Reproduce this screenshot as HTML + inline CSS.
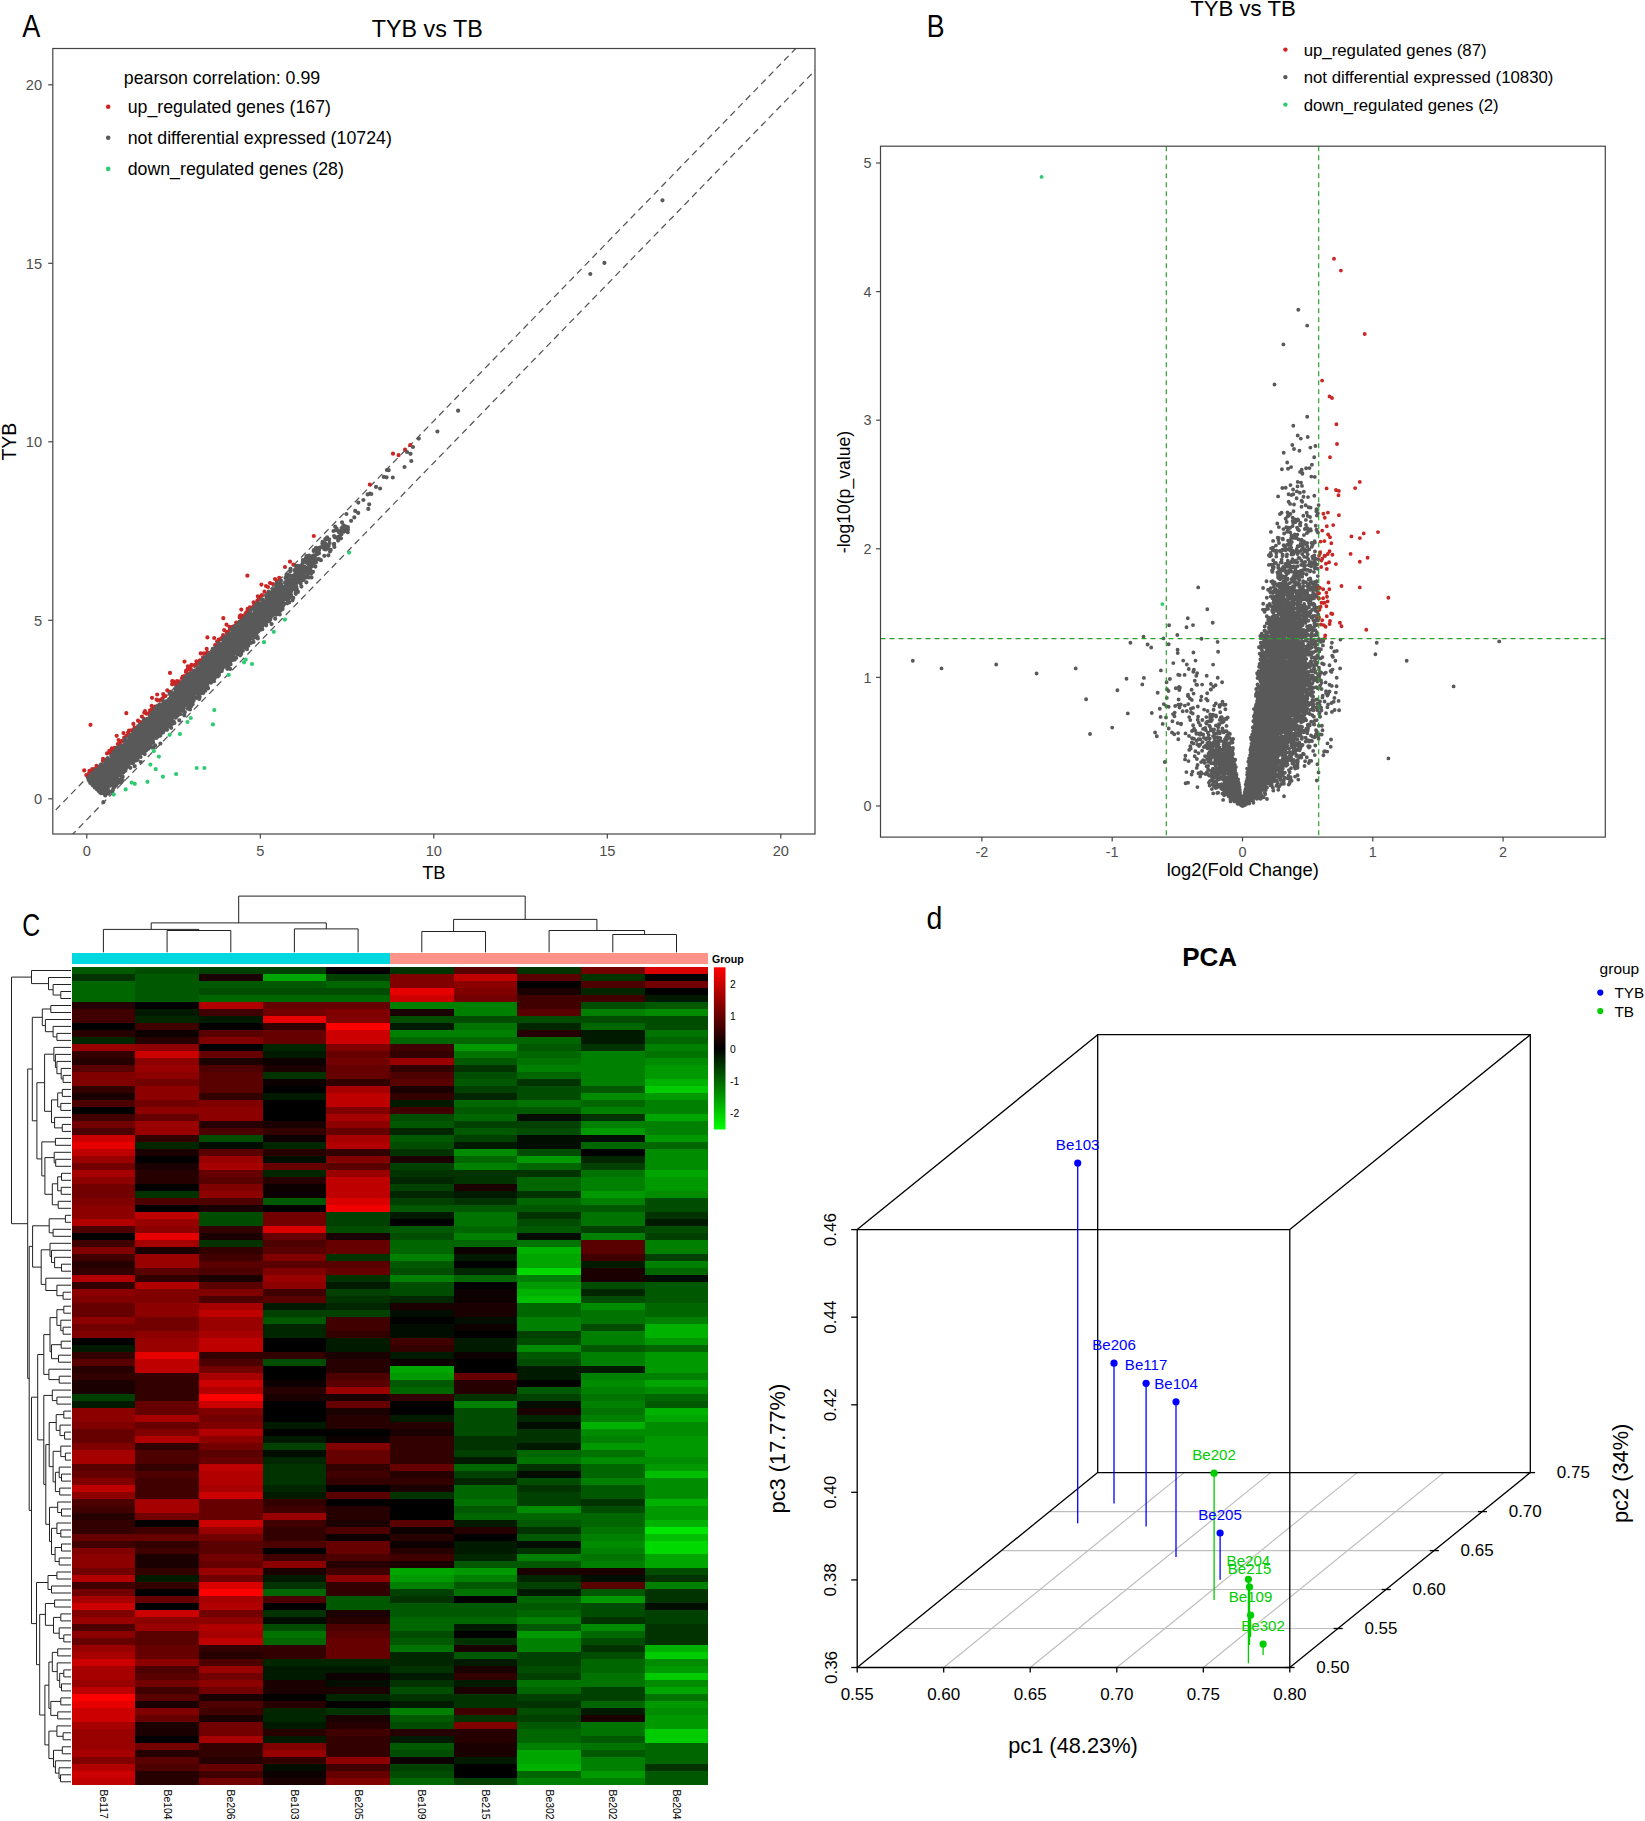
<!DOCTYPE html>
<html><head><meta charset="utf-8"><title>Figure</title><style>html,body{margin:0;padding:0;background:#fff}svg{display:block}svg text{font-family:"Liberation Sans",sans-serif}</style></head><body>
<svg width="1645" height="1821" viewBox="0 0 1645 1821" font-family="Liberation Sans, sans-serif">
<text transform="translate(22.3 36.8) scale(0.86 1)" font-size="31.5">A</text>
<text x="427.3" y="37" font-size="23.3" fill="#000" text-anchor="middle">TYB vs TB</text>
<clipPath id="ca"><rect x="52.8" y="48.5" width="762.2" height="785.5"/></clipPath>
<g clip-path="url(#ca)">
<line x1="17.4" y1="849.3" x2="884.9" y2="-43.2" stroke="#555" stroke-width="1.25" stroke-dasharray="6.5 4.5"/>
<line x1="17.4" y1="891.1" x2="884.9" y2="-1.4" stroke="#555" stroke-width="1.25" stroke-dasharray="6.5 4.5"/>
<path d="M196.9 663.1h0M241.3 609.6h0M223.1 635.1h0M123.5 733.1h0M138 720.7h0M240.1 617h0M86.3 775h0M231.5 627.2h0M227.6 631.9h0M169.4 691.9h0M140.4 722.2h0M133.4 723.9h0M131.2 730.3h0M165.3 696.1h0M174.6 684h0M184.2 676h0M261.9 595.1h0M224.2 630.1h0M196.7 663.9h0M260.8 596.3h0M124.9 738.1h0M114.7 747.8h0M194.5 665.2h0M94.3 769.1h0M93.2 771h0M177.6 683.3h0M167.3 690.4h0M247.6 608.9h0M197.6 662.2h0M177.6 683.6h0M172.1 684.3h0M129 730.7h0M84.2 770.4h0M120.4 741.9h0M206.7 648.8h0M122.3 740.9h0M152.2 710.1h0M87.5 776.8h0M233.7 626.3h0M113.7 748.8h0M134.2 728.7h0M240.8 615.3h0M177.1 684.6h0M236.2 622.6h0M199.8 660.7h0M217.1 641.4h0M103 760.8h0M182 678.3h0M173.2 681.4h0M239.7 617.4h0M150.4 711.2h0M190.8 666.6h0M96.5 765.8h0M155.3 706.7h0M141.9 716.5h0M113.4 750h0M229.4 626.8h0M151.6 705.9h0M258.9 598h0M190.9 669.6h0M191.5 664.8h0M199.6 661.2h0M206.1 653.7h0M111.9 748.3h0M163.6 696.1h0M128.3 732.8h0M152 697.8h0M103.1 758.9h0M257.9 601h0M124.2 737.5h0M204 653.3h0M139.9 722.6h0M239.7 616.4h0M200.7 653.4h0M109.2 752.5h0M236.3 623.5h0M253.8 605.1h0M246.3 612.3h0M186.8 672.8h0M112 750.3h0M118.6 740.1h0M249.9 607.3h0M184.3 676.6h0M118.8 744.6h0M243 616.2h0M200.1 660.3h0M185.9 671.9h0M153 708.5h0M156.6 699.6h0M128.1 732.7h0M92.2 769.1h0M240 615.9h0M169.6 692.3h0M182.7 676.6h0M143.7 718.6h0M218.8 639.5h0M89.4 770.9h0M152.1 709h0M91.9 771.5h0M107 753.4h0M257.4 600.7h0M203 657.4h0M162.1 698.9h0M178.8 681.4h0M241.2 618.4h0M146.7 713.7h0M187.9 666.4h0M207.3 652.4h0M149.7 712.7h0M177 681.2h0M222 637.9h0M247.7 611.8h0M113.5 749.8h0M252 607.5h0M87.2 775.9h0M219.2 639.4h0M230 629.6h0M109.4 750.8h0M160 700.2h0M230.7 628.6h0M88.5 774h0M196.4 661.3h0M226.8 632.7h0M176.9 683.3h0M215.1 645.1h0M126.6 735.8h0M116.7 735.8h0M150.1 710.3h0M117.8 744h0M145 711.2h0M254.5 604.7h0M186.1 670.7h0M144.3 712.7h0M134.6 727.7h0M253.6 602.4h0M163.2 694.1h0M257.8 596.3h0M176.8 682.3h0M179 682.5h0M245.4 614.1h0M214.2 638h0M187.6 669.7h0M157.2 694.5h0M241.2 616.5h0M157.8 700.5h0M250.1 609.4h0M264.5 591.7h0M276.8 581.1h0M279.2 577.8h0M293.4 564.7h0M261.4 584.6h0M266 586h0M270 583h0M273 584h0M275 579h0M268 587h0M285 567h0M90.5 724.8h0M126.3 713.2h0M247.4 575.7h0M223.3 618.2h0M226.5 624.7h0M207.4 637.4h0M184.5 661.6h0M170 672.9h0M172.2 681.2h0M313.8 536h0M290 561.7h0M369.8 484.5h0M393 453.7h0M398.6 455.2h0M405.1 449.7h0M410.2 445.1h0" stroke="#cb2626" stroke-width="4.2" stroke-linecap="round" fill="none"/>
<path d="M204.5 672.5h0M168.3 722.7h0M160.3 735.6h0M161.7 723.8h0M101.5 784.1h0M229.5 659.3h0M183.9 707.9h0M151.5 723.5h0M181.2 703.3h0M211.1 679.2h0M221 654.9h0M236.5 642.7h0M151 723h0M118 768h0M205 660.6h0M252.3 635.8h0M121.6 768.5h0M204 674.7h0M223.7 659.3h0M230.3 635.9h0M118.9 773.5h0M110.8 775.2h0M245 629.8h0M109.9 766.3h0M117.5 755.1h0M181.1 694.7h0M211.1 670.1h0M122.7 756.1h0M231.4 639.1h0M128.6 753.8h0M213.4 666.4h0M106.2 778.1h0M169.2 714.6h0M103.2 786.1h0M144.3 739.5h0M147.8 743.5h0M203.3 671.7h0M169.9 721.1h0M95.1 770.1h0M240.7 623.1h0M226.6 642.2h0M235.7 642.9h0M134.2 750.2h0M150.1 720h0M128.3 750.4h0M111.2 765.1h0M101.8 784.5h0M167.5 703.3h0M116 770.6h0M120.8 758.7h0M232.8 657.5h0M171 712.9h0M120.5 756.1h0M198.7 682.8h0M136.6 746.7h0M172.2 700.7h0M137.9 742.6h0M168.8 700.6h0M199.7 696.9h0M174.4 700.1h0M153 722.5h0M221.4 667.9h0M233.2 653.9h0M118.4 755.3h0M119 769.6h0M113.9 771.6h0M242.5 629.8h0M240.1 639.4h0M127.8 748.7h0M246.4 637h0M125 753h0M167.9 702.8h0M169.4 707.1h0M242.9 650.7h0M97.9 778.1h0M142.4 736.9h0M189.7 695.6h0M99.1 771.2h0M137 756.3h0M158.6 706.3h0M231.9 650.2h0M205.2 660.7h0M221.7 656.1h0M216 671.8h0M202.6 674.8h0M223.5 651.4h0M196.9 677.2h0M203.3 666.6h0M143.8 742.8h0M118.1 758.7h0M207.7 664.6h0M120.6 761.9h0M238.9 645.2h0M189.4 696.3h0M142 732.1h0M235.1 635.9h0M121 765.7h0M178.2 710.8h0M103.6 767.8h0M248.3 640.3h0M182 695.4h0M220.7 663h0M144 749.2h0M216.9 659.8h0M202.9 676.6h0M187.7 679.8h0M161.5 719.2h0M154.1 717.5h0M196.6 673.6h0M224.4 657h0M148.8 737.4h0M191.1 675h0M127.6 755.4h0M179 699.9h0M213.4 666.5h0M104.7 777.2h0M208.2 674.3h0M93.7 781.8h0M236.8 630.7h0M167.6 714.4h0M162.1 727.6h0M204.7 672.9h0M180.1 710h0M208.8 673.9h0M102.6 769h0M178.5 697.4h0M241.4 643.7h0M97.3 777.8h0M172.1 724h0M193.7 689.9h0M173.1 694.1h0M102.8 772.5h0M190.4 698.5h0M134.5 758.3h0M121 752.9h0M229.4 648.3h0M126.7 758h0M162.4 713.6h0M211.6 670.6h0M210 682.5h0M176.2 696.4h0M220.6 661.9h0M169.5 717.2h0M194.4 694h0M219.1 656.6h0M201.3 682.9h0M190.5 683.2h0M157.5 723.8h0M175.9 694.6h0M156.4 725.9h0M211 671.8h0M159.9 734.4h0M169.9 717.5h0M207.6 664.8h0M150.7 738.4h0M225.1 660.3h0M151.4 725.5h0M222.2 651.6h0M217.3 665.5h0M162.6 716h0M209.7 680.4h0M100.5 782.8h0M150.7 722h0M220.3 644.8h0M183.8 696h0M180.8 699.8h0M194.6 680.2h0M194.2 675.7h0M182 692.9h0M161.6 723.4h0M121 756.7h0M135.5 737.1h0M141.8 743.4h0M165.3 724h0M245.8 627.1h0M147 729.9h0M159.3 712.6h0M150.9 727.9h0M185.9 697.6h0M241.4 638.8h0M234.6 650.4h0M155.6 731h0M137.2 747h0M231.9 649h0M165.9 704.7h0M204 683.3h0M105.6 775.6h0M229.5 652.2h0M136.7 731.9h0M169.2 707.8h0M125.9 757.1h0M155.7 717.5h0M221.1 655.8h0M223.1 658h0M161.2 706.3h0M209.5 662.9h0M158.1 708h0M147.2 723.6h0M175.1 697.7h0M124.6 754.7h0M146.8 741.1h0M200.1 672.6h0M212.3 664.9h0M100.3 775.5h0M206.8 671.2h0M222.3 660.4h0M166.3 720.4h0M101.1 774.5h0M194.3 674.1h0M133 749.2h0M191.3 683.5h0M146.8 722.2h0M195.1 689.4h0M135 747.5h0M171.5 715.9h0M170.4 699.5h0M190.1 686.2h0M127 756.6h0M248.1 641.2h0M139.2 742h0M137.4 734.8h0M134.6 747.6h0M106 777.9h0M156.7 717.7h0M217.3 669.6h0M202.9 674.6h0M121.9 753.8h0M118 768.3h0M146.5 739.3h0M211.2 664.5h0M169.5 710.2h0M236.8 641.9h0M194.2 682.4h0M188.7 687.9h0M215.5 669.1h0M211.9 670.9h0M145.2 730.9h0M129.4 742.1h0M156.3 712.6h0M172.4 712.8h0M111.8 760.4h0M159.1 714.3h0M192.5 685.9h0M113.1 763.7h0M112.2 762h0M114.1 752.7h0M141.5 746.2h0M239.7 632.6h0M98.5 783.4h0M123.1 758.7h0M115.2 756.5h0M163.9 708.8h0M100.1 788.4h0M165.5 715.6h0M118.2 760.3h0M140.7 749.7h0M212.7 658.4h0M122.6 758.1h0M188.3 688.7h0M155.3 721.4h0M151.5 714h0M219.5 657.6h0M120.1 762.9h0M229.6 634.2h0M233.2 647.6h0M198.7 683.3h0M106.8 784.4h0M192 677.9h0M185.3 691h0M211 663h0M126.3 752.5h0M241.1 636.7h0M233.2 649.8h0M114.5 771.8h0M140.9 735.5h0M98.6 781.4h0M215.7 649.3h0M237.5 645.1h0M248 632.3h0M191.9 694.1h0M191.3 676.4h0M202.9 684.3h0M178.8 693.9h0M235.1 630.9h0M188 691.3h0M143 731.1h0M180.7 713.9h0M98.3 785.5h0M211.4 678.7h0M200.1 676.5h0M158.7 720.3h0M227.7 655.2h0M206.7 663.9h0M144.5 732.3h0M107.9 776.7h0M116.2 768h0M127.8 763.4h0M141.4 739.6h0M155 708.1h0M239.3 642.9h0M135.3 741.3h0M234.2 646.9h0M195.6 676.3h0M223.6 650.3h0M156.9 724h0M101.1 793.2h0M216.9 664.4h0M127.3 743.6h0M116.8 765.3h0M214.6 658.1h0M201.3 680.2h0M133.5 760.4h0M133.6 743h0M237.2 637.2h0M137.4 746.7h0M203.3 677.3h0M112.9 765.3h0M221.5 660.3h0M110.8 767h0M174.1 706.1h0M108.1 790.3h0M179.1 700.5h0M226.3 655.3h0M110.1 776.8h0M134.7 742h0M213.4 667.8h0M185.5 688.7h0M138.1 733.3h0M190.1 686.9h0M169.6 720.9h0M229.3 653.3h0M135.7 737.1h0M211.4 668.1h0M194.7 689.5h0M208.1 670.2h0M150.3 725.2h0M204.5 671.3h0M199 674h0M156.6 728.8h0M99.1 783.8h0M242.9 635.6h0M203.8 674.1h0M133.2 762.5h0M207.2 672.2h0M141.8 747.9h0M161 707.4h0M220.4 645h0M156.7 709.7h0M135.3 738.3h0M142.7 740.4h0M102.3 771.1h0M128.5 753h0M133.4 741.7h0M123.9 763h0M105.8 779.2h0M163.9 711.5h0M120.4 746.3h0M207.6 670.2h0M186.7 701.3h0M172 706.9h0M109 778.6h0M113.7 767.7h0M232 649h0M167.1 712.2h0M214.1 656h0M100.7 772.8h0M184.5 691.8h0M227 650h0M226.8 649.3h0M94.4 785.5h0M172.1 702.2h0M150.7 728.5h0M209 664.8h0M110.1 780.3h0M131.8 742h0M212.4 651.7h0M165.5 711.9h0M168.8 720.6h0M237.9 628.6h0M144.4 737.6h0M111.4 791.6h0M155.1 725.7h0M115.3 760.3h0M105.1 772.5h0M176.7 692.4h0M238.3 633.7h0M182.6 694.8h0M200.7 692.1h0M147.8 739.9h0M181.1 695.9h0M207.1 665.4h0M188.3 697.6h0M219.6 662.3h0M176.8 698h0M131.5 762.8h0M190.7 702.1h0M170.3 710.1h0M118.5 759.7h0M190.9 690.8h0M228 666.4h0M114.6 765.4h0M182.6 705.8h0M204.3 668.4h0M156.3 723.5h0M134.5 743.2h0M148.8 725.6h0M179.2 703.2h0M196.5 675.2h0M175.3 693.7h0M108.9 768.5h0M214.8 652.5h0M238.3 643.2h0M106.1 767.4h0M131.3 746.4h0M124.3 763.2h0M224.8 652.9h0M235.8 644.9h0M102.8 782h0M144.7 734h0M119.6 752.4h0M167.3 713.8h0M235.2 640.7h0M110.2 781.4h0M119.9 759.4h0M164.6 705.5h0M171.5 700.9h0M206.8 667.2h0M163.2 719.7h0M119.3 768.3h0M148.7 731.3h0M249.9 636.6h0M213.9 672.8h0M108.4 764.9h0M221.6 662.6h0M135.1 730.9h0M219.4 668.7h0M94.3 783.2h0M232.2 653.5h0M118.3 760.6h0M167.9 718.8h0M195.5 682.1h0M172.6 707.2h0M121 762.4h0M113.5 762.9h0M132.1 736.1h0M104.2 780.8h0M124 749.3h0M113.6 766h0M165.5 713.5h0M192.2 702.3h0M139.6 745.1h0M105.9 788.4h0M146 735.7h0M210.9 668.3h0M154.9 721.6h0M203.4 660.7h0M151.7 717.6h0M232 648.3h0M233.3 639.9h0M135.5 731.4h0M206.4 669.8h0M132.1 746.1h0M113.5 762.9h0M166.8 723.4h0M189.6 694.7h0M236.5 637.6h0M114.4 761.7h0M206.9 677.7h0M168.2 712.9h0M114.7 766.5h0M244 633.6h0M198.4 674.2h0M113.4 766.1h0M232.6 643h0M115 776h0M112.1 776.2h0M143.7 733.2h0M244 644.6h0M98 780.6h0M237.6 644.2h0M191 693.3h0M101.9 773.8h0M183.9 699.5h0M167.7 717.6h0M183.2 700.3h0M207.1 670.1h0M255.1 637.3h0M118.1 762.2h0M219.8 659.3h0M153.6 718.3h0M215.8 664.4h0M240.2 655.3h0M241.6 625h0M138.9 749h0M163.8 715.5h0M244 643h0M243.4 641.5h0M153.1 729.8h0M235.3 635h0M153.3 719.5h0M153.8 729.9h0M208.4 665.4h0M167.8 713.8h0M162.5 715.6h0M152.8 725.3h0M158.2 716.1h0M117.8 767.2h0M103.9 777.8h0M209.1 666.9h0M180.4 697.3h0M200.2 683.7h0M211 653.5h0M131.1 752.3h0M127.1 747.1h0M136 742.2h0M136.2 734.2h0M219 675h0M143.9 719.9h0M144.5 736.6h0M196.4 691h0M122.2 756.9h0M199.3 674.8h0M214.9 672h0M141.3 741.8h0M186.8 681.3h0M104.5 786.9h0M156.8 723.7h0M184 696.7h0M148.6 733h0M182.9 685.5h0M187.2 696.2h0M120.7 765.6h0M198.9 671.4h0M104 771.9h0M249.5 640.2h0M122.8 752.5h0M130.6 744.4h0M127.1 757.6h0M245.6 629.3h0M137.1 740.6h0M188.9 693.1h0M248.5 632.5h0M242.6 639.3h0M101.5 781.3h0M179.1 709.6h0M186.6 692h0M207.5 681.6h0M145.4 733.6h0M144.8 735.4h0M98.5 790.2h0M96.3 778.1h0M171.4 692.6h0M100.8 769.9h0M130.2 760.2h0M140.6 729.4h0M104.1 775h0M99 782.3h0M238.7 642.6h0M161 718.2h0M120.4 749.3h0M200.9 672.9h0M97 787.1h0M134.2 750.8h0M243.3 636.6h0M229.9 642.8h0M184.9 679.3h0M112.3 776.3h0M142.9 736.7h0M99.8 784h0M130.5 755.2h0M96.5 781.4h0M111.4 764.9h0M196.6 692.2h0M113.3 775h0M113.6 757.8h0M231.6 643h0M143.7 731.9h0M147.1 736.2h0M108.8 774.7h0M214.7 659.3h0M199.9 681.9h0M182.3 704.7h0M189 689.2h0M106.1 767.7h0M137.9 749.7h0M179.9 690.6h0M237.8 633.7h0M222.8 661h0M192.5 685.6h0M173.9 705.1h0M94 782.2h0M228.5 643.6h0M109.1 781.4h0M118.9 771.7h0M196.8 673.4h0M218.5 658.1h0M213.4 661h0M162.4 714.2h0M115.6 753.1h0M103.9 786h0M220.9 648.2h0M247.4 635.5h0M128.9 745.6h0M222.2 644.9h0M161 728.6h0M140.4 736.2h0M172.7 708.1h0M96.4 786.8h0M161.9 716.8h0M128.6 759.4h0M207.1 678h0M168.9 705h0M224.5 646.4h0M234 647.3h0M148.1 742.4h0M234.3 634.3h0M170.2 705.9h0M112.7 775.6h0M103.2 781.9h0M245.4 629.4h0M186.6 699h0M96.5 772.3h0M172.1 705.6h0M170.1 705.8h0M164.8 722h0M243.6 640h0M242.8 639.9h0M112.2 766.2h0M118.3 764h0M157.7 723.6h0M221.1 653.9h0M189.1 687.5h0M200.8 665.9h0M183.3 696.6h0M130.1 757.6h0M219.8 657.7h0M90.8 779.2h0M203.4 678.6h0M123.7 756.1h0M167.8 713.8h0M242.5 631.2h0M176 700.8h0M105.8 781h0M160.8 720h0M192.1 679h0M98.7 773.9h0M129.5 743.5h0M93.7 780.8h0M178.3 702.8h0M154 728h0M168.1 703.8h0M143.8 744.6h0M195.2 683.3h0M127.5 766.6h0M234.8 645h0M244.2 637.8h0M174.2 713.5h0M163.5 711.2h0M228.9 653.8h0M139.9 742.5h0M218.4 660.9h0M140.9 744.3h0M199.5 667.7h0M147.2 736h0M185.9 690.9h0M241.1 645.5h0M104.1 780.2h0M219.3 660.5h0M178.5 702.4h0M154.4 729.2h0M147.4 731h0M99 770.1h0M134.2 746.6h0M190.3 688.9h0M110.5 773h0M236 628.7h0M242.8 629.8h0M228.1 643.7h0M220.6 662.1h0M121.9 759.4h0M242.4 632.7h0M124.8 754.5h0M230.8 652.7h0M231.8 651.1h0M187.7 686.7h0M173 703.3h0M132.6 763.2h0M173.5 704.5h0M134.1 736.2h0M115.7 769.5h0M112.9 765.8h0M222.5 665.7h0M232.8 637.9h0M119.9 768.7h0M100.6 789.6h0M135.7 746.5h0M125.3 759.4h0M188.3 699.5h0M157.3 718.4h0M159.2 718.2h0M119.6 748.2h0M200.8 686.6h0M144.4 747.2h0M156.5 725h0M163.9 712.2h0M231.7 642.6h0M127.9 743.9h0M210 678.9h0M144.6 741.1h0M232 646h0M151.5 721.5h0M169.9 705.3h0M230.4 649.8h0M201.2 684.4h0M105.3 768.7h0M111.6 761.7h0M99.1 783h0M134.3 733.3h0M245.9 639.9h0M98.3 786.6h0M121.3 764h0M128.5 755h0M110.5 776.6h0M168.6 714.4h0M185.3 693.5h0M144.6 738.3h0M108.3 767.3h0M219 659h0M217.7 659.7h0M175 692.5h0M114 764h0M176.8 700.7h0M190.9 687.5h0M159.6 719h0M224.7 648.2h0M156.9 728.3h0M168.4 701.9h0M105.8 763h0M176.4 693.5h0M213.6 667.6h0M212.3 677.3h0M135.1 748h0M245.9 629.5h0M201.7 670h0M159.8 720.6h0M158.9 722.5h0M208.3 658h0M123.5 761.7h0M188.5 681.8h0M201.2 669.9h0M178.3 710.3h0M227.2 647.8h0M168.1 714.9h0M169 717h0M144.5 748.9h0M241.1 647.4h0M141.1 735.4h0M202.3 678.5h0M156 721.2h0M241.7 643h0M240.9 638.2h0M99.6 783.2h0M252.5 635.5h0M193.1 697.5h0M103.8 773.6h0M169.9 707.8h0M105 782.6h0M178.8 700.5h0M120.1 755.1h0M143.9 721.9h0M144.1 742.1h0M184.3 689.4h0M212.7 648.9h0M237.7 638.6h0M139.2 729.4h0M191 706.6h0M89.6 780.6h0M151.3 728.1h0M248.6 642.1h0M109.4 765.2h0M223.9 645.4h0M189.9 679.2h0M134.8 736h0M213.8 664h0M141.2 744h0M233.3 647.2h0M106.9 774h0M110.8 766.6h0M211.1 670.1h0M162.9 715.7h0M113.5 760.3h0M171.8 704.5h0M212.5 673.7h0M227.8 653.6h0M107.9 782.5h0M189.3 697.7h0M243.2 629.3h0M168.3 718h0M216.2 669.2h0M110 772.6h0M225.4 645.8h0M184.8 696.2h0M231.9 647.8h0M211.7 659h0M225.9 647.7h0M101.2 776.2h0M200.5 670.2h0M128 759.6h0M134.1 744.1h0M146.3 738h0M181.2 689.6h0M187.5 684.6h0M241 643.6h0M91.1 779.9h0M128 760.8h0M145.4 725.3h0M219 656.8h0M181.8 703.3h0M176.8 710.2h0M212 667.9h0M194.8 683.4h0M141.2 743.8h0M105.3 771.1h0M170.2 719.1h0M229.3 647.8h0M186 692.4h0M109.1 785.6h0M160.5 716.2h0M157.8 730.9h0M192.7 704.3h0M186.5 696.4h0M241.1 637.4h0M142.7 730.1h0M158.5 724.3h0M182.9 684.4h0M225 641.3h0M198.6 671.1h0M161.5 707.5h0M218 656.8h0M170.7 712.3h0M239.8 632.1h0M133.9 738.6h0M112.7 765.9h0M222.6 656.6h0M145.5 745.9h0M221.8 650.4h0M186.4 689.2h0M177 711.4h0M107 772.8h0M212.2 659.9h0M104.6 776.9h0M239.5 631.4h0M226.1 645.4h0M146 744.6h0M114.8 767.9h0M228.4 645.1h0M164.4 707.6h0M108 761.9h0M177.7 715.4h0M132.2 748.2h0M154.1 719.7h0M187.9 681.1h0M228.5 635.8h0M220.6 663.8h0M120.1 762.9h0M171.3 715.5h0M166.6 706.1h0M251 635.5h0M103 768.7h0M169.1 702.6h0M232.8 640.5h0M163.3 732.1h0M136.8 748.1h0M176.7 696.2h0M148.5 741.7h0M237.4 641.2h0M107.4 773.9h0M122.5 750.9h0M105.9 772.6h0M202.4 673.3h0M140.7 742.3h0M232.4 644.6h0M231.9 646.1h0M235.3 636.1h0M134.1 747.1h0M90.3 782.9h0M159.9 732.1h0M237.6 630.2h0M212.1 666.8h0M99 773.2h0M201.7 675.5h0M231.9 638.7h0M237.3 628.3h0M206.1 675.8h0M226.4 650.2h0M224 654.5h0M148.3 729.5h0M115.2 777.4h0M206.5 672.6h0M116 766.3h0M156 729.2h0M247.8 630.2h0M185.8 704.3h0M169.1 699.1h0M238.1 635.4h0M130.8 734.9h0M250.9 632.2h0M238.5 647.2h0M148.9 728.3h0M150.5 741.5h0M112.7 766.1h0M237.4 644.8h0M123.8 758.8h0M94.5 784.6h0M230.7 646h0M179.1 685.3h0M195 678.3h0M211.5 675.9h0M97 776.5h0M113.1 777.5h0M170.6 707.6h0M106.4 783.8h0M174.6 710.4h0M202.4 665.5h0M197.2 685.1h0M191.2 691.9h0M103.3 781.8h0M131.6 750.7h0M226.7 639.6h0M117.3 772h0M180.6 707.3h0M99.6 776.9h0M244.3 644.5h0M121.8 761.2h0M152.9 717.8h0M178.1 700.5h0M206.3 675.2h0M240.8 641.4h0M210.6 674h0M149.6 734.3h0M105.1 774.6h0M198.2 670.4h0M240 629.5h0M98.8 786.5h0M215.9 667.3h0M118.6 756.5h0M171.5 721.1h0M176 706h0M189.7 691.1h0M250.3 634.7h0M203.4 682.1h0M153.1 723.6h0M210.1 680.2h0M169.2 716.7h0M160 724.2h0M150 728.9h0M175 714.2h0M133.3 738.5h0M132.5 749.9h0M117.9 764.6h0M163.1 718.8h0M141.7 743.2h0M226.4 658.4h0M220.2 648.6h0M146.2 731.9h0M189.7 689.6h0M229.2 640.6h0M152 733h0M177.1 697h0M162.2 716.8h0M197.4 687.6h0M238.9 632.4h0M121 770.8h0M240.2 632h0M199.8 685.2h0M215 659.7h0M186.7 681.4h0M225.9 647.3h0M146.5 737.8h0M203.1 675.2h0M136.1 746.7h0M176.7 711.1h0M203 683.5h0M124.9 755.1h0M101.6 775.4h0M222.3 668.7h0M218.8 659.5h0M194.7 679.9h0M143.2 735.9h0M199.1 686.8h0M103.3 770h0M200.5 687h0M180.4 693.6h0M183.2 683.5h0M170.4 724.2h0M127.9 750.6h0M204.7 671.2h0M164.7 712.9h0M211.6 672.2h0M151.4 730.8h0M112.9 778.6h0M177.1 700.9h0M188 686.7h0M238.4 643.9h0M234.1 650.3h0M104.8 779.9h0M212.9 665.2h0M134.2 745.6h0M201.8 677.3h0M152.3 726.9h0M148.6 741.2h0M179.3 720.3h0M173.6 701h0M195.8 672h0M197.5 691.7h0M201 682.4h0M152.2 725.3h0M194.9 676.5h0M145 730.1h0M183 686.3h0M165.1 714.7h0M179.3 696.6h0M95.5 782.9h0M172.5 710h0M123.7 747.9h0M151.3 723.8h0M102 771.9h0M196.7 684.8h0M227.9 642h0M152.6 735.1h0M109 769.1h0M199.2 698.9h0M117.5 770.9h0M228.6 643.4h0M114.8 769.5h0M149.3 729.3h0M176.2 715.1h0M106.7 762.8h0M141.1 734.6h0M136.7 743.8h0M202.4 672.8h0M244.7 630h0M144.9 724.5h0M215.1 661.4h0M121.2 770.6h0M184.4 696.5h0M156.1 714h0M136.5 739.5h0M222.1 658.8h0M206.8 666.9h0M114.5 765.6h0M137 738.7h0M226.1 663.6h0M250.1 633.6h0M185.9 688h0M229.1 650.2h0M244.3 630.2h0M201 662.8h0M194.5 686.4h0M127.4 751.3h0M153.3 730.7h0M192.4 691h0M237 641h0M146 744.9h0M162.7 732.6h0M92.7 778.6h0M201.8 677.4h0M158.4 712.9h0M216.5 660.6h0M129.7 749.7h0M193.2 680.4h0M195.1 678.1h0M170 718.3h0M118.9 752.9h0M159.8 727.1h0M208.1 668.6h0M107.8 772.7h0M159.3 707.8h0M131.6 751.4h0M215.1 658.3h0M219.7 657.8h0M238.1 636.2h0M226.5 657.6h0M197.2 688.3h0M121.8 756.4h0M226.5 662.9h0M209.3 675.2h0M206.8 666.7h0M203.7 679.2h0M225.1 659.3h0M144.1 744.3h0M197.1 680.3h0M175.1 706.8h0M145.7 733.2h0M145.2 736.2h0M111.4 755.7h0M171.4 711.1h0M158.1 736.2h0M158.7 720.1h0M225.2 652.5h0M198.5 678.8h0M204.7 685.6h0M241.4 627.3h0M127.9 752.9h0M172.5 707.1h0M114.3 778.5h0M152.9 723.3h0M240.6 637.2h0M102.6 768.6h0M212.3 668.9h0M231.8 655h0M172 706.2h0M220.2 664.5h0M160.6 715.9h0M152.5 735.4h0M172.5 707.7h0M125 757.3h0M141.7 738.7h0M143.1 740.8h0M249.2 633.9h0M146 734.4h0M131.6 753.2h0M238.2 638h0M116.6 766.3h0M250.9 642.9h0M225.7 652.5h0M188.7 679.7h0M158.9 718.4h0M122.4 753.8h0M109 768.7h0M111.9 772.6h0M152.8 737h0M153.9 719.8h0M232.5 637.2h0M174.7 700.3h0M245 629h0M203.7 671.7h0M116.9 764.2h0M178.4 698.6h0M118.7 762h0M99.1 779.8h0M242.8 641.5h0M148.5 736.1h0M121.4 755.1h0M111.1 772.4h0M203.2 693.1h0M164.7 713.8h0M104.3 793.8h0M197.3 667h0M131.1 744h0M211.8 661.3h0M171.8 712.4h0M180.7 706.7h0M165.3 715.7h0M198.1 680.2h0M249.2 633.5h0M216.3 660.4h0M102.4 773.7h0M168.2 706.7h0M134 754h0M117.8 779h0M124.3 756.3h0M134.8 750.4h0M240.2 633.8h0M202.9 663.3h0M219.5 646.2h0M200.7 675.6h0M138.8 733.2h0M148.5 719.3h0M161.8 717.3h0M138.4 739.8h0M156 717.4h0M212.9 665.3h0M107.7 777h0M139.4 746.2h0M167.9 711.4h0M200.4 682.5h0M190.7 682.1h0M206.9 673.7h0M105.2 765.1h0M117.7 754.1h0M146.1 742.8h0M133.7 738.6h0M211.8 669.1h0M242 625h0M197.4 677.2h0M99.5 782.1h0M137.6 737.6h0M219.6 662.2h0M235.1 639.7h0M184.3 691.6h0M148.3 732.5h0M147.4 729.6h0M195.1 690.6h0M225.1 648.4h0M150.9 737.7h0M121.3 754.7h0M92.9 785h0M112.8 762.8h0M227 654.5h0M247.3 631.3h0M104.3 775.6h0M153.1 732h0M211.4 656h0M197.5 684.2h0M100.9 772.9h0M159.2 727h0M191.1 685.1h0M201.2 679.7h0M160.3 712.2h0M124.1 758.4h0M245.7 637.5h0M164.2 711.6h0M208.6 678h0M179.7 706h0M103.8 771.5h0M137.1 756.4h0M101.1 774.3h0M124.9 758.3h0M128.1 758.7h0M157 720.5h0M141.3 733.9h0M151.9 731.8h0M220.3 658.5h0M94.6 780.7h0M107.3 767.9h0M218.4 659.5h0M178.9 705.4h0M164.9 721h0M137.3 746.9h0M175 698.8h0M126.1 749.9h0M224.9 650.1h0M215.8 651.6h0M144.6 737.2h0M99.2 784.5h0M231.9 648h0M133.2 732.8h0M202.3 690.6h0M224.9 650.2h0M215.2 659.1h0M226.4 650.3h0M219.4 649.5h0M162.2 711.2h0M137.7 748.5h0M166.2 709.1h0M146.9 735.3h0M211.8 665.5h0M221.2 654.7h0M117.4 766.4h0M117.1 758.6h0M147.3 720.4h0M161.6 709.9h0M240.2 634.9h0M245.6 645h0M238.8 630.1h0M202.4 667.6h0M198.8 680.5h0M137.2 745.9h0M149 725.6h0M97.2 789.4h0M219.2 652.3h0M140.2 747.1h0M109.4 777.7h0M142.4 736.9h0M148.8 741h0M205.3 672.4h0M93 784.1h0M133.9 755.3h0M228.5 641.8h0M227.3 653.7h0M188.7 685.4h0M179.1 697.7h0M129.8 753.3h0M230.3 650.4h0M216.9 672.7h0M175.2 708.3h0M121.4 764.2h0M121.4 746.8h0M148.7 723.2h0M149.6 739.4h0M100.5 774.3h0M155.6 721.8h0M164.3 717.3h0M136.5 739.8h0M150.2 723.2h0M147 736.4h0M152.8 728.3h0M188.5 688.4h0M173.8 711.8h0M123.7 755h0M216.5 661.4h0M175.2 708.1h0M167.3 717.4h0M202.5 672.9h0M206.5 664.8h0M223.3 651.4h0M221.6 661.6h0M194.2 678.4h0M204.2 672.2h0M116 759.9h0M197.4 672.1h0M136.2 749.9h0M134 746.6h0M114.5 770h0M158 727.2h0M90 776.5h0M191.6 679.6h0M215.1 674.9h0M211.7 662.7h0M115.7 768.5h0M188.5 681.3h0M222.5 654h0M100.1 781.8h0M123.1 755.8h0M133.7 743.1h0M164.8 713.7h0M121.2 760.4h0M177.2 702.1h0M145 730.6h0M198.6 687.3h0M175.6 702.8h0M199.8 678.7h0M133.5 749.6h0M200 672.4h0M211.3 675.3h0M206.2 674h0M107.4 779.1h0M237.5 635.3h0M184.2 697.3h0M135.6 743.6h0M159.3 716.8h0M179 710.7h0M171.9 703.3h0M134.6 750.3h0M135.5 745.9h0M150.2 729.7h0M211.1 660.4h0M158.6 715h0M93.7 774.4h0M162.8 714.7h0M126.5 756.7h0M97.6 786.7h0M241.8 630h0M133.5 734.6h0M175.4 700.6h0M151 732.3h0M101.2 777.4h0M231.5 643.4h0M237.6 638.7h0M125.2 760h0M167 729.8h0M153.2 729.7h0M116 756.6h0M194.9 681.4h0M221.8 671.1h0M210.7 666.7h0M204.1 686.7h0M89.7 776.9h0M128.5 749.8h0M177.2 709.8h0M199.2 672.8h0M156 728.5h0M161 713.8h0M223.1 653.8h0M101.6 787.3h0M132.9 742h0M143.1 745.8h0M241.9 625h0M128.7 750.6h0M104.7 783.1h0M164.2 727.5h0M188.1 678.3h0M112.4 757.4h0M227.4 658.5h0M118.4 749.9h0M201.6 674.9h0M119.6 762h0M229.8 647.7h0M125.8 756h0M201.4 666h0M222.3 653.7h0M139.5 753.1h0M100.9 764.7h0M180.9 691h0M174.4 711.8h0M168.8 712.3h0M217.2 666.5h0M164.9 713.4h0M168.9 706.8h0M168 708.9h0M165.9 717.1h0M159.1 725.5h0M115.7 758.4h0M139.7 740.5h0M134.9 750.5h0M211.5 660.2h0M111.3 768.6h0M128.1 757.1h0M170.1 698.7h0M141.5 737h0M133.9 752.1h0M152.4 728.9h0M167.5 703.8h0M201.8 684.6h0M238.6 628.1h0M222.6 649.5h0M161 719.8h0M158.6 710.5h0M151.7 714.8h0M128.6 746.9h0M239.6 635.7h0M98 769.4h0M120.2 749.1h0M198.9 685.5h0M185.3 694.3h0M137.5 743.5h0M239.4 640.1h0M162.1 727.5h0M182.4 689.3h0M107.6 772.1h0M230.5 645.6h0M104.8 765.5h0M156.5 726.6h0M230.2 647h0M238.2 636.4h0M234.4 645.4h0M221.5 656.4h0M127.1 747.2h0M98.8 781.8h0M158.7 710.6h0M106.3 779.6h0M240.9 634.2h0M100.2 790.7h0M144.4 735.8h0M127.6 757.2h0M91.2 779.8h0M168 705.2h0M103.8 773h0M225.8 637.9h0M194.6 672.9h0M148.3 725.7h0M225.7 656.2h0M221.5 666h0M144.2 735.3h0M225.4 654.1h0M239.1 642.2h0M190.2 689.9h0M153.8 737.2h0M227.1 639h0M242.9 641.8h0M149.7 734.3h0M105.2 771.1h0M233 655.5h0M192.9 678.4h0M126.3 746.8h0M182.2 698.3h0M145.1 742h0M236.9 643.2h0M153 739.4h0M119.2 750.8h0M100.4 779.8h0M149.2 735.3h0M249.2 633.6h0M125.5 750.2h0M159 709h0M247.8 637.7h0M97 787.9h0M145.5 746.6h0M217.8 654.5h0M108.1 771.1h0M222.6 655.3h0M117.4 765.8h0M187.5 695.7h0M176.3 695.9h0M206.3 683h0M138.4 735.6h0M152.1 725.2h0M132.7 750.6h0M142 744h0M117.2 755.2h0M226.4 637h0M231.9 648.1h0M147.4 728h0M194.3 670.9h0M171.5 711.6h0M138 743.4h0M152 736h0M242.8 634.7h0M146.7 733.1h0M184.3 696.8h0M241.8 640.1h0M145.3 745.5h0M223 663.8h0M114.9 772.4h0M204.4 668.5h0M219.7 661.1h0M225.7 657.5h0M241.5 630.2h0M201.2 672.4h0M246.8 635h0M138.9 745.1h0M171.7 701.9h0M125.5 751.7h0M109.7 776.7h0M160.5 716.5h0M204.6 673.1h0M209.6 659.7h0M99.6 787.3h0M235.6 634.6h0M130.4 746.2h0M142.4 744.3h0M218.1 651.3h0M228.1 642.1h0M211.8 675.2h0M138 727h0M169.1 717.8h0M225.5 658.2h0M150 731.5h0M215 656.7h0M212.1 661h0M166.3 713.1h0M226.9 640h0M151.6 724.5h0M204.2 663.1h0M144.1 733.7h0M184.8 712.2h0M188.7 692.7h0M180.3 705.9h0M110.6 769h0M246 629.7h0M246.9 638.5h0M103.8 785.2h0M240 638.5h0M176.3 703.5h0M122.6 776.6h0M216.6 653.5h0M160.4 718.3h0M203.6 674.1h0M220 654.9h0M180.3 705.5h0M101.7 779.2h0M216.6 652.9h0M196.7 673.1h0M232.2 641.2h0M136.4 745.2h0M217.6 665.7h0M223.4 643.9h0M146.6 728.7h0M158.5 723.5h0M153.1 742.1h0M97.9 789.2h0M136.5 757.4h0M140.4 729.8h0M109.9 769h0M214.3 668.5h0M160.5 720.4h0M133.2 737.3h0M154.2 734.9h0M210.2 668.2h0M170.6 717.1h0M191.9 699h0M158.3 719.3h0M226.2 639.1h0M134.9 744.4h0M175.1 706.2h0M198.8 677.4h0M103.5 769.2h0M247.1 640.2h0M177.4 715h0M124.7 741h0M209.8 665.5h0M213.4 651.8h0M190 686.2h0M229.3 636.4h0M109.8 775.1h0M173.2 701.5h0M202.4 663.5h0M231.1 638h0M194.2 687.1h0M183.2 688.2h0M156 728h0M187 701.8h0M177.3 697.1h0M227.9 638.4h0M217.9 652.8h0M211.9 675h0M232.7 637.4h0M101.6 773.8h0M213.9 666.9h0M174.4 723h0M205.7 664.1h0M136.2 736.6h0M163.9 711h0M227.1 663h0M104.8 786.9h0M134.9 736.9h0M166 706.5h0M223 650.3h0M136.3 745.1h0M219 655.2h0M133.5 750.2h0M141.7 740.1h0M182.3 702.6h0M193.5 682.4h0M230.7 649.3h0M225.6 644.1h0M129.7 744.5h0M211.5 672h0M184.7 679.4h0M157.4 730.1h0M211.5 662.4h0M227.9 640.8h0M162.8 706.2h0M242.9 650.4h0M109.8 762.8h0M114.9 755.9h0M206 660.5h0M149.2 747h0M186.4 696.9h0M170.7 708.6h0M118 765.5h0M204.9 662.4h0M210.4 672.2h0M111.7 759.2h0M131.8 743.6h0M222.4 665.8h0M237.8 646.4h0M229.4 651h0M170.7 707.1h0M146.7 724.9h0M163 717.1h0M117.6 755.5h0M176 714.4h0M140.8 762h0M120.1 762.5h0M150.7 724.9h0M105.1 778.1h0M170 716.3h0M199.3 675.1h0M186.8 676.4h0M244.2 633h0M232.8 649.5h0M194.5 689.9h0M224.6 637.3h0M162.4 716.7h0M214.4 658.1h0M133.1 737.2h0M170.9 699.4h0M248 635.4h0M182.4 688.5h0M168.7 703.5h0M213.1 660.4h0M138.2 733.6h0M223.8 657.6h0M97 784.2h0M132.5 751.2h0M118.3 755.9h0M135.9 748.6h0M237.8 635.8h0M101.7 787.3h0M140.3 740.1h0M183.6 697.4h0M202.4 676.1h0M212.4 664h0M153.5 726.9h0M128.6 752.9h0M232.7 660h0M108.6 763.3h0M106.2 778.9h0M130.4 751.2h0M172.7 712.1h0M235 634h0M209.3 675h0M178.7 695.7h0M169.6 699.9h0M194.4 670.9h0M185.8 683.2h0M143.3 731.3h0M112.6 776.8h0M120 750.1h0M209.8 658.5h0M188.3 683.3h0M213.5 657.7h0M100.5 779.5h0M234.3 646.3h0M148.6 722.2h0M231.5 635.5h0M189.2 696.8h0M174.6 696.8h0M218.7 656.5h0M186.7 684.5h0M196.6 679.1h0M114 757.6h0M183 687.3h0M145.4 727h0M110.6 780.1h0M111.3 762.6h0M167.4 710.7h0M138.4 749.6h0M208.9 663.1h0M117.8 772.7h0M92.7 781.2h0M240.8 622.6h0M143.8 739.2h0M168.8 702.6h0M124.5 751.8h0M123.5 751.3h0M160.7 728.3h0M213 659.5h0M99.3 780.1h0M219.8 651.5h0M246 630.1h0M175.7 694.2h0M148.2 728.8h0M127.3 747.2h0M116.9 752.6h0M142.9 734.9h0M221.1 648.3h0M93.5 785.4h0M212.7 660.5h0M198.4 683.2h0M93.9 780.8h0M100 771.1h0M207.1 670.8h0M194.4 677.3h0M140.4 735.5h0M230.3 654.7h0M124.8 752.2h0M154.6 714.2h0M113.3 770.4h0M199.6 691.4h0M106.4 772.2h0M123.8 760.8h0M204.6 658.3h0M170.8 707.8h0M195.6 682.1h0M208.9 673h0M186.1 689.8h0M126.3 757.6h0M204.5 679.7h0M111.8 768.6h0M138.2 747.1h0M157.8 710.9h0M115.7 773h0M110.3 770.2h0M196.6 686.1h0M212.9 674.6h0M144.7 721.8h0M161.4 733h0M120.4 748.4h0M179.1 709.5h0M182.7 694.6h0M107.8 788.3h0M238.5 648.2h0M241.3 625.1h0M146.4 731.3h0M207.4 674h0M220.7 656.4h0M197.4 687.4h0M137.7 740.6h0M184.1 682.6h0M230 649.5h0M109.7 769.3h0M163.2 706.3h0M90 775.6h0M225.8 655.3h0M212.4 662.5h0M102.9 781.5h0M210.8 671.2h0M201.6 678.8h0M115.5 769.1h0M180.8 710.2h0M207 685.2h0M148 736.4h0M170.8 706.5h0M239.4 627.8h0M193.4 688.2h0M171.6 707.9h0M101.5 773.8h0M109.7 764.8h0M225 652.6h0M208.1 669.5h0M215.3 647.6h0M183.9 696.5h0M184.1 697.5h0M181.3 708.9h0M205.2 668.8h0M145.5 735.5h0M163.2 701h0M167.2 713.7h0M192.5 679h0M123.6 749h0M91.6 776.5h0M112.2 777.6h0M115.6 752.5h0M225.5 651.1h0M204.4 673.7h0M210.2 669.3h0M163.5 717.9h0M110.8 771.7h0M173.8 721.9h0M224.6 648.3h0M171.8 705.9h0M194.4 690.3h0M151.5 727.8h0M188.7 686.2h0M169.7 711.5h0M140.7 725.6h0M136.4 748.8h0M201.3 677.2h0M144.7 738.5h0M183.2 696.5h0M131 742.9h0M207.5 665.4h0M154.1 730.1h0M167.8 711.5h0M236.1 639.7h0M205.7 674.6h0M207.1 670.4h0M148.6 735.7h0M225.6 656.6h0M152.9 725.5h0M249.5 634.3h0M230 643.5h0M195.8 683.2h0M225 658.7h0M179.7 703h0M208.2 672.6h0M113.6 767.6h0M245.3 629.9h0M217.6 660.9h0M118.8 767.4h0M125.9 743h0M178.9 692.4h0M210.6 665.7h0M113.2 759.6h0M240.3 633.6h0M147.9 733h0M246.4 629h0M164.8 706.2h0M145.8 725.5h0M110.1 772.9h0M105.1 770.6h0M211.2 662.8h0M229.4 639.2h0M145.4 724.3h0M235.6 636h0M133.7 733.9h0M237.4 637.2h0M233.2 639.6h0M119.9 764.6h0M200.9 674.3h0M201.4 675.2h0M218 648.6h0M178.1 703.7h0M171.7 706.6h0M153.1 731.6h0M226.7 649.8h0M233.7 645.7h0M116.5 759.3h0M213 665.1h0M138.3 745.4h0M123.1 758.7h0M124.6 756h0M183.8 698h0M133.4 739h0M128.6 745.9h0M108.4 770.6h0M148 739.8h0M210.9 662.4h0M101.7 788.1h0M167.3 709.7h0M186.3 691.2h0M103.6 781.1h0M142 743.3h0M235.7 646h0M239.3 621.9h0M225.5 653.2h0M120.6 760.7h0M207.8 662.3h0M161.6 713.9h0M116.2 755.8h0M172.2 715.2h0M239.6 644.8h0M154.2 725h0M104.6 777.8h0M231.7 643.7h0M241.9 627.1h0M176.7 710.3h0M127.4 750.1h0M177.5 700.8h0M198.4 674.1h0M167.3 709.8h0M149.9 732.9h0M135 750.8h0M148.2 748.8h0M98 775.2h0M138.3 751.8h0M241.8 637.5h0M89.1 779.3h0M207.1 673.2h0M212.9 659.7h0M156.8 723.5h0M182.8 690h0M127.7 751.7h0M198.3 683h0M197.8 669.8h0M207.7 671.5h0M174.2 713.9h0M244.2 634.5h0M225.1 647.7h0M185.8 700.3h0M195.9 675.9h0M133.3 740.5h0M231.3 629.7h0M195.3 687.1h0M229 642.8h0M144.2 747.3h0M246.3 632.9h0M109.6 769.7h0M173.9 701.4h0M111 769.5h0M123.3 757.1h0M213.5 668.2h0M105.6 777.9h0M151.6 725.1h0M121.3 754.4h0M222.2 649.9h0M102.9 770h0M141.3 729.1h0M231.9 658h0M201.3 680h0M202.5 676.1h0M248.5 632.4h0M93.7 779.2h0M193.3 678.8h0M208.7 669.3h0M208.4 668h0M199.1 669.2h0M106.2 776.6h0M107.8 774.6h0M209.4 661.2h0M186.2 688.3h0M129.1 740h0M93.9 783.9h0M173.1 699.6h0M109.7 774.4h0M212.2 671.8h0M146.2 732.9h0M227.4 668.8h0M107 770.1h0M166.3 705h0M108.9 770.7h0M214.6 664.1h0M176 694.2h0M130 749.8h0M238.3 630.9h0M142.9 730.9h0M221.9 648h0M150.5 724.8h0M237.8 636.8h0M138.5 738.7h0M244.9 630.8h0M99.6 772.9h0M212.5 676.5h0M139.6 741.6h0M156.6 717.3h0M194.6 689.2h0M101.2 779.9h0M130.7 753.9h0M108.2 768.7h0M204.4 666.6h0M122.6 746.4h0M168.6 706.1h0M146.9 737.4h0M129.2 748.5h0M235.5 636.8h0M166.8 701.3h0M201.5 691.7h0M200.8 674h0M226.6 663.6h0M131.7 742.5h0M104.3 772.7h0M163.9 711h0M116.8 756.6h0M95.6 782.1h0M237.5 643.7h0M188.9 686.4h0M153.2 716.8h0M115.2 765.6h0M210.7 666.2h0M180.1 706.9h0M116.5 754.9h0M246.6 633.2h0M242.6 639.1h0M237.9 641.8h0M224 659.2h0M176.4 703.6h0M135.5 734.5h0M191.2 680.8h0M112 757.6h0M183.3 683.7h0M107.2 779.6h0M94.2 782.8h0M198.5 668.1h0M206 681.7h0M218.8 668.6h0M220.6 652.9h0M189.7 690.6h0M227.5 656.5h0M193.7 681.1h0M239.2 643h0M239.8 653.2h0M100.6 780h0M134.5 744h0M151.3 722.9h0M129.2 743.4h0M120.4 758.1h0M228.9 649.5h0M100 785.2h0M127.6 764h0M212.3 668.1h0M124.6 747.8h0M131.2 743.5h0M235.2 626.2h0M211.6 666.7h0M169.2 722.3h0M111.8 762.2h0M131.5 740.4h0M248.8 635.9h0M221.2 667.6h0M104 775.1h0M200 672.4h0M155.6 731.4h0M205.7 674.1h0M142 742.9h0M118.1 770.5h0M101.6 788.5h0M138.8 739.5h0M227.4 652.1h0M233.2 648.3h0M208.1 688.3h0M202.6 662.1h0M127.1 759.4h0M148.8 731.2h0M236.1 648.7h0M244.1 629.4h0M167.3 722.2h0M212.8 663.7h0M238 639.8h0M243.8 625.7h0M143.2 744h0M196.7 685.7h0M154.6 726h0M157.9 705.6h0M170.1 719.1h0M135.6 741.7h0M99.1 786.2h0M210.6 664.4h0M198.5 674.3h0M222.6 653.3h0M116.5 761.6h0M129.3 748.3h0M187.6 694.7h0M238.6 639.5h0M172.3 718.3h0M126 756.3h0M188 695.6h0M242 636.3h0M224.7 646.8h0M230.7 643.2h0M155.3 720.2h0M130.3 741.3h0M236.2 657.9h0M213.5 660.6h0M224.8 652.2h0M154.4 725.3h0M142.5 746.3h0M128.9 746.8h0M223.6 644.9h0M231.6 637.6h0M150.6 729.1h0M226 646.2h0M149.2 723.1h0M156.3 709.3h0M176.6 692.7h0M127.4 751.3h0M134.7 744.2h0M134.3 744h0M133.1 744.9h0M174.9 707.1h0M106.6 768.1h0M216.3 665.9h0M123.6 762.1h0M160.9 715.3h0M194.6 687.4h0M116 765.9h0M164.2 729.7h0M177.6 694.8h0M178.5 699.8h0M231.6 646.1h0M212.9 661h0M111.7 766.9h0M224.5 657.6h0M171.3 692.5h0M199.8 681.2h0M115 758h0M159.9 705.5h0M203.7 678.4h0M216.2 660.4h0M220.7 662.4h0M123.5 748.6h0M223.1 656.4h0M185.2 701h0M192 676.3h0M221.5 648.8h0M159.4 726h0M231.1 637.1h0M228.7 646.7h0M146.2 720.5h0M177.1 705.3h0M121.5 760.4h0M213.8 669.9h0M230.4 645.4h0M118.5 761.2h0M205.8 666.4h0M200.3 676.7h0M104.8 786.4h0M237.7 644.8h0M162.5 705.9h0M131.2 740h0M99.1 782.7h0M214.6 663.7h0M146.4 734h0M172.8 705.5h0M129.8 762.2h0M184 687.6h0M157.3 726.4h0M217.4 658.7h0M205.3 690.7h0M204 671.8h0M127.8 742.2h0M111.7 784.9h0M223.8 642.1h0M236.1 637.1h0M195.4 687.8h0M241.3 646.9h0M198.3 670.9h0M186.1 690.1h0M156.2 718.4h0M149.5 731.6h0M172 712.3h0M125 748.5h0M163.1 722.7h0M168.7 703.3h0M104.7 788h0M157.7 728h0M142.8 747.2h0M186.7 681.7h0M224.9 664.9h0M192.4 693.8h0M193.6 679.4h0M187.5 688.9h0M145.2 720.6h0M221.5 651.1h0M236.9 634.7h0M128.3 764.9h0M98.7 788.4h0M242.9 636h0M226.7 651.5h0M192.2 695.8h0M222.8 661.1h0M188.3 696h0M229.2 639.8h0M129.8 746.8h0M163.4 717.8h0M198 681.8h0M126 751.7h0M206.3 676.4h0M135.2 746.3h0M209.2 680.9h0M215.1 657.2h0M155.7 716.2h0M244.8 628.9h0M189.3 685.2h0M208.9 665.8h0M89.8 776.1h0M110.5 768.3h0M208 679.2h0M242.6 641.5h0M187.9 684.9h0M230.4 638.6h0M100.3 774.7h0M228 642.7h0M228.1 647.4h0M195.9 692.9h0M162.5 721.5h0M208.7 682h0M132.8 749.7h0M201.4 686.3h0M200.3 676.7h0M177.5 702.1h0M140.9 752.9h0M91.6 783.8h0M121.3 753.1h0M227.1 660.1h0M126 752.8h0M102.8 772.5h0M132.9 748.9h0M170.7 701.6h0M183.4 693.4h0M224.9 644.2h0M224.7 651h0M243.4 634.3h0M228 645.1h0M160.3 712.8h0M114.9 763.5h0M242.5 637.4h0M131.9 753.6h0M190.9 689.9h0M136.7 747.2h0M218.8 656.9h0M124.2 754.5h0M158.9 720.6h0M127.7 752.1h0M225.6 650.2h0M183.6 683.1h0M186.6 682.7h0M144.4 739.3h0M119.6 757.4h0M226.9 652.5h0M211.8 666.3h0M207.7 671.6h0M249.5 631.5h0M184.9 703.4h0M130.3 767.8h0M186.9 689.8h0M133.9 737.1h0M176.1 709.1h0M162.8 712.4h0M182 699.2h0M234.6 640.2h0M221.4 661.8h0M158.6 722.1h0M220 658.1h0M234.8 659.6h0M212.2 663.7h0M179.2 700.2h0M241.2 653.9h0M167.3 706.7h0M110.4 770.3h0M135.1 743.1h0M193.8 681.6h0M153.8 728.5h0M162.9 724h0M157.4 725h0M125.1 758.1h0M94.9 772.3h0M199.1 682.4h0M145.3 737.2h0M163.1 713.5h0M235.7 636.9h0M192.8 690.4h0M222.2 662.4h0M204.2 659.2h0M236.8 632.2h0M109.9 782.1h0M159.4 732.7h0M243 639.8h0M164.6 712.7h0M237.7 635h0M123.7 759h0M109.1 783.4h0M230.9 644.5h0M155.1 719.7h0M172.2 706.6h0M239.7 640.7h0M125.7 750.1h0M243.1 634h0M159 728.4h0M131.7 747.5h0M134.6 754.8h0M170.2 701.4h0M164.1 711.4h0M233.8 650.5h0M101.1 778.1h0M96.3 775.3h0M125.3 770.8h0M187.6 691.7h0M208.2 657.2h0M173.4 716.9h0M189 690.5h0M198 690.7h0M97.2 784.2h0M140.6 757h0M253.3 635.2h0M146.8 736.7h0M239 636.7h0M168.3 707.7h0M126.7 750.2h0M90.2 782.3h0M124.9 749.9h0M140.8 733.3h0M165.1 721.1h0M163.3 716.8h0M96.1 778.6h0M132.4 742h0M238.3 631.1h0M99.7 784.1h0M199.7 663.5h0M168.6 713h0M203 675.5h0M158.5 736.2h0M172.1 703.9h0M240.2 649.6h0M146.9 737.5h0M107.6 773.7h0M101.2 782.2h0M228.9 646.9h0M145.1 740.2h0M112.8 768.4h0M190.1 697.1h0M225.3 654.8h0M191.3 697.4h0M114.9 760.5h0M161.1 727.7h0M132.4 742.2h0M98.1 785.9h0M243.6 635.4h0M160.3 709.9h0M114.3 765.2h0M237 654.2h0M243.6 629.3h0M230.1 668.9h0M132 745.8h0M124.8 758.3h0M179.9 709.2h0M183.4 694.4h0M230.2 649.2h0M235.3 626.4h0M235.6 644.6h0M139.5 725.5h0M178.9 689.1h0M115.3 769.7h0M176.8 708h0M100 770.8h0M111.6 769.9h0M112.2 767.1h0M141.3 740.3h0M146.1 742.6h0M203.8 676.9h0M109.3 778.6h0M116.8 775.2h0M196 684.3h0M190.8 673.8h0M197.3 668.4h0M205 673.3h0M195.4 681.6h0M177.1 697.6h0M203 664.5h0M105.4 772.8h0M128.4 755.3h0M209.5 671.2h0M119.4 752.2h0M136.4 748.2h0M167.9 726.6h0M219.3 651.9h0M195.9 682.8h0M161.9 716h0M131.5 739h0M217.5 659.4h0M199.9 688.1h0M168.9 724.9h0M227.8 649.7h0M204.8 681.9h0M243.7 630.8h0M200.9 686.7h0M233.7 646h0M184.1 705.5h0M204.5 676.1h0M225.2 655.4h0M105.7 770.4h0M161.9 706.8h0M187.8 691.9h0M106.1 781.1h0M208.1 654.7h0M202.7 672.4h0M235.7 636.5h0M148.9 725.8h0M160.7 707.2h0M230.4 638.9h0M154.7 719.3h0M219.4 652.1h0M162 723.6h0M148.2 735.9h0M137 743.5h0M126.5 752.8h0M160.3 718.6h0M117.7 760.2h0M221.2 655.9h0M245.4 634.5h0M115 777.7h0M99.3 775.1h0M92.4 784.1h0M240.6 642.9h0M103.5 773.4h0M197.1 677.9h0M140.4 738.6h0M131.3 762.6h0M136.4 752.6h0M202.3 680.2h0M90.8 777.9h0M230.1 653.5h0M182.6 698.5h0M134.4 753.9h0M127.9 755.9h0M193.4 682.1h0M198.5 695.4h0M153.5 747.5h0M142.9 731.6h0M165.1 713.5h0M236.2 645.3h0M173.2 698.1h0M219.5 650.4h0M200.3 693.6h0M181 698.7h0M165.2 705.3h0M201.1 681.9h0M170.7 710.4h0M202.1 668.5h0M123 759.2h0M148 740.6h0M230.8 651.5h0M159.7 729.5h0M221.5 651.5h0M244.6 645.2h0M179.2 691.6h0M115.8 777.1h0M210.2 667.1h0M201.8 687.3h0M139.9 742.2h0M222.9 646.5h0M164 706.3h0M97.9 772.9h0M104.8 776.5h0M128.7 750.4h0M186.9 689.6h0M217 655.7h0M110.7 772.8h0M93.3 779.2h0M188.5 687.2h0M152.7 717.8h0M160.1 715.3h0M217.6 654.5h0M238 644.4h0M244.2 635.6h0M218.6 668.7h0M95.6 787.6h0M117.8 763.8h0M181.2 690.9h0M245.6 640.7h0M173.6 706h0M150.3 719.4h0M152.7 718.6h0M144.7 754.1h0M136.6 745.1h0M125.2 743.6h0M118.9 779.9h0M176.3 696.4h0M166 719.9h0M205.3 676h0M191.5 684.9h0M247.4 643.4h0M145.5 732.5h0M232.1 649.9h0M156 729h0M193 679.8h0M153.7 722.9h0M160.5 714.3h0M191.2 687.3h0M113.7 772.2h0M174.8 701.9h0M102.9 766.1h0M127.9 750.7h0M186.5 685h0M244.3 634.1h0M140.2 752.1h0M114.3 761.6h0M171.7 702.9h0M160.9 716.1h0M156.5 731.2h0M216.4 669.8h0M204 675.6h0M180 697.7h0M194.1 693.3h0M187.5 699h0M196 677.8h0M232.8 636.3h0M241.7 639.4h0M247.2 634.7h0M228.9 653.8h0M161.6 713.7h0M214.4 663.6h0M135.5 736.6h0M98.2 773.7h0M130.7 760.3h0M155.9 724h0M106.3 777.4h0M160.6 721.2h0M134 755.3h0M228 652.2h0M147.1 740.7h0M151.3 725.5h0M217.2 660h0M185.4 703.9h0M108.1 785.6h0M129.3 754.4h0M185.5 687.9h0M122.9 753.6h0M132.5 748h0M171.9 710.7h0M138.2 747.3h0M181.3 699.8h0M196 691.5h0M101.7 782.4h0M138.6 746.2h0M226.5 645.3h0M102.7 779.6h0M147.6 732.3h0M124.4 756.7h0M200.2 676.3h0M220.3 660.3h0M103 778h0M222.9 646.5h0M197.9 673.7h0M126.3 751.5h0M229.9 637h0M138.3 739.8h0M218.9 666.1h0M112.1 781.9h0M166.8 717.5h0M172 707.3h0M230.4 643.7h0M218.6 650.6h0M180.2 702.8h0M105 781.9h0M157.3 716h0M147.3 723.1h0M248.9 631.4h0M197.4 678h0M151.2 717.6h0M148.9 728.1h0M212.3 665.8h0M116.6 779.8h0M214.7 652.7h0M194.8 678.4h0M160.5 717.7h0M205 676.4h0M159.9 728.9h0M116.4 764.7h0M158.6 721.5h0M97.9 774.6h0M112 777.9h0M156.2 712h0M220.8 656.4h0M120.9 750.2h0M174.7 711.5h0M243.3 630.8h0M216.7 651.4h0M232.3 643.9h0M203.3 685.9h0M185.9 695.1h0M181.5 692.9h0M191.7 697.3h0M170.9 719h0M148.6 729.1h0M134.3 752.9h0M101.6 774h0M155.2 733.1h0M219.3 672.3h0M181.9 702.6h0M113.7 755.3h0M222.5 661.5h0M100.5 780.5h0M236.3 638.8h0M197.8 687.6h0M175.5 694.8h0M156.8 721.1h0M219.2 654.8h0M101.4 792.4h0M103 791.2h0M184.3 715.3h0M140.4 740.7h0M156.6 724.4h0M173.8 699.3h0M95.2 774.4h0M246.1 632.5h0M199.2 680.9h0M107.6 769.6h0M201.9 664.3h0M179 705.9h0M197.3 675.9h0M208.4 671.3h0M247.7 631.5h0M109.2 765.1h0M250.1 632.5h0M171.3 715.7h0M122.5 752.6h0M151.6 728h0M151 730.4h0M232.2 645.9h0M172.8 702.2h0M105.7 777.9h0M201.1 671h0M169 706.7h0M213.7 652.5h0M96.5 774.8h0M223.8 646.9h0M232.1 646.6h0M94.9 785.2h0M169.6 713.8h0M176.3 704.1h0M105.7 770.7h0M225.3 641.5h0M127.4 763.2h0M199.8 684.5h0M196 685.1h0M147.1 740.1h0M131.7 757.9h0M236.7 644.2h0M95.3 775.7h0M130.4 744h0M144.1 735.2h0M183.7 694.5h0M157 735h0M108.6 766.7h0M180.1 695.1h0M209.4 676.6h0M201.6 674.7h0M170 710.3h0M143.1 740.4h0M99.3 789.1h0M178.5 705.3h0M194.2 691.2h0M160.1 715.4h0M240.1 633.9h0M123.9 753.7h0M219.9 658.9h0M206 674.8h0M224.7 636.9h0M243.1 647.9h0M126 744.9h0M234.4 639.8h0M155.8 722.9h0M200.3 681.5h0M241.3 637.1h0M190 697.4h0M188.8 700.1h0M105.3 776.2h0M191.9 699h0M128 745.6h0M149.5 721.3h0M249.4 639h0M191.1 685h0M204.7 671.5h0M120.2 759.2h0M139.2 737.2h0M226.1 645.3h0M109.3 764.6h0M233.9 629.3h0M159.6 719.3h0M150.7 722h0M179.2 711.8h0M162.6 717.3h0M170.9 717.2h0M154 714.5h0M134.5 741.2h0M124.5 765.6h0M161.2 718.7h0M107.5 772.9h0M162 715.4h0M165.9 704.6h0M211 659.2h0M120.7 779.9h0M149.9 718.9h0M215.8 665.4h0M148.1 735.6h0M217.3 649.2h0M205.4 674.3h0M105.5 785.6h0M158.2 731.1h0M211.6 665.5h0M171.6 700.2h0M191.8 674.8h0M246.8 631h0M199.5 681.9h0M171.9 694.3h0M225.8 654.9h0M154.7 713.3h0M94.7 784.4h0M135 742.9h0M186.3 693.8h0M238.7 635.8h0M189.1 692.7h0M140.1 744.7h0M247.2 630.4h0M157.9 726.1h0M127.9 749.7h0M178.7 699.2h0M147.9 733.5h0M111.9 770.1h0M204.4 675.1h0M193.8 670.9h0M243.5 633.2h0M117.2 767.6h0M235.1 644.1h0M214.1 658.3h0M133.7 747.7h0M168.2 711.7h0M191.8 688.3h0M141.8 736.5h0M109.1 768.4h0M221 652.8h0M125.4 767.2h0M173.4 713.4h0M171.1 727.8h0M229.8 641h0M175.8 694.3h0M154.4 714.8h0M243.6 631.9h0M143.9 726.8h0M205.8 672.2h0M130.4 750.4h0M216.1 673.1h0M212.4 671.1h0M223.5 658.2h0M165.1 706.8h0M122 745.4h0M192.9 688.8h0M232.5 641.6h0M140.6 736.9h0M100 786.7h0M128.9 764.3h0M240.2 642.3h0M100.3 791.5h0M103.5 779.6h0M109.6 771.9h0M231.8 646.6h0M153.6 727h0M198.5 675.7h0M206 678.9h0M157.4 714.9h0M212.8 677.5h0M164.7 713.8h0M175.9 699.8h0M144.1 741.5h0M100.3 792.7h0M182.8 690.7h0M137.4 747.5h0M133.4 740.4h0M226.2 645h0M149.7 729.7h0M109.8 770.8h0M187.2 683.5h0M175.4 700.3h0M106.3 781.4h0M147 731.1h0M185.9 688.2h0M136.3 741.9h0M244.9 630.3h0M217.4 661.2h0M172 707.7h0M238.2 645.7h0M104.7 786.9h0M124.3 747.1h0M237 644.7h0M171.4 705.6h0M125.8 765.8h0M181.1 696.2h0M209.3 674.6h0M104.9 783.6h0M103.2 784.8h0M153.1 719h0M92.3 780h0M114.8 781.7h0M191.8 684.4h0M158.2 714.3h0M111.7 778.1h0M226.2 645.7h0M152.6 730.7h0M233.5 651.1h0M189 691.9h0M191.2 690.5h0M164.4 725.2h0M133.1 750.2h0M136.4 749.1h0M225.3 645.3h0M125.6 755h0M148.4 720.8h0M209.5 670.2h0M143.4 733.4h0M149.9 728.7h0M233.2 642.5h0M126.5 755.1h0M131.5 749.2h0M224.1 640.3h0M138.9 746h0M146.9 736.7h0M230.9 648.8h0M141.3 734h0M245.8 627.7h0M216.8 653.5h0M229.1 658.2h0M127.8 750.3h0M128 753.3h0M210.8 669h0M220.5 655.6h0M135.8 758.9h0M124.7 753.3h0M130.9 747.9h0M120.5 770.6h0M159.1 720.7h0M165.6 701.5h0M192 689.1h0M100.3 775.9h0M124.4 757.4h0M115 771.5h0M138.9 747.8h0M124 759.1h0M233.1 633.9h0M148.4 724.8h0M118 767.7h0M192.8 677.8h0M244 633.6h0M218.7 663.9h0M192.1 682.8h0M155.5 730.6h0M161.8 729.1h0M135.7 734.2h0M224.7 666.4h0M215.5 657.8h0M174.9 715.3h0M226.6 650.7h0M195 684.6h0M201 680.2h0M143.4 752.7h0M131.6 749.2h0M129.2 751.1h0M237.6 646h0M217.3 660.6h0M228.6 641h0M223.1 659.6h0M216.8 658.7h0M165.3 722.3h0M210.3 664.4h0M117.3 758.2h0M97.2 776.7h0M240.9 632.6h0M224 642.5h0M123 764.6h0M208.2 661.3h0M222.6 658.7h0M102.7 782.6h0M177 693.3h0M157.7 719.6h0M184.2 684.1h0M235.6 652.2h0M204.1 671.6h0M128.4 755.5h0M180.3 700.2h0M187.4 705.3h0M92.3 781.6h0M113.5 765.3h0M152.9 733.8h0M126.3 763.9h0M133.7 752.7h0M192.8 674.7h0M242.1 635.3h0M165.6 715.7h0M191.5 682.9h0M211 666.5h0M196.6 679.6h0M192.2 680.2h0M92.9 785.5h0M224.5 646h0M123.1 765.9h0M121.5 758.1h0M173.6 707.6h0M183.8 693.7h0M210.3 667.6h0M141.3 743h0M240.5 638.7h0M187.1 684h0M225.7 655.5h0M171.8 716.1h0M102.7 773.4h0M92.3 781.3h0M193.4 686.6h0M159 719h0M164.7 720.4h0M144.8 736.1h0M117.3 754.5h0M163.8 708.9h0M132.6 746h0M232.2 646.7h0M127.4 764.7h0M241.5 632.6h0M224.5 649.1h0M149 722.2h0M205.4 657h0M181.8 693.6h0M162.1 709.6h0M222.8 662.6h0M217.2 650.9h0M121.7 751.7h0M228.2 638.4h0M96.4 779.2h0M93.1 784.3h0M162.9 704.8h0M142.7 741.7h0M156.5 717.6h0M163.6 707h0M168.8 715.7h0M237.7 647.6h0M233.5 640h0M146.7 731.6h0M135.9 739.1h0M192.1 681h0M127.2 758.3h0M154.2 722.2h0M200.1 669h0M96.1 787.2h0M213.6 665.8h0M210.8 675h0M150.4 722.5h0M124.9 740.3h0M181.9 706.5h0M136.5 737.2h0M216.8 653.6h0M186.7 695.5h0M142.4 739.7h0M221.8 663h0M190.1 693.6h0M113.5 765.3h0M155.1 718.9h0M168.7 708.9h0M236 634.2h0M142.4 735.3h0M167.1 720.2h0M238.7 626.9h0M155.1 715h0M223.6 658.6h0M102.3 764.8h0M152.7 722.7h0M121.6 757.2h0M222.8 639.8h0M187.9 708.7h0M133.3 758.2h0M105.4 769.5h0M159.4 721.1h0M112.1 775.1h0M162.9 704.4h0M204.1 669.7h0M146.2 742.4h0M122 762.7h0M146.3 726.4h0M112.9 753.8h0M230.8 660.8h0M107.7 770.6h0M209.1 671h0M151.5 740.5h0M206.4 672.2h0M218.2 670.8h0M116.5 767.4h0M204.2 661h0M237.3 635.3h0M178.1 694.1h0M190.8 682.5h0M142.1 734.4h0M117.1 755.5h0M212.5 673.4h0M221.2 658.3h0M122.4 750.9h0M113.9 771.5h0M149.5 732.6h0M185.6 683.2h0M144.3 723.2h0M244.2 636.5h0M218.4 664.6h0M232.5 639.6h0M185 690.9h0M212.4 669.7h0M237.8 634.1h0M97.2 779h0M181.9 695.5h0M211.1 655.9h0M126.6 746.9h0M204 665.6h0M189.9 679.5h0M200.8 682h0M232.3 641.8h0M227.6 648.4h0M163.1 719.6h0M198.7 676.7h0M120.9 756.9h0M109 771.4h0M205.3 675.6h0M230.1 640.2h0M214.4 674.6h0M170.2 701.9h0M190.5 687.1h0M205 670.2h0M189.9 705.5h0M143.4 723h0M230.8 658.6h0M153.7 731.5h0M230.3 641.3h0M218.9 662.5h0M217.1 662.8h0M230.1 663.2h0M247 632.3h0M245.1 629.3h0M168.4 704.8h0M152.8 728.1h0M205.7 669.9h0M240.9 632h0M193.1 689.6h0M100.4 785.4h0M92.5 773.2h0M168.2 716.5h0M210.3 657.5h0M229.9 646h0M146 721.8h0M175.6 707.3h0M170.7 703.6h0M107.1 770.5h0M94.7 787.4h0M173.1 702.7h0M174.1 709.8h0M226.8 650.4h0M123.1 759.4h0M222 649h0M135.8 744.1h0M181.7 706.6h0M203.8 676.3h0M116.4 764.1h0M242.5 640.4h0M236.1 630.2h0M241.4 631.7h0M91 783.1h0M195.4 687.8h0M198.4 682h0M225.3 643.7h0M130 760.2h0M111.5 765.7h0M217.8 658.3h0M135.8 747.2h0M103.6 775.9h0M111.8 776.2h0M192.1 683.8h0M180.6 706.5h0M213.4 673.2h0M212.7 653.8h0M96.7 788.9h0M244.9 647.1h0M225.4 643.9h0M240 642h0M152.9 726.2h0M128.5 743.9h0M232.7 641h0M152 713.7h0M169.2 710h0M198.9 673.9h0M203.3 681.6h0M199.7 676.4h0M184 682.3h0M170.1 704.3h0M211.1 664.7h0M161.8 731.5h0M135.5 746.6h0M238.2 647.8h0M220.9 649.9h0M206.8 675.9h0M118.3 758.7h0M104.4 783.2h0M228.6 633.7h0M243 642h0M135.1 743.1h0M95.8 782.9h0M157.5 727.7h0M199.7 673h0M145.6 725.8h0M214.6 655.7h0M241.3 649.7h0M114 764.1h0M207.3 685.9h0M144.6 720h0M120.3 758.8h0M149.1 733.2h0M165.3 707.9h0M229.7 643.1h0M215.8 670.1h0M88.6 779.7h0M103.3 778.6h0M253 636.1h0M174.1 693.3h0M181.9 684.3h0M143.3 726.1h0M219.5 653.1h0M182.6 701.9h0M181.4 689.4h0M125.2 740.1h0M210.1 660.7h0M120.8 746.7h0M117.7 767.9h0M181.8 688.3h0M218.2 651.5h0M144.3 746h0M146.2 745h0M119.3 765.8h0M186.1 690.9h0M210.5 663h0M113.9 767.6h0M176.2 702.3h0M177.1 701.7h0M109.8 769.4h0M173.1 700.6h0M133.7 741.8h0M124.5 755.4h0M244.3 629.8h0M109.3 774.1h0M143.6 729.3h0M190.7 690.7h0M149.9 716.4h0M96.6 783.9h0M225.9 648.6h0M133.3 751.7h0M158.3 722.8h0M232.8 642.3h0M242.7 633.2h0M236.6 644.3h0M161.2 726.1h0M208 668.8h0M223.6 651.9h0M122 753.4h0M238.1 628.6h0M110.5 771.8h0M202.2 690.2h0M131 749.4h0M133.6 759.7h0M119.6 769.8h0M234.7 633.7h0M111.3 764.2h0M236.4 644.8h0M121.5 762.8h0M144.7 734.9h0M132.7 759.9h0M243.8 628.6h0M109.3 773.3h0M219.3 643.4h0M143.8 743.2h0M236.4 632.2h0M211.6 670.6h0M130.5 741h0M175.7 709.7h0M115.8 758.3h0M157.9 723.9h0M100.8 785.6h0M199 679.4h0M183.1 691h0M134 742.1h0M89.9 778.5h0M235 635h0M122.7 776.9h0M145.6 736.3h0M105 790.2h0M154 727.5h0M153.1 720.7h0M180.7 707.4h0M147.8 739.9h0M131.6 746.6h0M215.6 663.5h0M130.7 736.5h0M143.5 732.9h0M167.2 706.9h0M129.3 736.6h0M207.3 673.6h0M106.6 773.3h0M147.1 739.3h0M157.4 719.1h0M129.5 741.9h0M217.7 648.6h0M148.3 730.8h0M161 722.8h0M168.6 715.4h0M226.5 660.7h0M126.9 751.6h0M216 650.3h0M248.3 645.7h0M142.7 752.9h0M114.5 754.5h0M220.9 668h0M140.6 735.9h0M133.3 755.5h0M102.8 771.3h0M185.1 686.5h0M237.1 637.8h0M226.1 644.1h0M184 693.3h0M159 715.1h0M237 625.2h0M191.1 678h0M243.1 637.9h0M202.5 680.8h0M201.7 677.3h0M202.3 676.6h0M112.7 766.4h0M134.8 749h0M101.4 773.7h0M236.9 639h0M245.2 627.9h0M186.7 690.9h0M115.4 759.6h0M117.2 771.5h0M156.4 710h0M152.4 723.4h0M122.1 753.9h0M105.1 770.1h0M189.1 680h0M212.7 658.4h0M102.5 775.7h0M141.9 738.3h0M146 745.4h0M176.2 700h0M187.7 692.2h0M157.9 722.8h0M160.6 731.9h0M140.1 738.4h0M207 660.6h0M219.5 649.7h0M223.9 643h0M124.4 764.6h0M127.5 759.1h0M162.4 711h0M243.5 634.7h0M182.6 681.9h0M188.6 687.1h0M143.1 734.1h0M244.2 628.2h0M122.7 758.7h0M179.1 697.6h0M199.9 682.4h0M218.3 658.6h0M220.5 659.7h0M152.1 724.4h0M140.6 749.1h0M249.8 637.3h0M176.9 697.3h0M136.1 741h0M118.5 768.3h0M217.9 660.4h0M227.9 656.3h0M158.5 731.8h0M188.6 675.6h0M247.3 634.7h0M180.9 693.4h0M215.6 663h0M230.6 648.5h0M206.4 663.2h0M165.3 706.4h0M122.1 759.4h0M204.1 679.8h0M236.4 628.8h0M116.5 761.9h0M112.2 769.7h0M190.3 684.8h0M220.4 655.4h0M100.9 769.8h0M191.6 693.1h0M134.5 744.3h0M250.1 631.5h0M144.3 724.3h0M99.5 766.6h0M214.2 663.1h0M137.8 736.9h0M152.8 714.8h0M114.8 767h0M147.9 737.8h0M110.2 761.4h0M131.2 743.9h0M183.3 695.8h0M134.1 733.6h0M195.3 680h0M238.7 650.8h0M180.9 694h0M98.2 782.2h0M234.1 627.5h0M124 755.3h0M147.6 732.5h0M172.9 701.5h0M187.8 687.7h0M151.4 737.8h0M160.8 716.4h0M191.2 688.6h0M158.6 708.8h0M160.9 725.8h0M156.3 729.3h0M141.6 743.5h0M188.4 694h0M174.9 708.1h0M156.6 721.2h0M198.6 670.1h0M223.3 663h0M199 689.8h0M152.9 739.6h0M233.4 634.1h0M104.6 764.9h0M223.1 665h0M164.4 726.1h0M154.1 723.2h0M219.1 648.9h0M190.5 679h0M242.5 631.7h0M226 645h0M110.2 766.8h0M173 709h0M204.4 657.8h0M106.3 773.4h0M181.1 705h0M247.9 631.3h0M136.1 754.6h0M111.5 767.9h0M134 736.5h0M151.2 736.9h0M133.3 737h0M220.3 653.2h0M177.4 709.1h0M187.3 696.6h0M111.6 770.5h0M108.3 781.1h0M244.4 640.9h0M147.9 732.6h0M239.9 637.3h0M142.9 731.1h0M196.4 689.9h0M188.3 674.7h0M103.4 768.2h0M101.1 771.8h0M163.9 719.1h0M106.6 759.7h0M140.3 741h0M116.9 748.5h0M137.7 732.9h0M167 717.8h0M143.1 739h0M138.1 726.2h0M164.5 705.8h0M199.1 679.1h0M99.3 779h0M246.2 628h0M162.7 721.3h0M236.2 641.3h0M97.1 787.9h0M104 779h0M107.1 769h0M237.4 645.8h0M154.2 718.5h0M223.3 652.2h0M197.5 673.7h0M103.7 769.2h0M144.5 724.5h0M142.2 731.6h0M160.6 712.1h0M210.1 667.9h0M104.3 771.1h0M239.3 643.4h0M167.7 712h0M147 725.7h0M201 676.3h0M134.4 741h0M207 677.9h0M152.4 715.4h0M169.2 713.1h0M121.2 755h0M124.9 754.4h0M222.5 646.7h0M183.6 696.8h0M162.2 723.5h0M219.8 671.2h0M234.9 643.4h0M122.4 765.9h0M245 626.6h0M90.3 778.7h0M196.3 697.9h0M138.9 749.7h0M131.2 745.4h0M165 703.5h0M185.3 689.7h0M159.5 716.1h0M201.4 671.6h0M237.5 634h0M113.4 753.4h0M127.8 746.5h0M191.9 694.8h0M158.4 723.4h0M141.3 735.8h0M174.1 709.8h0M201.7 677.3h0M235.2 644.8h0M240.8 640.4h0M216.9 654.2h0M148.3 733.2h0M233.5 650.9h0M205.4 677h0M120.2 758.7h0M130.6 746.4h0M192.9 672.9h0M198.5 674.7h0M241.2 651.2h0M194.6 679.6h0M247.9 634.3h0M107.8 782.3h0M103.4 784.7h0M116.9 748.6h0M187.9 701.6h0M161.1 721.8h0M101.9 769h0M122.1 752h0M189 701.5h0M155.8 723.3h0M212.9 667.7h0M166.1 713.4h0M225.7 644.8h0M212.4 668.7h0M170.8 709.5h0M143.1 724.2h0M133.4 759.8h0M139.9 741.7h0M146.4 728.5h0M153.8 734.2h0M123.5 760.6h0M171.2 716.7h0M110.2 768.2h0M229.4 651.5h0M175.2 696.4h0M104.4 767.5h0M143.8 734.5h0M134.2 747.6h0M116.6 760.8h0M167.2 710.3h0M126.3 762.2h0M112.9 758.4h0M200.7 674.6h0M156.6 715.5h0M202 685.5h0M162.5 708.8h0M139 735h0M164.6 724.7h0M167.4 710.3h0M146.4 732.6h0M219.8 655h0M132.3 748.5h0M125.6 749.7h0M148.2 733.9h0M213.4 661.4h0M226.5 655.1h0M180.1 696.8h0M145.3 725.6h0M195.2 685.8h0M218.1 653.2h0M134.3 751.5h0M197.6 682.4h0M203.6 675.2h0M148.9 720h0M118.7 766.6h0M182.4 685.7h0M131.4 758.9h0M150.8 728.9h0M173.9 696.9h0M239 631.6h0M119.9 767.2h0M109.5 779.6h0M173.1 697.9h0M243.3 642.2h0M98.5 777h0M194.3 687h0M97.8 782.2h0M106.1 761.7h0M191.8 679h0M154.3 734.8h0M193 681.8h0M133.1 745.5h0M105.5 775.1h0M116.5 752.6h0M142.2 749.9h0M117.7 759.2h0M123.6 754.6h0M180.1 703.4h0M154.4 710.6h0M225.2 660.9h0M170 707.7h0M176.2 700.9h0M211 682.7h0M230.2 657.1h0M187.1 697.8h0M96.3 777.6h0M160.6 710.2h0M96.3 779.1h0M185.7 689.9h0M111.9 784.8h0M175.7 700.4h0M118.6 764.8h0M220.7 646.7h0M103 766.4h0M199.1 672.5h0M132.8 739.8h0M188.6 696.8h0M144 734h0M138.1 750.4h0M130.1 742h0M100.6 788.7h0M197.9 680.9h0M107.8 778.4h0M125.7 757.2h0M105.3 771h0M219.4 661.5h0M174.2 701.9h0M169.3 716.5h0M178 688.9h0M220.3 661.2h0M185.7 683.9h0M151 746.5h0M176.8 708.7h0M246.2 631.2h0M176.8 691.9h0M168.8 713h0M228.7 644.6h0M104.8 780.8h0M101.2 774.4h0M219.6 666.4h0M235.3 634.3h0M112.8 790.2h0M104.5 790.1h0M88.2 777.9h0M181.7 694.6h0M118.2 768.3h0M191.7 677.5h0M91.7 779.7h0M229 650.6h0M130.1 744.2h0M176.9 697h0M154.3 737.1h0M144.2 730h0M156.3 723.5h0M89.3 781h0M154.6 713.6h0M136.8 747.2h0M150.9 732.4h0M118 760.1h0M142.6 731h0M202.7 677.6h0M245.3 631.4h0M121.6 753h0M225.3 647.8h0M183.7 684.8h0M108.3 769.7h0M99.3 787.7h0M236.3 653.7h0M126.5 746.4h0M111.3 771.1h0M195.8 684.3h0M203.4 676h0M237.2 651.2h0M172.1 709h0M151.5 747.4h0M144.1 737.8h0M128.5 757.7h0M184.3 678.9h0M236.8 635.8h0M107.5 774h0M152.5 724.8h0M145 728.1h0M108.9 776.9h0M186 693.4h0M246.1 632.5h0M205.2 671.3h0M239.6 651.9h0M132.2 740.6h0M212.4 672h0M123.8 756.1h0M132.5 738.8h0M111.4 772.7h0M232.4 646h0M222.7 663.5h0M111 777.1h0M183.5 711.1h0M122 748.4h0M215.8 670h0M180.4 694.5h0M237.7 635.8h0M207.9 674.2h0M109 770.5h0M151.3 728h0M184.2 697.4h0M233.7 642.2h0M150.5 727.7h0M126.5 760.9h0M142.2 746.9h0M135.1 750.7h0M117 761.7h0M141.2 726.8h0M126.3 741.4h0M170.9 704.6h0M227.5 641.4h0M239.9 635.2h0M113.9 757h0M180.7 696h0M195.8 678.5h0M118.2 763.6h0M175.5 702.5h0M117.1 747.5h0M154.3 733.8h0M143.5 735.4h0M221.2 660.1h0M126 745.8h0M169.7 694h0M184.9 695.2h0M155.1 745.4h0M234.2 637.2h0M142.4 731.6h0M150.3 741.7h0M201.1 678h0M168.9 709.7h0M214 681.2h0M114.6 759.8h0M114.8 761.5h0M205.9 669.3h0M157.5 729.4h0M228.2 653.9h0M132 752.2h0M128.8 746.7h0M230.2 654h0M143.7 723.6h0M109.1 767.8h0M136 760.5h0M205.5 658.2h0M133.9 744h0M181.3 700.9h0M221.6 654.2h0M194.6 697.4h0M208.7 666.8h0M253.4 641.9h0M143.7 743.4h0M223.2 642.7h0M173.5 694.5h0M126 756.2h0M117.8 769.6h0M140.5 731.1h0M115.1 765.1h0M211.5 663.8h0M177 696h0M104.7 783.9h0M225.7 644.6h0M193.6 700.8h0M156.1 710.8h0M121.5 770.6h0M168.4 714.9h0M237.3 644.3h0M180.8 691.3h0M161.4 711.1h0M185.8 689.1h0M176.3 697.4h0M187.8 686.2h0M124.6 755.5h0M124 770.8h0M104.6 793.9h0M230.6 664.3h0M94.4 786.4h0M134 747.1h0M184.3 694.7h0M169.7 706.7h0M233.3 645.1h0M130.4 757h0M117.1 774.7h0M125.8 768.9h0M165.6 703.1h0M135 737h0M169 720.1h0M200.6 679h0M141.5 734.1h0M189.8 675.1h0M99.1 786h0M177.1 699.6h0M228.7 638.6h0M244.1 645.9h0M184.5 699.2h0M245.1 631.4h0M132.8 752.4h0M159.3 712.4h0M171.3 705.4h0M223.5 661h0M159.2 712.5h0M98.7 776.6h0M203.4 678.1h0M129.7 753.2h0M235.1 653h0M126.7 753.5h0M135.9 736.5h0M111 761h0M138 736.5h0M183 688.4h0M137.2 746.8h0M103.1 780.9h0M179.2 689.2h0M205 668.7h0M113.6 772.7h0M157.1 717.6h0M101.1 772.6h0M93.7 781.2h0M151 727.1h0M139.9 743.5h0M226.8 646.7h0M89.3 777.8h0M192.6 683.9h0M209.2 673.4h0M156.6 719.4h0M175.6 712.5h0M130.9 746.7h0M133.8 748h0M98.2 774.5h0M232.6 643.1h0M94.1 778h0M206 673.1h0M167.4 717.7h0M170.7 703.9h0M139.4 740.5h0M118 760.7h0M219 662.8h0M110.7 764.9h0M139 739.7h0M217.8 676.5h0M140.6 740.5h0M238.8 635h0M116.2 754.3h0M177.2 705.6h0M179.6 704.9h0M166.3 703h0M215.2 666.7h0M100.5 779h0M175.9 698.5h0M212.4 658.9h0M101.6 778.7h0M182.1 704.8h0M157.6 713h0M157.7 724.5h0M178.5 703.8h0M198.6 672h0M236 648.9h0M196.6 684.8h0M248.3 629.8h0M198.9 684.6h0M142.6 751.8h0M113.4 760.3h0M101.7 772.5h0M134.1 743.4h0M113.7 769.5h0M198.1 677.8h0M197.4 675.2h0M192 694.1h0M154 727.5h0M167.3 715.6h0M131 743h0M234 640.4h0M101.3 789.4h0M145.5 738.5h0M175.1 689.1h0M125.4 762.1h0M224.6 651.1h0M170.1 713.3h0M146 723.2h0M103.7 777.1h0M138.8 744h0M189 698.2h0M138 743.3h0M97.6 776.3h0M180.3 692.4h0M145.7 744h0M217.9 646.7h0M201.1 678.3h0M208.8 676.9h0M230.2 645.5h0M220.8 661.1h0M146.7 737h0M183.8 699.3h0M134 746.2h0M126.8 756.9h0M132.1 761h0M108.9 767.2h0M132.6 751.1h0M123.8 746.5h0M195.2 678.3h0M130.1 744.6h0M100.3 778.7h0M153.7 715h0M126 756.3h0M203.7 681.7h0M126.6 750.4h0M190 709.5h0M122.4 760.4h0M167.2 709.7h0M228.8 651.3h0M135.6 733.8h0M172.2 700.6h0M160.9 717h0M106.2 777.3h0M92.8 779.2h0M226 656.3h0M147.8 734.6h0M196.5 675.3h0M155 719.2h0M124.7 756.8h0M175.5 717.7h0M175.6 697.5h0M211 656.3h0M99 782.8h0M143.6 723.3h0M160.1 704.6h0M187 696.3h0M117.5 766.3h0M182.3 705.8h0M198.4 675h0M203.8 668h0M126 748.9h0M166.4 722h0M142.6 742.7h0M159 731.2h0M155.9 735.8h0M244.4 642.7h0M102 791h0M240.3 637.7h0M97.4 779.9h0M103.5 772h0M125.6 754.3h0M140.6 744.1h0M225.8 651.2h0M221 651.5h0M238.7 640.2h0M153.6 725h0M97.5 785.5h0M192.1 689.9h0M232 644.5h0M114.7 774.3h0M217.1 651.8h0M100.2 792.7h0M204.7 669.2h0M175 714.2h0M227.7 637.2h0M225.1 645h0M104.2 782.7h0M172.2 709.8h0M135.5 753h0M161.7 717.6h0M102.5 774.7h0M162 727.6h0M89.7 781.3h0M169.1 714.1h0M230.4 644.3h0M99.9 773.8h0M237.1 635.3h0M167.5 707.8h0M127 754.3h0M242.9 633.6h0M166.1 711.3h0M156.5 713h0M157.4 733.1h0M231.3 649.4h0M118.7 771.2h0M130 757.4h0M140.5 745.2h0M99.3 772.6h0M163.8 704.2h0M190.9 696.4h0M229.7 646.5h0M174.3 713.1h0M134.7 741.4h0M170.7 697.8h0M168.6 705.4h0M136.5 736.1h0M130.1 750.8h0M156.5 738h0M214.5 678.4h0M119.7 761.1h0M244.8 627h0M125.2 744.6h0M137.2 745.1h0M112.5 767.1h0M153.2 723.9h0M147 723.8h0M199 679.3h0M235.9 649.5h0M127.9 743.4h0M216.8 657.2h0M139.8 736.6h0M161.3 727.5h0M113.7 766.6h0M237.7 652.4h0M159 735.7h0M202.6 676.9h0M99.6 784.4h0M198.9 674.4h0M123.2 745.4h0M163.4 715.6h0M190.6 673.2h0M122.4 762.2h0M172 700.5h0M227.2 659.7h0M118.5 760.5h0M167 714.1h0M123 758.6h0M113.7 761.9h0M176.5 716.8h0M163.7 714.2h0M196 688.2h0M225.3 650.7h0M201 673.5h0M147 735.1h0M170.1 711.4h0M201.9 684.8h0M220.7 652h0M201.4 681.5h0M169.5 705.6h0M119.9 771.3h0M222.2 644.1h0M141.1 746.4h0M151.8 718.2h0M231.6 648.7h0M123.7 751.9h0M234.9 642.9h0M126.5 747.9h0M107.3 773h0M168 700.6h0M213.6 658.4h0M153.2 720.5h0M217.1 647h0M157.5 726.9h0M214.2 652.8h0M111 768.7h0M143.1 747.8h0M110.9 765.6h0M208.4 670.7h0M159.6 705.9h0M196.6 685.1h0M130.4 748.9h0M206 669.7h0M253.8 637.3h0M104.1 772.3h0M146.7 740.3h0M222.2 643.8h0M218.5 645.6h0M228 649h0M134.8 757.2h0M179.8 697.1h0M106.5 772.5h0M157.4 715.8h0M183.6 696.9h0M138.2 750.6h0M159.3 720.6h0M153.7 732.6h0M100.1 766.5h0M107.2 778.8h0M216.5 665.9h0M94.5 786.6h0M250.2 635.8h0M233.5 646.7h0M246.2 631.2h0M216.6 664.5h0M95.3 787.4h0M107 763.6h0M141.2 734.7h0M126.9 763.4h0M104.9 779h0M232 638.9h0M236.3 645.4h0M211.5 665.2h0M132.9 746.9h0M222.9 650h0M220.5 658h0M144.2 736.2h0M116.8 770h0M113.4 764h0M160.3 725.8h0M215.2 648.4h0M105.7 774.8h0M160.8 719.8h0M145.4 727.7h0M231.4 646h0M117.1 762.3h0M194.9 683.4h0M146.3 738.6h0M196.8 688.2h0M223 659.6h0M216.4 652h0M226.3 655.6h0M140.4 742.2h0M138 745h0M110.1 764.7h0M125.6 738.7h0M115.8 771.6h0M212.3 660.7h0M100.7 778.9h0M124.5 757.7h0M213.4 659.9h0M216.9 670.3h0M240.4 629.6h0M152 725.3h0M104.7 783.6h0M212.1 652.8h0M134.7 738.2h0M208.3 660h0M102.4 789.5h0M100.3 782.4h0M187.9 694.3h0M196.7 676.2h0M175.1 692.6h0M183 710.2h0M185.6 692.3h0M114.5 766.6h0M99.9 772.9h0M147.8 731.7h0M183 705.2h0M132.9 748.2h0M125.4 762.6h0M165.5 719.3h0M156.7 721.9h0M137.1 746.2h0M235.4 639.1h0M244.7 643.7h0M162.9 706h0M127.7 746.4h0M150.5 738.8h0M106.5 790.8h0M109.5 777.6h0M100 782.5h0M188.7 679h0M108 776.5h0M225.5 642h0M212.6 655.1h0M135.2 744.2h0M195.6 672.7h0M239 635h0M114.3 771h0M184.5 702.9h0M165.9 713.7h0M137.8 733.8h0M143.3 746.6h0M113.4 779.5h0M191.3 682.3h0M134.7 766.2h0M151.9 712.8h0M238.3 641.8h0M144.7 728.9h0M135.4 729.5h0M242.8 645.1h0M187.6 698.7h0M129.2 752.8h0M193 685.9h0M151.3 726h0M173.5 696.7h0M150 718.7h0M106 773.6h0M230.1 649.3h0M200.4 677.6h0M240.1 634.1h0M136 733.2h0M136.7 741.8h0M107.8 758.2h0M144.2 741.9h0M141.9 733.3h0M115.5 750.9h0M129.7 739.9h0M137.8 739h0M229.2 654.6h0M165.2 719.1h0M220.5 657.8h0M100.4 777.8h0M123.8 758h0M245.9 641.9h0M104.5 781.8h0M102.6 773.8h0M170.4 701.6h0M143.8 746.5h0M125.2 757.6h0M193.9 697.1h0M189.7 692.7h0M176.5 701.3h0M165.1 716.3h0M226.3 655.3h0M109 780.8h0M136.8 757.3h0M180.9 697.6h0M100.1 782.6h0M218.3 647.3h0M249 640.1h0M142.7 733.2h0M207.9 659h0M139.7 755.1h0M237.1 634.3h0M132.6 759.7h0M92.8 783.9h0M98.8 770.3h0M164.4 714.3h0M98.7 779.6h0M247.3 634.5h0M189.8 685.9h0M177 692.4h0M190.9 688.5h0M158.7 721.2h0M228.6 645.2h0M200.4 670.9h0M166.3 725.2h0M137.4 741.7h0M118.7 766.7h0M140.5 735h0M144.2 726.9h0M105.1 772.9h0M231.2 635.5h0M137.3 749.9h0M178.5 703h0M107.9 780.3h0M178.5 699.3h0M192.9 684.3h0M106.9 775h0M248.5 637.3h0M119.3 761.3h0M136 747h0M204.8 668h0M146.7 734.6h0M224.2 643.6h0M129.6 748.3h0M149.3 744.5h0M201 678h0M231.6 656.4h0M226.1 643.3h0M132.7 735.6h0M175.6 703h0M155.4 720.1h0M203.4 685.6h0M137.5 759.7h0M225 656.3h0M204.5 675h0M126.6 765.1h0M141.8 736.8h0M144.4 732.4h0M234.4 637.2h0M158.1 708.6h0M185.6 686.2h0M238.4 641.1h0M154.5 723.7h0M237.1 634.8h0M142.8 744.7h0M90.8 779.6h0M106.2 767.1h0M201.2 678.2h0M155 729h0M172.6 699.2h0M195.7 674.7h0M141.2 724h0M180.4 690.1h0M200.4 675.6h0M149.1 724.5h0M172.8 712.8h0M220.8 650.6h0M242.6 645.9h0M146.1 729.8h0M102.1 774h0M229.3 659.8h0M155.3 708.5h0M247.3 638h0M207.2 662.1h0M152.5 730.7h0M223.4 651.1h0M180.6 702.8h0M226 642.8h0M176.1 687.9h0M236.5 633.9h0M152.4 721.1h0M151.5 726.3h0M193.2 686.5h0M153.8 720.3h0M202 674.3h0M176.1 703.4h0M213.2 674.8h0M222 657.4h0M178.8 694.7h0M236.2 644h0M212.6 661.9h0M226.1 651.8h0M100.8 787.7h0M99.7 787.9h0M194.2 689.3h0M146.1 735.2h0M229 649.7h0M149.8 720.4h0M212.3 673.4h0M139.5 755.9h0M188 684.5h0M234 646.1h0M226.8 650.9h0M162.3 704.8h0M173.9 699.8h0M143.2 728.5h0M167.8 709.7h0M238.4 630.4h0M231.4 650h0M144.9 739.8h0M200.7 680.4h0M233.6 630.5h0M143.5 723.3h0M226.6 654.9h0M211.9 656.1h0M230.7 647.1h0M102.7 769.2h0M236.9 642h0M240.9 627.8h0M131.3 749h0M192.2 687.7h0M107.7 772.6h0M185.8 690.8h0M204.9 676.9h0M213.6 674.2h0M219 644.5h0M140.4 741.9h0M118.6 775.5h0M228.1 666.4h0M108.5 793.7h0M132 752.3h0M125 743.9h0M219.2 670.6h0M163 718.1h0M229.6 661.4h0M192.2 676.7h0M221.9 652h0M213.4 661.1h0M223.9 642.2h0M129.9 736.5h0M144.5 726.4h0M192.6 689.6h0M188.5 699.7h0M217.3 667.8h0M224.8 665.7h0M133.7 731.3h0M113.1 768.3h0M207.2 668.9h0M198.6 677.2h0M104.7 779.9h0M92.8 778.4h0M130.8 746.2h0M136.4 744h0M133 761.5h0M98 775.1h0M122.8 762.7h0M149.3 733.2h0M107.1 771.2h0M125.1 753.6h0M156.8 713h0M226.7 655.2h0M227.1 648.2h0M155 721.5h0M113 766.7h0M132.5 741.4h0M198.5 681h0M151.7 717.5h0M184.2 699.3h0M212.5 675.8h0M195.2 682.6h0M221.3 646.1h0M108.9 775.2h0M141.8 742.2h0M100.3 782.7h0M173.2 703.6h0M188.9 690.2h0M131.6 745.3h0M108.9 784.7h0M159.3 707.4h0M117.3 757.9h0M127 759.3h0M147.1 720.9h0M237.3 635.4h0M143.4 723.9h0M207.3 679.2h0M144.6 721.2h0M155.9 722.4h0M123.2 772.6h0M119.2 754.5h0M213.4 666h0M163.6 722.8h0M138.4 742.4h0M252.9 638.2h0M226.5 645.5h0M135.2 745.7h0M161.5 719.1h0M175.5 691.4h0M119.2 760.3h0M162 721.7h0M141.1 745.5h0M218.6 658.8h0M104.2 767.5h0M248.4 632.2h0M134 753.5h0M141.1 730.7h0M105.1 774.5h0M234.2 642.4h0M108.8 780.8h0M174.2 702.4h0M160.6 731.9h0M188.1 692h0M143.1 731.2h0M236.4 631h0M132.1 757.2h0M216.6 653.7h0M131.9 741.3h0M194.1 684.5h0M174.6 703.5h0M177.4 707.6h0M188.3 686h0M111.4 783.3h0M96.9 771.1h0M239.2 629.2h0M134.2 748.2h0M146.2 727.8h0M128.5 746.6h0M185.6 676.9h0M247.4 633.5h0M160.6 728.1h0M151 743.9h0M148.6 732.6h0M103.9 788.6h0M108.2 773.2h0M99.6 777.5h0M145.2 737.2h0M248.7 634.7h0M110.9 759.6h0M178.9 700.7h0M124.7 753h0M95.8 777.1h0M227.4 659.5h0M116.9 770.2h0M220 658.1h0M135.2 752.3h0M125.3 756.2h0M241 639.8h0M128.4 760.8h0M223.2 656.8h0M141 738.2h0M180.8 697.3h0M139.5 735.4h0M152.6 739.9h0M242.8 645.2h0M230.3 640h0M122.3 760.8h0M200.4 667.3h0M114 763.4h0M145.2 744.9h0M102.6 773.4h0M197.2 688.2h0M204.4 670.8h0M203.8 663.8h0M154.7 724.5h0M118.3 755.9h0M93.3 784.8h0M158.4 713.9h0M247 649.2h0M164.2 717.2h0M187.3 688.1h0M232.9 639.8h0M229.2 653.2h0M204.3 666.4h0M180.6 688.6h0M129.1 749.7h0M209.7 669.2h0M159.3 722h0M201.8 674.4h0M123.6 746.7h0M232.6 632h0M120.8 762.6h0M218.9 665.3h0M233.7 649h0M113.4 758.8h0M225.9 649h0M191.7 683.6h0M184.7 689.3h0M131.4 745h0M144.7 735.2h0M133.9 753.6h0M164 719.3h0M192.9 683.7h0M204.3 669.9h0M203.7 676.5h0M148.7 733.5h0M140.2 728.1h0M212.9 667.8h0M242.6 631.8h0M129 752.9h0M160.5 724.8h0M142 749h0M245.6 634.7h0M99.4 787.3h0M227.7 642.2h0M216.1 669.8h0M146.3 735.8h0M195.9 676.5h0M151 728.7h0M189.8 684h0M156 716.1h0M240.8 648.5h0M165.7 715.9h0M222.3 662h0M177.2 690.2h0M151.5 728.2h0M240.5 631.8h0M117.3 749.1h0M234.7 644.4h0M244.3 631.2h0M222.7 650.8h0M188.6 691.2h0M184.7 683.3h0M233.4 636.6h0M156.5 714.3h0M220.3 656.1h0M214.1 665.5h0M227.1 652.3h0M162.9 718.4h0M200.3 689.9h0M106.6 770.7h0M101.7 772.1h0M110.3 769.7h0M208.7 672.3h0M148.2 730.4h0M232.5 642.1h0M104.7 772.9h0M113.4 752.4h0M225.6 657.8h0M156.7 719.1h0M125 749.1h0M213.5 662.9h0M130.7 750.5h0M247.3 636.7h0M138.3 745.5h0M223.1 648.2h0M162 705.2h0M240 641.3h0M137.5 738h0M234 638.4h0M136.5 734.9h0M161.7 714.9h0M189.3 684.9h0M175.6 695.5h0M201.3 685.1h0M200.6 676.4h0M141.6 751.2h0M102.6 793h0M208.1 675.5h0M191.9 697.7h0M178.5 695.6h0M166.2 704.4h0M237.6 641.1h0M140 740.3h0M234.9 643.4h0M120.6 761.2h0M200 676.3h0M237.2 636.4h0M119.2 764.1h0M215.1 668h0M137.7 745.5h0M99.8 774.3h0M161.6 720.1h0M195.8 670.5h0M138.3 742.8h0M234.7 631.1h0M98.6 791h0M137.6 747h0M144.5 730.8h0M149 726.2h0M140.4 739.9h0M125.8 753.2h0M132.9 744.2h0M199.3 682.6h0M145.6 720.6h0M201.6 669.1h0M160.3 715.1h0M152.3 739.2h0M116.9 760.2h0M130.6 752.4h0M230.9 642.6h0M160.3 711.2h0M144.8 740h0M126.5 751.3h0M225.2 644.7h0M201.4 674.7h0M201.8 678.1h0M221.4 663.5h0M133.4 751.1h0M210.9 676h0M101.1 771.6h0M195.6 681.2h0M147.9 740.4h0M195.5 682.1h0M133.5 755.9h0M160.4 743.5h0M192.3 676.1h0M233.8 633.6h0M151.7 738.5h0M122.5 762.7h0M112.2 766.2h0M198.4 682h0M234.5 648.6h0M98.3 786h0M147.7 733.1h0M121.8 762.1h0M239.8 634.9h0M115 766.7h0M107.2 778.8h0M211.8 665.2h0M253.6 635.1h0M207.3 658.8h0M117.9 775.3h0M156.8 722.5h0M172.5 703.2h0M230.4 643h0M208.6 666.6h0M98.3 772.4h0M167.7 719.4h0M213.8 663.9h0M176.8 700.3h0M198.2 683.2h0M244.7 636h0M239.4 627h0M225.1 657.1h0M183.5 698.1h0M142.1 739.1h0M119.2 762.3h0M119 759.6h0M193 686.2h0M211.2 663.1h0M225.3 650.4h0M232.5 640.3h0M133 736h0M148.4 737.1h0M117.8 749.4h0M179.1 702.4h0M236.9 634.5h0M209.7 666.3h0M162.1 718.8h0M125.6 769.1h0M217.4 647.3h0M234.4 647.9h0M214.8 668.3h0M134.8 736.5h0M153.5 724.7h0M176.4 687.2h0M228.7 635.1h0M128.5 745.6h0M157.4 719.4h0M100.2 774.3h0M99.2 791.3h0M130.6 747.6h0M217.6 658.2h0M199.4 681.7h0M166.2 710.4h0M162.2 727.6h0M131.2 741.4h0M206.8 660.7h0M173.6 714.6h0M104.1 775.1h0M184.5 681.7h0M244.9 628.1h0M108.9 779.2h0M250.8 632.8h0M106 767.8h0M134.3 731.1h0M248 636.5h0M243.1 632.9h0M125.1 760.5h0M205.6 673.9h0M186.9 688.7h0M155.2 724h0M216.8 665.4h0M129 751.8h0M169.9 709.9h0M198.8 670.3h0M189.3 688.4h0M178.1 701.7h0M203.7 666.5h0M118.4 769.4h0M97.7 777.1h0M95.1 777.6h0M186.8 686.1h0M161.3 718.7h0M222.4 654.6h0M249.5 639.7h0M111.5 769.5h0M151 725.7h0M155.1 717.1h0M177.3 699.8h0M235.1 644.4h0M189.2 695.1h0M140.9 738.7h0M195.3 681.4h0M140 730.1h0M179.2 698.9h0M110.9 773.1h0M180.9 698h0M169.2 712.9h0M193.9 685.6h0M189.1 705.5h0M187.8 702.2h0M211.6 674.7h0M112.6 763.9h0M209.7 668.2h0M189.2 687.6h0M195.4 673.5h0M159.1 727.5h0M102.7 769h0M234.2 639.5h0M223.6 658.7h0M238.4 626.7h0M169.9 719.4h0M234 651.1h0M228.6 649.7h0M176.9 698.3h0M233 645.1h0M227 666h0M110.7 771.7h0M114.7 765.9h0M170.7 697.3h0M193.7 683.1h0M184.6 701.7h0M227.3 646.9h0M221.2 664.6h0M108.9 769.8h0M144.6 731.7h0M231.8 647.9h0M209 666.4h0M97.5 785.5h0M192.3 689.8h0M107.6 761h0M169.1 705h0M247.8 630.7h0M108.2 777.8h0M219.8 655.9h0M166.1 708.1h0M241.2 628.8h0M220.6 645.3h0M102.1 774.8h0M196.9 689.3h0M218.6 643h0M132.5 738.2h0M199.1 672.2h0M128 741.5h0M130.9 760h0M146.3 735.7h0M140.8 742.4h0M237.4 630.1h0M134.3 754.1h0M160.3 720.9h0M163 704.2h0M197.7 675h0M244.4 634.8h0M181.3 682.6h0M231 655.7h0M112.4 764.3h0M196.4 683h0M118.5 757.6h0M228.8 650h0M188.5 695.8h0M114 764.4h0M229.4 657.3h0M172.6 701.8h0M169.7 711.2h0M102.9 770.5h0M234.9 645.1h0M175.3 708.1h0M225.3 648.5h0M100.9 770.2h0M206 687.1h0M151.1 727h0M174.1 699.6h0M195.1 693.4h0M224 659.5h0M233.4 638.3h0M122.5 763.6h0M228.4 653.3h0M105.5 761.8h0M99 788.7h0M143.4 742.4h0M146.1 750.5h0M216.4 669h0M184.5 702.8h0M147.2 718.9h0M210.9 657.2h0M242.4 643.6h0M185.2 677.9h0M191.4 680.6h0M227 651.2h0M135.9 737.4h0M245.6 627.9h0M253.8 627.4h0M255 634.3h0M267.7 614.1h0M251.3 624.9h0M255.7 622.7h0M260.7 620.1h0M246.3 622.6h0M259.9 623.1h0M252.1 618.1h0M251.2 628.6h0M259.8 615.4h0M260.6 622.7h0M251 625.3h0M266.6 614.4h0M261.8 625.7h0M248.2 628.2h0M266.1 610h0M253.4 617.1h0M248.5 625.6h0M256.9 625.9h0M254.9 625.3h0M257.7 637.1h0M258.1 625.3h0M246.9 620.7h0M247.1 619h0M259.2 611.7h0M249.8 624.1h0M245.9 626h0M249.7 623.2h0M259.4 628.1h0M254.3 628.4h0M256.2 611.9h0M262.1 605.9h0M264.1 610.1h0M258.4 619.6h0M265.2 613.1h0M265.8 613.6h0M263.8 618.2h0M270.6 617.9h0M255 620.1h0M264.7 614.2h0M259.2 618.2h0M257.4 607.1h0M261.1 610.9h0M251.6 629.9h0M263.1 608.9h0M253.9 633.6h0M253.1 616h0M259.1 615.1h0M265.4 611.7h0M246.7 625.3h0M256.9 609.4h0M256.3 622.8h0M252.1 631.5h0M247.6 614.5h0M260.9 614.9h0M243.8 621.2h0M267.5 612.8h0M247.1 626.3h0M254.7 625.7h0M252.4 619.5h0M250 628.3h0M269.1 611.1h0M262.7 602.8h0M265.4 608.2h0M258.4 631.2h0M265.7 611.6h0M257.6 624.5h0M257.6 626.6h0M263.9 615.9h0M251.2 628.7h0M247.6 628.4h0M269.6 611.4h0M261.1 627.4h0M265.9 613.4h0M253.6 616.6h0M254.6 631.9h0M255.5 616.4h0M249.7 623.5h0M251 628.7h0M246.9 627.1h0M258.4 622.6h0M254.3 624.5h0M258 624.9h0M266.1 606.5h0M260.4 606.3h0M264.5 615.8h0M248.8 619.4h0M270.2 619.8h0M265.1 616.7h0M261.9 620.8h0M247 617.8h0M253.9 626.2h0M253.8 617.1h0M260.1 629.7h0M265.7 609.3h0M255.5 616.8h0M261.9 614.3h0M275.2 618.7h0M260 614.8h0M248 622.1h0M249.9 617.4h0M265.5 607.6h0M254.9 634.1h0M252.9 624.6h0M257.5 612.4h0M268.1 613.2h0M262.9 609.2h0M264.4 614.6h0M261.9 613.3h0M252.9 618.1h0M251.5 630.1h0M248.6 626.6h0M263.1 610.4h0M253.1 628.7h0M247.9 627.9h0M269.3 608.2h0M255.9 630h0M264.8 621.4h0M247.8 626.3h0M268.3 608h0M257.8 638.4h0M269 621.2h0M266.2 611.7h0M254 622.6h0M245.5 626.2h0M253 632.6h0M246.7 625.1h0M264.4 613.6h0M260.3 619.1h0M266.8 610h0M257.6 611.8h0M258.2 614.1h0M248.9 621.4h0M254.6 626.2h0M268.9 608.7h0M271.3 612.2h0M258.6 621.2h0M265.5 613h0M264.2 614.8h0M251.1 620.3h0M250.4 623h0M260.7 610.1h0M267.3 607.6h0M264.6 604h0M254.7 620.7h0M245.4 623.6h0M252.6 620.1h0M246.3 624.4h0M268.4 607.8h0M258.1 626.3h0M270 615.4h0M246.3 616.8h0M266.3 606.8h0M256.4 616.7h0M265.5 611.4h0M261.6 617.4h0M253.3 631.4h0M249.7 627.1h0M255.2 621.2h0M269.6 613.7h0M270.8 613.5h0M264.7 615.9h0M261.2 617h0M250.5 629.5h0M264.3 606.1h0M265.3 618.6h0M259.1 614.1h0M260.3 605.7h0M249.6 620.6h0M264.3 619.3h0M271.6 624.1h0M260.6 609.6h0M247.8 624.8h0M264.7 615.1h0M262.2 605h0M262.1 616.6h0M250.8 624.7h0M270.2 612.5h0M248.6 625.3h0M253.8 625.2h0M267.1 612.1h0M256.3 612.4h0M253.9 620.8h0M269.3 616.6h0M258.8 612.5h0M247 622.9h0M255.2 626.5h0M265.8 612.7h0M264.3 611.1h0M250.1 628.1h0M258.1 617.1h0M260.3 611.2h0M256 623.4h0M258.7 622.2h0M268.9 610.5h0M256.3 606.4h0M265.1 610.5h0M262.2 615h0M257.2 626.1h0M249.5 619.1h0M250.7 624.3h0M258.9 622.9h0M253.8 619.6h0M249.1 617.9h0M263.6 607.6h0M256.2 604.9h0M254.1 614.2h0M266.2 606.6h0M261.8 614.4h0M265.6 606.4h0M260.8 606.9h0M258 612.2h0M258.6 610.3h0M263 611.3h0M260.9 609.9h0M261.8 605.9h0M255.3 622h0M259.5 625.3h0M247.1 617.5h0M264.9 607h0M267.9 610.8h0M256.1 618.4h0M256.8 620.9h0M256.8 632.4h0M268.5 608.4h0M266.3 619.1h0M267 607.4h0M261.2 615.5h0M254.6 613.8h0M263.6 613.1h0M264.9 608.4h0M266.2 611.6h0M256.1 622.6h0M262.8 622.6h0M264 605.1h0M257.6 617.3h0M266.3 613.5h0M257.9 616.7h0M266.3 612.3h0M251.8 630h0M246.7 627.7h0M245 622.1h0M257.6 620.3h0M260 625.7h0M269.6 610.2h0M262.5 601.2h0M253.5 628.9h0M261.1 606.8h0M259 618.6h0M262.7 608.2h0M255.7 621.1h0M268.9 617.5h0M249.3 630.2h0M250.4 611.5h0M255 622h0M251 621.4h0M255 623.4h0M256.8 620.2h0M256.9 617h0M257 615.8h0M255.6 605.4h0M264.9 611h0M268.2 608.7h0M263.7 616.6h0M257.3 627.6h0M265 621.7h0M254.6 617h0M258.7 630h0M249.9 616.8h0M249.6 620.9h0M259.8 618.1h0M253.3 631.7h0M258.8 617h0M256.1 619.8h0M243.6 624.2h0M255.8 625.3h0M269.1 609.2h0M259.9 616.4h0M250 628.4h0M261.7 618.4h0M267.9 619.4h0M256.5 632.1h0M258.2 622.3h0M252.8 624.9h0M255.6 613.7h0M257.1 603.2h0M247 617.7h0M249.1 624.2h0M243.5 618.5h0M260.8 615.9h0M251 629.2h0M251 609.6h0M268 614.9h0M264.9 613.7h0M262.4 615.2h0M242.4 622.8h0M258.6 621.4h0M250.1 620.8h0M259.7 619h0M255.3 630.1h0M249.6 624.9h0M266.9 607.7h0M269.8 613.7h0M252.9 629.9h0M267.5 613.6h0M245.4 623.6h0M253.2 619.8h0M267.5 606.6h0M265.6 606.9h0M258.9 620.3h0M260.7 612h0M257.6 622.5h0M269.7 615h0M256.5 624.3h0M251.2 623.5h0M250.3 625.2h0M257.3 611.6h0M264.8 622.4h0M267.1 610.1h0M249.2 624h0M267.5 614.7h0M266.4 607.6h0M264.5 614.1h0M254.2 630.5h0M246.6 621.1h0M254.6 632.1h0M251.3 618.1h0M264.8 613.8h0M254.1 629.2h0M259.9 622h0M251.3 630.5h0M264.5 617h0M248.7 625.5h0M270.3 618h0M256.3 611.3h0M248.8 621.8h0M257.6 609h0M258.1 624.5h0M266.2 625.3h0M261.3 618.9h0M253.8 623.4h0M255.3 618.7h0M265.7 613.6h0M265.9 610.4h0M264.8 610h0M264.5 621.7h0M259.8 603.9h0M254.7 630h0M267.2 606.7h0M244.5 623.6h0M268.9 612.1h0M264.1 611.7h0M250.3 614.8h0M265 612.7h0M264.1 604.6h0M249.9 624h0M260.4 614h0M245 625.8h0M262.2 615.2h0M249.7 628.1h0M258.3 611.1h0M247.2 627.1h0M254.4 618.3h0M269.6 614.1h0M253.9 622h0M263.8 603.8h0M254.4 615.5h0M250.2 623.6h0M268.8 610.3h0M253.1 627.7h0M258.5 614.4h0M262.5 603.6h0M267 608.3h0M254.9 612.3h0M253 625.1h0M254.1 613.8h0M257 625.8h0M253.5 621.3h0M257.7 625.5h0M249.6 622.1h0M246.2 625.6h0M266.3 615.8h0M250.6 631.2h0M261 617.9h0M260.1 625.8h0M264.2 617.9h0M262.5 619.1h0M255 615.7h0M259.2 607.3h0M261 617.9h0M267.2 610.4h0M259.1 615.4h0M267.5 611.6h0M266.5 611.1h0M259.5 610.7h0M253.7 620.8h0M258 618.5h0M251.4 629.1h0M257.8 608.1h0M263.1 616.9h0M264.2 610.7h0M253.2 630.8h0M252.5 628.2h0M260.7 614.5h0M264.1 614.3h0M247.1 625h0M248 627.7h0M258.9 626.4h0M262.3 629.2h0M245 623.7h0M251.8 628.8h0M247 619.3h0M247.8 628.3h0M253.5 628.4h0M246 625.9h0M256.2 621.6h0M263.1 612.6h0M264.4 617.6h0M258.1 613.5h0M253.7 614.9h0M253.2 626.4h0M241.9 620.8h0M253.3 626.6h0M266.5 607.5h0M269.9 616.7h0M265.8 622.9h0M253.4 608.4h0M258.4 607.9h0M260.9 607.1h0M258.2 629.2h0M263.5 610.7h0M259.7 613.3h0M253.1 622.4h0M252.6 621.5h0M254.2 628.1h0M259.5 617.5h0M271.5 611.8h0M265.2 612.9h0M249.7 623.6h0M253 629.1h0M254.4 623.6h0M252.6 626.8h0M250.5 625.5h0M259.8 609.9h0M253.4 621.1h0M258.1 615.2h0M258.9 626.8h0M269.3 608.8h0M257.2 613.2h0M253.7 629h0M265.2 613.5h0M256.8 625.7h0M252.7 614.4h0M255.1 624h0M260.2 620.6h0M252 620h0M250.7 618.1h0M249 623.4h0M264.4 604.8h0M251.2 623.5h0M253.9 623h0M257.6 621.4h0M251.9 628.1h0M254.3 625.8h0M254.9 618.7h0M260.1 616.5h0M258.5 616.9h0M253.3 618.7h0M261.9 614.4h0M267.6 617.3h0M255.7 625.7h0M256.3 627.3h0M266.9 621.7h0M255.8 619.5h0M268.8 614.9h0M252.6 633.4h0M262.4 620.7h0M252 618.2h0M253.1 625.2h0M262.4 606.7h0M252.4 624.3h0M265.5 613.3h0M263.5 608.5h0M265.8 605.9h0M249.6 625.7h0M254.7 629.3h0M251.1 628.6h0M258.2 625.8h0M267.3 610.1h0M260.7 614.6h0M245.3 619.7h0M244.5 621h0M261 610.3h0M257.5 612.1h0M246.8 627.7h0M246.5 619.4h0M248.3 625.1h0M266.9 606h0M253.7 615.3h0M259.8 614.8h0M250.9 623.3h0M258.7 624h0M258 611.6h0M262.7 612.2h0M263.8 606.5h0M253.5 624.1h0M258.5 629.6h0M254.4 618.3h0M250.2 618.1h0M268.9 615.5h0M258.6 624h0M256.4 621.7h0M258.9 618.8h0M265 622.4h0M249.2 615.2h0M244 624.6h0M265 615h0M256.8 633.2h0M264.2 609.2h0M246.2 616.7h0M250.2 620.4h0M255 613.3h0M269.6 612.4h0M254.8 619.7h0M262.6 623.5h0M249.7 613.1h0M247.8 624.1h0M260.6 629.7h0M272.8 615.3h0M265.6 606.9h0M252.5 622.8h0M267.8 610h0M245.7 626h0M256 606.5h0M246.8 626.7h0M262.5 625.7h0M256.8 620.4h0M261 623.8h0M269.9 611.3h0M253.9 620h0M248.7 629h0M253.9 630.4h0M263.3 612.7h0M253.4 629.1h0M246.9 625.4h0M252.5 625.3h0M266.7 606.4h0M257.8 620.1h0M248 622.7h0M261.8 615.1h0M255.6 620.7h0M261 618.8h0M267.9 606.9h0M268.1 619.8h0M270.7 609.6h0M257.9 617.6h0M258.7 620.6h0M267 612.2h0M266.3 606.8h0M264.3 615h0M256.7 622.4h0M260.6 624.8h0M251.3 632.1h0M256.5 627.6h0M257.9 606h0M262.3 622.8h0M269 614h0M261 613.7h0M254.8 611.8h0M270 617.2h0M263.1 623.3h0M261.2 614h0M256.8 617.1h0M259.7 626h0M269.5 618.5h0M252.8 630.9h0M265.6 605.3h0M267.8 608.3h0M262.5 608.4h0M257.8 619.1h0M257.2 619.2h0M254 618h0M257.6 619.3h0M251.5 623.2h0M267.3 614.7h0M268 611.9h0M256.6 616.4h0M266.2 611.3h0M256.2 625h0M263.4 608.1h0M266.2 606.1h0M261.7 614.4h0M287.7 592.7h0M278.2 591.3h0M279.4 601.7h0M274.6 611.5h0M273.3 607.7h0M286 595.7h0M275.8 608.4h0M284.3 599.1h0M268.5 601.6h0M278.8 590.9h0M280.2 585.3h0M276.8 593.8h0M270.8 608.3h0M277.7 590.5h0M278.8 600.9h0M284.7 593.1h0M275 608.7h0M269.4 598.2h0M281.2 587.5h0M284.6 594h0M285.3 592.2h0M277.5 597.9h0M279.6 594.6h0M281.9 587.8h0M279.8 595.4h0M268.7 604.4h0M276.2 609.7h0M269.6 608.3h0M276.4 611.5h0M263.1 600.8h0M270.6 595.8h0M276.9 593.9h0M279.8 588.2h0M269 593.3h0M268.2 601.3h0M289.6 596.5h0M285.1 591.7h0M293.3 597.9h0M271.6 609.7h0M282.9 601h0M279.5 596.1h0M276.5 596.5h0M274.9 607.2h0M285.5 591.9h0M276.9 596.8h0M269.7 607.2h0M275.2 601.8h0M289.1 602.5h0M273.5 605.3h0M279.4 590.8h0M271.4 602.8h0M281 604.7h0M274.5 603.1h0M269.9 604.2h0M287.1 594.9h0M272.3 599h0M284.2 596.7h0M285.1 592.6h0M273.8 602.7h0M261.3 599.7h0M278.7 599.1h0M274.5 605.1h0M281.4 589.4h0M273 606h0M280.5 593.9h0M276.4 614.6h0M272.3 601.5h0M272.1 603.9h0M287.6 596.6h0M274.5 592.1h0M280.8 596.4h0M270.6 606.6h0M278.3 606.3h0M289.4 597h0M281.1 598.4h0M286.7 599h0M275.7 596.8h0M269.3 600.8h0M286.5 593.2h0M278.5 608.1h0M272.8 605.7h0M283.3 599.4h0M269.5 605.3h0M281.3 593.1h0M282.3 596.1h0M275 600.3h0M274.1 594.7h0M271.4 592.9h0M271.6 607.8h0M267.6 603.5h0M275.5 601.9h0M272.2 610.9h0M267.6 599.7h0M273.6 599.5h0M279 595.7h0M276.4 597h0M272.1 604.9h0M285.2 597.4h0M276.5 587.2h0M277.1 592.5h0M279.7 594.2h0M269.8 599.6h0M278.9 588.1h0M279.4 597.6h0M269.7 602.3h0M281.5 596.3h0M277.4 594h0M279.3 598.1h0M283.1 594.9h0M279.6 592.6h0M277.3 595.3h0M270.9 607.3h0M269.5 600.1h0M285.9 590.2h0M276.9 601.6h0M279.6 596.1h0M273.3 607.6h0M274.6 593.2h0M277.1 594.4h0M278.6 590.5h0M289.9 594.7h0M275.6 598.4h0M276.6 604.4h0M271.1 604.3h0M270.2 597.1h0M275.4 598.6h0M285.9 590.8h0M273.8 594.5h0M277 591.9h0M275.2 588h0M275 613.5h0M271.6 602.1h0M279.3 599.2h0M272.5 609.4h0M270.8 604.3h0M285.5 597.9h0M287.6 603h0M274 608h0M271.5 606.2h0M277.1 586h0M279.2 601.4h0M277.9 605.7h0M287.6 601.3h0M281.4 596.7h0M286.6 590.5h0M269.9 605.1h0M286.7 598.6h0M279.1 601.8h0M280.4 610.7h0M276.7 597.9h0M274.1 612.4h0M279.8 614.5h0M266.7 601.5h0M278.9 593.3h0M279.7 593.6h0M271.7 601.9h0M277.3 605.4h0M278.5 590h0M278.8 604h0M268.3 594.7h0M284.3 589.8h0M284.1 603.9h0M275.1 594.9h0M272.7 589.8h0M270.1 607.5h0M272 596.7h0M283 594h0M282 597.9h0M292.5 600.3h0M269.9 597.7h0M278.3 600.4h0M271.4 601.9h0M275.5 607.9h0M273.2 608.9h0M268.4 600.1h0M272.7 605.8h0M277.5 600.9h0M279.9 604.3h0M281.1 593.1h0M279.5 590.9h0M279.5 599.3h0M280.6 596.3h0M280.7 603.2h0M269.3 597.1h0M279.4 600.5h0M280 596.7h0M279.6 584.6h0M283.5 593.6h0M274.9 611.5h0M282.7 599.1h0M271.3 607h0M273.5 590.2h0M282.6 591.5h0M281.4 595.7h0M267.9 602.4h0M271.6 595.4h0M274.5 606.5h0M275.3 590.7h0M278.1 591.8h0M279.9 592.7h0M282.6 609.1h0M278.3 596h0M267.6 598.9h0M285.6 591.7h0M277.2 582.8h0M268.8 606.6h0M281.7 600.8h0M279 592.5h0M271.6 602.2h0M266.4 603.9h0M269.3 608.1h0M276.5 590.3h0M270.6 609h0M274.8 600h0M286.5 597.4h0M272.1 609.2h0M280.1 594.1h0M278.2 601.9h0M276.8 601.9h0M277.6 599.4h0M273.8 600.2h0M280.9 589.4h0M277.6 592.8h0M271.9 596.9h0M269.9 604.5h0M279.1 600.2h0M291.1 594.9h0M285.2 592.6h0M272.4 608.9h0M280.8 607.2h0M271.2 593.3h0M281.7 606.4h0M269.3 604.1h0M269.9 602.1h0M278.6 598.6h0M280.9 594.5h0M282.7 598h0M274.4 589.3h0M271.3 609.9h0M277.1 608.4h0M277.7 604.8h0M275.1 605h0M275.1 600.3h0M274.3 599.1h0M279.5 606.5h0M267.5 606h0M276.1 584.2h0M287.5 592.7h0M279.7 596.8h0M270.9 600.1h0M272.3 595.2h0M286.6 593.4h0M282.1 599.9h0M284 598.4h0M277 591.1h0M282.5 586.7h0M287.1 603.1h0M277.6 612.8h0M281.4 602.6h0M289.5 596h0M269.4 603.6h0M268.7 605.7h0M262.9 599.7h0M267.1 603.4h0M271 604h0M278 589.5h0M281.9 599.7h0M285.9 599.1h0M278.1 597.3h0M271.5 597.8h0M287.6 598.9h0M268.5 601.2h0M271.9 598h0M277.4 601.7h0M279.8 594.6h0M282.6 594.7h0M278.1 596.9h0M276.4 593.7h0M276.1 605.1h0M275.3 593.2h0M280.2 589.3h0M273.1 596.4h0M288.2 600.7h0M283.6 604.7h0M275.1 595.8h0M281 598.5h0M273.3 607.2h0M274.8 606.1h0M276.1 608.8h0M278.8 598.8h0M282.6 597.9h0M283 597h0M270.5 602h0M278.3 605.5h0M267.3 600.9h0M287.3 603.3h0M277.8 607.2h0M270.5 601.3h0M281.9 587.3h0M276.9 598.8h0M283.2 587.1h0M274.5 602h0M278.2 609.6h0M279.8 593.4h0M280.5 587.1h0M273.2 606.3h0M289.2 597.8h0M280.7 598.9h0M283.1 590.1h0M283.9 589.4h0M272.2 595.9h0M283 588.6h0M270 602.4h0M282.9 606.3h0M268.7 591.7h0M272.6 602.8h0M274 595.7h0M282.8 595.1h0M270.9 605.9h0M276.7 598.6h0M272.4 592.5h0M266.8 598.6h0M277.6 593.7h0M266.2 596h0M279.8 598.5h0M276.7 595.3h0M302.8 574.9h0M301.4 565.4h0M305 569.5h0M293.4 575.7h0M285.5 577.9h0M297.9 591.5h0M295.7 565.9h0M300.7 572.2h0M303.3 573.4h0M309 577.5h0M298.5 578.3h0M311.5 577.4h0M299.3 575.1h0M299.5 576.5h0M297.8 565.9h0M300.4 576.5h0M298.6 569.7h0M301.7 565.9h0M287.9 574.6h0M302.2 574.1h0M289.5 580.4h0M300.6 583.8h0M307.4 574.2h0M306.9 569.4h0M305.6 569.2h0M305.3 577h0M304.7 572.6h0M302.1 568.3h0M299.9 577.8h0M291.4 584.8h0M289.2 592.2h0M297.5 568.9h0M296.3 567.6h0M300.4 573.2h0M298.3 577.4h0M294.5 570.2h0M299.3 572.6h0M298.9 580.1h0M303.6 579.5h0M292.5 586.7h0M290.3 571.2h0M300.7 577.8h0M291.2 583.9h0M289.2 587.5h0M295.4 571.3h0M289 587.9h0M301.2 571.2h0M293.1 589.2h0M305.7 576.8h0M295.5 584.1h0M303.9 569.4h0M292.8 586.9h0M295.7 592.9h0M298.4 573.5h0M302.4 573.4h0M293.9 582.8h0M297.5 581.2h0M306.4 582.3h0M286.6 577.6h0M295.4 582.6h0M296 575.7h0M287.4 578.1h0M285 582.4h0M304.1 569.3h0M288.3 586.8h0M305.4 567.3h0M300.6 568.5h0M293.4 578.1h0M305.1 572.4h0M285.6 586.5h0M296.4 576.2h0M291.1 579.7h0M291.4 582.3h0M300.3 566h0M285.9 587.9h0M301.1 568.2h0M287.3 587.6h0M301.7 576.7h0M295 586.6h0M297.3 578.6h0M303.5 567.9h0M298.6 568.4h0M288.2 587.6h0M293.9 584.7h0M297.5 580.6h0M296.8 570.1h0M285.6 588.9h0M305.3 572.5h0M301.1 569.1h0M309.7 573.1h0M289.6 584.7h0M290.4 585h0M303.6 572h0M300 582h0M287.6 580.8h0M280.5 583.2h0M294.8 589.4h0M299.5 574.6h0M299.1 571.7h0M286.4 574.8h0M306.2 571.1h0M299.3 581.5h0M296.6 578.3h0M287.9 574.7h0M294 580.6h0M292.5 580.9h0M297.6 566.2h0M301.4 586.6h0M297.9 592h0M292.1 577.3h0M302.7 567.2h0M303.3 580h0M286.2 585.4h0M294.4 580.3h0M294.9 578.7h0M288.8 591.9h0M307.2 570.2h0M307.5 572.5h0M287.7 587.1h0M298 578.3h0M286.6 576.9h0M288.1 582.7h0M296.8 589h0M285.5 586.8h0M295.8 570.2h0M292.6 580.7h0M297.1 571.1h0M302.9 572.1h0M295.6 575h0M295.8 585h0M286.1 583.7h0M303.5 579.8h0M295.9 570.9h0M306.6 577.4h0M295.8 593.8h0M285 586.6h0M304.6 571.1h0M298.1 576.1h0M286.3 585.9h0M300.6 574.3h0M290 591.3h0M298.3 575.2h0M296.3 576.5h0M299.2 572.6h0M281 580.5h0M306.9 572.2h0M305.2 569.1h0M304.6 566.6h0M303.1 574.4h0M296.3 586.9h0M307.9 570.2h0M295.4 573h0M301.6 574.9h0M297.7 573.3h0M292.6 587.5h0M302.2 569.8h0M301.3 577.7h0M293.3 587.6h0M293.3 581h0M288.6 586.2h0M290.4 575.6h0M311.3 573.3h0M292.3 579.6h0M289.2 575.9h0M298.4 568h0M288.8 589h0M290.6 589.2h0M302.8 575h0M287.5 585.6h0M298 575.7h0M301.8 570.8h0M295.7 575.5h0M291.1 591.4h0M293.9 588.9h0M300.8 581.7h0M309.7 573.2h0M299.7 575.7h0M299.4 573.5h0M290.5 568.8h0M290.8 580.6h0M298.4 576.3h0M281.2 584.3h0M296.6 582.8h0M301.7 571h0M286.8 581.7h0M296.9 573.1h0M299.6 572.7h0M290.2 587.3h0M307.4 574.9h0M309.2 560.3h0M327.5 548.2h0M310.9 557.7h0M315.4 550.8h0M325.1 546.4h0M328.4 555.3h0M318.2 559.1h0M305.7 558.7h0M317.5 552.9h0M313.8 550.2h0M313 571.8h0M313.7 558.9h0M325.1 547.6h0M320.9 560.2h0M311 564.8h0M316.2 550.2h0M313.4 555.5h0M326 548.8h0M314.8 555.4h0M302.7 562.8h0M311.8 566.4h0M308.3 562.2h0M322.4 543.4h0M314.9 561.1h0M309.1 555.6h0M326 546.2h0M306.7 559.2h0M315.8 550.8h0M324.5 545.7h0M325.2 548.1h0M310.6 565.2h0M314.8 556.2h0M310.1 560.8h0M316.1 547.8h0M310.8 561.8h0M308.2 562h0M306.4 556.2h0M307.3 563.1h0M319.1 550.1h0M306.8 556.2h0M313.5 558h0M310.1 559.8h0M311.3 556.5h0M312.1 560.6h0M315.9 562.4h0M324.3 555.8h0M309.6 563.6h0M316.6 548.9h0M309.9 556.5h0M302.9 560.1h0M305.4 561.6h0M326 549.4h0M310.4 570h0M312.6 562.3h0M324.2 549.1h0M309.2 567.2h0M307.3 559.6h0M313.2 563.3h0M321.2 547.2h0M305.7 562.1h0M330 551.5h0M309.1 565.4h0M313.7 551.1h0M319.2 547.8h0M316.7 554.5h0M319.1 559.1h0M316.5 559.4h0M310.5 561.1h0M322.6 541.9h0M312.5 556.7h0M319 553.3h0M316.9 553.7h0M323.3 544h0M315.4 566.6h0M311.4 566.3h0M344.9 526h0M333.5 531h0M336.6 528.6h0M341.5 534.2h0M342.5 528.6h0M345.8 529.5h0M342 531.5h0M326 544.9h0M344.7 528.5h0M328.7 546.1h0M347.4 530.3h0M330.7 549.9h0M342.9 529.3h0M339 531.2h0M325.1 543.1h0M344.2 531.6h0M340.4 535h0M325.3 539.2h0M343.4 525.4h0M336.1 530.2h0M337.5 537.1h0M347.9 527.2h0M333.7 544.3h0M327.2 538.8h0M348 529.5h0M334.4 546.9h0M345.4 530h0M327.1 537.3h0M343.2 527.9h0M334.1 536h0M338.8 531.8h0M339.1 532.5h0M335 537.4h0M341 538.3h0M335.2 526.7h0M329.5 542.9h0M342 522.3h0M347.8 532.2h0M329.1 539.4h0M334.2 543.9h0M338.1 540.6h0M341.6 528.1h0M368.3 508.9h0M358.2 512.9h0M371.3 494h0M354.3 517.4h0M367.6 494.4h0M370 493.7h0M351.1 520.8h0M363.4 500h0M369.2 504.3h0M380.1 488.5h0M355.2 510.9h0M358.3 502.6h0M376 486.9h0M346.4 514h0M411.3 461h0M386.9 470h0M392.8 477.5h0M410.5 453.8h0M388.7 470.2h0M386.6 477.3h0M383.8 476.9h0M404.5 467h0M102.7 791.4h0M105.2 795.5h0M113.3 782.6h0M118.3 782.2h0M121.1 781.3h0M121.5 781.9h0M108.3 787h0M119.8 774.1h0M114.3 782.3h0M116 785.4h0M116.3 778.1h0M106.9 793.1h0M121.9 777.6h0M109.4 785.9h0M103.4 802.2h0M112 784.8h0M113.7 786.8h0M113.7 782.5h0M114.3 787.1h0M122.7 780.5h0M113.2 785.3h0M118.1 780.1h0M117.4 783.4h0M113.5 787.9h0M114.2 780.2h0M121 782.4h0M106.7 791h0M118.2 782.7h0M109.8 784.1h0M115.9 778.1h0M418.8 438.6h0M437.4 431.5h0M458.1 410.7h0M590.3 274h0M604.4 262.9h0M662.5 200.3h0M413 447h0M407 452h0" stroke="#595959" stroke-width="4.2" stroke-linecap="round" fill="none"/>
<path d="M113.8 794.6h0M125.7 789.4h0M131.7 782.6h0M134.8 783.8h0M147.5 781.8h0M162.9 776.7h0M176.1 774.1h0M196.7 768h0M204.4 768h0M150.4 764.6h0M155.7 769.2h0M158.9 756.6h0M153.8 751.1h0M169.7 734.8h0M179.9 734.1h0M187.5 722h0M190.8 718h0M212.9 724.4h0M214.3 710.1h0M228.7 674.9h0M244 662.3h0M245.7 659.6h0M252 664h0M264 642.2h0M273.8 631.8h0M284.9 619.6h0M349.1 552.6h0" stroke="#2ecc71" stroke-width="4.2" stroke-linecap="round" fill="none"/>
</g>
<rect x="52.8" y="48.5" width="762.2" height="785.5" fill="none" stroke="#444" stroke-width="1.2"/>
<line x1="86.8" y1="834.0" x2="86.8" y2="838.6" stroke="#444" stroke-width="1.2"/>
<text x="86.8" y="856" font-size="14.6" fill="#4d4d4d" text-anchor="middle">0</text>
<line x1="48.199999999999996" y1="798.8" x2="52.8" y2="798.8" stroke="#444" stroke-width="1.2"/>
<text x="42" y="804" font-size="14.6" fill="#4d4d4d" text-anchor="end">0</text>
<line x1="260.3" y1="834.0" x2="260.3" y2="838.6" stroke="#444" stroke-width="1.2"/>
<text x="260.3" y="856" font-size="14.6" fill="#4d4d4d" text-anchor="middle">5</text>
<line x1="48.199999999999996" y1="620.3" x2="52.8" y2="620.3" stroke="#444" stroke-width="1.2"/>
<text x="42" y="625.5" font-size="14.6" fill="#4d4d4d" text-anchor="end">5</text>
<line x1="433.8" y1="834.0" x2="433.8" y2="838.6" stroke="#444" stroke-width="1.2"/>
<text x="433.8" y="856" font-size="14.6" fill="#4d4d4d" text-anchor="middle">10</text>
<line x1="48.199999999999996" y1="441.8" x2="52.8" y2="441.8" stroke="#444" stroke-width="1.2"/>
<text x="42" y="447" font-size="14.6" fill="#4d4d4d" text-anchor="end">10</text>
<line x1="607.3" y1="834.0" x2="607.3" y2="838.6" stroke="#444" stroke-width="1.2"/>
<text x="607.3" y="856" font-size="14.6" fill="#4d4d4d" text-anchor="middle">15</text>
<line x1="48.199999999999996" y1="263.3" x2="52.8" y2="263.3" stroke="#444" stroke-width="1.2"/>
<text x="42" y="268.5" font-size="14.6" fill="#4d4d4d" text-anchor="end">15</text>
<line x1="780.8" y1="834.0" x2="780.8" y2="838.6" stroke="#444" stroke-width="1.2"/>
<text x="780.8" y="856" font-size="14.6" fill="#4d4d4d" text-anchor="middle">20</text>
<line x1="48.199999999999996" y1="84.8" x2="52.8" y2="84.8" stroke="#444" stroke-width="1.2"/>
<text x="42" y="90" font-size="14.6" fill="#4d4d4d" text-anchor="end">20</text>
<text x="433.9" y="879.2" font-size="18.3" fill="#000" text-anchor="middle">TB</text>
<text x="15.8" y="441.7" font-size="19.4" fill="#000" text-anchor="middle" transform="rotate(-90 15.8 441.7)">TYB</text>
<text x="123.8" y="83.5" font-size="17.76" fill="#000">pearson correlation: 0.99</text>
<circle cx="108.2" cy="106.7" r="2.3" fill="#cb2626"/>
<text x="127.7" y="113.1" font-size="17.76" fill="#000">up_regulated genes (167)</text>
<circle cx="108.2" cy="137.8" r="2.3" fill="#595959"/>
<text x="127.7" y="144.2" font-size="17.76" fill="#000">not differential expressed (10724)</text>
<circle cx="108.2" cy="168.9" r="2.3" fill="#2ecc71"/>
<text x="127.7" y="175.3" font-size="17.76" fill="#000">down_regulated genes (28)</text>
<text transform="translate(926.7 36.8) scale(0.85 1)" font-size="31.4">B</text>
<text x="1243" y="16.4" font-size="22.2" fill="#000" text-anchor="middle">TYB vs TB</text>
<clipPath id="cb"><rect x="880.5" y="146.2" width="724.8" height="690.9000000000001"/></clipPath>
<g clip-path="url(#cb)">
<path d="M1236.7 799h0M1219.2 773.5h0M1219.8 778.9h0M1179.3 690.1h0M1217.8 737.4h0M1241.3 803.6h0M1234 786.7h0M1235.2 787.5h0M1205.4 729.8h0M1232 773.4h0M1223 771.9h0M1200.2 739.3h0M1239.1 796.9h0M1178.4 704.6h0M1211.8 754.8h0M1191.6 774.5h0M1228.9 788.1h0M1174.7 712.6h0M1162.7 723.9h0M1192 731h0M1210.6 756.7h0M1296.2 761.3h0M1217.5 754.1h0M1233.8 795.7h0M1207.1 759h0M1292.1 679.3h0M1305.3 631.3h0M1216.9 733.5h0M1256.4 763.8h0M1232 777.9h0M1248 786.9h0M1265.3 709.5h0M1245.4 800.3h0M1296.7 633.2h0M1242.1 805.2h0M1263.5 718.5h0M1250.4 772.4h0M1242.4 806h0M1235.9 795.3h0M1261.2 779.9h0M1316.2 585h0M1231.2 789.7h0M1312.5 687.4h0M1163.8 704.1h0M1285.3 665.7h0M1248.7 796.4h0M1268.4 767.2h0M1261.4 691.6h0M1267 739.6h0M1288.7 692.1h0M1257.1 745.1h0M1266.1 712.9h0M1219.4 778.6h0M1260.7 771.6h0M1258.7 764.5h0M1231.2 770h0M1282.1 698h0M1238 797.3h0M1256.8 744.3h0M1260.4 695.1h0M1264.6 778.9h0M1295.7 683.5h0M1270 670.4h0M1228.9 793.7h0M1286.6 588.7h0M1245.9 795.6h0M1297.5 669.6h0M1218 738.2h0M1191.6 689.8h0M1290.2 738.2h0M1239.4 797.3h0M1299.4 650.2h0M1282.7 554.7h0M1267.1 763.5h0M1257.1 789.1h0M1257.9 674.7h0M1267.2 669.5h0M1292.9 676.7h0M1242.8 804.8h0M1283 683.4h0M1284.2 720.7h0M1227.4 771.9h0M1258.4 781.7h0M1290.5 642.6h0M1261.8 782.9h0M1223.7 747.5h0M1274.8 677.1h0M1272.5 654.2h0M1247.5 781.2h0M1261.5 752.7h0M1275 712.4h0M1240.5 801.4h0M1261.1 719.8h0M1291.6 599h0M1322.1 663.5h0M1272.4 730.7h0M1269 775.5h0M1223.5 741.5h0M1327.2 751.6h0M1245.3 796.7h0M1242.3 805.1h0M1255.7 759.8h0M1260.8 766.2h0M1286.1 612.2h0M1258.3 775.7h0M1254.9 780.4h0M1296.2 571.5h0M1185.5 733.4h0M1249.8 780.5h0M1212.2 771.1h0M1275.5 726.9h0M1288.4 635.7h0M1258.9 746.8h0M1269.8 736.1h0M1283.8 757.2h0M1220.6 756.7h0M1247.9 783.4h0M1257.3 753.2h0M1280.2 711.5h0M1269.6 689.5h0M1263.9 751.8h0M1300.4 690.9h0M1228 757.1h0M1258.5 726.4h0M1270.5 745.4h0M1249.9 788.9h0M1272.5 749.9h0M1278.8 722.8h0M1261.6 707.8h0M1307.6 649.9h0M1218.5 763.7h0M1222.1 722.6h0M1274.8 656.2h0M1278.1 611.7h0M1253.3 765.9h0M1194.1 728.8h0M1282.9 615.8h0M1293.8 722.4h0M1273.6 688.9h0M1247.3 780.3h0M1239.1 801.9h0M1288.2 691h0M1240.1 796.7h0M1258.6 756.4h0M1275.4 739.7h0M1300.6 571h0M1260 704.2h0M1218.8 737.6h0M1276.2 651.6h0M1271.2 694h0M1272.4 677.7h0M1252.9 751h0M1254.9 750.7h0M1292.4 665.1h0M1273.6 756.9h0M1245.5 795.1h0M1278.2 725.9h0M1263.6 734.5h0M1278.9 786.6h0M1219.5 767.2h0M1214 744h0M1267 730.2h0M1259.4 738.7h0M1293.8 759.9h0M1281 766.7h0M1246 802.4h0M1253.1 762.8h0M1248.8 792.6h0M1219.5 749.4h0M1244.7 796.1h0M1249.5 790.8h0M1281.6 559.6h0M1266.3 682.1h0M1288.9 707.3h0M1263.2 603.7h0M1259.3 787.4h0M1241.8 803.7h0M1278.2 660.8h0M1258.9 760.5h0M1284.9 636h0M1318.6 505.1h0M1265.5 706.8h0M1300.7 628.7h0M1256.6 742.1h0M1262.7 750.5h0M1276.7 705.7h0M1303.9 565.9h0M1312.8 705.8h0M1303.2 581.2h0M1260.1 743.3h0M1281.1 783.9h0M1273.3 776.2h0M1293.1 698.5h0M1260.2 753.3h0M1261 790.5h0M1283 708.7h0M1262.5 749.9h0M1297.1 612.5h0M1256.5 788.5h0M1283.2 625.9h0M1267.6 606.5h0M1297.8 707.9h0M1257.1 776.2h0M1211.3 763.2h0M1315.3 630.3h0M1297.6 623.3h0M1279.3 683.2h0M1254.3 733.6h0M1265.5 662.3h0M1243.5 802.8h0M1288.6 587.5h0M1269.7 744.2h0M1259.5 687.8h0M1271.1 548.4h0M1248.9 773.9h0M1261.9 740.7h0M1269.1 765.5h0M1246.4 799.8h0M1226.7 751.5h0M1318.2 657.7h0M1248.2 780.8h0M1275.3 683.7h0M1263.2 722.8h0M1247.9 786h0M1277.8 715.5h0M1237.5 797h0M1219.3 770.2h0M1248.8 796.6h0M1321.9 725.7h0M1297.5 766h0M1275 749.4h0M1247 790.4h0M1245.3 799.5h0M1291.2 670.3h0M1289.4 637.3h0M1272.7 737h0M1283.2 746.3h0M1279 635.6h0M1233.9 769.9h0M1223.9 744.6h0M1261.3 719h0M1251.3 779.8h0M1246.4 783.5h0M1294.4 632.5h0M1265 715.4h0M1266.8 768.1h0M1258 787.2h0M1254.9 786.7h0M1267.1 646.8h0M1272.9 731.5h0M1302.4 664.6h0M1260.4 732h0M1256.1 731.9h0M1303.2 656.1h0M1241.4 803.2h0M1324.1 751.6h0M1270.6 739.2h0M1276.4 667.9h0M1274.1 724.8h0M1270 731.3h0M1225.1 758.7h0M1255.1 755.8h0M1258.5 743.1h0M1228.5 752.3h0M1278.8 631.4h0M1313.3 671.2h0M1278.7 699.5h0M1263.4 756.7h0M1225.1 764.7h0M1251.9 777.7h0M1278.2 718h0M1255.3 786.3h0M1283 667.4h0M1226.8 767.3h0M1281.9 675.7h0M1274.5 550.8h0M1247.5 797h0M1265.9 679.3h0M1296.8 633.8h0M1238.6 795.1h0M1270.2 700.1h0M1292.1 640.8h0M1249.2 778.1h0M1283.2 683h0M1258.4 795.4h0M1331.4 671.9h0M1192.5 771.6h0M1288.3 662.8h0M1306.2 667.2h0M1296.5 655.9h0M1272.9 663.5h0M1251.9 789.2h0M1200.2 776.6h0M1246 800.3h0M1265.9 731.9h0M1287.7 688.4h0M1252.9 777.5h0M1296.1 630h0M1282.2 614.2h0M1265.8 771.1h0M1261.2 748.8h0M1266.3 741.7h0M1258.1 716.3h0M1279.2 777.8h0M1290 588.3h0M1289.6 669.5h0M1284.3 641h0M1309.5 625.9h0M1284.1 715.9h0M1286.2 620.6h0M1208.7 735.1h0M1260.9 710.4h0M1298.5 703.1h0M1295.8 560.7h0M1267 656.6h0M1263.9 750h0M1250.7 771h0M1261.8 781.2h0M1249.7 777.3h0M1265.1 724.5h0M1245.5 795.1h0M1248.7 784.7h0M1312.4 556.8h0M1258.6 717.6h0M1257.4 785.2h0M1302.4 473.8h0M1267.8 739.1h0M1286.2 615.9h0M1244.5 794.7h0M1251.3 754.6h0M1280.3 777.4h0M1255.5 774.4h0M1258.4 769.7h0M1322.4 657.1h0M1249.3 799h0M1253.3 773h0M1293.3 751h0M1267 728.6h0M1238.1 797.5h0M1248.2 783.9h0M1244.6 799.4h0M1294.4 648.8h0M1238.5 795.1h0M1235.9 788.2h0M1307.3 698.5h0M1310.9 581h0M1265.4 780.2h0M1270.8 659.5h0M1223.7 732.4h0M1245.7 784.4h0M1334.3 651.5h0M1262.4 696.3h0M1261.6 720.1h0M1280.7 685.4h0M1263 708.3h0M1208.2 769.4h0M1278.7 718.2h0M1267.7 752h0M1251.6 783.2h0M1245.5 794.5h0M1258.1 717.5h0M1269.7 687.5h0M1239.4 799.3h0M1299.5 730.1h0M1240.6 800.7h0M1289.7 772.3h0M1303.2 712.6h0M1311.3 690.6h0M1242.4 805.7h0M1295.5 582h0M1292.8 674.8h0M1241.2 803.6h0M1268.3 767h0M1289 739.2h0M1254 788h0M1242.8 805h0M1245.9 797h0M1235.5 780.8h0M1283.1 713.8h0M1195.4 751.2h0M1248.3 795.1h0M1259.6 727.3h0M1278 693.2h0M1277.6 620.8h0M1261.1 699.9h0M1274.7 583.8h0M1275.7 688.2h0M1255.3 750.1h0M1308 497.1h0M1286.4 666.6h0M1269.6 722h0M1272.9 700h0M1274.2 674.4h0M1270.7 704.3h0M1185 759.4h0M1269.5 677h0M1239.8 790h0M1273.2 654.7h0M1289.9 684.5h0M1291.6 709.8h0M1265 772.1h0M1258 795.3h0M1230.4 767.4h0M1303.8 629.9h0M1255.7 771h0M1257.8 719.2h0M1215.1 769.3h0M1315.3 672.5h0M1258.4 727.4h0M1298.9 530.3h0M1277.3 689.2h0M1256.5 769h0M1306.2 720.2h0M1253 757.2h0M1249.3 759.3h0M1261.6 725.7h0M1291.5 688.3h0M1264.3 761.8h0M1299.3 742.7h0M1255.8 793.6h0M1253.7 794.8h0M1261.1 717.9h0M1284.4 762.9h0M1266.5 696.2h0M1300.7 755.6h0M1241 804.5h0M1264.9 768.5h0M1296 710.9h0M1272 718.1h0M1242.1 804.5h0M1297.6 717.3h0M1214.2 756.8h0M1305.6 674.8h0M1274.2 676.9h0M1267.3 666.2h0M1330.6 670.9h0M1253.9 776.4h0M1272.9 680.8h0M1291.4 607.5h0M1258.3 777h0M1292.9 599.7h0M1276.2 631.3h0M1257.3 747.9h0M1271.8 621.1h0M1272.3 703.4h0M1235.8 789.2h0M1275.4 616.5h0M1241.6 803.7h0M1265.7 700h0M1230.2 779.6h0M1226.7 793.5h0M1285.4 664h0M1276.6 682.3h0M1252.9 754.1h0M1244.3 801h0M1248.5 785h0M1274.9 626.3h0M1279.9 707.2h0M1265.6 742.7h0M1285.6 584.5h0M1260.8 752.7h0M1229.7 796.9h0M1285.9 639.2h0M1237.3 796.5h0M1269.2 712h0M1263.3 742.9h0M1276.9 622.4h0M1281.7 562.5h0M1291.1 538.2h0M1287.1 722.6h0M1249.2 797.4h0M1205.9 747h0M1290.1 503.9h0M1270.7 747.6h0M1279.8 606.3h0M1250.9 784h0M1286.5 656.3h0M1254.6 781.2h0M1241.4 800.8h0M1254.1 744.6h0M1283.3 725.1h0M1256.5 746.6h0M1318 532.6h0M1293.7 719.8h0M1272.5 722.4h0M1238.3 795.5h0M1256.6 720.6h0M1273.4 633.5h0M1256.7 780.5h0M1264.6 748.4h0M1266.6 756.3h0M1273.6 634.8h0M1271.1 555.3h0M1253.2 769.7h0M1272.4 689.9h0M1271.7 703.3h0M1213.7 776.7h0M1267 752.6h0M1279.5 698.3h0M1245.3 801.3h0M1286.1 650.7h0M1217.3 774.5h0M1268.9 628h0M1276.1 727.8h0M1240.3 800.8h0M1275 583.7h0M1265.5 755.8h0M1250.1 775.1h0M1293.3 494.3h0M1246.5 796.9h0M1255.8 769.1h0M1267.6 734.5h0M1263.3 717.8h0M1240.6 802.1h0M1228.3 770.9h0M1249.4 780.7h0M1265.2 703h0M1268.5 696.9h0M1260.1 790h0M1244 803.8h0M1296.4 745.4h0M1247.5 797.6h0M1331.9 711.9h0M1240.9 798.7h0M1250.5 765.4h0M1290.7 695.5h0M1276 610.5h0M1290.8 605h0M1281.5 641.4h0M1283.7 724.9h0M1261.3 723.8h0M1244.5 799.2h0M1305.6 505.2h0M1291.2 547.6h0M1216.4 737.6h0M1306.5 574.5h0M1253.9 790.3h0M1241.7 803.9h0M1257.5 758h0M1249.3 781.6h0M1283.8 780.2h0M1239.2 795.6h0M1285.4 563.9h0M1293.9 708.6h0M1265.3 760.1h0M1264.7 710h0M1231.9 774.4h0M1228.7 759.8h0M1250.6 773.8h0M1295.1 519.4h0M1291.8 687.6h0M1275.9 643.2h0M1276.1 616h0M1275.4 715.3h0M1284.2 757.7h0M1226.5 731.3h0M1249.3 778.1h0M1265.5 782.1h0M1250.8 755.5h0M1281.3 656.9h0M1257.8 790.3h0M1285.8 654.7h0M1271.8 679.6h0M1290.9 648.5h0M1258.9 779.4h0M1303.5 496.8h0M1273 713.5h0M1256.1 760.4h0M1316.1 588.4h0M1273.1 668.3h0M1271.1 717.2h0M1268.6 741.1h0M1310.4 709.9h0M1294 630.9h0M1254.8 758.7h0M1307.3 595.1h0M1297.5 767.7h0M1255.9 737h0M1301.1 666.7h0M1254.2 783.6h0M1252.5 784.2h0M1285.5 714h0M1272.6 571.1h0M1245.9 792.3h0M1316.8 593.9h0M1267 704.5h0M1282.5 585.3h0M1260.2 753h0M1270.5 780.7h0M1262.3 754.1h0M1266.2 746.5h0M1263.9 712.2h0M1241.5 803.7h0M1260.9 734.9h0M1264 761.3h0M1296.8 548.9h0M1268.7 720.4h0M1250.8 762.7h0M1263.3 671.9h0M1232.5 769.3h0M1271.4 748.6h0M1267.9 754h0M1282.4 730.5h0M1313.2 692.1h0M1285.2 656.6h0M1285.8 634.2h0M1271.8 767.2h0M1239.6 795.4h0M1256.6 746.3h0M1256.6 735.6h0M1253.3 765.9h0M1277.3 764.3h0M1293.4 745.6h0M1269.1 705.8h0M1263 683h0M1281.3 615.1h0M1281.7 699.1h0M1299.3 748h0M1263.9 740.1h0M1292.7 723.4h0M1288 723.9h0M1261.9 692.4h0M1269.5 776.9h0M1232.1 780.9h0M1247.8 795.8h0M1263 710.4h0M1272.1 709.4h0M1276.9 667.6h0M1242.1 805.3h0M1277.8 711.9h0M1239.9 799.5h0M1257.5 775.3h0M1282.1 674.4h0M1210.9 770.9h0M1285.5 668.3h0M1248.5 793.8h0M1251.9 780.4h0M1250.5 777.6h0M1275.3 736.1h0M1278.9 527.1h0M1254.8 754.5h0M1262.6 782h0M1270.3 778.5h0M1261.7 720h0M1258.1 732.2h0M1265.7 665.8h0M1242.2 805.5h0M1273.4 709h0M1222.3 718.6h0M1263.2 773.5h0M1252.8 774.9h0M1221.1 785h0M1287.3 643.2h0M1253.9 790.7h0M1281.4 724.1h0M1273 726h0M1276.3 683.6h0M1273.6 781.4h0M1204 761h0M1282.7 587.1h0M1315.9 734.4h0M1250.4 771.3h0M1215.8 761.2h0M1278.5 698.9h0M1229.8 752.5h0M1267.6 685.7h0M1310 683.3h0M1242.6 805.7h0M1243.8 803.4h0M1273.3 729.8h0M1266.3 709.6h0M1264.1 698.4h0M1255.4 743.7h0M1262.2 740.1h0M1303.4 709.5h0M1286.8 655.4h0M1316.5 509.3h0M1275.6 754.2h0M1264.6 762.8h0M1284.6 743.7h0M1314.4 595.1h0M1242.4 805.9h0M1237.7 786.1h0M1290.3 532.4h0M1294 752.3h0M1280.9 762.7h0M1260.3 731.7h0M1260.5 720.7h0M1214.7 770h0M1302.8 573.8h0M1269.8 734.4h0M1287.9 671.6h0M1251.6 797.5h0M1265.5 654.1h0M1257.2 754h0M1294.5 708h0M1242.9 804.8h0M1266.7 669.4h0M1254.4 787.2h0M1292.8 677.8h0M1250.4 777.1h0M1269.5 756.9h0M1263 609.6h0M1223.7 778.6h0M1256.8 771.2h0M1267.7 702h0M1260.7 701.3h0M1248.2 781.9h0M1255.4 747.2h0M1233.7 770.5h0M1314.3 555.4h0M1244.9 796.2h0M1272.1 671.8h0M1240.5 797h0M1288.5 775.6h0M1253.3 787.6h0M1244.3 795.7h0M1247.9 798.3h0M1261.8 764.5h0M1229.5 783.4h0M1287.2 690.1h0M1256.9 708.9h0M1245.1 800.3h0M1266.4 644.3h0M1261.5 695.8h0M1298 718.1h0M1280.6 673.1h0M1269 711.3h0M1250.9 792.4h0M1246.5 792.9h0M1216.3 782.3h0M1279 620.5h0M1255.8 785.9h0M1266.1 729.2h0M1298.6 601.3h0M1267.5 721.4h0M1249.6 797.1h0M1244.3 802.4h0M1235.7 799.2h0M1262.3 694.3h0M1262.1 768.8h0M1248.3 781h0M1256 694.2h0M1239.4 792.3h0M1307.9 681.9h0M1293.5 625.7h0M1296 642.4h0M1283.5 591.5h0M1261.6 728.2h0M1246.2 792.1h0M1268 728.9h0M1257.6 773.1h0M1236.4 792.7h0M1289.5 648.1h0M1260.2 754.5h0M1289.6 663.8h0M1213.1 664.6h0M1241 803.8h0M1262.2 782.7h0M1259.7 712.1h0M1245.4 797.2h0M1273.5 691.7h0M1261.2 716h0M1255.6 763.8h0M1263.5 724.2h0M1216.9 784.8h0M1240.1 801.9h0M1236.6 792.1h0M1274 714.6h0M1275.5 699.4h0M1245.2 799.8h0M1185.6 783.3h0M1309.6 600h0M1277.3 523.5h0M1274.5 681.7h0M1236.6 795.7h0M1251.8 781.3h0M1308.5 681.2h0M1252.5 787.1h0M1264.2 714.5h0M1313.2 593h0M1271.1 759.2h0M1278 745.6h0M1259.1 760.2h0M1271.9 685.3h0M1285.8 664.3h0M1296.6 690.4h0M1248.1 796.2h0M1242.8 805.7h0M1288.5 623.8h0M1293.8 619.2h0M1249.4 779.2h0M1329.5 684.7h0M1224.9 753.6h0M1246 791.8h0M1241.4 804.2h0M1257.3 781.9h0M1279.5 692.6h0M1270.3 755.2h0M1254 762.3h0M1251.2 795.9h0M1280.4 711.6h0M1268.6 723.5h0M1252 739.1h0M1223.5 778.6h0M1273.7 607.3h0M1235.2 799.9h0M1300.3 718.6h0M1260.7 707.9h0M1252.9 753.6h0M1263.3 765.9h0M1238.7 799.2h0M1312 610h0M1223.7 763.3h0M1265.3 788.6h0M1293.5 693.8h0M1280.8 575.5h0M1246.3 798.2h0M1280.6 678.4h0M1290.8 708.7h0M1315.7 525.7h0M1251.3 782.2h0M1234.3 786h0M1245.8 790.6h0M1277.6 675.3h0M1217.6 641.9h0M1255.9 739.1h0M1290.3 733.5h0M1254.5 762.2h0M1286.2 738.4h0M1185.4 755.8h0M1274.4 691.8h0M1219.8 719.9h0M1251.8 796h0M1250.2 800h0M1239 798.2h0M1294.4 687.1h0M1273.2 676h0M1294 504.5h0M1248.4 784.2h0M1267.8 682.1h0M1218.2 786.5h0M1312.4 683.2h0M1282.7 693.6h0M1255 774.7h0M1300.2 598h0M1294.2 638.5h0M1258.1 710.9h0M1273.8 707.9h0M1254.3 734.7h0M1272 691.3h0M1280 619.1h0M1241.7 802.7h0M1258 709.6h0M1275.5 708.4h0M1249.7 794.6h0M1256 782.4h0M1302 485.9h0M1261.4 720.4h0M1265.2 750.8h0M1302.1 706.8h0M1239.1 794.6h0M1274.2 749.2h0M1299.6 652.5h0M1268.5 703.3h0M1254.6 753.5h0M1251.1 779.7h0M1257.7 789.5h0M1234 782.8h0M1209.3 721.1h0M1221.3 788.6h0M1257.9 723.4h0M1292.1 587.8h0M1245.4 799.2h0M1263.8 762h0M1239.5 792.4h0M1279.8 722.8h0M1253.9 746.3h0M1247.1 795.9h0M1250.2 783.3h0M1250.8 787.9h0M1247.5 788.3h0M1255.9 767.5h0M1303.3 636.9h0M1224.8 788.3h0M1262 691.8h0M1311.1 661.1h0M1230.8 790.8h0M1231.7 741.2h0M1323.4 755.2h0M1250.7 791.7h0M1244.6 801.9h0M1299.3 572h0M1260 694.7h0M1263.3 691.6h0M1253.7 738.4h0M1299.9 696.4h0M1284.8 744.6h0M1302.6 696.9h0M1214.9 763.7h0M1260.8 722.3h0M1283.1 672.6h0M1259.7 751.3h0M1266.4 694h0M1290.3 685.6h0M1241.2 801.7h0M1257.2 765.5h0M1281.9 669.5h0M1262.4 698h0M1312.5 643.2h0M1282.6 607.6h0M1285.6 732.9h0M1226.5 753.4h0M1280.9 739.8h0M1277.2 616.8h0M1248.4 783h0M1244.3 804.6h0M1242.3 805.6h0M1307.7 554.3h0M1251.7 763.5h0M1245.3 798.4h0M1268.4 781.5h0M1289 700.2h0M1259.4 762.2h0M1261.1 675.7h0M1271.1 760.3h0M1269.6 748.9h0M1311.2 702.7h0M1297.4 566.2h0M1251.1 792.2h0M1231.7 769.6h0M1278.2 565.5h0M1270.7 588.3h0M1270.8 757.3h0M1281.7 650.5h0M1272.1 713h0M1264.8 657.2h0M1213.5 781.9h0M1267.3 704.1h0M1277.7 537.6h0M1252.1 759.7h0M1244.9 798.9h0M1303.9 698.6h0M1250.9 791.4h0M1241.5 803.1h0M1188.3 704.1h0M1290.2 642.8h0M1318.9 673.9h0M1283.3 594.9h0M1248.1 788.2h0M1249.5 780.5h0M1255.9 756.7h0M1286.3 571.1h0M1255.5 783.1h0M1265.5 720.1h0M1262.7 676.4h0M1255.9 761.7h0M1276.5 643.9h0M1268.6 619.8h0M1218.4 744.4h0M1271.3 718.2h0M1274.7 582.4h0M1274.2 744.7h0M1309.3 604.2h0M1279.7 596.7h0M1272.9 770.9h0M1277.7 590.6h0M1269.8 753.5h0M1279.2 660.6h0M1273.4 662.8h0M1199.8 734h0M1250.2 797.7h0M1264.6 720.7h0M1258.5 789.5h0M1300 645.3h0M1242.4 805.5h0M1279.2 741.3h0M1248.7 791.3h0M1279 654.6h0M1300 653.7h0M1272.5 737.3h0M1269 683.1h0M1289.8 588h0M1279.9 732.5h0M1319.2 640.6h0M1247 796.2h0M1242.2 805.5h0M1236.1 784h0M1275.2 724h0M1285.3 755h0M1315.7 651.1h0M1263.8 714.7h0M1245.4 799h0M1285.2 749.3h0M1224.7 743.9h0M1298.4 590.9h0M1281.9 751.3h0M1258.8 724.4h0M1255 773.2h0M1260.4 721h0M1262.7 749h0M1279.2 712.9h0M1267.8 724h0M1273.5 675.8h0M1294.4 603.3h0M1272.6 727.6h0M1287 666.2h0M1306.9 634.1h0M1277 679.8h0M1260.1 781.4h0M1297.7 551.3h0M1246.8 794.1h0M1250.8 795.3h0M1236 788.1h0M1255.1 752h0M1276.7 768.9h0M1275.7 666.7h0M1265.5 635.2h0M1262.8 719.5h0M1303.4 659.3h0M1279.5 686.1h0M1257 722.1h0M1277.2 659.4h0M1247.5 791.9h0M1268 608.9h0M1277 666.7h0M1299.1 595h0M1232 773.5h0M1269.4 701.7h0M1289.1 748.8h0M1256.6 729.8h0M1234.8 782.2h0M1263.6 780.7h0M1268.1 740.8h0M1265.3 669.2h0M1262.3 766.8h0M1240.6 795.8h0M1261.5 737.3h0M1263.4 767.6h0M1252.4 758.4h0M1290.6 708.4h0M1289.6 658.2h0M1249.3 790.6h0M1270.2 733.5h0M1265.8 647.2h0M1250.2 767.7h0M1255.4 765.5h0M1268.4 735.4h0M1243.4 804.8h0M1251 772.6h0M1246 796.5h0M1272 745.6h0M1257.8 718h0M1294.7 619.9h0M1280.7 746.7h0M1259.1 752.1h0M1300.6 631.3h0M1294.5 644.1h0M1257.2 779.1h0M1253.6 786.2h0M1257.5 764.7h0M1269.8 705.4h0M1272.6 697.7h0M1217.7 760h0M1260.9 724.5h0M1285.6 755.7h0M1262.3 635.3h0M1263.1 769h0M1218.2 786.8h0M1293.6 649.9h0M1298.8 712.2h0M1299.8 745.1h0M1239.8 798.7h0M1298 631.9h0M1286.2 634.9h0M1249.6 783.6h0M1294.1 651.5h0M1263.9 708h0M1253.8 781.8h0M1244.8 802.9h0M1246.7 793.5h0M1295.9 676.1h0M1195.3 730.8h0M1262.9 772.1h0M1301 704.4h0M1287.2 757.5h0M1246.9 793.8h0M1283.2 647.7h0M1277 725.2h0M1207.5 774h0M1294.2 722.8h0M1248.3 790.5h0M1234.7 794.6h0M1285.7 717.9h0M1283.9 645.4h0M1230.2 765.4h0M1251.5 756.1h0M1261 700.7h0M1287.8 560.8h0M1251.5 799.7h0M1282.5 700.1h0M1282.5 751.2h0M1295.1 618.6h0M1257.6 767.1h0M1285.3 698.7h0M1246.5 794.3h0M1232.3 775.4h0M1289.1 712.5h0M1255.3 768.4h0M1282.4 655.1h0M1318.9 638.9h0M1318.2 559.2h0M1252.1 783.4h0M1264 766.1h0M1236.9 792.1h0M1243.9 802.1h0M1250.7 780.4h0M1229.1 778.7h0M1251.2 797.3h0M1290.7 686.3h0M1270 765.1h0M1245.7 802.3h0M1298.8 605.1h0M1284.2 749.6h0M1270.9 694h0M1262.9 666.8h0M1249.1 758.5h0M1291.4 630.4h0M1261.8 783.6h0M1274 686.5h0M1247.1 768.6h0M1282 763.1h0M1265.5 705.3h0M1272.6 742.1h0M1248.6 786.9h0M1272.6 673.4h0M1255.5 780.8h0M1278.5 747.7h0M1270.6 724.8h0M1250.6 792.4h0M1297.2 665.4h0M1224 771.6h0M1301.5 659.1h0M1272.3 659.4h0M1287.2 462.5h0M1254.4 768.9h0M1247.8 788.6h0M1259.3 686.2h0M1313.9 716.7h0M1266.3 705.4h0M1263.2 777.8h0M1274.3 655.8h0M1310.5 612.4h0M1300.2 650.2h0M1279.9 716.8h0M1269.4 721.3h0M1296.7 595.9h0M1317.4 710.2h0M1277.6 639.7h0M1265.4 737.6h0M1282.2 568.8h0M1259.3 793.3h0M1231.6 791.5h0M1311.5 542.9h0M1258.4 730.4h0M1292.6 526.1h0M1269.7 706.7h0M1238.1 794.2h0M1279 668.5h0M1267.4 727.8h0M1270.1 650.3h0M1265.3 752.9h0M1270.6 723.3h0M1278.1 739h0M1242.9 804.5h0M1307.5 702.4h0M1259.7 734.6h0M1278.6 626.3h0M1295.8 618.1h0M1259.3 772h0M1275 738.7h0M1310.1 582.7h0M1232.9 754.2h0M1274.6 691.2h0M1258.8 764.2h0M1253.8 769.6h0M1310.3 625.8h0M1271.5 641.1h0M1314.3 626.6h0M1238 791h0M1267.3 686h0M1240 800.1h0M1310.2 648.2h0M1276.4 689.2h0M1218.5 744.1h0M1278.3 606.8h0M1261.7 691.2h0M1267.4 653.6h0M1274.5 772.8h0M1248.8 777.9h0M1279.8 689.2h0M1265.2 752.4h0M1230.2 749.1h0M1253.8 733.4h0M1277.1 657.7h0M1311.2 721.7h0M1261 704.1h0M1252 784.6h0M1282.2 660.9h0M1271.8 740h0M1271.2 663.4h0M1246.4 801h0M1277 635.7h0M1246.7 800.8h0M1317.3 699.5h0M1246.6 790.6h0M1287.8 677.8h0M1263.6 720.7h0M1220.7 740.9h0M1267 728.7h0M1246.2 792.9h0M1287.6 739.2h0M1249.6 785.9h0M1222.9 767.6h0M1243.9 803.1h0M1283.8 701.4h0M1320.8 641.9h0M1241.2 802.8h0M1302.3 699.4h0M1265.2 725.5h0M1239 800.3h0M1246.1 798h0M1238.2 793h0M1263.4 638.9h0M1255.7 758.6h0M1255.8 762.8h0M1249.3 799.5h0M1251.8 769.1h0M1269.5 756.6h0M1271.3 662.1h0M1271.2 745.8h0M1235.3 790.5h0M1314.8 581.9h0M1301.7 682.8h0M1278.3 789.7h0M1230.7 764.1h0M1305.9 654.9h0M1259.7 768.1h0M1222.4 793.6h0M1280.7 729.7h0M1257.3 778.7h0M1285.4 677.5h0M1259.9 751.4h0M1257.4 748.6h0M1281.9 713.5h0M1281.4 712.2h0M1274.6 590.3h0M1268 758.5h0M1253.9 778.6h0M1258.5 732.7h0M1276.9 768.2h0M1262.2 714.1h0M1221.2 755.5h0M1281 711.4h0M1285.7 618.9h0M1242.2 804.9h0M1267.5 750.8h0M1266.4 679.4h0M1277.4 727.8h0M1304.8 656.7h0M1264.1 695.9h0M1275.9 748.8h0M1264.8 683h0M1267.2 700.4h0M1270.5 647.7h0M1273.6 682.6h0M1271.6 732.6h0M1273.7 752.8h0M1203 728.9h0M1284 592.7h0M1258.2 765h0M1259.1 666.7h0M1243 805.3h0M1258.3 767.1h0M1275.6 698.6h0M1273.9 696.8h0M1269.4 605.3h0M1232.5 787.5h0M1250.5 789.8h0M1289.8 646.8h0M1209.6 761.1h0M1292.3 629.7h0M1274.7 674.8h0M1272.1 769.6h0M1250.7 785.1h0M1262.9 716.5h0M1246.2 785.9h0M1275.6 675.9h0M1247.3 793.1h0M1258.6 730.4h0M1293.5 685.1h0M1258.2 711.9h0M1288.7 648.7h0M1269.2 733.9h0M1249.8 790h0M1284.2 650.4h0M1288.7 736.7h0M1241.7 803.6h0M1286.5 708.4h0M1250.6 772.5h0M1274.6 770.2h0M1248.3 795.3h0M1274.3 645.9h0M1243.4 802.4h0M1284.6 745.7h0M1256.9 762.8h0M1250.9 764.5h0M1252.5 746.7h0M1276.3 721.1h0M1233.8 772.5h0M1305 706.8h0M1237.9 796.1h0M1276.1 728.2h0M1229.9 734h0M1239.8 800.9h0M1243.2 804.3h0M1293.1 623.1h0M1243.1 804.4h0M1263.5 715.3h0M1251.6 782.7h0M1237.3 783h0M1253.3 721.1h0M1233 790.5h0M1263.5 767h0M1284.2 681.8h0M1238.4 795.8h0M1276.7 747.2h0M1296.6 576h0M1237.2 797.4h0M1287.2 654.2h0M1268.6 706.1h0M1241.3 804.7h0M1272.1 624.5h0M1240.3 800.8h0M1259.4 717.3h0M1252.1 750.4h0M1280.9 734.1h0M1278.5 717.4h0M1263.1 698.1h0M1243.2 804.7h0M1265 769.5h0M1261.7 668.8h0M1294.3 676.7h0M1244.3 800.1h0M1291 768.2h0M1265.2 748.5h0M1288.2 693.5h0M1309.7 680h0M1305.5 703h0M1243.2 804.6h0M1285.7 725.1h0M1242.3 805.7h0M1243 804.3h0M1257.2 775.6h0M1284.3 694.5h0M1242.7 805.8h0M1243.8 804.3h0M1272.4 725.4h0M1270.2 638.6h0M1290.4 631h0M1272.7 658.6h0M1249.5 775.1h0M1319.8 674.6h0M1256.1 750.2h0M1251.1 772h0M1272.5 598.2h0M1285.2 749.9h0M1297.2 744.3h0M1261.3 769.3h0M1281.2 661.4h0M1265.4 763.6h0M1276.2 738h0M1273 724.1h0M1277.9 718.8h0M1256.6 723.3h0M1277.6 711.6h0M1265.4 725.3h0M1241.5 803.8h0M1292.4 633.2h0M1251.4 764.1h0M1268 747.4h0M1242.9 805.5h0M1248.1 773.7h0M1248.6 777.9h0M1307.8 730.3h0M1246.5 788.5h0M1279.2 740.4h0M1294.9 598.8h0M1244.5 800h0M1238 792h0M1280.3 624.8h0M1253.1 747.9h0M1287.6 606.3h0M1233.7 779.9h0M1277 705.8h0M1250.8 760.5h0M1252.4 790.3h0M1232 776.9h0M1256.7 714.6h0M1253.7 769.5h0M1241 801.3h0M1281.6 683.6h0M1273 735.7h0M1269.2 783.2h0M1271.7 676.6h0M1227 770.9h0M1260.2 721.5h0M1248.8 787.1h0M1251.1 766.3h0M1250.4 787.5h0M1307.1 650.7h0M1292.4 604h0M1229 793.3h0M1282.9 673.2h0M1303.8 692h0M1264.1 735.6h0M1297.2 618.7h0M1230.2 755.8h0M1285.8 720.8h0M1262.4 678.2h0M1261.3 748.8h0M1231.5 791.8h0M1324.8 751.3h0M1222.4 776.7h0M1272.5 730.6h0M1281.9 660.4h0M1301.1 564.9h0M1254.3 779.4h0M1280.5 695.7h0M1309.8 714h0M1257.7 744h0M1279.9 612.7h0M1260.1 785h0M1297.9 689h0M1293.6 589.5h0M1280.3 674.4h0M1227.3 780.1h0M1260.7 750.7h0M1274.2 662.6h0M1271.5 730.6h0M1261.6 776.1h0M1251.5 771.5h0M1247.4 792.7h0M1314.2 635.5h0M1248.3 776.9h0M1280.2 667.7h0M1312.7 675.8h0M1280.3 611.5h0M1236.7 797.8h0M1260 728.3h0M1310.3 671.4h0M1286.1 742.8h0M1264.4 712.5h0M1268.3 729.4h0M1317.9 513.2h0M1271.6 784.5h0M1296.1 735.9h0M1290.2 622.1h0M1271.7 736.9h0M1283.1 723.6h0M1313.5 710.2h0M1266.8 771.6h0M1250.8 771.9h0M1262.1 705.4h0M1227.6 757.6h0M1259.1 710.9h0M1246.2 796.7h0M1252.3 792.2h0M1314.8 565.7h0M1309.6 694.4h0M1267.8 726.6h0M1240.5 800.6h0M1284.6 757.1h0M1302.5 683.3h0M1321.1 672.5h0M1193.4 743.5h0M1254.9 771.2h0M1254 766h0M1287.7 682h0M1245.3 798.6h0M1259.8 741.1h0M1230.5 758.8h0M1240.3 801.3h0M1268.4 718.4h0M1288.8 697.4h0M1285.1 718.9h0M1285.3 753.5h0M1229.1 780h0M1254.4 782.1h0M1269 754h0M1262.4 760.1h0M1260.6 770.5h0M1276.1 665.2h0M1256.2 775.9h0M1254.8 747h0M1294.3 658.6h0M1312.5 631.1h0M1238.1 787.9h0M1276.3 629.6h0M1269.3 696.2h0M1260.6 676.9h0M1252.5 790.7h0M1270.6 727.9h0M1281.6 512.7h0M1250.9 785.9h0M1264.1 763.6h0M1291.4 659.4h0M1274.6 680h0M1240.4 800.3h0M1270.3 665h0M1277.4 698.2h0M1220.4 738.1h0M1259.5 782.5h0M1262.2 681.6h0M1293.4 633.6h0M1247.9 791.1h0M1267.2 699h0M1263.9 735.5h0M1237.6 802h0M1251.2 751.9h0M1288.4 734.3h0M1237.6 783.3h0M1263.9 704.3h0M1251.4 764.9h0M1262.7 669.3h0M1286.8 713h0M1292.3 681.1h0M1262 736.9h0M1269.2 707.4h0M1302.2 570.5h0M1307 533h0M1289.5 541.8h0M1252.6 779.6h0M1241.9 804.8h0M1265.5 748.1h0M1270.9 647.7h0M1298.4 688.8h0M1261.4 699.4h0M1290.9 566.7h0M1244.2 800h0M1264.8 643.5h0M1268.8 737.2h0M1255.5 754.1h0M1247.6 792.9h0M1292.8 714.7h0M1247 790.6h0M1243.2 804.1h0M1256.5 758.9h0M1285.4 571.2h0M1245.7 799.4h0M1275.1 763.3h0M1265.8 756.8h0M1293 686.8h0M1164.8 762h0M1262.6 774.1h0M1231 768.8h0M1236.8 794.8h0M1258.9 723.2h0M1266.7 722.8h0M1263.7 693.7h0M1260.3 734.7h0M1273.3 602.6h0M1282.2 639.9h0M1251.8 764.7h0M1280.9 692.6h0M1243.7 802.2h0M1266.4 691h0M1263.5 696h0M1279.1 676.4h0M1275.1 695.1h0M1291.4 683.8h0M1254.5 757.6h0M1282.2 628.5h0M1280.9 714.4h0M1240.7 804.3h0M1265.4 678h0M1283.4 644.8h0M1301.6 677.5h0M1248.9 782.8h0M1288.1 514h0M1264.7 660.1h0M1314.9 542.4h0M1236.4 786.1h0M1231.7 773.4h0M1254.2 749.9h0M1286.2 580.3h0M1272.8 624.9h0M1273.5 628.6h0M1262.6 692.3h0M1262.8 767.7h0M1300.2 686.2h0M1261.6 727h0M1272.8 660.1h0M1261.3 777.6h0M1277.6 769.2h0M1242.1 805.2h0M1284.5 690.9h0M1253.4 797.1h0M1298.4 661.7h0M1247.6 796h0M1304.4 701.9h0M1299.8 694.6h0M1246.9 796.2h0M1296.8 550.5h0M1262.4 727.2h0M1235.2 785.9h0M1233.1 780.5h0M1257.5 760.5h0M1273 629.5h0M1293.4 690.3h0M1277.9 697.7h0M1252.5 788.9h0M1308 728.6h0M1284.4 658.9h0M1299.5 629.9h0M1260.4 737.2h0M1271.5 763.7h0M1283.2 714.8h0M1260.2 712.1h0M1250.4 799.9h0M1260.6 711.8h0M1255 752.7h0M1248.7 772.1h0M1297.5 562.1h0M1243 805.3h0M1265.2 715.3h0M1314.1 737.1h0M1262.4 700.2h0M1239.4 799.7h0M1250.8 771.9h0M1249.7 787.7h0M1251.8 788.6h0M1231 784.2h0M1230.2 788.7h0M1280.4 646.9h0M1265.3 679.7h0M1246.8 794.3h0M1287.3 748h0M1238.5 797.7h0M1273.5 683.4h0M1279 701.9h0M1293.7 553.2h0M1256.5 787.2h0M1305.5 682.7h0M1262 703.4h0M1304.1 556.7h0M1285.3 733.1h0M1271.5 738.4h0M1252.7 756h0M1269.7 631.6h0M1286.5 667.7h0M1300 649h0M1268 707.5h0M1274.6 746.1h0M1291.2 736.1h0M1258.2 708.3h0M1220.8 761.4h0M1258.1 767h0M1241.7 804.4h0M1261.9 644.2h0M1299.6 667.2h0M1247.1 794.2h0M1240.1 802.7h0M1281.4 633.1h0M1298.4 610.8h0M1265.1 758.4h0M1291.2 633.1h0M1286.5 699.5h0M1249.2 780.9h0M1261 756.7h0M1244 803.5h0M1224.8 731.3h0M1282.7 693.6h0M1278.5 656.4h0M1262.1 772.4h0M1259.9 734.3h0M1264.8 694.6h0M1315.3 568.1h0M1243.4 804h0M1300.8 624.9h0M1233 788h0M1298.7 661.6h0M1250.3 797.4h0M1300.1 622h0M1243.6 803h0M1248.8 778.4h0M1285.2 624.3h0M1254.3 757.7h0M1281.5 747h0M1277.6 606.9h0M1281.4 645.2h0M1264.8 756.7h0M1268.4 638.6h0M1268.5 728.6h0M1319 669.8h0M1263.5 673.5h0M1304.7 680.3h0M1264.9 630.4h0M1310.5 562.1h0M1261.5 720.1h0M1304 541.4h0M1303.3 645.3h0M1291 757.5h0M1261.5 726h0M1285.7 518.7h0M1269.7 733.7h0M1274.3 746.2h0M1234.1 799.2h0M1247.8 799h0M1251.7 779.9h0M1280.4 652.4h0M1262.2 775.9h0M1275.5 652.8h0M1260.8 767.7h0M1262.8 755.7h0M1285.6 589.4h0M1269.9 738.5h0M1250.1 797.8h0M1311.7 695.9h0M1241.8 804.2h0M1285.9 617.4h0M1291.1 659.8h0M1263.8 745.9h0M1254.7 750.1h0M1257.4 782.1h0M1231.5 783.6h0M1299.3 586.9h0M1285.9 563.9h0M1292 644.3h0M1292.8 699.8h0M1288.2 735.7h0M1278 785.9h0M1290.7 649.4h0M1274.6 727.3h0M1283.9 656.4h0M1281.9 711.8h0M1263.3 707.2h0M1290.9 700.2h0M1299.4 450.8h0M1310.2 579.2h0M1292.6 740.4h0M1293.7 703.3h0M1291.8 580.3h0M1236.4 795.5h0M1264.3 722.3h0M1225.6 772.9h0M1265.9 682.7h0M1263.8 734.8h0M1263.5 693h0M1242.9 805.5h0M1254.9 768h0M1284.7 690.6h0M1286.3 761.3h0M1251.5 761h0M1239.6 800h0M1215.2 754.8h0M1282.1 726.6h0M1301.4 550h0M1275.9 545.6h0M1311.9 464.8h0M1261.8 733.5h0M1230.2 780.7h0M1279.7 679.4h0M1269.8 766.5h0M1256.9 754.1h0M1237.5 797.4h0M1242.4 805.9h0M1274.3 634.3h0M1262.3 764.9h0M1287.5 736.8h0M1295.4 672.6h0M1286.9 594.9h0M1243.7 802.7h0M1286.3 527.3h0M1259.6 723h0M1251.5 750.5h0M1292.7 676.5h0M1226.1 765.6h0M1260 760.5h0M1263.4 753h0M1261 778.2h0M1266 671.5h0M1269.3 711.3h0M1255 762.3h0M1258.7 769.5h0M1257.7 735.7h0M1251.6 775.3h0M1286.4 594.7h0M1296.7 653h0M1243.7 801.6h0M1263.9 755.1h0M1242.2 805.6h0M1289.5 665.1h0M1270.3 731.4h0M1277.8 713.3h0M1289.9 675.2h0M1301.3 702.2h0M1272.6 721.9h0M1297 527.6h0M1240.7 803.8h0M1248 784.4h0M1232.3 796.4h0M1254.9 764.1h0M1268 724.2h0M1278.2 680.2h0M1224.9 774.6h0M1255.6 723.3h0M1259.4 749.6h0M1247.2 798h0M1265.1 685.6h0M1268.8 681.5h0M1240.7 801.5h0M1244.9 797.1h0M1232.9 774.3h0M1305 565.8h0M1265.1 676.6h0M1313 558.9h0M1261.1 745.6h0M1276.9 666.2h0M1249 796.3h0M1298.1 574.4h0M1261 751.5h0M1240.9 802.5h0M1259.4 764.6h0M1209.9 726.4h0M1244.8 800.4h0M1259 739.4h0M1267.2 762.8h0M1271 731.9h0M1262.7 754.4h0M1244.2 797.8h0M1295.3 622.8h0M1237.8 790.8h0M1246.6 791.1h0M1252.2 776.3h0M1270 668.6h0M1257.3 706.6h0M1250.1 773.5h0M1269.1 766.4h0M1293.4 614.2h0M1285.7 578.7h0M1269.4 727.1h0M1246.4 786h0M1255.8 770.9h0M1289.9 682.9h0M1244.6 800h0M1264 727.5h0M1285.8 640.7h0M1271.3 688.7h0M1253.1 788.1h0M1254.7 750.2h0M1268.6 755.1h0M1269.5 668.5h0M1242.9 805.2h0M1296.8 733.3h0M1273.9 600.6h0M1298 685.6h0M1285.5 670.7h0M1294.8 534.5h0M1251.3 786.1h0M1215.3 760.9h0M1261 781.2h0M1271.1 715.1h0M1271.1 712.7h0M1278.9 701.5h0M1250.6 778.1h0M1262.5 716.8h0M1263 766.1h0M1228.9 733.1h0M1269.6 756.7h0M1321.1 707.8h0M1284.9 772.8h0M1248.7 780.7h0M1252.2 778.4h0M1249.6 796.8h0M1255.3 766.3h0M1229.3 782.6h0M1259.1 705.3h0M1257.6 750.8h0M1294.1 684.1h0M1263.7 753.3h0M1234.4 784.4h0M1256.3 747.9h0M1234.2 785.3h0M1288.8 688.6h0M1305.2 562h0M1297.1 692.4h0M1245.8 800.9h0M1267.9 669.1h0M1306.7 594.4h0M1245.1 803.2h0M1311.9 647.2h0M1258.2 759.3h0M1264 684.4h0M1292.6 656.3h0M1247.8 796.2h0M1230.2 792.6h0M1315.6 558.6h0M1336.7 677.8h0M1308.4 693.2h0M1259.3 749h0M1294.4 727h0M1292 670.6h0M1262.1 738.3h0M1270.2 760.6h0M1257.2 746.5h0M1253.5 781h0M1272 710.3h0M1256.1 762.8h0M1230.8 765.2h0M1240 796.2h0M1226.1 767.6h0M1304.9 615.3h0M1263.2 748h0M1249.7 783.4h0M1282.4 596.4h0M1227.8 778.6h0M1239.5 801.4h0M1259.9 772.8h0M1251.6 767h0M1270.1 655.1h0M1248 788.8h0M1301.3 757.5h0M1245.6 801.6h0M1272.9 640.4h0M1300.4 711.4h0M1228.3 785.2h0M1245.2 799.1h0M1264 770.9h0M1263.4 757.5h0M1264.1 749.7h0M1282.7 704.9h0M1293.9 736.4h0M1244.4 797.9h0M1268.9 699.7h0M1269.6 663.4h0M1284.3 750.9h0M1242.9 804.7h0M1208.2 765.9h0M1250.7 785.3h0M1256.6 790.6h0M1241.1 801.9h0M1268.4 679.6h0M1261.1 710.3h0M1278.8 538h0M1243.1 802.2h0M1281.6 588.4h0M1233.3 786.6h0M1279.7 665.5h0M1253 774.5h0M1296.4 694h0M1248.3 790.3h0M1243.2 803.5h0M1237.4 780h0M1282.4 730.4h0M1243.2 804.5h0M1276.4 553.3h0M1261.9 725.3h0M1290.4 613.2h0M1300.3 589.4h0M1275 748.2h0M1257.8 720.9h0M1272.2 696.2h0M1243.5 802.2h0M1283.2 646.8h0M1259.3 789.1h0M1269.5 627.4h0M1238.7 801.6h0M1250.1 796.1h0M1228.7 745.6h0M1255.9 780.2h0M1253.1 785.6h0M1305.9 671.8h0M1283.5 641.9h0M1255.2 755.8h0M1276.5 624.2h0M1260.5 760.2h0M1251.1 748.7h0M1307.2 550.7h0M1265 652.6h0M1282 697.5h0M1268 779.6h0M1292.7 677.1h0M1296.9 594.1h0M1285.3 737.3h0M1242.9 804.1h0M1284.1 627.6h0M1218.9 776.2h0M1257.8 755.2h0M1266.7 632.2h0M1244.8 798.3h0M1274.1 742h0M1232.6 790.2h0M1289.8 731.1h0M1289 671.3h0M1257.9 774.2h0M1273 583.7h0M1296 674.3h0M1282.6 700.3h0M1264.1 768.3h0M1270.1 751h0M1262.8 758.6h0M1280.3 680.4h0M1251.7 762.5h0M1255.1 730.1h0M1266.4 762.6h0M1278.3 776.6h0M1262.3 708.5h0M1240 797.8h0M1237 787.6h0M1264.2 745.1h0M1260.4 759.5h0M1268.2 750.2h0M1254 744.6h0M1256.1 720.6h0M1262.4 764.9h0M1268.7 696.5h0M1277.5 719.9h0M1284.8 689.4h0M1313.3 652.3h0M1287.1 609.6h0M1268.1 737.4h0M1267 696.8h0M1253.5 774.2h0M1252 776.8h0M1281.9 738.5h0M1267.9 686.8h0M1257.4 730.2h0M1241.1 800.6h0M1280.6 712h0M1297.5 763.9h0M1283.8 727.7h0M1263.6 769.1h0M1276.5 683.1h0M1266.9 650.6h0M1240.7 799.9h0M1248.2 781.1h0M1253 761.2h0M1262.3 740.1h0M1229.3 753.8h0M1262.3 703.7h0M1246.2 796.1h0M1252.6 780.2h0M1285.9 646h0M1257.4 773.2h0M1232.4 796.5h0M1218.9 724.2h0M1249.9 779.6h0M1269.4 692.4h0M1246.6 801.9h0M1314.4 586.6h0M1290.2 613.6h0M1309 607.3h0M1243 804.1h0M1248.9 788.7h0M1242.3 805.4h0M1254.4 756.1h0M1271.9 751.9h0M1269.2 682.2h0M1276.2 658.3h0M1267.9 670.7h0M1302 643.9h0M1274.9 628.4h0M1255.3 751.7h0M1259.8 782.4h0M1285.4 736.3h0M1249.1 793.3h0M1246.9 790.5h0M1274.9 725.6h0M1258 735.3h0M1250.3 780.9h0M1289 714.7h0M1310.9 587.5h0M1233.5 792.7h0M1244.2 802.7h0M1242.7 805.7h0M1276.3 682.2h0M1248.2 794.3h0M1250.4 780.7h0M1247.1 797.2h0M1284.9 719.9h0M1244.1 803.7h0M1240.6 798.8h0M1247 789.5h0M1261.6 748.5h0M1300.2 642.2h0M1277.9 748.4h0M1242.1 805.2h0M1286.9 654.6h0M1246.5 793.2h0M1254.9 752.2h0M1258.8 784.4h0M1262.9 676.1h0M1282.2 670.4h0M1253.8 766.6h0M1284.2 690.5h0M1234 788.9h0M1285.6 678.6h0M1236.6 782h0M1255.9 695.9h0M1311.4 688.3h0M1301.7 615.3h0M1306.9 676.1h0M1244.1 797.9h0M1260.5 748.9h0M1274.7 640.9h0M1297.9 640.1h0M1269.5 769.7h0M1267 675.9h0M1256.9 781.7h0M1261.1 671.2h0M1283.7 671.5h0M1269.3 732.4h0M1275.6 689.9h0M1297 701.2h0M1298.2 730.1h0M1278.1 751.8h0M1240.9 802.6h0M1244.2 801.3h0M1237.2 785.1h0M1252.9 744.7h0M1245.6 797.3h0M1225.6 772h0M1297.7 608.9h0M1265.5 742.3h0M1304.4 568.9h0M1269.2 727h0M1225.4 709.2h0M1268.1 727.7h0M1238.6 782.6h0M1294.8 613.9h0M1306.9 590.6h0M1289.3 598.7h0M1314.3 669.3h0M1266.3 682.4h0M1295.2 618.4h0M1292.5 665.8h0M1271.6 704.9h0M1264.1 762.7h0M1253.2 785.3h0M1249 783h0M1263 752.2h0M1292.3 617.6h0M1279.8 667.9h0M1270.8 730.9h0M1260.8 709.5h0M1270.2 715.3h0M1299.4 714.9h0M1262.9 772.3h0M1268.2 619.9h0M1232.4 773.8h0M1282.3 712.2h0M1270 644.1h0M1242.7 805.7h0M1276.3 634h0M1305.5 637.8h0M1258.4 707h0M1257.6 766.7h0M1241.8 802.6h0M1259.3 747.4h0M1259 696.1h0M1315.4 446h0M1278.5 664.4h0M1306.7 700.6h0M1225.1 772.2h0M1240.7 804.9h0M1274.7 769.8h0M1270.8 730.3h0M1282.6 729.4h0M1279.5 609.2h0M1314.8 561.8h0M1292.8 588.7h0M1250.8 774.5h0M1276.6 757.3h0M1248.9 786.2h0M1232.2 787.3h0M1239.1 797.7h0M1313.9 677.8h0M1254.3 785.5h0M1266.4 654.4h0M1270.9 743.2h0M1291.4 712.6h0M1307.1 708.6h0M1275.8 776.3h0M1272.1 687.3h0M1238.5 794.3h0M1258.9 753.2h0M1279.9 569.4h0M1271.7 657.9h0M1232.3 771.9h0M1248.1 788.6h0M1317.3 703.8h0M1246.1 800.7h0M1252.4 776.2h0M1238.5 794.3h0M1286.4 649.5h0M1263.6 754.3h0M1295.8 726.5h0M1237.6 797.9h0M1255.3 755.6h0M1311.8 546.8h0M1269.8 643.6h0M1265.9 717.7h0M1263.7 789.3h0M1255.1 744.7h0M1267.9 711.9h0M1283.3 698.8h0M1263.7 740.3h0M1260.3 735.8h0M1243.8 802.3h0M1298.1 695.8h0M1245.2 800.2h0M1255.6 781.1h0M1270.3 757.8h0M1288.6 501.8h0M1279 543h0M1274.4 738.1h0M1278.3 699.9h0M1317.9 654.9h0M1257.2 724.5h0M1285.8 640.8h0M1301.2 544.2h0M1265.3 721.7h0M1254.3 715.5h0M1284.4 628.7h0M1247.7 800.2h0M1281.8 655.3h0M1248.1 784.7h0M1256.7 778.2h0M1261 706h0M1270.5 681.1h0M1299.5 654.8h0M1256.1 741.6h0M1241.9 804.8h0M1246.8 796.4h0M1219.6 764.8h0M1264.9 674.6h0M1291 722h0M1264.3 703.3h0M1262.7 667.7h0M1316.9 515.6h0M1257.7 746.5h0M1282.3 687.1h0M1290 639.2h0M1312.4 736.6h0M1295.2 768.6h0M1279.7 709.7h0M1206.7 766.5h0M1300.6 731.3h0M1263.7 750.6h0M1269.3 777.7h0M1323.8 664.3h0M1304.9 634.1h0M1265.2 767.5h0M1304.6 652.7h0M1267.7 655.4h0M1282.1 577h0M1278.7 762.6h0M1255.5 770.7h0M1292.5 715.5h0M1255.9 767.5h0M1260.5 711.1h0M1251.4 776.8h0M1256.2 706.4h0M1260.3 706.5h0M1277.6 634.8h0M1301.4 632h0M1267.9 677h0M1236.8 780.5h0M1243.7 803.5h0M1291.3 568.1h0M1290 781.3h0M1266.1 730.6h0M1265.9 609.4h0M1250 789.7h0M1226.7 739.7h0M1248.3 789.7h0M1277.7 635.4h0M1278 618.2h0M1265.3 654.9h0M1223.2 753.8h0M1227.3 759.6h0M1311 735.4h0M1229.3 758h0M1285.1 623.8h0M1278.8 718.2h0M1244.2 801.5h0M1272.7 662.4h0M1307.7 515.9h0M1269.6 713.8h0M1207.2 693.2h0M1269.9 780.5h0M1246.7 788.7h0M1275.2 717.9h0M1268.6 762h0M1251.7 782.2h0M1236.4 786.3h0M1225.6 773.1h0M1234.4 794.3h0M1265.6 739.3h0M1279.5 661.9h0M1319.7 705h0M1255.2 771.3h0M1279 688.8h0M1266.5 782.3h0M1299.6 618.4h0M1236.8 794h0M1229.1 769.1h0M1254.2 778.1h0M1263.2 775.4h0M1282.6 689h0M1311.5 689.4h0M1289.2 596.7h0M1238.6 794h0M1213.5 742.4h0M1258.2 786.1h0M1297.7 661.6h0M1275.3 774.3h0M1290.1 527.7h0M1265.2 732.4h0M1273.6 727.5h0M1235.8 789.7h0M1263.1 766.6h0M1279 628.6h0M1287.2 610.9h0M1313 705h0M1263.1 647.1h0M1270.1 655.9h0M1256.1 739.6h0M1243.9 803.6h0M1258.1 722.3h0M1262.4 750.9h0M1257.6 737.4h0M1275.2 618.6h0M1256.1 752h0M1276.3 556.6h0M1286.1 711.2h0M1238.9 789.5h0M1242 805h0M1264.3 749.7h0M1278.4 648.5h0M1256.7 760.4h0M1294.2 589.6h0M1248.8 785.3h0M1267.3 692.1h0M1248.8 780.7h0M1211.3 773.5h0M1318.7 618.4h0M1253.9 744.8h0M1280.2 694.3h0M1297 679.9h0M1272.7 763h0M1253.1 781h0M1297.5 520h0M1287 667h0M1292.5 553.8h0M1262.1 768.3h0M1266.7 723.6h0M1230.1 785.5h0M1259.4 770h0M1276.3 691.9h0M1251 783.2h0M1251.3 789.8h0M1260.8 638.2h0M1277 694.9h0M1253.8 753.7h0M1237.2 785.9h0M1302.3 647.5h0M1294.6 591.9h0M1273.6 696h0M1290 643.3h0M1255.3 724.4h0M1274 586.8h0M1267.8 676.9h0M1290.2 607h0M1284.4 714.3h0M1305.1 551.6h0M1301.5 592.2h0M1255.8 719h0M1280.2 579.3h0M1289 677h0M1274.3 722.7h0M1273.2 751.4h0M1280.7 645h0M1275.6 713.7h0M1267.9 698.9h0M1221.3 717.2h0M1272.6 742.9h0M1272.4 775.1h0M1242.4 805.5h0M1310.5 570.6h0M1284.1 533.5h0M1283.7 742.8h0M1278.8 678.8h0M1259.5 741.8h0M1248.2 784.4h0M1275.5 648.2h0M1285.5 639.3h0M1271.7 702.2h0M1256.4 793.2h0M1275.5 690.4h0M1260.4 760.4h0M1250.7 757.9h0M1270.9 686.4h0M1232.9 799.1h0M1264.4 630.7h0M1300.1 748.9h0M1263.8 740.5h0M1244.1 800.2h0M1260.8 774.8h0M1231.9 791.2h0M1286 725h0M1256.5 780.8h0M1295 752.7h0M1301.5 596.4h0M1260.8 774.9h0M1252 786.1h0M1258 717.9h0M1212.9 777.9h0M1279.2 706h0M1269.7 656.7h0M1256 790.9h0M1280.8 679.7h0M1283.9 700.1h0M1248.8 773.5h0M1269.8 737.1h0M1261 664.7h0M1264.3 687.1h0M1209.1 775.6h0M1298 645.6h0M1247.2 782.5h0M1266 708.6h0M1296.3 706.2h0M1261.9 746.9h0M1306.8 597.1h0M1285.4 650.4h0M1266.3 673.5h0M1251.4 757.3h0M1265.4 729h0M1271.4 623.5h0M1267.7 723.9h0M1249.2 790.9h0M1280.7 669.3h0M1295.1 650.8h0M1237.2 798.6h0M1262.8 656.9h0M1256.8 771.4h0M1305 718.5h0M1263.1 687.4h0M1283.4 606.3h0M1282.1 739.8h0M1320.1 685.6h0M1254.4 769.2h0M1297.8 582.9h0M1290.4 712.7h0M1273.3 765.4h0M1287.4 613.5h0M1273.8 636.1h0M1263.3 667.4h0M1270.6 680.6h0M1262 682.6h0M1269.1 683.1h0M1302.2 716.3h0M1269.3 748.4h0M1273.7 677.4h0M1279.6 750.6h0M1278.2 567.8h0M1285 708.9h0M1264.5 719.9h0M1224.5 770.8h0M1285 749h0M1258.7 726.2h0M1221.1 768.5h0M1255.6 771.3h0M1251.7 781h0M1255.9 727.2h0M1290 638.3h0M1228.3 767.9h0M1285.2 673.5h0M1294.2 607.9h0M1276.3 610.5h0M1309.7 725.5h0M1233.9 783.5h0M1332.9 656.9h0M1270.5 705.7h0M1273.4 652.9h0M1292.7 733.7h0M1238 793.7h0M1255.3 777.6h0M1232.9 789.2h0M1262.9 686.1h0M1257.8 752.6h0M1232.5 742.6h0M1202.6 742.1h0M1261.1 673h0M1235.6 788.6h0M1233.5 763.7h0M1293.7 620.6h0M1261.7 745.6h0M1249.8 783.6h0M1277.9 727.3h0M1294.9 585.7h0M1284.4 732.2h0M1313.1 592.9h0M1268.8 660.2h0M1263.9 733h0M1292.1 642.3h0M1243.6 804.6h0M1230.5 793h0M1252.2 779.8h0M1307.6 615.9h0M1252.2 782.6h0M1266.1 751.8h0M1245.5 795.6h0M1263.6 720.2h0M1263.4 773.1h0M1251.6 788h0M1265.6 728.9h0M1307.1 639.1h0M1245.5 797h0M1240.5 804.6h0M1242.8 804.8h0M1222 759h0M1267.1 718.1h0M1274.4 639.9h0M1254.4 766.6h0M1275.2 720.2h0M1278.5 692.3h0M1278.8 740h0M1215.1 742h0M1237.5 798.5h0M1246.8 799.3h0M1275.5 744h0M1246.6 792.9h0M1241.3 802.7h0M1251.8 774.1h0M1212.4 784.6h0M1267.7 726.5h0M1262.3 737.9h0M1325.8 672.6h0M1262.3 740.2h0M1251.8 770.9h0M1250.2 775h0M1251.9 771.3h0M1250 799h0M1300.8 607.1h0M1194 738.7h0M1264.5 691.7h0M1259.9 692.1h0M1280 709.4h0M1263.4 737.9h0M1262.5 664.3h0M1311 598.4h0M1278.4 712.7h0M1273.4 612.3h0M1225.5 739.7h0M1277.4 636.2h0M1244.8 794.8h0M1253.8 758.7h0M1274 629.2h0M1278.5 657.5h0M1265.3 719.9h0M1261.6 759.8h0M1257.7 778.1h0M1280.4 717.8h0M1288.7 655.7h0M1278.1 621.1h0M1279.9 698.4h0M1278.8 708.9h0M1256.5 763.4h0M1273.5 732.5h0M1293.4 702.1h0M1275.6 748.1h0M1264.1 644.7h0M1262.5 745.1h0M1253.3 750.4h0M1247.4 783.9h0M1264.8 642.8h0M1265.6 694.2h0M1270.5 785.3h0M1240.1 803.3h0M1241.5 803.2h0M1286.6 693.1h0M1224 750.7h0M1261 783.7h0M1260.4 784h0M1273.9 705.6h0M1227.9 745.5h0M1270.5 695.3h0M1248.4 777.3h0M1253.4 744.5h0M1242 804.7h0M1243.8 804h0M1338.6 700.9h0M1265.8 738.8h0M1269.5 604h0M1311.9 653.8h0M1267.4 783.4h0M1264.6 772.9h0M1317.1 662.4h0M1277.3 761.7h0M1253.5 757.4h0M1239.6 798.5h0M1289.6 753.1h0M1255.8 758.2h0M1302.1 726.9h0M1278.1 638.7h0M1258.1 760.3h0M1219.6 706.8h0M1226.6 785.8h0M1299.8 653.1h0M1244.8 794.2h0M1251.8 765.8h0M1271.2 647.2h0M1215.2 746h0M1272.6 581.1h0M1293.3 690.5h0M1290.5 740.8h0M1220.1 750.9h0M1232.4 790.2h0M1218.2 738.1h0M1310 517h0M1291.2 696.8h0M1265.6 740.1h0M1264.7 732.7h0M1273.2 631.4h0M1264.9 686.1h0M1270.5 684.9h0M1269.2 641.3h0M1310.5 529.1h0M1263.1 789.5h0M1267.1 745h0M1265.3 772.5h0M1220.7 759.9h0M1264.4 719.4h0M1259.7 782h0M1305.8 609.3h0M1291.4 590h0M1298.5 608.8h0M1314.3 604.4h0M1292.7 742.7h0M1237.6 803.7h0M1306.8 667.7h0M1307.8 673.4h0M1292.5 632h0M1272.2 680.7h0M1240.2 800.1h0M1263.4 710.6h0M1256.4 736.7h0M1267.9 731.5h0M1243.6 802.6h0M1236.5 786.1h0M1255.5 786.7h0M1231.9 784.5h0M1286.6 574.2h0M1235.6 785.7h0M1293.9 651.5h0M1297.7 694.1h0M1262.1 771.8h0M1284 549.9h0M1264.8 739.8h0M1273.4 671.1h0M1278.4 776.2h0M1255.2 737.7h0M1220.6 704.9h0M1286.8 741.3h0M1269.2 675.2h0M1294.3 748.3h0M1275.6 664.8h0M1254.8 754.9h0M1276.2 690.8h0M1229 754.5h0M1265 713.6h0M1292 711.8h0M1238 791.5h0M1287.2 639.5h0M1292.5 559.3h0M1270.5 759.9h0M1248.6 791.5h0M1321 680.5h0M1289 515.2h0M1256.4 756.2h0M1242.5 806h0M1270.7 730.1h0M1242.1 805h0M1331 739.5h0M1238.2 793.7h0M1239 797.2h0M1282.3 549.8h0M1273.9 685.6h0M1283.6 782.2h0M1257 776.4h0M1287.1 566.7h0M1267.1 772.6h0M1285.8 634.5h0M1295.7 686h0M1272.9 630.6h0M1273.1 675.3h0M1256.3 793.8h0M1242.8 805.4h0M1274.3 725.1h0M1268.9 751.9h0M1254.7 764.2h0M1233.2 767.7h0M1260.7 754.3h0M1232.7 777.8h0M1284.3 746h0M1266.2 648.3h0M1292.6 562h0M1263.8 700.1h0M1272.8 567.4h0M1309.6 761h0M1277.8 691.6h0M1314.8 755.1h0M1219.6 762.8h0M1263.1 702.2h0M1177.7 723.1h0M1247.4 794.3h0M1268.4 754.5h0M1278.7 679.5h0M1278 606.3h0M1259.3 752.2h0M1273.5 764.6h0M1263.5 704.4h0M1275.9 768.2h0M1317.6 568.7h0M1268.7 713.5h0M1264.8 772.3h0M1259.9 744.5h0M1261.7 777.8h0M1292.1 701h0M1261.8 753.2h0M1247.2 792.8h0M1264.5 701.6h0M1253.1 779.2h0M1257.6 734.2h0M1292.2 629.2h0M1300.1 634.3h0M1266.8 722.4h0M1282.6 717.1h0M1291.1 730.3h0M1212.7 622.8h0M1255.9 772.7h0M1255 756.1h0M1276.9 647h0M1295.6 599h0M1272.9 764.9h0M1254.5 793.2h0M1237.2 789.8h0M1280.3 684.9h0M1281.2 666.6h0M1252.5 779.3h0M1253.3 741.5h0M1266.3 756.9h0M1267.1 764.2h0M1260.1 717.1h0M1211.6 757.7h0M1261.8 699.6h0M1289.1 622.5h0M1219.5 705.3h0M1287.6 584.2h0M1227.4 748.8h0M1263.7 683.8h0M1276.8 707.2h0M1238.2 786.5h0M1305.8 700.1h0M1274.4 750.1h0M1251.2 748.4h0M1263.7 711.6h0M1236.2 794.3h0M1230.6 801.4h0M1226.8 756.5h0M1243.7 803.7h0M1241.5 802.4h0M1257.7 729.5h0M1244.1 799h0M1282.8 694.2h0M1292.2 661.3h0M1238.6 794h0M1316.7 720.1h0M1252 774.9h0M1296.1 643.6h0M1203.8 747.1h0M1272.8 748.4h0M1283.3 721.2h0M1258.9 772.9h0M1305 706.4h0M1276.5 628.7h0M1308.3 644.5h0M1268.6 735.3h0M1235.7 788.5h0M1212 776.9h0M1295.2 650.7h0M1271.9 739.2h0M1311.4 704.3h0M1252.4 767h0M1247.7 791h0M1275.6 688.2h0M1238.6 792.1h0M1302 637.6h0M1265.5 695.9h0M1298 654.1h0M1286 673.7h0M1305.8 598.4h0M1276.4 736.5h0M1282 656.5h0M1304.5 680.3h0M1275.1 686.1h0M1270.9 726.8h0M1236 791.4h0M1267.8 687.4h0M1285.2 753.7h0M1233 786.2h0M1261.7 723.6h0M1249.4 797.3h0M1273.5 678.6h0M1247.9 798.7h0M1296.2 645h0M1271.1 654.4h0M1272.6 743.9h0M1284.3 672.4h0M1237.9 793.5h0M1290.3 643.9h0M1286.9 732h0M1248.6 794.7h0M1269.8 704.3h0M1260.2 747.1h0M1274.7 701.5h0M1267.6 643h0M1269.2 685.2h0M1262.9 734.4h0M1253.4 739.1h0M1293 630.6h0M1214 777.5h0M1281.5 667.8h0M1279.3 694.3h0M1224.1 756.9h0M1249.4 771.2h0M1259.4 724.6h0M1270.4 704.6h0M1258.3 774.6h0M1286.8 688.6h0M1265.1 675.8h0M1265.8 682.1h0M1302.4 473.3h0M1259.5 697.3h0M1299.6 612h0M1255.8 790.6h0M1305.7 664.4h0M1260.6 737.3h0M1261.1 719.8h0M1276 642.6h0M1263.5 702.6h0M1253 800.8h0M1293 703.5h0M1301.4 638h0M1279.9 702.7h0M1262.7 745.5h0M1242.7 805.8h0M1257.2 715.5h0M1287.8 718.8h0M1262.6 761.4h0M1261.5 779.8h0M1244.3 797.3h0M1260 761.5h0M1224.9 790.7h0M1276.7 746.5h0M1267.2 688.3h0M1251.3 757.1h0M1300.7 624.4h0M1261.6 770.7h0M1245.9 795h0M1260.3 753.7h0M1264.9 737.4h0M1278.4 591.9h0M1303.4 616.9h0M1279.5 717.6h0M1265.2 696.4h0M1266.2 715h0M1284.5 712.2h0M1252.2 762.1h0M1307.9 628.8h0M1301.6 702h0M1281.3 686.7h0M1254.4 746.1h0M1244.6 801.5h0M1281 691.2h0M1249.9 773.3h0M1296.5 706h0M1222.1 764.4h0M1306.3 728.8h0M1305.5 678.4h0M1260.9 750.8h0M1253.6 735.1h0M1251.3 753.1h0M1264.5 740.5h0M1261 734.6h0M1235.3 789.9h0M1245.7 795h0M1260.6 721.9h0M1298.8 715.4h0M1300.1 642h0M1282.8 684.4h0M1241.1 802h0M1304 649.7h0M1235.2 778.8h0M1254.8 767.5h0M1276.5 709.7h0M1248.5 791.1h0M1281.2 618.7h0M1291.8 607.7h0M1246.3 801.5h0M1244.5 799.7h0M1262.4 695.8h0M1314.3 724.6h0M1287.5 512.5h0M1283.3 647.7h0M1291.4 495.1h0M1238.6 792.5h0M1242.5 806h0M1252.9 790.7h0M1238.8 796.6h0M1236.5 801h0M1299 551.7h0M1317.5 681.6h0M1309 626.4h0M1271.9 720.1h0M1259.7 772.4h0M1293.4 627h0M1270.6 552.9h0M1186.4 772.1h0M1288.7 662.3h0M1250.3 787.4h0M1240.9 801.6h0M1263.8 721.5h0M1263.8 749.7h0M1316.5 664.9h0M1273.3 731.3h0M1239.7 800.8h0M1292.1 712.5h0M1254 764.7h0M1289.3 610.1h0M1298.3 681.6h0M1283.8 615.5h0M1293.2 720.6h0M1257.2 736.2h0M1229.8 765.6h0M1286.3 620.9h0M1298.3 520.1h0M1281.1 586.8h0M1253.4 775.6h0M1272.2 611h0M1301.1 707.1h0M1282.7 667.4h0M1250 761.3h0M1263.4 750.7h0M1254.7 780.2h0M1242.9 805h0M1247.5 794h0M1240.9 797.3h0M1265.5 670h0M1271.3 564.6h0M1282.8 538.6h0M1210.4 745.2h0M1267.1 776.7h0M1273.9 665.4h0M1276.5 726.9h0M1292.2 600h0M1307.1 626.4h0M1266.6 745.5h0M1230.7 759.3h0M1289.1 738h0M1279.9 646.3h0M1275 661h0M1287.3 629.8h0M1274 663.1h0M1231.3 741h0M1241.3 803.4h0M1290.7 610.4h0M1261 734.7h0M1284.7 613.7h0M1246.8 780.7h0M1300.6 718.1h0M1232.8 796.7h0M1234.5 765.9h0M1242.2 805.6h0M1263.3 670.6h0M1266.3 733.3h0M1264.4 728.5h0M1275.2 710.6h0M1307.3 546.6h0M1296.5 750.2h0M1251.7 796h0M1255.4 736.7h0M1251 795h0M1262.5 637.9h0M1270.6 693.2h0M1288.1 628.6h0M1241.6 804.2h0M1279.5 786.1h0M1275 747.7h0M1244.1 802.6h0M1287.3 709.8h0M1242.8 805.2h0M1243.1 805.3h0M1244.9 799.1h0M1288.6 613.6h0M1289.7 616.7h0M1291.1 662.2h0M1279.5 671.8h0M1253.7 746.8h0M1283.3 741h0M1268.5 711.3h0M1306 621.1h0M1224.7 750.9h0M1309.3 614h0M1305.2 618.6h0M1256.9 719.7h0M1278.4 539.7h0M1284.8 646.6h0M1259.8 695.3h0M1292.8 700.6h0M1294.3 635.1h0M1256.8 789.3h0M1213.9 752.4h0M1251.4 776h0M1278.4 714.5h0M1263.8 775.2h0M1306.8 615.6h0M1278.4 635.8h0M1263.2 736.6h0M1271.4 690.2h0M1232.3 795h0M1253.2 777.7h0M1203.2 734.5h0M1316.1 699.6h0M1263.2 693.2h0M1248.8 775.5h0M1288.7 604.9h0M1289.1 642.6h0M1278.1 700.2h0M1235.2 778.3h0M1271.4 761.4h0M1256.2 755.8h0M1253.1 759.7h0M1324.4 673.7h0M1277.2 705.4h0M1268 775.5h0M1300.7 642.7h0M1299.9 705.5h0M1273.7 779h0M1288.7 681.4h0M1279.9 752.9h0M1276.4 659.4h0M1238.6 783.2h0M1274.9 700.9h0M1257.6 743.9h0M1261.7 680.2h0M1281.5 716.8h0M1248.5 779.3h0M1299.7 681h0M1276.5 596.7h0M1248.5 797.4h0M1299.5 632h0M1274.2 663.6h0M1265.6 700.9h0M1247.2 796.9h0M1261.2 665.4h0M1231.3 789.4h0M1304.3 678.1h0M1253.5 750.4h0M1290.6 700.4h0M1269.3 760.1h0M1256.7 761h0M1298.9 606.5h0M1219.5 765.1h0M1228.6 796.2h0M1250.4 763.6h0M1206.2 698.9h0M1250.7 784.6h0M1256.1 778.5h0M1294.6 640.2h0M1287.8 592.1h0M1271.2 736.7h0M1273.1 620.8h0M1217.7 677.7h0M1251 772.1h0M1254.4 781.2h0M1308.1 671.9h0M1295.7 732.9h0M1278.5 578.1h0M1260.9 749.3h0M1294.9 729.5h0M1234 786.9h0M1236.6 801h0M1300.6 543.8h0M1268.2 709.3h0M1281 621.5h0M1237 794h0M1261.5 746.9h0M1279.1 777.5h0M1252.4 783.4h0M1266.2 711.2h0M1276.8 703.2h0M1258.1 772.6h0M1247 781.5h0M1271.3 646.9h0M1256 735h0M1263 743.9h0M1264.9 701.8h0M1252.1 755.1h0M1301.8 678.6h0M1283.6 632.4h0M1292.3 632.6h0M1287.4 704.6h0M1235.6 797.5h0M1269.6 698.5h0M1292.7 521.2h0M1260 716.3h0M1262 715.6h0M1244.2 802.7h0M1318.5 772.5h0M1271.5 745h0M1245.7 796.9h0M1283.6 659.9h0M1254.8 768.7h0M1239.7 794.6h0M1240.5 801.7h0M1272.3 737.5h0M1197.1 673.1h0M1291.8 552.7h0M1294.8 628.1h0M1267.2 700.1h0M1247 794.3h0M1244.8 795.4h0M1267.9 763.2h0M1304.6 550.8h0M1258.6 671.1h0M1289.5 627.3h0M1253.4 802.8h0M1233 769.9h0M1300.7 744.7h0M1240.1 798h0M1314.4 680.1h0M1283.7 728.7h0M1271.6 709.9h0M1254 755.3h0M1245 797.4h0M1256.6 793.7h0M1273.5 698.9h0M1234.3 785h0M1245.7 796.5h0M1256.3 774.3h0M1286.9 613.6h0M1302.1 697.1h0M1317.4 612h0M1265.1 696.4h0M1280.9 551.8h0M1235 783.5h0M1299.3 735.7h0M1309.9 667h0M1299.6 596.5h0M1267.5 769.9h0M1250.5 793.6h0M1259.7 731.7h0M1264.5 786.1h0M1233.8 796.4h0M1237.3 785.9h0M1251.9 780.1h0M1320.9 649.2h0M1322.7 695.8h0M1268.7 676.1h0M1254.8 766.3h0M1241.8 803.9h0M1256.4 778.1h0M1266.5 725.2h0M1211.9 747.6h0M1259.1 717.1h0M1283.3 549.6h0M1261.1 720.4h0M1280.5 780.1h0M1321.7 734.6h0M1246.7 794h0M1250.5 776.3h0M1206.1 723h0M1292.9 605.7h0M1277.2 606.5h0M1292.2 694.1h0M1266.2 686.1h0M1293.2 666h0M1286.3 632.2h0M1276.1 596.1h0M1265.5 741.8h0M1270.3 726.7h0M1281 694.6h0M1291.7 641.7h0M1265.1 675.7h0M1279.2 642.5h0M1258.6 766.5h0M1272.2 742.9h0M1262.7 742.6h0M1256.6 729.3h0M1278.3 600.3h0M1267.6 710.6h0M1308.2 651.5h0M1280 663.8h0M1273.6 631.9h0M1268.3 724.8h0M1258.1 791h0M1252.6 782.1h0M1263.4 726.4h0M1297.7 614.8h0M1259.4 774.8h0M1259 694.8h0M1261.9 739.9h0M1240.8 800h0M1237.1 789.5h0M1240.9 801.9h0M1288.5 752.4h0M1304.5 676.1h0M1262.6 761.9h0M1286.8 549.3h0M1268.8 744.8h0M1268.8 755.1h0M1243.2 803h0M1257.1 716.7h0M1277.3 704.5h0M1297.1 717.8h0M1290.2 726.3h0M1244.4 794.9h0M1238.2 798.5h0M1239.7 803.2h0M1257.9 775h0M1284.9 603.3h0M1264.6 678.2h0M1254.4 730.4h0M1283 570.2h0M1246.5 800.2h0M1290.9 719.1h0M1258.5 748.6h0M1245.8 792.2h0M1280.4 753.5h0M1326 691.1h0M1262 669h0M1307.4 585.9h0M1243.4 804.6h0M1259 761.9h0M1277 721.7h0M1311.1 636.6h0M1265.4 667.2h0M1265.5 715.7h0M1291.4 644.6h0M1291.6 745.4h0M1232.8 791.8h0M1257 766.1h0M1242.5 805.9h0M1205 756.1h0M1279.2 680.6h0M1239.9 795.1h0M1332.5 669.6h0M1281.5 784h0M1218 773.4h0M1272.2 767.5h0M1266.1 643.6h0M1295.5 562.3h0M1273.1 540.9h0M1291.6 699.5h0M1259.6 663.9h0M1297.3 689.9h0M1298.1 719.1h0M1251.1 775.1h0M1264 738.4h0M1328 704.4h0M1244.4 798.5h0M1259.3 774.5h0M1253.4 793.1h0M1285.9 691.8h0M1267.9 717h0M1285.1 690h0M1290.3 696.6h0M1317.3 655.6h0M1231.2 797.4h0M1251.5 761.9h0M1272 718.4h0M1213.6 781.2h0M1258 730.5h0M1196.7 767.9h0M1283.4 597.9h0M1255.1 757.9h0M1259.2 715h0M1273.2 705.5h0M1267.7 712.1h0M1293.8 649.4h0M1293.4 619.7h0M1234.7 792.8h0M1241.1 798.6h0M1306.6 712.9h0M1276.1 706.9h0M1287.9 655.8h0M1244.7 800.1h0M1286.3 734.8h0M1254.3 771.3h0M1252.4 763h0M1255.1 746.2h0M1298.7 699.6h0M1292.3 581.5h0M1252.6 760.6h0M1242.1 805.1h0M1284.4 684.8h0M1268.9 693.4h0M1270.6 749.9h0M1271.4 622h0M1257.1 707.3h0M1262.6 759.4h0M1267.6 740.1h0M1226.1 781.2h0M1266.8 623.2h0M1293.4 635.2h0M1247 790.7h0M1317.3 514.6h0M1290.5 485.1h0M1280.8 722.2h0M1227.4 764.8h0M1273.2 670.9h0M1244.3 798.8h0M1302.6 745h0M1270.3 754h0M1276.6 645.1h0M1269.3 672.1h0M1280.1 645.9h0M1294.1 712.1h0M1255.4 730.8h0M1234.3 768.5h0M1309.2 630h0M1247.5 782.3h0M1255.2 768.2h0M1238.1 793.6h0M1284.2 737.2h0M1246.1 791.2h0M1286.2 681.2h0M1258.5 779.8h0M1267.5 671.4h0M1257.3 739.5h0M1305.9 697.9h0M1238.3 800.6h0M1259.2 706h0M1239.2 792.1h0M1223.4 761.3h0M1263.2 725.3h0M1272.5 723.8h0M1288.2 648.7h0M1285 709.7h0M1247.3 791.1h0M1255.9 761.8h0M1211 689.6h0M1239.5 791.4h0M1263.4 733.8h0M1264.1 727.3h0M1255.1 792.4h0M1265 781h0M1283.9 628.3h0M1253.7 759.9h0M1283.6 690.6h0M1258.4 778.2h0M1252.7 786h0M1278.1 599.2h0M1243.4 804.1h0M1283.8 720.2h0M1287 695.7h0M1280.4 729.8h0M1306.1 468.2h0M1250.2 784.3h0M1277.6 708.1h0M1242.7 804.7h0M1270.7 709.9h0M1243.8 803.9h0M1239.3 797.6h0M1282.6 666.9h0M1264.3 770.9h0M1297.4 609.1h0M1218.1 651.7h0M1281.3 719.8h0M1243.4 802h0M1255.3 755.8h0M1283 705.1h0M1305.3 688.8h0M1252.6 790.2h0M1261.3 778.4h0M1284 687h0M1247.4 799.7h0M1268.2 740.1h0M1268.7 682.8h0M1287.7 694.9h0M1250.2 790.4h0M1289 730.8h0M1272.1 770.6h0M1261.8 788.3h0M1271.2 666.8h0M1277.7 722.7h0M1301.6 539.7h0M1263.2 723.5h0M1295.8 576.5h0M1266.8 710.9h0M1256.1 753.9h0M1266.1 717.8h0M1263.9 754.3h0M1274.7 633.9h0M1311.2 760.9h0M1263.7 703.9h0M1269.5 647.2h0M1262.2 780.2h0M1260.1 740.1h0M1260.2 765.2h0M1213.4 781.4h0M1254.6 749.8h0M1234.7 800.5h0M1231 769.6h0M1252.8 727.5h0M1257 773.8h0M1262.5 734.6h0M1255.7 738.3h0M1292.3 593.3h0M1264.1 653.6h0M1275 707.1h0M1218.2 770.3h0M1279.9 672.8h0M1273.6 687.7h0M1272.6 701.4h0M1249.8 775.3h0M1298.3 668.1h0M1314.7 605.9h0M1234.8 799.2h0M1263.8 703.7h0M1243.6 805.3h0M1285.7 737.6h0M1273.1 705.1h0M1289.5 715.9h0M1263.7 738h0M1311.7 691.7h0M1289.7 653.3h0M1241.2 802.1h0M1235.8 789.7h0M1259.9 729.1h0M1294.9 608.4h0M1248.6 785.4h0M1298.3 779.6h0M1267.9 704.5h0M1276.7 734.4h0M1266.2 716.3h0M1256.7 784.6h0M1317.4 764.2h0M1244.2 797.2h0M1268.8 737.6h0M1252.9 745.1h0M1219 772.9h0M1297.9 632h0M1270.9 746.5h0M1280.6 637.1h0M1251.9 778.3h0M1259.2 696.2h0M1292.9 588.3h0M1283.3 655.3h0M1283 607.2h0M1305.6 741.6h0M1288.1 672.7h0M1312.8 707.4h0M1259.7 772.7h0M1277.3 615.5h0M1276.7 693.7h0M1234.5 786.6h0M1241 802.3h0M1299.5 688.2h0M1253.9 774h0M1307.7 648.3h0M1254.4 760.3h0M1260.1 746.6h0M1281.5 692.1h0M1254.2 774.6h0M1291.6 678.6h0M1304.3 709.4h0M1298.2 628.7h0M1257.3 770h0M1254.5 793.6h0M1265.5 711.3h0M1242.3 805.6h0M1262.5 759.8h0M1278.1 717.6h0M1256.1 774.8h0M1233.3 796h0M1241.6 804.5h0M1294.7 614.7h0M1238.7 796.8h0M1297 669.5h0M1237.8 799.1h0M1216.7 759.9h0M1242.3 805.8h0M1277.5 664.6h0M1248.6 782.9h0M1232.1 740.7h0M1315.9 651.1h0M1287 588.7h0M1240.1 799.7h0M1246.4 801.6h0M1291 587.7h0M1258 750.4h0M1256.4 783.2h0M1242.7 805.9h0M1248.7 793.8h0M1244.2 803.3h0M1256.5 750.8h0M1262.1 749h0M1244.4 795.6h0M1273.8 567.2h0M1225.8 742.6h0M1208.4 761.9h0M1231.1 777h0M1262.4 734.9h0M1261 729.7h0M1294 619.5h0M1306.6 740.2h0M1310.6 507.6h0M1265.6 779.6h0M1237.7 796.2h0M1261.4 706.1h0M1316.6 680h0M1262.2 710.3h0M1275 705h0M1256.5 751.4h0M1285.3 602h0M1266.9 764h0M1259.9 733h0M1251.3 739.5h0M1235.2 772.7h0M1299.1 717.9h0M1250 793.4h0M1256.3 749.7h0M1259.1 752.9h0M1272.7 698.1h0M1273.5 627.4h0M1265.5 696.3h0M1303.3 599.3h0M1234 791.4h0M1282.2 640h0M1245.4 800.3h0M1278.3 648.7h0M1246.7 793.6h0M1259.7 757.7h0M1272.2 715.8h0M1281.1 717.4h0M1294.8 739h0M1233.9 784.2h0M1267.4 767.9h0M1264.3 725.6h0M1257.8 696.4h0M1219.3 747.4h0M1253 786h0M1272 570.5h0M1284.7 722.7h0M1236.2 791h0M1272 742.7h0M1278.6 722.8h0M1314.9 643.3h0M1235.2 793.1h0M1264.3 693.7h0M1295.2 667.2h0M1255.4 767.8h0M1256.6 779.7h0M1272.3 591.9h0M1280.9 738.6h0M1268.1 747.7h0M1261.8 752.2h0M1267.6 719.9h0M1236 798.7h0M1264 762.4h0M1269.6 752.6h0M1284.6 631.8h0M1288.3 691.9h0M1289.4 727.4h0M1281.7 648.2h0M1309.7 643.3h0M1297.7 644.2h0M1277.7 767.1h0M1273.7 718h0M1290.3 646h0M1255 761.8h0M1306.7 512.8h0M1226.9 777.6h0M1247.2 801.4h0M1243.5 802.1h0M1276.1 671.4h0M1263.8 761.4h0M1256.6 753.2h0M1251.4 772.8h0M1255.1 772.8h0M1290.7 702.7h0M1259.7 749.1h0M1290.8 691h0M1253.6 775.3h0M1260.3 752.2h0M1292.8 645.4h0M1255 787.6h0M1260.7 774.4h0M1297.8 577.3h0M1237.6 792h0M1290.2 675.3h0M1250.5 788.2h0M1254.2 781.3h0M1269.1 670.2h0M1243.6 803.5h0M1265.1 676.1h0M1260.4 712.7h0M1309.8 653.1h0M1289.9 699h0M1274.3 678.6h0M1270.8 725.6h0M1210.9 683.9h0M1234.4 787.3h0M1308.6 679h0M1272.1 744.8h0M1257 768h0M1276.9 760h0M1302.2 648.7h0M1298.8 631.3h0M1294.8 572.9h0M1258.6 779.8h0M1299.6 584.3h0M1258.5 749.8h0M1299.2 688.3h0M1264.5 706.3h0M1263.8 692.5h0M1283.9 736.4h0M1251.4 783.6h0M1280.2 716.4h0M1310 589.7h0M1280.4 638.4h0M1251.3 777.8h0M1287.2 544.7h0M1278.1 732.9h0M1217.1 780h0M1248 801.6h0M1215.6 743.5h0M1279.5 713.2h0M1282.7 755.4h0M1333.7 701.8h0M1269.9 712.8h0M1250.7 787.2h0M1266.2 717.9h0M1272 736.7h0M1250.7 799.4h0M1272.4 696.6h0M1291.4 661.2h0M1284.8 777.8h0M1265.3 726.6h0M1258.7 766.8h0M1254.3 777.6h0M1266.3 744.7h0M1240.6 798.7h0M1293.3 707.4h0M1242.9 804.5h0M1244.1 800h0M1317 658.1h0M1296.4 725.4h0M1295.5 742.9h0M1259 777.5h0M1275.8 618.1h0M1252.5 767.5h0M1296.1 733.3h0M1278.5 702.4h0M1202.7 760.7h0M1259.5 736.7h0M1295.6 703.4h0M1263.1 672.4h0M1256.6 785.9h0M1296.4 679.2h0M1166.8 697.9h0M1250.9 760.2h0M1263.9 695.2h0M1281.4 633.4h0M1300.7 730.1h0M1269.2 652.4h0M1302.2 554h0M1276.6 604.2h0M1244.3 803.7h0M1273.1 753.4h0M1298.4 713.3h0M1243.5 804.2h0M1273.6 743.5h0M1288.8 699h0M1298.3 729h0M1279.2 751.9h0M1308.5 680.7h0M1267.1 728.8h0M1247.9 799.2h0M1319.4 679.7h0M1237.5 792.6h0M1246.3 794.3h0M1289.1 722h0M1276.8 655.2h0M1276.5 736h0M1218.1 792.7h0M1256.3 720.1h0M1221 766.7h0M1233.5 788.3h0M1287 670.7h0M1276.2 739.2h0M1239.4 799.7h0M1286.1 634.3h0M1281.3 743.9h0M1261.4 795h0M1278.3 749.4h0M1284.2 581.6h0M1234.3 785h0M1286.5 601.9h0M1276.4 698.8h0M1286.8 606.1h0M1237.6 801.8h0M1290.6 777.8h0M1298.3 539.3h0M1266.8 753h0M1279.4 747.7h0M1239.7 796.6h0M1255 729.4h0M1297.9 638.5h0M1295.2 538h0M1296.8 643.6h0M1263.7 721h0M1261.4 743.3h0M1284.1 626.5h0M1275.3 722h0M1283.3 745.4h0M1219.9 754h0M1256.2 783.1h0M1257.4 738.1h0M1310.6 740.7h0M1298.9 729.4h0M1214.1 729.4h0M1271.6 682.7h0M1280.6 730.4h0M1232.9 767.6h0M1281.6 689h0M1269 725.7h0M1259 713.2h0M1311.7 678.9h0M1254.6 748h0M1291.5 663.4h0M1254.5 775.6h0M1257.7 708.1h0M1288.2 720.4h0M1288.2 665.8h0M1245.5 804.1h0M1237.1 788.5h0M1272.4 571.9h0M1277.1 705.1h0M1298.7 711.7h0M1297.8 606.2h0M1276.6 780.5h0M1235.9 793.1h0M1284.9 606.6h0M1336.8 650.9h0M1215.8 703.4h0M1289.7 664.2h0M1277.8 678.8h0M1297.5 640.6h0M1310.2 646h0M1286.8 728.4h0M1239.6 798.3h0M1250.3 770.4h0M1275.1 646.4h0M1295.1 590.1h0M1278.8 666h0M1247 792h0M1281.5 651h0M1246.6 799.1h0M1281.5 651.2h0M1254.1 793.3h0M1316.8 635.1h0M1303 643.7h0M1255 763.9h0M1301.9 655.2h0M1284.6 743.3h0M1293.8 694.8h0M1268.2 716.5h0M1232.2 777h0M1259.7 753.6h0M1235.2 770.3h0M1303.7 671.1h0M1266.6 652.7h0M1271.3 689.5h0M1305.8 599.2h0M1268.9 564.9h0M1299.5 688.6h0M1231.7 776.8h0M1231.1 778.2h0M1271.4 633.6h0M1267.8 681.1h0M1273.1 713.5h0M1273.4 568.2h0M1246.5 800.6h0M1243.6 804.5h0M1250 776.6h0M1265.9 694.9h0M1246.6 797.9h0M1275.4 708.5h0M1258.1 741.9h0M1268.7 727.1h0M1257.8 735.6h0M1238.4 787.3h0M1318.3 648.6h0M1313.4 620.4h0M1234.4 769.4h0M1259.9 762.4h0M1288.9 670.7h0M1221.6 784.3h0M1319.2 714.1h0M1252.5 777.9h0M1278 642.2h0M1285.9 565h0M1289.7 778.2h0M1273.1 651.2h0M1272.7 773.9h0M1280.3 647.1h0M1263 726.4h0M1257.9 796h0M1248.5 773.4h0M1269.8 731.8h0M1311.5 633.8h0M1239.5 796.7h0M1300.1 471.9h0M1268.8 673.9h0M1260.7 681.7h0M1254.8 749.5h0M1266.7 721h0M1278 577.3h0M1234.2 794.6h0M1268.3 678.1h0M1286.5 615.2h0M1303.2 582.8h0M1235.8 782.2h0M1291.5 677.7h0M1234.8 769h0M1258.6 760.9h0M1297.1 702h0M1300.7 708.2h0M1255.4 740.4h0M1266 652.5h0M1304.8 691.5h0M1247.5 779.3h0M1279.7 747.9h0M1290.5 676h0M1306.3 646.7h0M1241.6 804h0M1268.4 759.2h0M1271.3 693.1h0M1231.6 797.1h0M1277.1 739.7h0M1284.1 755.9h0M1311.6 628.7h0M1274.7 605.2h0M1247.6 794.8h0M1307.9 569.9h0M1254.9 756.7h0M1262 731.4h0M1254.2 765.7h0M1249.2 777.7h0M1233.7 788.8h0M1215.6 685.3h0M1320 701.5h0M1296.8 551.2h0M1242.6 805.7h0M1290.7 656.8h0M1269.7 772.7h0M1310.9 702.8h0M1259.3 736.4h0M1276.7 667.8h0M1279 663.5h0M1302 653.7h0M1281.7 634h0M1266.5 581.3h0M1248.8 798.7h0M1264.8 764.5h0M1276.7 601.3h0M1248.9 790h0M1285.9 611.9h0M1263.6 700.4h0M1308.8 595.5h0M1263.7 690.5h0M1268.6 721.2h0M1289.4 706.9h0M1224.6 779.5h0M1278.3 702.9h0M1303.6 661.1h0M1247.3 791.4h0M1256.5 712.1h0M1269.4 663h0M1257.6 706.7h0M1300 616h0M1295.7 695.1h0M1217.3 793h0M1303.9 636.3h0M1294.6 765.6h0M1253.7 789.8h0M1318.6 738.7h0M1306 524.9h0M1288.2 527.7h0M1290.5 696.1h0M1260.3 791.3h0M1264.1 771.2h0M1242.6 805.9h0M1250.5 789h0M1277.1 657.9h0M1300.5 685.3h0M1273.8 754.1h0M1276.5 671.2h0M1247.9 776.5h0M1276.7 591.6h0M1255.2 767.2h0M1294.1 648h0M1274.2 751.2h0M1310.9 664.8h0M1268.7 746.4h0M1287.1 588.2h0M1293.2 679.4h0M1252.4 778.3h0M1288.9 712h0M1300.5 601.8h0M1285.6 680.2h0M1252 754.8h0M1277.2 724.7h0M1283.1 633.1h0M1259.1 753.3h0M1297.6 554h0M1252.7 789.4h0M1274 705.6h0M1271.4 677.8h0M1284.2 605.2h0M1254.3 776.4h0M1248.9 797.2h0M1270.2 705.7h0M1287.4 649.7h0M1238.8 796.6h0M1301.9 737.1h0M1290 699.7h0M1287.4 608.6h0M1250.4 789.7h0M1304 673.8h0M1261.3 725.4h0M1237.5 781.6h0M1289.5 593h0M1236.3 788.3h0M1281.9 662.1h0M1242.7 805.1h0M1255.3 779.4h0M1272.2 689.6h0M1276.1 621.7h0M1271.8 678.7h0M1242.7 805.2h0M1266.3 753.8h0M1257.7 731.5h0M1215.6 741.5h0M1253.3 780.3h0M1240.6 795.4h0M1240.1 800.5h0M1284.9 599.1h0M1252.2 766.8h0M1251.9 764.2h0M1256.5 705.2h0M1255.3 747.5h0M1249.1 765.3h0M1227.1 780.3h0M1248.5 783.1h0M1311.6 663.3h0M1277.2 669.7h0M1260.5 764.4h0M1241.7 803.9h0M1247.9 790.9h0M1286.2 672.5h0M1256.4 762h0M1277.5 731.3h0M1272 630.1h0M1240.5 799.7h0M1246.6 788.3h0M1264.7 786h0M1262.9 752h0M1268.7 748.1h0M1234.5 782.9h0M1285.9 641.7h0M1282.1 706.9h0M1267.4 735.3h0M1229 763.8h0M1292.8 680.6h0M1256.4 758.1h0M1271.1 710.8h0M1311.6 654.3h0M1255 778.3h0M1268.1 708.2h0M1240.8 802.7h0M1286.3 617.1h0M1232.9 788.7h0M1239.1 796.6h0M1267 673h0M1266 699.5h0M1253.4 778.4h0M1287.3 579.4h0M1274.8 610.7h0M1236.2 776.6h0M1256.6 749.4h0M1237.6 790.6h0M1272.5 688.2h0M1265.6 659.7h0M1293.1 634.6h0M1251.5 754.1h0M1223.7 777h0M1256.8 757.4h0M1282.7 629.9h0M1252.1 760.2h0M1273.9 658.1h0M1255.8 777.4h0M1252.4 779.9h0M1298.1 728.1h0M1259.7 696.4h0M1307.2 528h0M1312.9 676.4h0M1258.6 734.8h0M1256.3 763h0M1254.8 794.4h0M1285.7 714.6h0M1245.1 801.3h0M1216.1 716.5h0M1271.3 682.7h0M1243.9 800.6h0M1246 793.7h0M1257 706.4h0M1297.4 593.7h0M1281.6 708.5h0M1234.5 791.6h0M1287.3 761.6h0M1261.5 713.6h0M1282 619.6h0M1311.3 617.5h0M1279.6 628.3h0M1278.3 746.6h0M1255.3 788.7h0M1247.8 793.6h0M1273.3 683.8h0M1240.8 801.9h0M1258.4 739.8h0M1282.2 683.8h0M1244 801h0M1275.2 677h0M1287.2 651.4h0M1275.5 742.5h0M1281.6 752.6h0M1243.9 804.9h0M1235.7 792.2h0M1263.1 707.3h0M1264.6 740.7h0M1247 788.7h0M1280.5 569.5h0M1239.2 797.5h0M1260.8 664.1h0M1258.7 757.1h0M1267.3 709.5h0M1319.6 713h0M1259.1 781.7h0M1288.6 638.5h0M1255.3 712.7h0M1261.7 707.5h0M1265.6 720.4h0M1255.2 785.9h0M1288 468.8h0M1259.3 752.5h0M1250.8 765.5h0M1244.1 801.7h0M1271.7 651.3h0M1270.3 677h0M1273.8 676.8h0M1283 681.2h0M1235.3 783.3h0M1279.5 636.7h0M1275.6 707.9h0M1248.5 787.1h0M1250.4 780.7h0M1276.7 692h0M1256.5 781h0M1222.6 773.6h0M1279.4 660.4h0M1277.4 782.7h0M1233.2 767h0M1296.2 686.8h0M1267.7 724.3h0M1272.2 704.4h0M1289.3 641.1h0M1268.2 696.5h0M1261.7 673.9h0M1340.4 639.6h0M1251.2 789.9h0M1256.8 779.8h0M1268.1 692.3h0M1272.9 696.6h0M1220.4 771.8h0M1297.2 591.6h0M1285.4 689h0M1249.8 774.8h0M1276.8 659h0M1271.4 759.3h0M1250.9 737.5h0M1280.9 715.4h0M1260.4 659.4h0M1265.5 786.6h0M1251.3 773.3h0M1246.8 797.3h0M1244.5 799.7h0M1264.2 766.4h0M1219.9 733.3h0M1286.1 709h0M1251.4 778.9h0M1302.9 619.4h0M1240.2 798.8h0M1259.1 747.3h0M1240.4 799.6h0M1264.9 734.6h0M1267 757.2h0M1266.3 694.9h0M1306.1 681.8h0M1248.5 785.3h0M1301.8 738.9h0M1250.7 787.4h0M1249 783.5h0M1246.5 796.9h0M1265 771.7h0M1265.1 746h0M1222.6 769.2h0M1277.4 698.9h0M1288.6 737.3h0M1256.9 778.6h0M1266.6 750.4h0M1245.1 797.4h0M1307.5 696.8h0M1262 733.1h0M1275.3 698.4h0M1274.7 648.5h0M1270.1 701.7h0M1251.3 762.9h0M1269 693.5h0M1279.8 638.6h0M1263.3 746h0M1268.1 716.1h0M1269.3 706h0M1274.5 696.3h0M1289 720.7h0M1265.7 702.8h0M1234.2 787.9h0M1265.6 722.2h0M1308.5 705.2h0M1234.2 765.8h0M1300.1 688.4h0M1292.8 598.8h0M1260.4 744.1h0M1284.1 703h0M1245.1 795.2h0M1257.9 746.9h0M1255.5 737.5h0M1298.3 667.1h0M1284.4 569.7h0M1229.6 767.4h0M1252.4 742.8h0M1286.2 604.1h0M1285.4 741.3h0M1236 794.9h0M1268.9 555.2h0M1261.7 633.8h0M1282.5 713.1h0M1254.6 745.2h0M1322.9 645.4h0M1315.3 620.9h0M1241 803.6h0M1276.4 753h0M1296.5 691.4h0M1274 730.8h0M1296.3 682h0M1282 705.8h0M1317 564.6h0M1261 760.1h0M1277.6 680.2h0M1306.3 615.6h0M1231.7 779.2h0M1259.3 768h0M1230 760.7h0M1262.6 683.1h0M1206.7 772.8h0M1293.5 742.6h0M1260.6 743.5h0M1268.6 727.2h0M1281.2 590h0M1225.6 768.6h0M1256.2 743.9h0M1248.4 780.2h0M1297.8 642.9h0M1292.9 567.3h0M1263.2 739.6h0M1303.8 491.8h0M1284.6 689.7h0M1301 482.6h0M1242.9 805.4h0M1246.7 794h0M1295.5 733.3h0M1256.7 759.1h0M1210.7 747.2h0M1296 710.8h0M1216 725.4h0M1248.7 780.1h0M1300.5 687h0M1239.9 795.9h0M1276.2 728.6h0M1251.3 762h0M1253.1 773.8h0M1284.5 658.5h0M1244.1 801.6h0M1304.3 618.7h0M1233 790.5h0M1286.1 675.6h0M1261.7 761.3h0M1246.3 800.9h0M1263.6 761.6h0M1257.3 754.2h0M1258.1 729.7h0M1260.7 735.9h0M1277.4 706.2h0M1235.2 795.4h0M1272.9 612.3h0M1265.3 640.1h0M1228.6 774.1h0M1270 556.3h0M1267.1 720.1h0M1259.7 698h0M1262.2 755.5h0M1269.9 746.2h0M1257.8 725.3h0M1313.5 687.8h0M1286.6 642.7h0M1268.3 670.7h0M1259.8 726.7h0M1244.9 800h0M1266 770.3h0M1291.2 628.8h0M1261.6 679.8h0M1248 778.1h0M1274.3 723.1h0M1301.5 560.7h0M1315.6 657.1h0M1296.4 674.6h0M1239.8 802.6h0M1273.2 732.8h0M1252.3 745.9h0M1311.9 652.2h0M1281.9 740.1h0M1273.4 743.4h0M1258.7 723.5h0M1257.9 777.6h0M1252.4 794.5h0M1230 783.5h0M1279.1 664.1h0M1255.9 715h0M1258 741.4h0M1282.9 684.8h0M1261.2 751.1h0M1229.8 747.5h0M1243.5 804.5h0M1253.9 780.7h0M1251.9 765.3h0M1250 799.7h0M1225 751.9h0M1225.9 772.5h0M1273.6 758.3h0M1262.7 768.2h0M1304.4 731.1h0M1299.3 601.7h0M1209.2 761.4h0M1252.6 778.8h0M1263.4 700.5h0M1265.7 739.1h0M1264.4 782.9h0M1316.7 595.1h0M1301.3 711.6h0M1264.6 747.1h0M1254.2 734.4h0M1254.5 758.4h0M1264.5 675.6h0M1257.3 708.6h0M1260 752.7h0M1269.3 771.9h0M1244.8 802.2h0M1285.6 709.8h0M1269.8 709.8h0M1269.8 782.9h0M1247.4 778.5h0M1239 802.5h0M1281.1 681.8h0M1254.8 734.8h0M1213.1 763.3h0M1290.1 602.9h0M1227.7 761.9h0M1273.8 689.7h0M1264.5 736.2h0M1275.4 624.8h0M1307.2 630.7h0M1242.3 805.3h0M1285.4 650.2h0M1247.1 794.8h0M1313.4 603.8h0M1301.7 589.1h0M1268.4 732.2h0M1284.5 675h0M1272.4 630.6h0M1258.1 785.7h0M1286.2 692.4h0M1233.3 786.8h0M1266.6 754.9h0M1277.4 637.7h0M1278.3 623.8h0M1283.4 529.1h0M1265 691.4h0M1233.4 770.3h0M1234.3 786.6h0M1313.4 588.7h0M1268.4 714h0M1241 803h0M1258.4 744h0M1252.4 767.1h0M1279.8 595.8h0M1283.5 635.8h0M1245.3 803.4h0M1257.8 685.2h0M1265 768h0M1262.9 734.4h0M1244.8 802.6h0M1235.6 782.9h0M1265.7 752.9h0M1263.3 729.5h0M1259.6 753.5h0M1283.1 672.6h0M1273.2 711.8h0M1275.1 659.3h0M1286.6 611.3h0M1261.5 766.9h0M1250.8 783.2h0M1252.8 774.5h0M1256.2 777h0M1329.5 665.3h0M1257.7 773.8h0M1251.9 762.2h0M1282.9 742.8h0M1256.5 723.4h0M1265.6 752.3h0M1250 786.8h0M1250.9 791.4h0M1269.4 715.2h0M1300.3 663.5h0M1250 760.7h0M1252.6 769.6h0M1286.7 627.1h0M1224.1 772h0M1237.6 796.4h0M1261.7 722.4h0M1310.9 521.4h0M1253.1 758h0M1287.4 565.1h0M1261.9 734h0M1210.8 730.4h0M1285.2 639.1h0M1252.2 775.3h0M1260 763h0M1268.1 589.8h0M1287.2 717.4h0M1274.5 640.7h0M1259.1 746.5h0M1308.2 746.2h0M1295.5 635.6h0M1308.6 507.2h0M1267.5 699h0M1225.1 792.3h0M1277 693.8h0M1239.4 796.2h0M1278.4 721.6h0M1253.6 759.3h0M1249.2 770.3h0M1281.7 769.7h0M1283.7 679h0M1287.6 728h0M1253.5 754.6h0M1235.9 774.2h0M1189 735.9h0M1258.2 749.6h0M1302.2 646.9h0M1296.3 703.9h0M1266.2 699.8h0M1272.4 646.3h0M1286.9 719.6h0M1308.3 559.3h0M1307.6 703.6h0M1239.8 795.6h0M1283.5 746.3h0M1272 704.6h0M1265.6 698h0M1241.4 803.9h0M1254.6 752.3h0M1290.2 670.6h0M1227.9 762.6h0M1285.3 653.4h0M1294.3 661.7h0M1251.6 770.7h0M1284 676.6h0M1296.8 637.2h0M1267.5 642.3h0M1252.1 780.7h0M1258.8 760.1h0M1246.6 801.3h0M1210.8 752.7h0M1263.4 653.6h0M1226 792.9h0M1278.8 655.3h0M1299.8 674.2h0M1268.5 756.3h0M1268.8 742.1h0M1263.9 760.2h0M1253.4 732.6h0M1252.6 777.2h0M1270.7 656.9h0M1281.2 593.6h0M1274.3 634.5h0M1236 783.2h0M1267 743.8h0M1291.5 672.9h0M1230 782.9h0M1247.2 793.8h0M1245.6 799.2h0M1269 681.9h0M1242.6 805.6h0M1283.3 613.2h0M1267.9 669.5h0M1269.6 729h0M1288.7 657.8h0M1244 802.4h0M1251.7 781.3h0M1279.6 653.3h0M1282.4 673.3h0M1255 787.6h0M1282.9 620.7h0M1246.9 800.9h0M1268.7 642h0M1287.5 760.9h0M1252.9 760.4h0M1237.7 798.6h0M1286.1 765.7h0M1261.7 739.9h0M1251.9 785.4h0M1241 802.9h0M1226.5 719h0M1256.6 771h0M1308.6 565.1h0M1249.9 799.2h0M1239.5 787.1h0M1266.3 733.7h0M1253.1 731.1h0M1281 576.8h0M1305.5 622.7h0M1271.6 694.4h0M1313.8 724.4h0M1285.3 663h0M1296.5 597.1h0M1222.1 682.3h0M1253.1 757.3h0M1277.7 639.7h0M1241 802.7h0M1200.9 772.2h0M1241.5 805h0M1254.3 779.8h0M1289.8 696.6h0M1240.3 797.3h0M1288.6 644.5h0M1286.8 728.9h0M1246.7 790.8h0M1263 767.5h0M1269.7 746.5h0M1273.5 686.8h0M1289.5 696.6h0M1289.3 611.5h0M1226.6 750.5h0M1306.6 574.1h0M1262 711.6h0M1254.7 789h0M1257.7 764.7h0M1249.7 785.8h0M1228.1 781.6h0M1286.5 601.1h0M1246.9 785.6h0M1280.5 767.3h0M1262.9 686.8h0M1274.3 668h0M1290 567.6h0M1255.1 772.4h0M1237.5 799.8h0M1256.7 759.1h0M1247.4 793.4h0M1252 787.9h0M1243.8 802.3h0M1292.8 688.8h0M1299.3 668.5h0M1211.3 748.7h0M1239 784.5h0M1280.8 638.2h0M1249.5 797.8h0M1253.2 756.7h0M1313.9 665.7h0M1276.8 761.2h0M1259.7 762.2h0M1256.4 780.1h0M1260.4 675.8h0M1315.8 582.5h0M1272.6 657.3h0M1275.3 591.9h0M1270.3 592.2h0M1274.3 695.4h0M1269.1 751.5h0M1255.5 781.5h0M1256.2 732.4h0M1251.2 774.5h0M1255.7 747.2h0M1222.8 765.6h0M1208.5 753.6h0M1292.9 628.3h0M1288 646.3h0M1289.7 730.4h0M1241.4 801.8h0M1275.4 609.2h0M1286 671.5h0M1241.5 805.4h0M1271.7 657.3h0M1267 741.8h0M1301.5 506.8h0M1193.1 707.9h0M1294.6 676.1h0M1247.2 796.4h0M1263.7 723h0M1227.3 758.2h0M1258.7 703.8h0M1256.7 740.4h0M1223.5 771.4h0M1256.8 688.7h0M1242.9 804.8h0M1315 616h0M1301.2 744.6h0M1253.3 721.1h0M1272.2 610h0M1238 790.7h0M1273.2 715.6h0M1216.1 787.9h0M1299.6 558.2h0M1247.9 793h0M1298.6 573.7h0M1279.1 751.2h0M1251 774.5h0M1244 800.3h0M1272 736.9h0M1278.2 700.7h0M1284.1 696h0M1252 747.3h0M1282 726.2h0M1315.3 745.5h0M1286.5 665.9h0M1296.7 688.9h0M1245.9 799.9h0M1274.1 769.6h0M1245.3 802.1h0M1256 710.1h0M1293.2 727.6h0M1273.2 566.9h0M1230.3 772.9h0M1299.4 709.1h0M1244.2 801.4h0M1276.4 737.3h0M1266 748.5h0M1259.2 776.7h0M1223 779.5h0M1265.3 697h0M1252.9 790.8h0M1288.2 707h0M1289.8 698.8h0M1259.7 758.6h0M1264.8 719.1h0M1263.3 759.8h0M1267.8 727.3h0M1253.1 754.7h0M1258.3 727.3h0M1298.6 593.2h0M1286.3 633.5h0M1174.3 734.2h0M1276.4 757.7h0M1229.4 777h0M1257.2 764.4h0M1292.7 517.7h0M1255.2 732.1h0M1248.4 794.2h0M1317 624.8h0M1264.6 611.8h0M1277.2 630.3h0M1269.3 732.3h0M1233.9 784.2h0M1241 798.6h0M1265.5 741.8h0M1287.5 735.2h0M1269 662.5h0M1230.6 796.7h0M1240.6 799.4h0M1266.2 741.1h0M1272.9 762.2h0M1273.2 700.5h0M1235.2 775.8h0M1301.6 731.7h0M1274.1 688.3h0M1270.1 672.8h0M1233.7 773.1h0M1294.9 621.3h0M1253.1 796.1h0M1260.6 743.7h0M1294.4 645.4h0M1272.6 780.6h0M1236.5 779.3h0M1291.7 616.3h0M1297.7 716.7h0M1322.4 697.6h0M1277.9 676.3h0M1290.7 544.4h0M1279.1 720.3h0M1254.3 785h0M1259.1 746.1h0M1288.6 736.1h0M1267 663.6h0M1260.9 725.4h0M1252 796h0M1262.9 748.3h0M1285.9 566.4h0M1277.8 690.6h0M1281.5 635.3h0M1213.2 793.4h0M1260.8 730.4h0M1278 730.1h0M1270.9 750.2h0M1211 749.3h0M1290.2 694.8h0M1272.7 763.6h0M1248 774.9h0M1281.4 648.8h0M1281.4 636.5h0M1247.4 793.5h0M1246.3 791.5h0M1276.3 669.8h0M1279.8 662h0M1302.2 669h0M1274.3 735.7h0M1287 554.4h0M1260.6 714.8h0M1250.9 763.4h0M1243.1 804.3h0M1279.3 647.5h0M1255.8 762.3h0M1306.3 680.8h0M1300.8 636.3h0M1275.4 756h0M1306.9 630.9h0M1294.4 726.6h0M1245.6 802.8h0M1188 782.7h0M1243.4 804.3h0M1244.1 802h0M1250.3 765.4h0M1262.6 757.4h0M1289.4 627.7h0M1258.8 737.5h0M1251.2 746.7h0M1307.5 681.1h0M1244.7 799.3h0M1303.4 665.7h0M1261.6 683h0M1279.1 668.7h0M1286 572.4h0M1282.5 588.8h0M1280.1 750.7h0M1249.8 797.4h0M1271.4 753.7h0M1274.1 743.5h0M1293 602.2h0M1245.2 801.4h0M1250.5 795.9h0M1253.1 776.3h0M1272 747.4h0M1250.4 781.6h0M1278.5 572.6h0M1250.8 788.8h0M1289.3 660.1h0M1272.2 675.2h0M1303.7 620.5h0M1261.7 739.4h0M1295.3 707.2h0M1253.9 796.6h0M1276 672h0M1239.9 798.2h0M1277.9 699.6h0M1308.4 607.4h0M1286.7 630.1h0M1236.4 779.5h0M1281.7 713.5h0M1277.6 712h0M1271.9 721h0M1276 664.5h0M1283.3 665.1h0M1285.8 586.1h0M1243.5 804.2h0M1297.7 603.5h0M1246 798.1h0M1262.1 770h0M1234.2 765.7h0M1269.5 731.4h0M1260.3 698.5h0M1254.1 778.5h0M1263.1 768.9h0M1262.2 745.9h0M1309.6 615.5h0M1273 732.7h0M1267.7 722.8h0M1244.1 799.6h0M1272 666.9h0M1265.9 755h0M1258.2 781.5h0M1261.7 742.8h0M1257.9 747.7h0M1273.1 713.8h0M1280.4 637.9h0M1282.3 488h0M1262.8 698.8h0M1313.6 587.4h0M1291.6 780.8h0M1263.3 705.7h0M1249.3 800.8h0M1223.7 721.6h0M1268 698.6h0M1238.1 794.1h0M1263.6 797.2h0M1238.3 800.2h0M1256.1 743.9h0M1248.4 777h0M1272.7 737.6h0M1282.9 644.5h0M1217.8 752.2h0M1271.4 606.2h0M1244.7 802.1h0M1277.8 727.8h0M1273.1 741.8h0M1282.1 627.7h0M1264.8 755.7h0M1281.9 652.3h0M1252.9 735.6h0M1257.2 694.8h0M1288.6 545.1h0M1259.6 780.3h0M1263.8 712.5h0M1298.3 679.8h0M1290.1 754.6h0M1257.9 763.3h0M1318 736.5h0M1294.3 685.9h0M1260.3 636h0M1245.4 789.6h0M1237.8 799.3h0M1316.3 707.4h0M1291.6 624.2h0M1244 802.9h0M1257.7 749.5h0M1247.3 790.8h0M1249.3 799.3h0M1266.3 733.8h0M1241.7 803.9h0M1285.4 719.5h0M1280.7 635.7h0M1278.6 720.9h0M1283.7 639.7h0M1301.4 655.3h0M1259.6 757.2h0M1248.4 776.8h0M1303.1 710.3h0M1278 749.1h0M1257.8 770.7h0M1237 790.8h0M1275.3 641h0M1287.7 710.4h0M1308.4 663.9h0M1284.4 660.1h0M1214.3 705.6h0M1306.8 757.3h0M1287.4 578.5h0M1259.6 695.1h0M1270.1 628h0M1280.1 694.8h0M1270.6 675.8h0M1274.3 753.9h0M1277.1 761.3h0M1236.5 774.8h0M1234.8 764.7h0M1294 604h0M1254 782.3h0M1249.6 775.3h0M1274.3 676.4h0M1265.6 638.4h0M1294.4 697.8h0M1288.4 679.3h0M1251.2 791h0M1250.2 797.7h0M1263.8 772.5h0M1235.8 798h0M1263.8 688.3h0M1266.1 763.7h0M1221.3 721.5h0M1292.8 657.3h0M1274.4 722.8h0M1274.6 731.3h0M1287 644.6h0M1284.3 778.3h0M1305.3 622.8h0M1236.9 797.8h0M1273.6 684.2h0M1277.9 645.8h0M1300.9 633h0M1273.6 722.9h0M1286.8 724.3h0M1255.9 766.8h0M1297.5 739.5h0M1306.7 703.6h0M1259.2 678h0M1251.7 762.3h0M1252 778.8h0M1300.8 631h0M1223.4 772.6h0M1256.2 767.4h0M1273.4 623.1h0M1314.3 495.7h0M1251.4 776.8h0M1230.7 781.1h0M1263.8 762.9h0M1221.8 753.6h0M1235.8 795.2h0M1218.5 741.6h0M1261.4 738.1h0M1262.6 734.7h0M1306.1 658.9h0M1292.6 680.5h0M1232.1 788.1h0M1289.6 658.2h0M1249.5 775.5h0M1235.5 793.6h0M1254.7 762.1h0M1234.3 794.7h0M1250.1 792.7h0M1248.7 789.1h0M1281.9 747.3h0M1256.5 771.7h0M1269 643h0M1272.2 765.2h0M1294.6 766.9h0M1299.4 659.2h0M1265.9 705.2h0M1264.2 737.5h0M1254.1 789.9h0M1224.7 781.7h0M1281.8 697.9h0M1288 720.1h0M1291.6 702.5h0M1292.8 708.3h0M1238.8 795.7h0M1247.8 787.1h0M1267.2 718.9h0M1253.2 772.3h0M1279.6 641.3h0M1235.3 796.5h0M1237.1 787.7h0M1253.1 736.8h0M1277.1 697.9h0M1284.6 665.9h0M1261.7 710.8h0M1244.1 802.9h0M1262.9 753.6h0M1241.2 804.1h0M1258.8 693.7h0M1300.3 670.4h0M1284.5 619.6h0M1270.2 733.8h0M1247.3 784.2h0M1256.5 753.2h0M1242.3 805.3h0M1266.9 683h0M1257.9 771.2h0M1261 750.9h0M1271.6 716.3h0M1294.4 675.1h0M1239.4 801.6h0M1310.6 600.7h0M1285.9 712.4h0M1262.7 740.3h0M1239.1 798h0M1271.2 755.3h0M1241.3 802.5h0M1302 610.8h0M1224 758.9h0M1253.2 778h0M1283 671.9h0M1239.3 800.9h0M1253.5 793.3h0M1207.9 732.8h0M1259.4 780.1h0M1268.3 640.5h0M1234.6 772.7h0M1253.4 790.9h0M1224.2 771.2h0M1276.1 672.9h0M1256.7 785.3h0M1252.2 773.8h0M1239.3 794.6h0M1305.8 638.8h0M1215.2 759.9h0M1260.2 743.8h0M1290.9 641.6h0M1270.8 727.1h0M1326 713.3h0M1262.5 747.3h0M1260.9 692.1h0M1214.1 775.2h0M1291.8 661.4h0M1268.3 720.4h0M1241.7 803.2h0M1253.5 765.9h0M1270 679.5h0M1238.3 799.8h0M1234 761.3h0M1262.3 787.4h0M1283.6 701.3h0M1285.9 740.3h0M1255.6 766.6h0M1270.9 765.4h0M1268.1 746h0M1297.4 682h0M1278.8 660.2h0M1229.1 760.2h0M1262.7 757h0M1271.7 709.8h0M1270.9 748.2h0M1255.3 730.8h0M1235.3 794.7h0M1288.9 739.4h0M1311.1 566.4h0M1294 711.8h0M1275 645.3h0M1270.2 698.9h0M1260.3 739.8h0M1228.4 743.5h0M1300.8 652.1h0M1242.2 805.5h0M1302.2 656.1h0M1315.1 670.9h0M1268.1 716.5h0M1314.7 568.3h0M1261.8 708.8h0M1282.2 593.9h0M1247.4 785.5h0M1286.5 737.9h0M1273.8 642h0M1236.1 788.5h0M1271.6 649.5h0M1252.5 745.9h0M1331.9 642.8h0M1235.3 793.5h0M1278.6 691.8h0M1272.3 715.6h0M1243.7 802.8h0M1260.4 736.6h0M1294.9 578.4h0M1286.9 584.5h0M1250.6 784.1h0M1273.4 731.4h0M1293.6 578h0M1253.5 775.4h0M1318.4 734.5h0M1264.3 730.2h0M1258.8 789.5h0M1305.3 662.3h0M1267.9 679.8h0M1286.8 633.3h0M1257.5 678.1h0M1259.8 740h0M1248.8 795h0M1248.8 786.5h0M1282.4 679.2h0M1256.4 765.7h0M1274.1 687.9h0M1230.6 776.1h0M1264.7 729.8h0M1265.5 729.7h0M1265.7 766.2h0M1308.8 763.1h0M1248.1 789.3h0M1307.1 542.9h0M1258.6 750.5h0M1298.6 662.7h0M1294 746.7h0M1305.9 519.9h0M1270.3 631.7h0M1267.1 752.2h0M1252.7 792.9h0M1273.7 749.7h0M1306 608.9h0M1250.8 787.4h0M1267 729.3h0M1313.1 590.7h0M1263.9 766.8h0M1297.9 584.6h0M1279.2 583.8h0M1266.1 756.7h0M1271.3 683.4h0M1302.1 634.6h0M1237.6 793.1h0M1252.5 752h0M1251.8 782.3h0M1245.2 800.5h0M1269.4 756h0M1273.9 733.8h0M1297 661.5h0M1260.1 728.5h0M1270.2 741.5h0M1274.7 662.3h0M1282 664.6h0M1283.3 700.3h0M1304.2 604.6h0M1282.5 707.5h0M1269 714.8h0M1232.3 789.7h0M1223.7 766.2h0M1222.4 770.3h0M1304.7 549.5h0M1238.9 797.5h0M1294.5 703h0M1274.4 608.8h0M1264.2 689h0M1264.9 729.8h0M1291.2 755.6h0M1249.6 796.4h0M1247.2 790.5h0M1235.1 788.2h0M1278.4 675.6h0M1264.1 723.7h0M1244.3 801.1h0M1216 715.5h0M1259.2 771.5h0M1213 714.8h0M1265.5 674.6h0M1273.6 676.4h0M1245.3 798.3h0M1309.1 614.7h0M1297.7 760h0M1281.5 657.6h0M1282.6 766.7h0M1263.8 759.8h0M1268.5 752.1h0M1283.6 681.6h0M1250.7 752.1h0M1291 571.5h0M1275.8 695.3h0M1264.9 766.2h0M1244.2 800.9h0M1229.1 767.1h0M1282.2 583.2h0M1309.2 549.4h0M1272.2 675.5h0M1298.8 701.3h0M1244.6 799.6h0M1271.7 661.8h0M1260.8 757.5h0M1255.9 775.1h0M1299.7 686.3h0M1264 752.6h0M1323.3 641h0M1268.2 766.1h0M1245.9 799.3h0M1256.5 726.8h0M1264.7 759.7h0M1289.8 583h0M1273 663.1h0M1299.8 635.3h0M1291.8 591.3h0M1289.5 654.4h0M1304.7 594.1h0M1240.5 795.8h0M1270.9 769.1h0M1254.1 740.1h0M1249.2 773.4h0M1265.7 741.3h0M1256.6 725h0M1281.3 653.9h0M1266.4 682.8h0M1237.1 791.6h0M1285.7 620.2h0M1276.9 595.2h0M1271.9 706.1h0M1257.3 738.9h0M1285 715.3h0M1241.7 805.4h0M1258.3 768.9h0M1252.5 751.6h0M1276.3 693.1h0M1296.3 720.8h0M1282.8 646.8h0M1247.2 795.6h0M1252.5 764.6h0M1234.1 761.8h0M1286.9 620.6h0M1278.9 630.4h0M1273.7 740.7h0M1247.4 797h0M1256.3 761.4h0M1277.1 645.5h0M1265.6 653.8h0M1292.8 604.5h0M1267.2 757h0M1315.6 647.3h0M1218.2 743.2h0M1252.4 754.9h0M1258.8 722h0M1276.4 652.6h0M1254.3 769.5h0M1272.3 617h0M1236.2 785.9h0M1277.3 678.3h0M1276 713h0M1244.1 802.8h0M1262.1 697h0M1281.4 601h0M1276.5 753.6h0M1244.6 799h0M1281.3 703.3h0M1277.3 769.5h0M1286.9 759.9h0M1278.2 575.4h0M1284.7 665.3h0M1286.2 619.7h0M1222.7 722.1h0M1243 805.4h0M1247.2 796.8h0M1273.3 770.3h0M1246.6 789.6h0M1254.5 719.7h0M1289.9 629.4h0M1306 582.3h0M1293.6 739.5h0M1265.9 723.8h0M1228.9 791.3h0M1261.1 648.2h0M1280.3 675.4h0M1278.5 649.5h0M1266.4 678.8h0M1265.2 716.5h0M1293.9 608.1h0M1265.8 690.1h0M1229.1 763.6h0M1232.4 757.8h0M1251.7 774.6h0M1298.5 692.7h0M1272.8 736.3h0M1242.6 805.8h0M1276 701.5h0M1265.1 661.6h0M1281.9 679.7h0M1227.9 788.4h0M1252.1 734.7h0M1255.5 727.1h0M1279.9 732.4h0M1274.6 743.8h0M1269.1 732.8h0M1269.6 756.2h0M1239.5 799.1h0M1264.3 783.3h0M1258.2 731.9h0M1279.2 771.2h0M1277.7 690.5h0M1282 610.2h0M1282 732h0M1247.8 791.6h0M1224.9 793.3h0M1294.7 582.4h0M1253.2 756.7h0M1242.8 804.7h0M1268 744.4h0M1300 694h0M1256.1 704.6h0M1257.1 728.9h0M1265.5 760h0M1268.3 704.4h0M1258.4 765.5h0M1310.5 647.1h0M1279.2 640.5h0M1278.1 737.5h0M1271.2 715.8h0M1235.9 795.9h0M1235.8 789.5h0M1257.1 755.8h0M1273.3 728.2h0M1268.2 718.7h0M1274.6 653.6h0M1267.2 728.9h0M1261.5 747.4h0M1303 698h0M1233.9 797.4h0M1262.8 672.9h0M1258.5 699.9h0M1264.6 709.6h0M1284.1 589.9h0M1245.3 799.3h0M1288.7 732.9h0M1221 749.8h0M1238.3 799.2h0M1277.3 736h0M1286.5 678.1h0M1317.8 607.6h0M1242.8 804.9h0M1301.9 671.3h0M1236.9 798.6h0M1253 750.3h0M1252.6 765.3h0M1259.4 769.8h0M1300.4 675.9h0M1207 772.1h0M1303 682.4h0M1254.1 771.9h0M1255.9 750.4h0M1271.6 623.5h0M1257.5 784.3h0M1246.7 792.6h0M1264.6 747h0M1249.3 776.3h0M1276.2 719.9h0M1226.5 785.6h0M1260.9 725h0M1278.3 716.3h0M1270.7 773.7h0M1248.4 795.3h0M1259.4 705.3h0M1262.6 719.6h0M1227.8 762.1h0M1297.2 683.1h0M1297.3 716.7h0M1277.4 694.9h0M1236.1 779.2h0M1288.3 697h0M1258.7 709.9h0M1256.7 769.2h0M1271.9 636.4h0M1285.6 650.4h0M1248.7 793.1h0M1267.9 660.3h0M1241.6 804.1h0M1280.6 721.5h0M1255.3 739.4h0M1303 663.2h0M1264.2 674h0M1260.4 763.6h0M1277.6 727.9h0M1215.7 756.7h0M1256.3 726.2h0M1309 747.6h0M1263.6 744.7h0M1266.5 746.7h0M1310.8 694.5h0M1297.8 761.8h0M1258.5 742.5h0M1233.5 786.3h0M1286.3 688.1h0M1276.4 731h0M1283.9 783.8h0M1288.3 725.3h0M1289.6 596.2h0M1256.6 757.6h0M1256.7 769.1h0M1273.1 718.9h0M1281.5 630.2h0M1291.4 677.2h0M1289.9 732.3h0M1245.1 799.8h0M1304.2 682.6h0M1216.7 754h0M1271.5 647.1h0M1298.3 656.6h0M1260.3 776.6h0M1276.4 619h0M1272.4 610.8h0M1255.5 753h0M1256.6 768.1h0M1290.4 513.9h0M1295.4 702.5h0M1232.8 765.1h0M1247.1 786.5h0M1272.1 704.5h0M1301.5 620.7h0M1242.4 805.6h0M1270.8 745.4h0M1248.8 780.9h0M1248.9 795.4h0M1310.9 639.3h0M1251.1 788.3h0M1267.6 743h0M1264.1 672.1h0M1262.8 764.3h0M1290.2 714.2h0M1254.9 758h0M1248.2 784.3h0M1308.5 689.3h0M1262.2 758h0M1287.2 765h0M1230.8 791h0M1265.5 721.5h0M1268.6 746.1h0M1248.4 789.6h0M1251.4 771.9h0M1235.8 785.8h0M1269.7 678.8h0M1282 643.1h0M1260.2 774.2h0M1255.6 751.1h0M1257.6 786.7h0M1253.3 745.6h0M1244.1 801.6h0M1256.1 728.7h0M1252.1 760.3h0M1264.2 710.3h0M1300.1 695.1h0M1246.2 801.8h0M1304.8 529h0M1248.3 784.7h0M1297.7 624.2h0M1281.5 667.6h0M1288.9 770.1h0M1254 775.7h0M1253.1 756.8h0M1166.6 682.2h0M1281.4 643.2h0M1277.4 572.5h0M1295.6 522h0M1251.1 779.3h0M1286.6 718.7h0M1308.6 713.2h0M1262.5 659h0M1268.1 752.4h0M1198.5 739.2h0M1315 551.4h0M1238.3 792.4h0M1215.9 753.3h0M1262.8 684h0M1235.7 800.2h0M1269.6 705.2h0M1262.9 687.6h0M1255.1 782.1h0M1241.3 804.8h0M1288.6 711.7h0M1248.6 781.5h0M1290.8 694.8h0M1299.2 620.8h0M1283.7 668.6h0M1209.7 738.7h0M1253 783h0M1290.2 676.3h0M1253.7 782h0M1262.9 752.5h0M1264.1 700.2h0M1252.8 747.9h0M1259.7 736.3h0M1238.2 794.8h0M1280.8 691.3h0M1207.3 743.1h0M1298.4 673.7h0M1242.9 805.4h0M1245.3 798.8h0M1276.9 672.5h0M1270.2 721.8h0M1264.3 697.2h0M1258.4 755.2h0M1254 757.1h0M1251.3 776.7h0M1240.4 796.8h0M1249.6 773.6h0M1191.8 742.4h0M1266.6 654.3h0M1280.5 716.8h0M1293.6 724.9h0M1219.3 724.7h0M1298.8 646.6h0M1297.1 604.5h0M1241.2 803.8h0M1235.2 792.8h0M1252.8 781.7h0M1264 725.3h0M1241 801.7h0M1263.2 702.4h0M1259 764.7h0M1273.4 690.8h0M1193.6 693.6h0M1230.8 793.9h0M1267.6 697.6h0M1231.2 783.3h0M1259.3 732.5h0M1278.8 623.2h0M1290.9 675h0M1239.6 799.8h0M1302 678.3h0M1268 617.6h0M1268.8 773.8h0M1228.3 790.2h0M1276.8 609.9h0M1279.1 636.9h0M1313.2 750.9h0M1262 777.1h0M1290.5 632.4h0M1273.7 693.6h0M1297.4 626.7h0M1286 727.7h0M1243.6 803.4h0M1267.8 755.9h0M1281.2 635.2h0M1255.1 724h0M1257.3 772.6h0M1254.3 767.5h0M1298.8 652.1h0M1300.1 686.5h0M1251.3 766.7h0M1208.1 748h0M1262 677.8h0M1190.3 720.1h0M1272.5 769.8h0M1268.6 678.1h0M1249.4 779.2h0M1250.1 792.1h0M1268.2 747h0M1290.7 684.1h0M1264 694.8h0M1286.8 670.5h0M1242 805.6h0M1266.2 690.6h0M1307.5 634.1h0M1312.2 628.2h0M1275.8 684.6h0M1246.4 781.7h0M1260.9 673h0M1266.2 655.6h0M1285.6 588.8h0M1221.9 778.3h0M1245.8 789.2h0M1264.3 680h0M1278.3 636.2h0M1248.1 786.3h0M1226.7 767.3h0M1304.6 569.3h0M1249 792.8h0M1301 609.2h0M1296.4 756h0M1243.5 802.8h0M1272.5 732.4h0M1297.8 605.9h0M1230.2 788.1h0M1256.2 689h0M1241.5 803.1h0M1232.9 788.8h0M1239.7 800h0M1285.5 752h0M1239.5 792.6h0M1239.8 801.8h0M1242.1 805h0M1268.4 674.3h0M1248.1 788.3h0M1272.5 721.2h0M1273.5 649.1h0M1282.2 712h0M1260.5 743.2h0M1263.1 770h0M1240.4 799.4h0M1289.7 665.1h0M1260.5 729.7h0M1199 746h0M1251.4 785.2h0M1284 693.4h0M1280.1 624.7h0M1225.8 759h0M1256.5 760.4h0M1267.8 762.8h0M1261.2 754.2h0M1234.7 789.2h0M1273.8 766.8h0M1263.8 772.6h0M1278.1 496.4h0M1280.7 611.8h0M1291 598.5h0M1294.7 551.7h0M1279.9 697.8h0M1270.9 645.1h0M1244.3 802.4h0M1264.3 727.7h0M1266.1 633.7h0M1275.8 673.1h0M1254.2 769.9h0M1217.2 725.7h0M1237 785.7h0M1281 725.6h0M1251.6 771.4h0M1276.3 710.5h0M1249.7 794.1h0M1270.3 664.3h0M1302 596.6h0M1282.2 606.6h0M1277.7 776.1h0M1247 800.6h0M1246.9 797.8h0M1258.5 695.8h0M1220.5 770.1h0M1283.2 566.9h0M1279.4 761.7h0M1285.4 676.8h0M1291.8 542h0M1286.4 696.2h0M1257.1 673.3h0M1297.4 534.6h0M1277.4 743.5h0M1210.7 689.5h0M1340.1 668.4h0M1262.9 756.5h0M1231.4 787.9h0M1263.2 768.2h0M1253.4 788h0M1331.8 685.9h0M1281.1 665h0M1244.6 799.3h0M1244.5 798.1h0M1306.9 608.5h0M1242.9 804.4h0M1273.4 638.8h0M1268 747.8h0M1245.4 799h0M1276.7 692.4h0M1309.7 746.5h0M1186.8 664.5h0M1264.6 724.1h0M1234.8 789.1h0M1243.5 802.7h0M1321.4 710.4h0M1252 789.8h0M1290.1 668h0M1280.8 715h0M1266.3 752.2h0M1247.9 791.9h0M1253.2 741.7h0M1272.1 690.1h0M1270.7 755.2h0M1275.7 720.5h0M1283.5 663.4h0M1282.6 632.9h0M1278.2 674.3h0M1252.3 761.1h0M1267.2 723.4h0M1309.6 597.8h0M1251.2 791.4h0M1271.1 663.5h0M1264.3 696.7h0M1260.6 736.3h0M1279.7 693.1h0M1266.6 767.3h0M1239.2 796.4h0M1299.4 546.1h0M1283.1 596.6h0M1272.7 732h0M1261.4 785.8h0M1302.4 662.6h0M1269.3 719h0M1255.2 764.9h0M1268.4 746.9h0M1276.6 692.9h0M1300.3 658.2h0M1304.6 691.5h0M1260.8 736.9h0M1237.7 799h0M1256.8 773.8h0M1265.9 662.3h0M1286.6 733.5h0M1264.4 745.5h0M1255.6 759.9h0M1287 717.1h0M1244.1 804.3h0M1253.2 762.3h0M1234 784.9h0M1283.6 545.3h0M1275.4 688.5h0M1256.5 776.7h0M1277.3 713.6h0M1291.2 645.8h0M1241.9 805h0M1291.4 676.8h0M1302.5 606h0M1269.3 698.8h0M1234.5 777.6h0M1237.5 794.5h0M1272.2 681.9h0M1244.2 798h0M1239.2 801.4h0M1226.9 761h0M1264.1 772.1h0M1253.6 784.2h0M1246.6 791h0M1286.7 556.4h0M1303.9 535.1h0M1250.3 758h0M1234.2 781.1h0M1275.7 680.7h0M1278 584.5h0M1240 801.2h0M1269.5 762.8h0M1285.8 623.9h0M1272.3 740.8h0M1242.5 805.9h0M1270.8 693.4h0M1242.1 805.5h0M1221.2 766.3h0M1224.6 749.6h0M1302.2 689.2h0M1248.6 787.1h0M1248 786.9h0M1296.4 735.8h0M1309.6 562.4h0M1250.9 767.1h0M1310 571.4h0M1238.4 797.9h0M1277.2 630.2h0M1270.1 727.7h0M1258.4 705.2h0M1309 654.7h0M1282.9 539.4h0M1306 611.7h0M1262.6 768.9h0M1251 781.3h0M1237.7 796.7h0M1252 776.9h0M1244.8 799.5h0M1245.1 802.6h0M1302.6 694.5h0M1256.9 692.5h0M1313.5 670.6h0M1285.2 661h0M1261.3 711.5h0M1272 666h0M1238.1 781.9h0M1282.6 722h0M1263.6 745.7h0M1302.6 625.3h0M1261.8 726h0M1242.2 805h0M1271.8 759.5h0M1288.4 655.2h0M1286.9 654.9h0M1311.6 657.6h0M1251.6 789.5h0M1237.7 795.7h0M1263.3 741.3h0M1213.9 751.3h0M1294.7 613.3h0M1285.1 695.9h0M1273 749.2h0M1245.2 798.6h0M1212.8 772.7h0M1273.9 669.2h0M1250.7 795.9h0M1245.4 793.1h0M1259.6 697h0M1293.6 749h0M1257.4 717h0M1240.6 801.1h0M1274.4 563.6h0M1219.4 754.8h0M1270.9 654.7h0M1261.7 764.4h0M1291.6 671.8h0M1211.9 789.1h0M1283.9 751.6h0M1248.8 793.1h0M1285.8 657.8h0M1285.4 742.6h0M1306.9 598.7h0M1277.5 675.2h0M1241.2 801.7h0M1262.2 707.9h0M1245.9 796.1h0M1266.2 684.1h0M1258.8 724.8h0M1297.9 604.6h0M1256.1 745.5h0M1239.8 801h0M1260.3 764.8h0M1251.7 788.5h0M1225.7 718.7h0M1250 795.4h0M1278 600h0M1234.6 782.4h0M1292.1 680.7h0M1249.3 782.6h0M1282.8 712h0M1265.1 754.4h0M1211.6 771.6h0M1241.2 800h0M1262.7 783.7h0M1292.1 536.7h0M1290.1 563h0M1238 781.9h0M1298.6 719.3h0M1231.2 779.2h0M1251.7 759.4h0M1267.3 691.9h0M1220.7 757.5h0M1246 794h0M1242.2 805.4h0M1268.9 734.5h0M1287.2 600.1h0M1254 738.9h0M1255.2 777.3h0M1255.1 735.9h0M1301.6 680.7h0M1264.9 787.5h0M1271.9 657.2h0M1250.2 794.5h0M1267.9 709.3h0M1244.6 800.7h0M1306.6 617.2h0M1295.2 636.2h0M1275.3 713.4h0M1233.3 768.4h0M1240.9 800.1h0M1274.7 693.8h0M1231.2 784.2h0M1246 803.4h0M1266.3 767.8h0M1292.1 597.2h0M1291.6 631h0M1262.3 707.7h0M1255.4 758.4h0M1264 735.4h0M1290.2 695.1h0M1291.3 682.3h0M1262.6 662.8h0M1302.7 623.3h0M1279.9 754.7h0M1259.7 776.7h0M1255 777.4h0M1263.1 739h0M1236.1 789.7h0M1249.6 779.4h0M1282 680.8h0M1275.9 767.1h0M1241.7 804.4h0M1229.5 795.2h0M1246 797.5h0M1245.7 797.6h0M1282.4 577.7h0M1304.5 543.8h0M1253.3 754.1h0M1245.8 799.2h0M1249.3 781.6h0M1238.9 795h0M1263.9 717.2h0M1248.8 787.1h0M1251.9 796.9h0M1283.1 754.9h0M1259.5 734h0M1277 721.2h0M1255.7 770.1h0M1274.6 724h0M1279.8 719.6h0M1269.1 717h0M1295.5 582.3h0M1257.1 752.7h0M1283.2 637.4h0M1271.1 619.2h0M1284.9 592.3h0M1263.8 767.6h0M1259.6 729.1h0M1289.6 566.9h0M1295 676.8h0M1242 804.5h0M1281.3 704.1h0M1283.5 641.1h0M1260.5 711.1h0M1307.3 733.3h0M1258.9 745.8h0M1242.9 805.3h0M1266.6 683.7h0M1248.9 779.6h0M1248.6 782.5h0M1247.4 778.7h0M1258.1 749.4h0M1266.8 706.4h0M1280.7 666h0M1294.6 713.7h0M1290.9 706h0M1254.1 729.7h0M1223.2 771.1h0M1264.5 661.3h0M1295.2 666h0M1275.5 755.6h0M1279.4 643.7h0M1274.1 684.4h0M1232.2 785.2h0M1255.8 759.2h0M1282.5 656.8h0M1257.7 751.8h0M1298.1 658.2h0M1260.3 746.6h0M1272.5 736.4h0M1248.8 780.9h0M1267.8 632.6h0M1241 799.4h0M1242.4 805.7h0M1294.6 688.9h0M1276.2 646.4h0M1282.4 643.7h0M1273.2 560.2h0M1265.4 730.8h0M1258.7 721h0M1269.3 630.5h0M1300.8 642.2h0M1260.9 754h0M1303.7 672.9h0M1297.6 775.3h0M1262.8 733.6h0M1243.5 804.7h0M1279.8 721.5h0M1306.6 728.5h0M1288.1 692.8h0M1282.6 648h0M1260.5 780.4h0M1251.5 761.3h0M1257.8 771.1h0M1247.2 798.1h0M1253.8 768.1h0M1258.7 761.4h0M1246.4 797.8h0M1239.9 795.9h0M1241.9 804.8h0M1241.9 804.6h0M1246.5 795.4h0M1234.6 791.2h0M1244.8 804.5h0M1302.9 547.2h0M1239.1 801.5h0M1294.2 661.8h0M1279.3 743.5h0M1283 722.6h0M1270.1 704.4h0M1219 775.4h0M1288.6 691.5h0M1283.1 665.7h0M1231.1 770.2h0M1288.5 691.8h0M1266.7 671h0M1274.1 683.5h0M1241.3 801.4h0M1292.7 753.9h0M1305.4 649.8h0M1240.1 798.1h0M1278.4 691h0M1188.5 761.1h0M1314.9 660.7h0M1305.1 761.2h0M1301.2 722.3h0M1277.2 730.7h0M1248.8 790.1h0M1249.1 792.6h0M1272.5 770.7h0M1277.7 729.5h0M1260 766.1h0M1264.6 770.7h0M1252.6 800.3h0M1269.7 759.6h0M1272.1 621.9h0M1314.1 582.8h0M1216.5 776.7h0M1240.7 800.3h0M1282.7 636.4h0M1271 660.9h0M1274.4 778.2h0M1299.1 653.8h0M1295.1 714.5h0M1225.2 784.2h0M1284 673h0M1259.6 696.6h0M1260.6 690.5h0M1226.2 772.9h0M1316.7 632.1h0M1271.7 714.7h0M1285.4 693.7h0M1289.2 689.3h0M1257.1 781.1h0M1241.4 801.6h0M1262.1 685.7h0M1252.8 795.2h0M1265.8 681.8h0M1273.9 732.8h0M1291.9 682.8h0M1273.8 631.7h0M1251 788.8h0M1246.1 798.6h0M1277 699.3h0M1265.2 765.6h0M1263.1 728.6h0M1237.9 798.4h0M1275.5 770.8h0M1258.8 757.4h0M1267.6 760.8h0M1254.8 786.6h0M1231.3 773h0M1241.7 802.2h0M1245.3 795.1h0M1296.1 680.6h0M1303.7 586.1h0M1274.4 720.5h0M1254.6 788.3h0M1284.6 636.2h0M1316 730.3h0M1259.4 768.3h0M1276.8 740.3h0M1260.5 758.9h0M1269 681.7h0M1292.7 745.7h0M1276 761.3h0M1262.7 723.9h0M1268.7 701.3h0M1265.6 692.8h0M1235.9 796.4h0M1266.5 742.8h0M1275.3 712.4h0M1242.1 805.4h0M1285.6 721.1h0M1316.6 648.9h0M1276.6 651.9h0M1277 715.6h0M1273.4 629h0M1258 774.9h0M1261.1 713.4h0M1315.3 562.6h0M1273.7 735.6h0M1296.6 635.7h0M1278.6 706.9h0M1251 774.7h0M1270.6 773.7h0M1254.7 754.4h0M1232.6 749.7h0M1258.4 756.7h0M1246.3 794.1h0M1268.4 756h0M1258.2 759h0M1266 688.9h0M1258.2 734.1h0M1255.1 749.3h0M1257.9 716.7h0M1277.3 698.5h0M1279.4 773.7h0M1251.8 771.2h0M1259.7 733.2h0M1274 696.9h0M1276.9 686.9h0M1228.8 771.6h0M1265 782.9h0M1258.9 762.3h0M1228.4 771.7h0M1268.6 733.3h0M1271.8 644.5h0M1244.6 798.9h0M1247.1 780.2h0M1282.2 621.1h0M1251.9 772.8h0M1260.8 756.2h0M1296.8 720.7h0M1252.9 739.1h0M1305.4 678.4h0M1237.9 796.1h0M1290.2 661.5h0M1334.6 710h0M1298.2 669.7h0M1251.7 772.5h0M1286.1 614.5h0M1274.9 752.4h0M1271.2 766.8h0M1272.5 728.6h0M1303.7 732.3h0M1287.5 764.4h0M1256.2 721.3h0M1251.2 783.4h0M1249.6 785.7h0M1197.4 787.1h0M1281.2 615.5h0M1266.3 705.1h0M1234.5 795.4h0M1248.4 785.5h0M1225 752.2h0M1259.3 787.4h0M1267.2 728.9h0M1238.2 797.1h0M1269.8 777.4h0M1291.7 605.6h0M1260.7 779.3h0M1265.3 721.6h0M1247.7 800.4h0M1269.9 762.9h0M1261.7 705.1h0M1279.4 663.4h0M1236.9 790.9h0M1320.7 658.4h0M1290 628.6h0M1248.5 772.1h0M1286.1 667.7h0M1250.7 790.4h0M1267.5 668.8h0M1318.2 708h0M1294 737.9h0M1269.8 641.2h0M1297.7 637.3h0M1255.7 706.8h0M1258.6 739.1h0M1271 638.8h0M1267.5 730.1h0M1284.6 625h0M1291.6 589.9h0M1281.5 722.8h0M1228.5 759.7h0M1270 724h0M1284.8 662.5h0M1266 728.5h0M1284.1 746.4h0M1261.7 766.8h0M1251.3 769.2h0M1274.7 707.1h0M1273.1 705h0M1305.3 633.8h0M1313.9 598.4h0M1273.3 705.8h0M1252.5 782.5h0M1301.5 500.6h0M1292.3 622.8h0M1235.9 785.4h0M1229.7 776.1h0M1261.5 704.1h0M1213.9 786.1h0M1289.3 689.6h0M1279.8 651.5h0M1286.5 711.8h0M1261.7 745.4h0M1241 804.4h0M1223.1 760.5h0M1312.7 563.5h0M1264.8 639.9h0M1229.5 757h0M1284.7 698.1h0M1253.2 758.7h0M1283.5 662.1h0M1313 676.5h0M1239.9 799.2h0M1247.4 772.1h0M1309.3 584h0M1267.6 761.4h0M1269.7 625.9h0M1264.1 745.6h0M1308 740.1h0M1292.2 639.6h0M1241.3 804h0M1228.7 745.2h0M1300.5 691.8h0M1238.9 799.7h0M1257.2 752.2h0M1287.1 620.3h0M1301.6 673.3h0M1279.5 695.7h0M1248.9 790.7h0M1271.7 785.3h0M1251.2 772.1h0M1258.6 782.8h0M1234.9 790.7h0M1252.5 771h0M1254.5 757.3h0M1245.9 802.4h0M1278 702.3h0M1270 757.7h0M1271.9 757.8h0M1178.3 739.2h0M1246.6 802.5h0M1284.5 634.9h0M1253.2 777.7h0M1233 748h0M1235.1 790.2h0M1316.1 596.2h0M1266.3 651.8h0M1268 736.3h0M1291 653h0M1251.9 783.7h0M1287.3 678.2h0M1262.2 705.2h0M1254.4 778.4h0M1287.7 778.2h0M1272.8 713.8h0M1289.4 626.6h0M1335.9 692.6h0M1233.6 764.5h0M1208.9 782.6h0M1239.6 801.7h0M1288.4 721.8h0M1230 757.1h0M1241.5 803.6h0M1271 760.3h0M1259.3 760.5h0M1252.2 755.3h0M1254.1 786h0M1281.3 575.8h0M1253 788.6h0M1286.6 662.2h0M1239.7 794.4h0M1305.5 690.4h0M1321.5 682.9h0M1210.3 718h0M1276.4 651.3h0M1260.5 679.8h0M1252.1 783.2h0M1270.8 647.1h0M1280.4 644.5h0M1248.2 772.1h0M1261.4 673.1h0M1273.3 716.9h0M1291.5 671.7h0M1198.5 753.1h0M1262.6 706.4h0M1235.4 797h0M1238.7 796.9h0M1270.8 596.4h0M1277.1 735.4h0M1256.2 751.8h0M1251.2 771.1h0M1275.9 700.2h0M1252.5 776.9h0M1247.7 791.8h0M1273.7 712.3h0M1258.4 780h0M1243.7 802.5h0M1235.5 784.7h0M1240.7 802.5h0M1275.1 729.4h0M1281.8 764.9h0M1242.8 804.7h0M1287.4 742.7h0M1229.7 781.7h0M1259.3 786.1h0M1249.5 780h0M1280.3 702.5h0M1262.1 784.9h0M1316.8 590.5h0M1260 728.9h0M1251.6 784.1h0M1255.8 717.1h0M1251 782.2h0M1265.6 673.7h0M1250.3 784.8h0M1266.3 725.1h0M1300.7 657.6h0M1267.9 753.5h0M1254.9 781.4h0M1291.1 760.5h0M1284.1 656.2h0M1282.3 638h0M1264.6 700.2h0M1297.7 634.1h0M1243.3 805h0M1218.2 727.2h0M1243 805.5h0M1252 781.4h0M1263 776.7h0M1258.4 727.3h0M1268.4 760.6h0M1276.3 550.7h0M1249.8 787.7h0M1280.3 599.7h0M1253.6 782h0M1305.9 640.5h0M1278.8 703.8h0M1311.8 654h0M1275.3 726.9h0M1227.8 782.4h0M1246.7 795.9h0M1286.1 723.9h0M1269.8 649.9h0M1265.5 768.9h0M1256.9 754.5h0M1282.9 656.8h0M1248.5 794.8h0M1280.1 713.1h0M1294.5 727.6h0M1280.2 654.9h0M1221.2 760.7h0M1253.6 757.5h0M1278.5 573.9h0M1197.5 765h0M1262.1 750.2h0M1273.5 753.2h0M1250.3 789.6h0M1246.9 787.6h0M1248.5 798.8h0M1294.8 716.6h0M1253.3 778.4h0M1229.6 778.1h0M1280 635.8h0M1282.2 649.7h0M1245.4 797.3h0M1241.2 802.1h0M1294.3 574.4h0M1290.1 666.5h0M1259.4 737.3h0M1276.5 658.4h0M1292.7 550.8h0M1269.2 639.5h0M1281.3 613.5h0M1287 644.7h0M1274.4 734.7h0M1260.1 784.3h0M1252.1 778.1h0M1273.7 697.1h0M1253.4 779.4h0M1257.6 732.8h0M1282 723.9h0M1276.7 703.8h0M1282.6 661.8h0M1283.6 585.2h0M1263.3 702.4h0M1255.5 768.5h0M1268.9 762.7h0M1257.5 714.5h0M1293.2 651.5h0M1256.2 771.6h0M1285.5 690.1h0M1280.1 611.8h0M1242.8 805.5h0M1243.8 802h0M1255.5 721.9h0M1270.4 662.1h0M1232.5 788.6h0M1308.3 683.9h0M1301.4 679.5h0M1292.2 669.6h0M1305.8 569.7h0M1237.2 788.5h0M1244.7 801.5h0M1279.2 671.2h0M1249.6 762.7h0M1319.2 676.6h0M1279.7 649.7h0M1233.5 762.1h0M1213.1 784.5h0M1253.9 768.8h0M1276.2 632.7h0M1277.2 758.4h0M1276.2 676.3h0M1254.8 792.4h0M1240.3 796.5h0M1257 736.6h0M1261.8 701.3h0M1226.8 790.3h0M1296.6 698.9h0M1290.7 700.9h0M1267.9 656.1h0M1231.4 784.7h0M1263.1 588h0M1250 789.8h0M1250.8 786.4h0M1272.4 767.9h0M1302.7 660.5h0M1255.5 748.4h0M1263.8 745.5h0M1266.2 674.6h0M1260.5 745h0M1252.2 772.2h0M1316.8 780.5h0M1256.3 752.8h0M1267.3 707.5h0M1304.2 604h0M1276.1 617.8h0M1265.1 699.7h0M1258.3 754.2h0M1156.8 736.2h0M1252.5 741.8h0M1263.2 679h0M1261.3 660.9h0M1235.3 779.2h0M1251.4 785.5h0M1246.3 791.5h0M1262 765.6h0M1296.3 646.9h0M1304.4 668.1h0M1295.1 603.3h0M1234 784.2h0M1233.4 774.8h0M1298.2 726.2h0M1253.1 783h0M1296.3 725.1h0M1260.9 723.6h0M1293.5 644.4h0M1296.2 615.9h0M1250.9 770.5h0M1271.3 689.2h0M1262.1 673h0M1283.7 581.4h0M1227.9 771.1h0M1262.4 687.5h0M1273 752h0M1227.9 789.7h0M1261.6 773.3h0M1294.6 719.3h0M1258.2 771h0M1262.3 717.4h0M1285.3 690.9h0M1278 676.5h0M1286.7 522h0M1255.5 769.5h0M1276 625.9h0M1294.3 586.5h0M1281.1 667.3h0M1265.1 708.7h0M1292.2 747.2h0M1249.1 783.3h0M1261.3 778.2h0M1288.4 663.4h0M1254.3 766.2h0M1250.5 795h0M1250.2 789.3h0M1246.3 797.3h0M1248.3 761.8h0M1304.3 550h0M1292 610.6h0M1229.6 790h0M1265.2 746.9h0M1317.4 531.7h0M1287.1 746.6h0M1258.8 788.9h0M1268.3 617.5h0M1237.2 785.4h0M1289.2 641.6h0M1246 794.2h0M1240.2 799.2h0M1256.1 739.8h0M1268.4 712.1h0M1284.1 765.4h0M1243.9 800.9h0M1295 728.9h0M1273.9 754.6h0M1267.9 769.3h0M1296.9 702.9h0M1262.7 705.5h0M1244.9 796.1h0M1298.7 676.7h0M1276.1 711.3h0M1275.7 694.2h0M1274.8 637.4h0M1271.3 581.6h0M1287.2 691.8h0M1262.8 746.9h0M1246.7 800.7h0M1314.4 668.6h0M1308.4 620.8h0M1261.3 710.7h0M1244.8 801.8h0M1290.6 705.3h0M1235.8 788.7h0M1250.9 786.5h0M1197.3 744.6h0M1255.7 748.7h0M1239.9 799.4h0M1271.1 674.3h0M1246.4 791.7h0M1254.8 785.2h0M1265.9 711.4h0M1274.7 703.3h0M1249.6 777.8h0M1260.3 762.9h0M1256.9 769.9h0M1266.7 703.9h0M1280.4 762.6h0M1245.1 800.2h0M1268.6 664.7h0M1258.6 779.8h0M1238.5 788.5h0M1291.4 621.1h0M1211.1 775.8h0M1266.8 743.1h0M1245.4 793.5h0M1283.8 609.4h0M1268.6 746.7h0M1273.4 677.7h0M1237.1 792.7h0M1293.8 689.1h0M1291.1 467.1h0M1294.1 572.1h0M1278 597.5h0M1275.6 745.1h0M1282.4 665.9h0M1264.5 693.3h0M1256.5 757.1h0M1264.1 722.7h0M1273.6 732.3h0M1296.6 498.3h0M1250 774.4h0M1254.4 739.7h0M1265.7 769.6h0M1251.8 768.1h0M1275.8 743.7h0M1238.2 794.2h0M1259.2 744.6h0M1267.2 679h0M1254.3 780.1h0M1253.2 785.2h0M1252.9 784.3h0M1298.6 579.1h0M1303.4 563h0M1236.9 790.6h0M1260.8 642.7h0M1234.6 781.5h0M1256.2 759.1h0M1257.1 774.5h0M1257.8 754.5h0M1229 765.6h0M1300.9 540.4h0M1269.5 668.4h0M1255.9 724.1h0M1259.3 739.5h0M1258.1 767.3h0M1316.2 687.2h0M1282.8 764.9h0M1307.5 600.4h0M1290.4 592.1h0M1265.1 744.4h0M1265 692h0M1263.5 727h0M1297.8 529.2h0M1275.2 666.4h0M1311.7 675.4h0M1285.5 640.6h0M1233.2 787.6h0M1267 740.9h0M1276 674.4h0M1276.7 765.5h0M1274.2 684.2h0M1269.7 668.1h0M1227.3 794.5h0M1257.7 753.4h0M1278 666.3h0M1264.2 734.4h0M1252 759.5h0M1270.6 644.3h0M1272.1 721.7h0M1286.1 731h0M1273.6 662.4h0M1272.7 711.6h0M1268.1 767h0M1243.5 803.9h0M1279.5 633.2h0M1251.5 786.5h0M1291.8 625.7h0M1248.9 788.3h0M1305.9 674h0M1255.2 723.2h0M1253.1 797.4h0M1223.3 761.9h0M1267.4 667.3h0M1258.3 776.3h0M1290.4 654.7h0M1264.4 741.1h0M1300.3 674.3h0M1246 803.1h0M1300.8 662.4h0M1291.3 651.4h0M1250 780.7h0M1306.4 639.5h0M1236.9 798.1h0M1296.4 647.3h0M1262.2 661.5h0M1293.9 590.9h0M1250.9 779.3h0M1314 571.9h0M1231.4 776.2h0M1295.2 619.2h0M1288.8 633.7h0M1298.7 696.5h0M1290.3 550.6h0M1294.1 655h0M1227.2 744.2h0M1306 630.6h0M1282.9 694.1h0M1295.8 712.4h0M1266.5 762.1h0M1262.5 692.4h0M1251.9 785.1h0M1270.3 683h0M1262.6 742.6h0M1270.8 764.3h0M1261.8 751.3h0M1286.5 679.3h0M1272.9 721.7h0M1236.3 785.4h0M1270.1 734h0M1250.9 774.9h0M1283.5 667.3h0M1255.8 748.6h0M1256.9 785.4h0M1260.3 760.5h0M1247.4 791.3h0M1285.5 577.5h0M1261.5 685.1h0M1279.3 691.9h0M1261.1 703.7h0M1255.3 733h0M1265.8 753.5h0M1265.1 772.1h0M1278.3 723.3h0M1253.9 773.8h0M1273 674.5h0M1327.4 707.3h0M1245.8 801.4h0M1278.6 693.1h0M1235.8 792.7h0M1243.4 803.6h0M1251.7 773.1h0M1275.9 562.9h0M1238 784.4h0M1201.5 638.8h0M1266.9 701.6h0M1258.2 752.5h0M1293.6 697.6h0M1309.8 725.2h0M1251.1 786.4h0M1255.1 754.8h0M1255 764.7h0M1251.6 782.3h0M1246 801.1h0M1280.4 738.8h0M1282.5 556h0M1265.8 756.3h0M1312 741h0M1264 763.6h0M1255.8 768.1h0M1258.6 774.2h0M1298.5 715h0M1276.6 725.7h0M1286.7 742.3h0M1231.7 750.1h0M1272.3 735.3h0M1281.5 716.6h0M1290.5 650.8h0M1279.6 685.9h0M1188.8 669h0M1248.3 782.7h0M1264.1 726h0M1251.9 781.5h0M1289.3 653.1h0M1238.7 794.5h0M1303.9 696.5h0M1271.3 731.1h0M1223 769.5h0M1289.5 672.6h0M1278.3 763.2h0M1226.6 763.4h0M1248.8 783.1h0M1271 745.8h0M1277.5 734.7h0M1297.9 685.5h0M1238.9 798.3h0M1278.5 651.5h0M1251.3 777.6h0M1265.8 767.7h0M1258.2 748.3h0M1272.5 770.3h0M1239.4 796.1h0M1284.7 692.4h0M1282.5 698.4h0M1276.8 670.6h0M1253.3 744.9h0M1254.8 782.1h0M1289.1 683.9h0M1277.5 702.4h0M1259.9 747.7h0M1276.1 605.2h0M1280.6 634.7h0M1237 778.6h0M1258.6 757.3h0M1243.2 804.5h0M1289.2 758h0M1264.8 721.3h0M1300.3 525.4h0M1234.5 778.7h0M1236.6 794.3h0M1240.5 799.7h0M1233.1 762.2h0M1216.2 781.6h0M1260.3 788.4h0M1246.3 794.9h0M1282.8 742.3h0M1246.8 781.9h0M1226 771.1h0M1240.8 803.9h0M1246.6 798.7h0M1240.3 800.6h0M1246.4 784.3h0M1317.8 688.2h0M1276.4 717.1h0M1300.8 621.1h0M1298 690.8h0M1264.5 770.5h0M1280.5 573.1h0M1251.3 788.4h0M1246 795.8h0M1278.2 681.7h0M1287.6 746.3h0M1255.3 775.3h0M1264.5 723.8h0M1235.2 791.6h0M1288.8 649.7h0M1261.9 759.6h0M1271.7 762.3h0M1285.2 678.4h0M1227.5 760.4h0M1283.6 665.1h0M1262.7 712.8h0M1336.6 686.2h0M1252.1 752.3h0M1275.2 706.1h0M1262.8 681.9h0M1255.9 767h0M1231.1 798.3h0M1270.3 748.6h0M1264.2 706.8h0M1290.7 752.4h0M1226.2 737.1h0M1238.5 795.3h0M1283.2 598h0M1247.2 798.4h0M1274.5 647.6h0M1291.1 662.8h0M1275.4 775.5h0M1228.5 787.3h0M1289.3 596.7h0M1277.2 736.9h0M1281.7 603.2h0M1278.2 748.3h0M1241.8 803.6h0M1279.9 741.3h0M1298.3 719.5h0M1258.1 728.7h0M1328.2 694.1h0M1278.3 774.1h0M1256.2 794.3h0M1244.8 803.1h0M1263.3 730.4h0M1290.8 672.4h0M1250.3 790.4h0M1241.8 803.9h0M1255.2 788h0M1247.7 796.8h0M1257.1 748.8h0M1264.4 788.7h0M1267.3 758.6h0M1307.2 546.1h0M1256.4 763.9h0M1239.2 798.4h0M1240.4 801.1h0M1285.7 487.8h0M1299.9 604.3h0M1272.1 693.1h0M1271 768.9h0M1246.1 803.1h0M1272.7 770.7h0M1287.6 516.4h0M1252.3 789.5h0M1247.6 802.1h0M1258.4 764.8h0M1266.8 739.1h0M1270 734.4h0M1253.1 757.5h0M1249.4 788.9h0M1259.1 764.1h0M1297.5 651.8h0M1227.1 772.5h0M1303 572.9h0M1308.1 689.3h0M1212.9 780.8h0M1261.4 734.9h0M1254.2 791.7h0M1246.2 798.5h0M1267.7 644.5h0M1237.7 786.4h0M1254.8 756.3h0M1245.8 802h0M1244.2 802.6h0M1252.9 778.3h0M1270.4 750.5h0M1237.2 799.7h0M1269.2 681.2h0M1249.7 786h0M1309 603.2h0M1279.4 684.5h0M1237.1 783.8h0M1266.8 726.9h0M1258.3 757.6h0M1227.2 782.4h0M1273.7 719.2h0M1244.1 799.6h0M1247.1 784h0M1325.6 682.4h0M1229.4 744.1h0M1266.7 664.6h0M1242.4 805.7h0M1292 595.5h0M1261.4 770.3h0M1235 790.4h0M1314.8 476.9h0M1220.8 717.4h0M1282.7 668.6h0M1213.4 686.8h0M1284.1 693.1h0M1252.1 769.2h0M1266.1 728.3h0M1271.6 740.6h0M1251.8 772.5h0M1238.2 794.7h0M1288.9 709h0M1284.3 662h0M1257.9 762.3h0M1302.3 589h0M1250.9 789.3h0M1261.3 648.2h0M1237.8 795.3h0M1247.8 782.9h0M1273.4 771.2h0M1281.5 661.7h0M1274 724h0M1238.7 798.1h0M1263.7 692.5h0M1264.4 761.6h0M1276.7 738.3h0M1257 741.9h0M1294.3 653.3h0M1293.7 698.3h0M1300.6 671.8h0M1244 803.1h0M1273 719h0M1244 800h0M1225.5 704.6h0M1266.3 744.6h0M1253.4 776.2h0M1241 798.8h0M1249.1 773.7h0M1275.2 652.1h0M1264.7 626.4h0M1269.6 665.5h0M1293.1 586.3h0M1236.3 775.8h0M1275.3 703.2h0M1241.2 803.2h0M1264.5 733.3h0M1303.2 563.3h0M1262.4 654.2h0M1281.2 670.4h0M1268.4 687.4h0M1248.7 789.5h0M1262.4 765.5h0M1240.5 795.4h0M1268.6 727.9h0M1278.7 704.1h0M1243.1 804h0M1262.6 658.3h0M1256.9 790.5h0M1256.8 722.9h0M1248.2 787.4h0M1274.2 647.8h0M1298.2 577.2h0M1261.5 704h0M1280.3 727.2h0M1244.3 802.6h0M1245.5 802.3h0M1233.8 785.1h0M1297 749.4h0M1288.1 540.8h0M1274.4 748.8h0M1225.2 777.1h0M1276.4 698.2h0M1277.7 725.3h0M1289.4 619.8h0M1265.6 669.2h0M1228 764.8h0M1297 707.6h0M1255.6 712.8h0M1255.6 795.5h0M1275 597h0M1286 720.5h0M1250.4 772.6h0M1276.7 741.5h0M1274.4 654.2h0M1286 675.7h0M1272.4 722h0M1296.4 670.7h0M1244.7 801.3h0M1262.9 739.5h0M1275.3 767.4h0M1255.7 764.9h0M1308.1 650.9h0M1261.8 724.6h0M1224.6 747.6h0M1298.6 628.6h0M1274.4 714.6h0M1254.4 775.3h0M1253.1 773.7h0M1283.6 697.5h0M1241.6 802.6h0M1271.3 670.9h0M1254.8 774.9h0M1254.2 781.4h0M1248.2 798.3h0M1250.1 783.7h0M1262.5 710.9h0M1299.9 651.4h0M1253.3 768.1h0M1247.3 788.9h0M1274.2 664.3h0M1283.5 637.9h0M1257.6 772.7h0M1283.7 452.7h0M1247.6 801.5h0M1198.5 773.2h0M1297.8 606.6h0M1241.9 804.8h0M1259.2 771.4h0M1296.4 572.6h0M1254 760.9h0M1279.1 730.9h0M1304.6 611h0M1265.5 715.8h0M1289.3 615.3h0M1252.2 747h0M1294.9 680.3h0M1281.9 469.2h0M1298.9 732.1h0M1287.2 600.1h0M1257.3 769.1h0M1249.9 789.8h0M1263.3 739.2h0M1272.4 620.4h0M1293.7 663.8h0M1255.1 756.9h0M1308.6 666.9h0M1282 727.5h0M1291.5 535.5h0M1289.7 653.1h0M1259.7 700.3h0M1253.6 721.5h0M1272 759.6h0M1273.4 714.9h0M1293 671.9h0M1298.6 661.6h0M1237.8 798.9h0M1271 650.6h0M1229.1 781.7h0M1266.8 616.2h0M1267.9 748.2h0M1304.5 766h0M1264.8 792.7h0M1320.1 716.8h0M1286.3 601.6h0M1260.2 777.1h0M1285.4 581.5h0M1297.6 602h0M1248.3 788.5h0M1294.6 674.4h0M1274.3 763.7h0M1237.8 785.8h0M1273.8 698.4h0M1214.2 738.1h0M1277.6 719h0M1241.6 803.4h0M1229.8 774.6h0M1255.8 758.2h0M1261.8 779.8h0M1318.3 598h0M1266.5 702.8h0M1265.2 754.9h0M1302.5 721.3h0M1310.3 611.4h0M1266.9 727h0M1273 593h0M1260.1 750.3h0M1260.4 768.3h0M1268.7 646.8h0M1304.8 660.9h0M1276.8 727.5h0M1330.7 746.7h0M1313.6 701.2h0M1244.2 799.1h0M1259.2 747.8h0M1245.7 798.6h0M1269.7 691h0M1244 802h0M1234.8 770.9h0M1255.4 766.2h0M1245.2 797.6h0M1253.6 775.7h0M1236.9 790.2h0M1270.1 731.5h0M1279.6 678h0M1257 731.5h0M1240.7 802.1h0M1282.6 680.1h0M1277.2 705.9h0M1281.9 719.7h0M1245.4 800.2h0M1242.7 805.4h0M1270.2 711.7h0M1269.6 671.4h0M1288.1 549.4h0M1274.7 677.4h0M1258.7 730.3h0M1250.8 789.5h0M1273 748.3h0M1285.3 657.2h0M1256.4 758.9h0M1264.4 752.8h0M1262.2 735.5h0M1275.9 603.9h0M1232.7 764.8h0M1310.9 530.6h0M1273.1 750.1h0M1264.5 690.7h0M1276.5 766.9h0M1291 673h0M1244.6 804.6h0M1305 609.7h0M1301.5 665.1h0M1268.2 767.6h0M1263.4 734.4h0M1245.4 795.4h0M1267.6 722.4h0M1254.9 738.6h0M1251.1 767.5h0M1247.9 793.9h0M1276.7 728.8h0M1276.3 753.6h0M1303.7 730.9h0M1250 781.7h0M1278.7 572.6h0M1280.5 766.5h0M1309.4 595.8h0M1276.3 713h0M1269 641.5h0M1227.2 735.3h0M1229.8 760.3h0M1278.3 763h0M1248.8 782.8h0M1270.6 640.3h0M1243.7 801.3h0M1282.6 656.7h0M1280 633.5h0M1252.1 772.4h0M1271.9 749h0M1279.9 740.7h0M1258.5 726.4h0M1315.4 664h0M1271.2 773.8h0M1270.9 718.5h0M1271.5 696.2h0M1271.6 721.7h0M1228.6 778.9h0M1241.1 801.7h0M1247.4 784.5h0M1261.8 762.5h0M1297.8 655.5h0M1247 797h0M1293.1 489.5h0M1241.1 799.9h0M1266.1 723.7h0M1277.1 727.3h0M1240.6 803.8h0M1283.3 631.4h0M1261.7 692.2h0M1250.9 771h0M1257.2 755.5h0M1239 801.1h0M1268.5 622.8h0M1265.2 716.3h0M1248.3 787.1h0M1291.2 638.7h0M1224 747.4h0M1266.9 684.9h0M1300.3 726.4h0M1310.1 683h0M1315.3 625.5h0M1256 782.5h0M1299.7 631.9h0M1250.8 763.3h0M1259.2 769.2h0M1296.2 681.7h0M1254.2 768.8h0M1288.8 662.6h0M1270.6 653.8h0M1252.4 794.8h0M1266.1 699.2h0M1308 635.1h0M1276.1 620.1h0M1287.2 531.7h0M1238.8 795.3h0M1263.7 732.7h0M1270.1 708.7h0M1236.6 795.4h0M1282.8 768.4h0M1239.5 798.7h0M1262.1 762.7h0M1301 571.4h0M1244.3 802.8h0M1234.7 779h0M1252.8 773.9h0M1259.8 766.2h0M1310.4 447.6h0M1308.6 675.3h0M1257.3 765.3h0M1270.3 731.7h0M1241.5 804.3h0M1268.9 726.8h0M1235 793.7h0M1238.4 794.3h0M1249.8 785.5h0M1242 805.4h0M1301.8 699.6h0M1213.8 732.2h0M1281.1 622.9h0M1226.5 725.9h0M1237.5 800.9h0M1283.8 715.7h0M1276.6 660.1h0M1269.8 725.9h0M1242.6 805.6h0M1273.4 675.1h0M1253.5 791.1h0M1289.8 752.7h0M1271.5 782.2h0M1270.1 706.2h0M1304.2 667.8h0M1245 803.2h0M1293.1 605.6h0M1299.4 616.4h0M1240.3 797.1h0M1269.3 774.7h0M1279.6 622.9h0M1262.6 773.2h0M1268 751.9h0M1290.3 632.7h0M1253.3 790.7h0M1293.5 537.9h0M1210.2 714.4h0M1288.9 687.1h0M1267 693.7h0M1253.9 785.9h0M1223 784.8h0M1303 731.5h0M1285.4 655h0M1244.8 791.9h0M1307.9 685.2h0M1306 690.2h0M1261.7 757.9h0M1254 782.9h0M1294.2 586.4h0M1245.4 797.4h0M1260 789.6h0M1270.9 741h0M1262.3 718.9h0M1275.6 589.2h0M1269.4 763.2h0M1322.4 639.5h0M1274.8 773h0M1247.3 793h0M1288 610.4h0M1238.2 803.5h0M1284.9 600.8h0M1248.8 789.7h0M1251.9 782.3h0M1244.8 803.1h0M1247.4 791.5h0M1284.8 744.6h0M1307.6 704.5h0M1239.5 796.9h0M1279.1 642.3h0M1211.9 779.4h0M1286.5 671.2h0M1249.7 784.4h0M1252.2 781.6h0M1237.8 790.1h0M1267.6 703.1h0M1290.2 732.6h0M1209.7 757.2h0M1253.5 781.2h0M1272.9 787.7h0M1294.8 567.2h0M1279.3 601h0M1267.3 758.3h0M1266.3 709h0M1233.4 768.8h0M1272.8 659.6h0M1224.1 795.2h0M1300.1 635.3h0M1266 745.9h0M1212.3 745.1h0M1286 736.8h0M1297.6 644.9h0M1254 772.4h0M1294.3 719.4h0M1276.7 681.1h0M1254.6 765.3h0M1252.4 773.6h0M1231.9 773.3h0M1277.5 694.9h0M1274.4 715.7h0M1277.5 673.6h0M1268.3 738.3h0M1236.3 790.4h0M1215.1 737.8h0M1276.1 768.3h0M1256.3 766.1h0M1263.8 675.8h0M1295.7 724h0M1283 723.4h0M1258.2 692h0M1267.6 682.7h0M1287.4 703.5h0M1281.8 680.8h0M1266 735.1h0M1262.7 711.7h0M1279.4 661.5h0M1257.4 748.8h0M1251.8 775.9h0M1285.2 661.8h0M1290.1 589.3h0M1312.7 544.5h0M1301.7 721.8h0M1285.5 550.3h0M1261.1 739.6h0M1262.8 731.4h0M1283.6 657.8h0M1277.9 733.8h0M1256.4 795.9h0M1285.3 761.2h0M1265.2 667.7h0M1277.1 656.1h0M1249.2 803.5h0M1265.7 755.7h0M1273.9 738.3h0M1275 709h0M1282.9 656.4h0M1222.3 789.3h0M1284.5 698.1h0M1289 612.5h0M1311.9 603.9h0M1268.3 763.4h0M1255 784.7h0M1310.2 578.4h0M1261 761.5h0M1260.6 726h0M1254.8 781.8h0M1251.1 767.7h0M1262.7 760.6h0M1227.8 754.6h0M1309.1 747.4h0M1249.3 789.9h0M1256.5 767.9h0M1286.5 745.3h0M1257.4 749.3h0M1309 741.6h0M1274 701.3h0M1311.3 678.3h0M1289 651h0M1273.3 597h0M1256.6 753.5h0M1235.1 799.2h0M1302.8 607.6h0M1243.9 802.8h0M1257.4 793.6h0M1305 680.5h0M1248 799.5h0M1262.1 771.8h0M1269.9 660.2h0M1279.1 703.8h0M1275.7 599.4h0M1238.4 794h0M1271.2 647.5h0M1231.9 763.7h0M1266.4 777.8h0M1253.5 743.5h0M1275.2 728.9h0M1290 700.1h0M1262.7 754.3h0M1277.8 694.6h0M1268.5 698.3h0M1305.4 659.2h0M1259.4 755.6h0M1272.7 708.5h0M1265.3 654.2h0M1242.6 805.9h0M1235.9 792.8h0M1241.8 802.3h0M1318.1 674.2h0M1279.4 666.9h0M1244.8 800.5h0M1273.9 747h0M1274.8 756.1h0M1255.5 743.1h0M1326 693.1h0M1272.4 680.7h0M1269.4 728.4h0M1280.5 585.5h0M1255 782h0M1280.2 637.5h0M1281.7 720.7h0M1259.9 675h0M1258.2 710.5h0M1224.2 704.9h0M1249.6 787.7h0M1241 799.8h0M1303.4 646h0M1284.2 645h0M1270.9 531.9h0M1284.5 732.3h0M1270.5 700.1h0M1289.6 614.5h0M1279.4 708.4h0M1277.1 750h0M1255.8 768.4h0M1238.1 779.5h0M1249.7 769.3h0M1290.1 677.7h0M1267.8 665.2h0M1302.4 544.9h0M1226.5 758h0M1251.6 789.9h0M1272.6 675h0M1300 586.5h0M1204.7 762.9h0M1274.5 776.7h0M1258.9 790.5h0M1267 635.3h0M1258.5 743h0M1266.3 755.8h0M1313.1 644.2h0M1302.4 721.4h0M1241.2 804.3h0M1297 744.1h0M1234 768.3h0M1253.7 760.5h0M1301.7 684.2h0M1249.9 769.9h0M1244.8 794.7h0M1264.3 775.7h0M1284.4 724.8h0M1264.2 775.3h0M1278.5 728h0M1266.8 696.9h0M1249.8 797.1h0M1299.1 571.6h0M1279.1 746.5h0M1230.4 743h0M1264.5 746.3h0M1233.2 780.2h0M1274 734.8h0M1282.8 691.3h0M1227.9 778h0M1250.1 779h0M1266.7 753.9h0M1245.3 796.4h0M1260.2 719.2h0M1284.8 680.8h0M1292.8 671.2h0M1277.8 632.7h0M1259.5 726.9h0M1250.8 771.5h0M1251.5 778.4h0M1248.6 787h0M1297 755.2h0M1275.2 607h0M1253.1 777.9h0M1260.9 765.9h0M1251.9 784.7h0M1289.8 755.9h0M1244.4 804.2h0M1218.7 779.4h0M1240.4 800.6h0M1222.4 728.4h0M1272 736.6h0M1263.9 728.1h0M1298 643.6h0M1305 634.9h0M1299.8 628h0M1274.2 706.3h0M1240.4 796.5h0M1290.5 626.5h0M1224.4 758.1h0M1261.2 673.1h0M1252.5 790.7h0M1228.7 770.3h0M1298.6 689.5h0M1270.4 743.2h0M1242 805h0M1259.3 693.6h0M1251.4 781h0M1263.5 689.9h0M1240.8 800.8h0M1270.5 690h0M1274.2 676.6h0M1239 800.4h0M1231.2 781.3h0M1267.1 678h0M1248 789.6h0M1257.4 778.5h0M1238.6 803.3h0M1259.3 741.7h0M1257.5 749.3h0M1247.4 791h0M1277.8 688.1h0M1303.4 674.9h0M1257.8 747.5h0M1272.3 683.2h0M1237.1 790.5h0M1331.5 703h0M1273.2 715.5h0M1250.9 796.9h0M1279.9 687.3h0M1259.8 770.6h0M1291.5 620.9h0M1276.4 683.6h0M1268.4 651.1h0M1269.3 683.6h0M1231.1 768h0M1261.6 775.5h0M1261.1 742.9h0M1249.9 777.9h0M1257.9 775.8h0M1311.3 476.6h0M1249.1 787.9h0M1275.4 634.6h0M1290.2 719.2h0M1263 734.9h0M1259.8 723h0M1240 799.1h0M1253.9 709.1h0M1256.8 782.4h0M1261.7 669.6h0M1316.8 731.8h0M1247.5 793.4h0M1264.7 727.7h0M1282.8 758.3h0M1271 696.9h0M1256.1 738.9h0M1288.2 588.5h0M1248.5 794.8h0M1293.4 623.8h0M1258.7 759.7h0M1246.2 798.6h0M1290.4 688.9h0M1264.2 764.1h0M1241.3 802h0M1251.8 778.1h0M1298.1 675.3h0M1248 792.6h0M1257.1 727.1h0M1261.9 746.6h0M1282.2 651.3h0M1339.1 710.2h0M1248.5 783.2h0M1259.1 744.8h0M1265.8 790.1h0M1297.8 591.1h0M1268.3 705.2h0M1262.9 777.1h0M1244.8 799.5h0M1261.5 755.4h0M1274.2 693.3h0M1299.5 684.3h0M1266.3 727h0M1253.8 757.6h0M1293.9 587h0M1270.9 681.3h0M1243.4 804.8h0M1288 654.8h0M1242.4 805.6h0M1320.1 734.5h0M1253 775.1h0M1286.1 732.8h0M1262.8 755.5h0M1280.4 724h0M1243.8 802h0M1300.1 698.5h0M1244.1 800.5h0M1303.7 719.5h0M1303.3 515.8h0M1240.9 802.5h0M1247.6 798.8h0M1241.3 803.2h0M1263.2 737.2h0M1259.8 753.5h0M1286 693.7h0M1224.3 786.2h0M1257.5 738.5h0M1244 797.5h0M1240.1 800.6h0M1282.9 634.8h0M1256.3 777.6h0M1239.8 798.9h0M1276.4 688.1h0M1277.1 692.9h0M1288.2 564.2h0M1297.7 481.9h0M1297.5 486.4h0M1272.7 610.5h0M1293.9 621.8h0M1245.1 798.5h0M1217.4 752.7h0M1245.1 796.9h0M1241.2 803.4h0M1280.4 662.8h0M1259.6 747.4h0M1250.5 780.4h0M1272.2 648.6h0M1276.3 616.2h0M1303.2 686h0M1245.8 795.9h0M1247.3 786.7h0M1287.1 587.4h0M1248.9 776h0M1300.4 576.4h0M1263.5 704.2h0M1297.5 613.1h0M1288.9 685.4h0M1260.9 696.1h0M1263.6 739.8h0M1272.7 617h0M1289.5 691.4h0M1281.3 696.8h0M1225.6 757.7h0M1251.1 747.2h0M1257.8 745.4h0M1260.5 761.9h0M1242.1 804.9h0M1271.6 750.1h0M1280.9 720.7h0M1232.1 781.6h0M1228.5 784.3h0M1268.1 706h0M1278.3 661.5h0M1295.7 691.6h0M1268.4 661.2h0M1252.8 748.2h0M1311.3 645.3h0M1314 680.6h0M1220.6 766.9h0M1290.5 656.3h0M1240.4 796.4h0M1266.8 710.5h0M1257 703.3h0M1247.4 793.5h0M1261.5 761.3h0M1292.4 763.6h0M1275.6 717.5h0M1294.8 743.6h0M1264.8 771.1h0M1260.4 741.1h0M1274 668.7h0M1258.6 706.2h0M1249.8 786.7h0M1287.7 630.2h0M1256.9 747.1h0M1237.6 795.1h0M1272 677.3h0M1257.8 719.2h0M1280.9 628.7h0M1264.7 729.1h0M1304.3 636.5h0M1249.6 763.7h0M1271.5 684.5h0M1242 805.3h0M1257.9 719.1h0M1260.6 698.6h0M1264.5 610.2h0M1262 731.5h0M1255.6 731.1h0M1261.4 728.8h0M1287.5 684.8h0M1313.1 705.5h0M1236 773.4h0M1257.7 743.9h0M1276 635.8h0M1265.4 723.1h0M1275.3 626h0M1242.2 804.5h0M1268.2 745h0M1265.7 667.1h0M1254.9 755.7h0M1274.7 745.3h0M1251.6 785.5h0M1283 708.2h0M1265.2 701h0M1271 638.1h0M1249.8 783.8h0M1274.5 630.3h0M1230.2 788.9h0M1265.1 761.2h0M1292.9 632.3h0M1216.3 743.3h0M1232.9 777h0M1262.1 743.4h0M1265.9 652h0M1294.9 654.5h0M1259.2 786.1h0M1256.3 748.3h0M1267.7 728.6h0M1289.7 650.9h0M1271.1 705.5h0M1270 760.4h0M1251.9 788h0M1283.1 680.6h0M1269.3 710.8h0M1247.3 787.3h0M1292 698.9h0M1259.8 753.6h0M1293.1 554.3h0M1245 799.8h0M1282.6 773.4h0M1262.1 724.3h0M1233.8 794.8h0M1243.5 802.5h0M1238.8 792.8h0M1263.3 788h0M1253.1 759.1h0M1239 788.8h0M1246.9 795.3h0M1306 607h0M1254 766.2h0M1297.7 684.8h0M1278.3 714.3h0M1301.8 572h0M1290.7 614.3h0M1257.4 710h0M1286.1 697.5h0M1291.2 715.2h0M1226.7 771.6h0M1249.4 774.4h0M1235.7 783.2h0M1287.3 717.5h0M1290.9 667.5h0M1244.9 800h0M1267.3 633h0M1239.9 795h0M1286.5 691.2h0M1280.7 733.7h0M1265.4 736.2h0M1302.7 641.5h0M1304.1 621.6h0M1258.1 782.7h0M1260 729.8h0M1260.5 724.3h0M1271.2 666.2h0M1226.4 766.5h0M1235.6 791.6h0M1288.6 494.2h0M1293.1 648.6h0M1283.2 716.6h0M1261.1 728.4h0M1274.3 727h0M1243.4 803h0M1264.6 752.8h0M1257.5 733h0M1257.8 770.5h0M1248.6 777.6h0M1248.9 774.2h0M1291.7 641h0M1241.9 804.3h0M1272.6 761.8h0M1257.1 701.3h0M1262.8 773.4h0M1294.7 666.5h0M1210.1 717h0M1283.7 719.3h0M1236.6 793.4h0M1254.4 783.1h0M1239.4 796.2h0M1242.3 805.4h0M1178.1 733.1h0M1295 689.7h0M1289.1 587.6h0M1235 784.3h0M1252.8 785.9h0M1256.3 743.5h0M1304.6 672.9h0M1246.7 798.5h0M1291 659.2h0M1315.5 610.7h0M1261.8 739.4h0M1289.2 675.2h0M1257.7 747.3h0M1285.5 611.5h0M1293.9 762.2h0M1265 717.9h0M1272.4 726.1h0M1256 748.2h0M1263.9 681.5h0M1297.7 721.1h0M1262.5 703.7h0M1261.1 663.5h0M1242.7 805.4h0M1256.9 798.8h0M1278.9 729.1h0M1289.3 660.1h0M1247.2 794.2h0M1287.1 666.5h0M1258.2 763.3h0M1282.8 746.9h0M1293.1 669h0M1301.3 722.3h0M1256.8 762.9h0M1279.1 710.3h0M1249.9 785.1h0M1286.6 590.4h0M1258.4 776.5h0M1291.6 720.6h0M1269 694.8h0M1233.5 776.4h0M1298.2 631.1h0M1264 772.9h0M1270.5 723.1h0M1293.5 511.3h0M1241.5 803.5h0M1242.2 804.7h0M1260.6 738h0M1257.3 745.8h0M1244.4 800.7h0M1260.8 721.7h0M1249.2 773.5h0M1302.7 607.8h0M1314.3 607.4h0M1288.4 741.8h0M1259.1 758.6h0M1312.1 617.9h0M1242.9 805.1h0M1293.1 649.5h0M1265.1 782h0M1272.6 662.4h0M1258.9 756.4h0M1263.4 696.9h0M1281.3 686h0M1254.7 768.3h0M1266.2 712.1h0M1266.4 769.2h0M1277.1 667.9h0M1278.1 718.5h0M1296.8 491.4h0M1251.3 763h0M1327.5 743.4h0M1228.7 784.2h0M1234.8 793.1h0M1253.6 761.9h0M1294.6 680.7h0M1224.4 761.7h0M1243.6 803.9h0M1280.5 737.3h0M1276.4 642.3h0M1242.6 805.8h0M1261.1 710.3h0M1287.7 602.3h0M1262.6 715.4h0M1273 745.5h0M1213.7 769.6h0M1264.2 756h0M1285.6 651.8h0M1299.1 632.8h0M1284.8 706.9h0M1271.4 694.8h0M1252.1 775.5h0M1250.5 773.3h0M1297.2 665.8h0M1313.9 668.5h0M1305.6 737.7h0M1263.2 669.7h0M1306.3 658.9h0M1294.9 701.9h0M1275.2 687.3h0M1255 728.1h0M1287.3 720.9h0M1261.9 680.7h0M1226.2 784.9h0M1256.1 742.9h0M1275 702.2h0M1261.8 685h0M1289.8 658h0M1279.4 768h0M1302.4 631.3h0M1295.7 627.8h0M1269.6 720.1h0M1245.5 796.8h0M1277.1 753h0M1254.2 742.1h0M1278.9 613.8h0M1261.1 753.1h0M1264.3 672.8h0M1247.7 780.4h0M1302.2 576.7h0M1249.8 768.2h0M1299.6 750.2h0M1290.4 730.8h0M1284.5 588h0M1198.7 722.6h0M1296.3 694.6h0M1223.7 766.3h0M1244.9 799h0M1233.1 738.9h0M1313.3 640.3h0M1290.6 634.3h0M1297.7 435.5h0M1253.1 762.4h0M1256.3 734.5h0M1292 637h0M1230.2 786.1h0M1271.2 719.3h0M1224.2 790.4h0M1312.4 700h0M1245.8 796.6h0M1214.8 740.9h0M1258.1 791.8h0M1277.5 646.8h0M1238.6 801.5h0M1322.5 730.3h0M1267.9 770.7h0M1242.9 805h0M1302 610.7h0M1243 804.6h0M1280.8 761h0M1300 649.5h0M1265.9 747.4h0M1219.3 784.6h0M1252.8 770.8h0M1277.9 727.4h0M1287.2 746.5h0M1263.9 661h0M1295 691.2h0M1289.6 725.3h0M1265.4 670.5h0M1243.5 805.2h0M1263.1 766.8h0M1224.4 746h0M1245 801.2h0M1252.8 777h0M1215.6 765.4h0M1307.7 724.9h0M1298.5 557.9h0M1266.5 721h0M1294.4 645.5h0M1248.7 793.5h0M1276 665.9h0M1288.7 759.6h0M1260.1 680.1h0M1257.2 781.2h0M1284.2 619.9h0M1258.6 756.9h0M1259.4 781.6h0M1316.5 618.5h0M1266.4 692.6h0M1306.8 640.8h0M1254.3 793.4h0M1297.4 682.8h0M1264.3 740.4h0M1283.5 738.8h0M1319.3 651.6h0M1311.2 564.7h0M1312.1 604.6h0M1275.5 679.7h0M1232.2 754.1h0M1267.7 702.2h0M1240 804.3h0M1312.4 715.2h0M1293.9 695.3h0M1282.1 723.8h0M1267.3 783h0M1252.2 782.8h0M1289.9 671.8h0M1311.2 670.7h0M1284 629h0M1284.7 715.3h0M1294.2 689.8h0M1306.6 639.5h0M1291.3 689h0M1297.3 677.6h0M1261.6 766.7h0M1210.8 728.6h0M1268.3 744.8h0M1286.7 656.6h0M1245.6 801h0M1253 776.6h0M1309.4 587.5h0M1290.1 644.3h0M1293.7 676h0M1271 736.2h0M1253.8 765.4h0M1234 768.3h0M1257.3 766.9h0M1291.4 645h0M1247.3 800.2h0M1296.8 675.9h0M1250.7 765h0M1295.7 675.9h0M1233.2 793.9h0M1262.1 764.3h0M1249.2 773h0M1279.9 741.8h0M1251.1 769.4h0M1260.7 776.6h0M1256.5 724.1h0M1291.5 659.3h0M1268.4 732.7h0M1271.4 724h0M1288.6 598.1h0M1168.7 644.3h0M1251.5 757.1h0M1252.5 791h0M1267.5 745.9h0M1329.5 691.5h0M1220.8 768.1h0M1235.1 787.8h0M1296.5 706.3h0M1255.5 760.5h0M1309.2 654.3h0M1218.5 758.4h0M1236.9 792.6h0M1249.6 786.5h0M1290.3 693.1h0M1285.5 609.3h0M1252.8 782.5h0M1272.6 674.4h0M1251.9 781.7h0M1244.2 800.8h0M1240.1 799.2h0M1295 662.6h0M1274.7 651.4h0M1240.6 799.4h0M1276.9 749.9h0M1246.5 797.1h0M1300.6 572.6h0M1249.8 798h0M1261 667.7h0M1286.7 744.1h0M1304.8 597.5h0M1266.7 666.9h0M1269.4 646.3h0M1267.3 704.6h0M1249.9 770.4h0M1281.3 680.1h0M1281.4 703h0M1266.5 713.4h0M1223.4 746.5h0M1305.9 665.5h0M1289.6 548.7h0M1268.9 679.8h0M1250.5 782.4h0M1243.2 804.1h0M1262.6 785.2h0M1280.6 687.8h0M1230.5 797.7h0M1293.9 678h0M1262.3 754.9h0M1243 805.4h0M1266.6 718.7h0M1249.4 776.8h0M1257.6 736.5h0M1253.2 773.2h0M1246.3 803h0M1279.7 722.4h0M1265.5 730.9h0M1256.8 747h0M1277.4 662.1h0M1271.4 706.9h0M1241.9 804.6h0M1261.3 760.8h0M1308.4 531.1h0M1295.1 625h0M1247.7 795h0M1293.4 566.4h0M1264.3 721.4h0M1250.3 794.2h0M1253.7 777.2h0M1271.4 727.4h0M1272.1 691.4h0M1261.5 686.6h0M1295.5 582.5h0M1261 646.3h0M1237.3 795.8h0M1331.3 647.5h0M1263.5 686.3h0M1260.7 724.5h0M1252.1 787.1h0M1300 596.9h0M1272.2 713.4h0M1258.5 702.7h0M1251.5 787.2h0M1282 659h0M1255 777.6h0M1238.9 800.7h0M1275.4 749.2h0M1295 638.1h0M1252.5 763.8h0M1272.2 744.1h0M1303.3 613.4h0M1332.2 655.6h0M1279.7 587.2h0M1260.7 760.5h0M1289.3 591.9h0M1246.6 798h0M1254 777.4h0M1222.5 766.2h0M1256.3 752.2h0M1258.4 795.2h0M1274.2 606.8h0M1227.8 772.1h0M1243.3 803.9h0M1210.5 760.4h0M1270.9 650.5h0M1249.8 793.2h0M1251.7 765.3h0M1286.4 588.2h0M1281.1 638.3h0M1289.6 684h0M1297.7 679.8h0M1257.2 712.2h0M1277.8 585.7h0M1265.7 707.8h0M1255.3 779h0M1302.3 658.9h0M1257 767.7h0M1270.7 733h0M1270.7 711.5h0M1264.5 720.2h0M1231.9 776.4h0M1237.2 789.2h0M1275.7 617.4h0M1232.2 783.8h0M1264.7 686.1h0M1253.2 771.6h0M1294.3 628.7h0M1257.7 737.6h0M1261.7 753.1h0M1267.8 749.9h0M1266.8 667.9h0M1267.3 641.5h0M1223.5 776.8h0M1263.3 762.4h0M1244.8 803h0M1245.4 798.3h0M1277.7 665.4h0M1303.8 754.3h0M1305 710.3h0M1319 667.6h0M1314.2 457.3h0M1272.2 732.3h0M1255.3 717.9h0M1264.2 639.8h0M1270.5 748.9h0M1287.1 624.2h0M1293 728.7h0M1273.6 749.7h0M1241.8 804.7h0M1295.7 654.8h0M1272.7 739.8h0M1237.5 797h0M1264.4 774h0M1295.4 537.5h0M1247.5 801.9h0M1263.1 701.5h0M1276.9 638.1h0M1260 771.7h0M1253.2 795h0M1268 662.5h0M1254.8 765.6h0M1294.2 667.5h0M1279 674.4h0M1249.4 787.1h0M1267 720.3h0M1258.6 735.9h0M1300.8 747.1h0M1296.6 645.1h0M1226.8 738.7h0M1284 796.2h0M1259.9 753h0M1327.4 695.6h0M1287.2 617.3h0M1212.3 747.6h0M1306.5 710.2h0M1293.3 578.9h0M1275.7 705.1h0M1258.1 763.9h0M1259.2 794.4h0M1255.5 772.6h0M1262.5 724.3h0M1256.2 726.5h0M1244.9 793.1h0M1252.5 753.3h0M1277.1 609.4h0M1255.5 765.2h0M1245.1 798.4h0M1248.7 782h0M1291.4 554.6h0M1246.4 795.9h0M1284.8 729.2h0M1302.8 622.3h0M1257.3 725.5h0M1265.1 730.1h0M1218.1 772.2h0M1273.9 615h0M1272.5 746.9h0M1243.5 805h0M1288.5 640.6h0M1266.1 775.5h0M1234.7 777.3h0M1313.9 700.4h0M1241.8 805.1h0M1269.3 636.7h0M1274.5 671.6h0M1262.3 746.9h0M1284.8 705.1h0M1239.6 800.6h0M1265.1 760.1h0M1222.4 769.2h0M1278.6 607.9h0M1242.4 805.7h0M1250.5 792.3h0M1238.6 792h0M1265 724.9h0M1303.7 589.9h0M1271.3 735.4h0M1334.4 697.9h0M1248.7 784.5h0M1301.1 755.9h0M1260.8 747.7h0M1265.1 761.2h0M1263.4 733.2h0M1259.8 699.5h0M1302.1 599.3h0M1289.6 783.3h0M1252.3 776.3h0M1258.1 769.9h0M1273.6 684.2h0M1261.8 733h0M1238.7 792.2h0M1276 671h0M1258 760.1h0M1269.1 684.4h0M1290.8 730.6h0M1263.7 753.7h0M1278.5 670.4h0M1308.5 615.3h0M1263.5 765.2h0M1278.7 682.8h0M1299.7 603.2h0M1264 769.5h0M1316.5 644.6h0M1276.5 656.3h0M1235 795.3h0M1242.1 804.4h0M1255.5 771.8h0M1270.7 771.2h0M1243.1 805.2h0M1260.4 798.8h0M1218.7 786.5h0M1260.1 769.8h0M1246.3 798.1h0M1252.3 745.6h0M1301.4 703.5h0M1239.9 798.5h0M1265.5 760.1h0M1273.1 623.2h0M1249.6 782.9h0M1280 739.4h0M1267 799h0M1249.3 801.9h0M1307.5 652.8h0M1300 611h0M1300 596.4h0M1268.2 742.5h0M1275.1 723.6h0M1236.4 784.5h0M1282.6 698h0M1244.9 795.7h0M1291.5 697.2h0M1251.5 743.6h0M1263.8 641.5h0M1294.2 688.8h0M1250.1 795.2h0M1281 627.5h0M1294.7 634.4h0M1305.7 664.7h0M1263.3 706.7h0M1285.9 668.5h0M1254 737.5h0M1270.2 656.7h0M1260.7 735.8h0M1307.8 587h0M1282.4 739.2h0M1243.1 804.7h0M1254.7 771.2h0M1297.7 602.1h0M1242.8 805.4h0M1303.5 721h0M1272.9 734.7h0M1261.5 695.5h0M1263.8 709.8h0M1273.7 687.4h0M1233.3 774.6h0M1268.9 734.3h0M1261.5 752.9h0M1272.1 750.7h0M1277.6 661h0M1294.8 658.2h0M1274.5 744.6h0M1274.4 633h0M1298 646.9h0M1267.2 731.7h0M1209.6 746.7h0M1190.3 746.2h0M1263 725h0M1245.3 799.4h0M1297.5 674.9h0M1239.1 801.2h0M1256.8 718.6h0M1266.6 726.1h0M1228.4 763.3h0M1248.1 794.9h0M1315.9 641.2h0M1268.7 736.1h0M1285.4 682.4h0M1246.6 797.4h0M1290.3 606.7h0M1278.2 714.6h0M1293.9 737.1h0M1238.5 798.1h0M1235.7 800.9h0M1279.7 679.8h0M1251.4 750.7h0M1263.4 725.5h0M1279.5 681.3h0M1219 740.4h0M1271.3 753.7h0M1288.3 628h0M1280.1 597.5h0M1314.7 635.4h0M1296.3 750.2h0M1270.3 741.2h0M1270.2 753.7h0M1266.2 736.5h0M1258.5 752.2h0M1252.6 794.1h0M1248.9 791.4h0M1259.9 724.5h0M1255.2 785.7h0M1268.3 730.9h0M1274.3 697.2h0M1285.5 731.6h0M1259 720.6h0M1315.1 634.9h0M1230.1 780.3h0M1264.1 752.1h0M1259.2 766.2h0M1297.7 546.3h0M1275 663.7h0M1296.8 652.9h0M1277.8 708.8h0M1284.8 745.1h0M1271.7 679.7h0M1235.3 773.9h0M1270.9 778h0M1314.4 623.7h0M1246.5 797.5h0M1284.1 680.8h0M1317.6 680.5h0M1243.2 803.3h0M1217.3 755.9h0M1300.5 715.5h0M1245.9 788.5h0M1250.9 748.6h0M1291.6 699.7h0M1251.6 764.2h0M1299.1 595.6h0M1287.8 530.3h0M1269 627.2h0M1294.9 723.4h0M1267.2 739.2h0M1271.3 636.1h0M1230.6 786.2h0M1243.2 803.5h0M1234.4 793h0M1270.4 649h0M1247.7 795h0M1304.4 688h0M1260.3 728.4h0M1260.1 773.3h0M1257.2 739h0M1303.1 695.7h0M1276 647.1h0M1288.9 660.5h0M1233.1 768.6h0M1282.5 746.6h0M1283.2 654.3h0M1291.5 608.8h0M1275.8 632.6h0M1240.4 798.2h0M1249.2 797.9h0M1255.3 734.3h0M1284.8 763.8h0M1268.5 686.6h0M1253 768.6h0M1226.2 748.2h0M1243.8 801.9h0M1238.6 797.6h0M1271.7 620.3h0M1268.7 735.5h0M1251.6 779.3h0M1283.9 753.3h0M1229.6 737.9h0M1240.4 802.1h0M1272.4 739.9h0M1257 757h0M1252.8 772.1h0M1233.9 788.4h0M1256.9 770.4h0M1268.8 654h0M1275.4 707.4h0M1289.6 642.3h0M1242.4 805.9h0M1260.3 749.4h0M1249.4 773.9h0M1273.9 703.2h0M1251.3 767.8h0M1273.3 718.3h0M1224.4 770.7h0M1273.4 672.5h0M1256.7 732.2h0M1298.9 676.4h0M1276.8 663.1h0M1242.2 805.2h0M1259.8 717.4h0M1281.8 698.1h0M1293.8 600.1h0M1243.9 802.6h0M1293 721h0M1272 710.4h0M1245.8 798.5h0M1240.6 801.9h0M1281.3 626.2h0M1283.4 764.3h0M1237.3 796.3h0M1271.4 770.2h0M1233.1 773.8h0M1252.1 784.7h0M1267.9 764.7h0M1250.2 767.1h0M1244.1 803.5h0M1281.6 727.6h0M1250.5 772.7h0M1272 749.6h0M1253.4 765.9h0M1251.8 778h0M1271.5 693.8h0M1310.1 685.9h0M1262.7 725.2h0M1240.3 800.7h0M1298.2 655.2h0M1226.7 749.7h0M1269.4 692h0M1293.9 608.9h0M1307.2 592.8h0M1201.4 696.6h0M1254.8 781h0M1282.4 605h0M1222 778.8h0M1288.7 784.6h0M1316.2 625.3h0M1260.4 767.2h0M1272.7 712.5h0M1274.4 725.8h0M1309.9 663.2h0M1275 662.7h0M1306.8 695.3h0M1266.5 743.5h0M1280.8 562.4h0M1247.6 780.6h0M1225.4 779.7h0M1236.2 791.9h0M1239.1 792.3h0M1233.1 779.1h0M1259.8 704.7h0M1262.1 719.9h0M1265.3 778.1h0M1283.5 630.7h0M1266.8 597.8h0M1299.4 629.6h0M1267.9 759.6h0M1283.6 668.5h0M1268 706.6h0M1306.3 693.1h0M1279.5 676.9h0M1317.8 576.1h0M1239.7 801.7h0M1248.5 786.2h0M1291.4 744.3h0M1310.8 645.2h0M1267 787.4h0M1273.5 616.4h0M1270.2 688.9h0M1308 647.9h0M1257.4 767.1h0M1245.7 790.1h0M1259.7 709.8h0M1247.2 781.3h0M1272.6 711h0M1259 647.3h0M1272.7 722.9h0M1300.3 703.7h0M1287 600.5h0M1243.5 803.4h0M1168.5 691h0M1249.6 761.2h0M1280.1 716.4h0M1300.5 702.5h0M1269.3 733.4h0M1238.4 800.5h0M1314.6 721h0M1316.3 511.2h0M1273 752h0M1292.2 668.4h0M1242.6 805.8h0M1273 762.4h0M1278.5 648.5h0M1313.5 704.5h0M1255.9 742.2h0M1305.5 684.9h0M1270.2 774.8h0M1297 550.3h0M1257.7 706.3h0M1276.3 718.5h0M1251.7 773.3h0M1260.8 781.4h0M1272.7 753.6h0M1261 743.5h0M1275.9 735.6h0M1230.9 759.5h0M1265.1 778.3h0M1280.3 595.1h0M1257.2 776.8h0M1297.7 599.2h0M1216.2 750.3h0M1257.6 699.3h0M1246 799.8h0M1243 804.6h0M1264.3 684.3h0M1276.4 673.4h0M1232.9 765.2h0M1226.3 780.3h0M1260.7 666.8h0M1268.3 761.1h0M1271.2 707.3h0M1298.1 605.3h0M1293.3 610.9h0M1244.2 803.3h0M1292.9 658.1h0M1262.8 715.2h0M1283.7 716.5h0M1282.8 683.4h0M1272.3 659.2h0M1204.1 709.6h0M1294.4 679.3h0M1257.8 755.7h0M1293.2 523h0M1257.7 726.6h0M1258.9 687.8h0M1248.3 771h0M1280.2 664.7h0M1264.4 744.6h0M1241.3 800.9h0M1274 608.8h0M1261.3 691.9h0M1287.3 596h0M1230.3 761.4h0M1263.6 745.9h0M1265.8 769h0M1282.7 676.3h0M1276.1 550.7h0M1265.3 758.4h0M1254.6 729.5h0M1234.5 793.8h0M1308.1 689.9h0M1248.5 785.6h0M1289.8 644.8h0M1292.2 650.7h0M1271 774.7h0M1246.3 798.2h0M1301.3 706h0M1234.5 781h0M1298.3 663.2h0M1201.8 773.5h0M1269 705.2h0M1244.9 800.8h0M1307.8 585.1h0M1269.7 636.5h0M1271.9 695.1h0M1300.7 626h0M1243.4 801.9h0M1302.1 705.7h0M1253.3 759.9h0M1238.5 803.3h0M1255.7 774.8h0M1257.7 774h0M1246.2 789.2h0M1265.1 653.7h0M1282.9 763.6h0M1301.1 660.7h0M1260.5 742.7h0M1249.1 788.9h0M1225.5 788.4h0M1235.3 796.7h0M1249.5 781.6h0M1307.8 664.1h0M1291.3 650.8h0M1304.2 633.7h0M1246.7 797h0M1231.3 774.6h0M1272.6 756.3h0M1276.7 671h0M1284.6 731.7h0M1292.7 694.2h0M1244.7 795.5h0M1278.2 682.4h0M1242.8 805.5h0M1263.1 747.6h0M1275.1 748.1h0M1244.2 799.7h0M1251.3 796.6h0M1291.4 579.2h0M1273.4 711.8h0M1248.7 787.8h0M1260.5 749.4h0M1245.6 790.2h0M1254.9 714.5h0M1256.4 736.7h0M1248.7 775.1h0M1231.9 770.4h0M1257.5 777.1h0M1246.7 786.6h0M1252.4 768.2h0M1226.8 761.1h0M1233.4 776.2h0M1285.1 623.3h0M1300.7 651.9h0M1302.8 688.4h0M1256.4 742.4h0M1299.2 700.5h0M1266.4 749.1h0M1259.3 789.7h0M1293.1 726.1h0M1229.6 768.7h0M1203.9 737.8h0M1262.4 753.1h0M1230.9 796.9h0M1253.9 752.5h0M1251.8 797.3h0M1304.3 566.8h0M1240.8 803.7h0M1290.6 704.4h0M1267.1 637.2h0M1221.8 717.2h0M1283.8 618.3h0M1314.6 737.3h0M1274.1 659.1h0M1250.1 798.8h0M1256.1 782.7h0M1272.9 597.1h0M1262.2 714.4h0M1253.1 784.9h0M1302.8 593.2h0M1252.7 770h0M1308.7 579.2h0M1293.6 679h0M1269.5 701.7h0M1261.3 763.5h0M1252.5 756.2h0M1264.7 726.9h0M1284.5 704h0M1261.9 770h0M1256.9 754.1h0M1284 638.4h0M1257.9 765.4h0M1298.3 628h0M1292.6 608.4h0M1253.2 794.3h0M1250.9 786.8h0M1261 732.7h0M1249.8 772.2h0M1254 791.9h0M1219.6 762.1h0M1264 746.6h0M1282 650.2h0M1270.2 686.9h0M1252.9 755.5h0M1282.7 775.6h0M1267.9 656.2h0M1267.6 686.2h0M1263.1 748h0M1310.7 581h0M1304.7 688.5h0M1266.5 705.9h0M1256.9 718.4h0M1300.2 619.4h0M1282 635.3h0M1289.6 651.8h0M1263.6 695.6h0M1252.7 782.5h0M1276.8 757.3h0M1271.6 625.7h0M1288.8 735.3h0M1280.2 642.8h0M1294.7 657.5h0M1241.1 800.3h0M1289.5 626.2h0M1289.9 723.4h0M1297 649.3h0M1258.2 736.1h0M1241.9 805.5h0M1278.3 707.5h0M1255.9 765.5h0M1270.2 755.8h0M1283.5 598.6h0M1258.5 724.8h0M1268.6 764.4h0M1278.3 635.1h0M1245.7 795.3h0M1252.8 784h0M1248.7 792.8h0M1265.2 697.1h0M1265 715.7h0M1239.8 800.6h0M1247.1 774.8h0M1265.4 711.7h0M1260.3 709.9h0M1266.9 725.1h0M1287.9 703.7h0M1267.1 759.2h0M1258.1 736.7h0M1281.4 675.5h0M1293.1 653.9h0M1249.7 768.5h0M1229.3 767.6h0M1251.9 790.4h0M1259.9 745.6h0M1264.8 699.9h0M1256 752.3h0M1261.6 708.9h0M1265.3 681.1h0M1257.5 684.5h0M1274.5 622.9h0M1254.2 785.6h0M1237.8 793.3h0M1254.2 795.3h0M1281.6 630.5h0M1289.2 570.5h0M1252.7 768h0M1291 692h0M1268 719h0M1272.2 700.9h0M1275.3 671.1h0M1263.6 765.6h0M1288.1 714.5h0M1281.8 730.5h0M1191.8 699.9h0M1270.5 747.8h0M1291.7 571.6h0M1271.7 647.7h0M1252.5 767.9h0M1266 707.2h0M1264.5 760h0M1260.7 741.1h0M1237.7 800.2h0M1269.8 731.8h0M1202.1 750.7h0M1252.8 754.9h0M1235.1 799.8h0M1313 615.9h0M1231 764.5h0M1283.9 710h0M1273.3 648.7h0M1236.7 799.8h0M1233.7 780.6h0M1285.9 626.5h0M1263.5 754.9h0M1258.9 762.2h0M1312.2 702.6h0M1257.6 749h0M1261.7 738.9h0M1256.6 764.9h0M1284.5 751.2h0M1166.2 706.1h0M1273.1 775.2h0M1261.6 695.2h0M1276.5 785.7h0M1249.1 760.4h0M1297.9 639.8h0M1250.9 788h0M1293 651.4h0M1335.4 660.8h0M1246.5 793.8h0M1245.9 804.5h0M1276 629.5h0M1293 708h0M1299.9 663h0M1297.7 701.8h0M1259.8 730.5h0M1296.4 706.1h0M1265.9 745.8h0M1295.8 725.9h0M1283.2 666.2h0M1265.7 694.8h0M1231.5 793.2h0M1228.9 792.1h0M1246.5 791.9h0M1229.1 756.6h0M1242.6 805.6h0M1253 779.5h0M1239 788h0M1255.9 770.7h0M1250.8 778.4h0M1228.6 778.7h0M1267.5 733.2h0M1230.5 799.8h0M1286.8 718.9h0M1236.1 794.3h0M1259.8 775.4h0M1247 798.4h0M1276.3 668.9h0M1240.6 796.6h0M1284 604h0M1228.2 777.8h0M1284.9 674.8h0M1285.3 744.6h0M1256.7 747.4h0M1310.6 661.7h0M1301.7 469.7h0M1261.9 736.3h0M1302.6 610.7h0M1263.7 782.4h0M1261.1 656.3h0M1241.3 802.4h0M1241.8 804.7h0M1277.1 655.7h0M1263.2 636.6h0M1268.6 727.7h0M1300 593.4h0M1294.5 697.6h0M1252 767.5h0M1256.8 743.8h0M1268 649h0M1256.6 771.6h0M1257.9 746.9h0M1314.6 541.3h0M1274.9 739.1h0M1275.6 647h0M1287.2 620.7h0M1273.9 731.4h0M1256.3 723.7h0M1282.3 771.6h0M1254.1 798.1h0M1291.5 639.5h0M1267.7 761h0M1277.9 574.1h0M1268.4 699.6h0M1238.5 798.5h0M1249.9 783.9h0M1217.4 751.3h0M1296.6 660.3h0M1266.9 664.1h0M1275.4 596.5h0M1237.7 791.9h0M1274.8 605.9h0M1249.2 789.3h0M1299.1 664.2h0M1266.7 704.7h0M1239.8 797.3h0M1276.1 667.8h0M1258.7 726.8h0M1240.1 792.7h0M1261.9 684.9h0M1295.6 726.7h0M1265.5 658.5h0M1312.6 677.5h0M1250.2 759.9h0M1244.6 800.7h0M1274.5 605.5h0M1281.1 587.9h0M1255.2 784.8h0M1276.6 645.5h0M1281.5 687.9h0M1253.9 716.5h0M1266.5 647.3h0M1298.6 726.9h0M1254 768.5h0M1278.4 687h0M1226.3 768.9h0M1281.6 683.6h0M1250.4 787.7h0M1202.1 684.6h0M1269.4 742.4h0M1252.5 775.9h0M1255.5 711.3h0M1268.4 755.8h0M1155.1 732.5h0M1287.1 680.6h0M1242.3 805.7h0M1256.4 726.9h0M1271.4 745.4h0M1301.2 651.1h0M1245.5 796.2h0M1266.7 758.6h0M1283.5 583.6h0M1283 665.6h0M1300.6 615.4h0M1257.6 760.1h0M1240.9 804.6h0M1271.6 737.9h0M1254.8 787.2h0M1301.2 679h0M1240.1 800.6h0M1286.2 726h0M1261 726.2h0M1318.3 614.5h0M1272.7 679.9h0M1258.9 787.1h0M1291 715.5h0M1264.1 722.3h0M1258.7 704.4h0M1287 764.9h0M1253.4 727h0M1274.7 721.4h0M1255.7 779.9h0M1272.3 691.3h0M1296.6 651.3h0M1242.7 805.1h0M1280.5 607.2h0M1311.5 645.6h0M1292 689.3h0M1270.3 626h0M1258.7 775.6h0M1275.6 689.3h0M1259.7 653.7h0M1270.7 758.3h0M1248.5 784.3h0M1271.2 658.2h0M1235.9 767.1h0M1274.4 745.3h0M1217.7 773.8h0M1260.3 742.8h0M1231.8 795h0M1301.6 729.4h0M1243 803.8h0M1252.6 768h0M1243.6 803.8h0M1316.5 586.6h0M1257.5 731.5h0M1263.4 710.2h0M1261.1 755h0M1284.7 718.4h0M1257.1 773.6h0M1302.5 718.3h0M1235.1 795.9h0M1264 740.1h0M1253.5 757.7h0M1266 691.6h0M1286.1 616.7h0M1250.2 792.3h0M1250.6 775.8h0M1243.5 804.4h0M1222.3 730.5h0M1259.4 766.7h0M1215.8 788h0M1279 705.3h0M1211 721.3h0M1301.7 661.2h0M1232.6 791.6h0M1268.3 655.7h0M1257.6 751.1h0M1312.3 695.6h0M1256.8 762.1h0M1234.5 801.4h0M1299.4 580h0M1321.5 689h0M1260.3 768.9h0M1267.7 737.8h0M1277 725.5h0M1279.3 683.3h0M1263.5 702.5h0M1277.7 756.8h0M1297.2 623.2h0M1254.9 781.7h0M1262.5 740.9h0M1244.1 797.6h0M1270.5 720.8h0M1223.1 777.5h0M1275.1 691h0M1260.9 675h0M1272.5 746.7h0M1243.3 804.2h0M1231.3 751.1h0M1190.8 748.6h0M1246.1 800.6h0M1248 794.5h0M1283.4 664.3h0M1240.3 800.5h0M1251.6 783h0M1255 785.1h0M1284.1 660.4h0M1270.7 744.7h0M1295.7 666.2h0M1304.4 714.7h0M1260.8 759.8h0M1287.8 710.9h0M1306.1 633.2h0M1261.9 738.6h0M1294 566.4h0M1258.2 764.8h0M1298.1 699.8h0M1255.2 767.6h0M1267.1 697.8h0M1263.4 653.3h0M1266.3 740.7h0M1197.1 684.9h0M1258.8 735.6h0M1285.5 728.9h0M1211.9 744.4h0M1264.4 755.2h0M1242.1 804.5h0M1254.2 776.9h0M1284.5 754.3h0M1312.2 563h0M1259.8 793.7h0M1237.6 797.9h0M1288.8 635.9h0M1300.5 625.2h0M1266 712h0M1260.5 716.2h0M1307.7 612.5h0M1263.5 772.2h0M1285.8 681.4h0M1246.6 799.3h0M1253.1 745.7h0M1251.8 795.5h0M1276.5 667.9h0M1260.9 791.5h0M1258.5 750.8h0M1294.5 737h0M1250.9 753h0M1266.7 732.9h0M1282.5 728.5h0M1309.5 468.1h0M1290.7 740.3h0M1278.1 636.8h0M1266.6 712.7h0M1252.5 770.5h0M1289.2 637.3h0M1263.7 780.1h0M1261.9 707.1h0M1263.1 748.3h0M1269.8 725.2h0M1261 714.2h0M1283.7 761.4h0M1288.9 723.1h0M1238.3 801.8h0M1293.2 608.8h0M1188 694.7h0M1270.9 675.7h0M1304.7 662.6h0M1261.8 715.7h0M1313.1 696.4h0M1301.6 727.9h0M1253.2 767.9h0M1237 792h0M1249.7 785.1h0M1250.5 763.6h0M1263 749h0M1232.7 753h0M1282 585.6h0M1279.2 604.5h0M1296.6 704.4h0M1254.4 764.2h0M1301.8 683.1h0M1243 804.1h0M1286.4 728.7h0M1244.8 801h0M1282 681.1h0M1268.7 701.9h0M1252.7 786.4h0M1223.1 799.9h0M1268.8 617.8h0M1293.5 645.6h0M1262.5 747.6h0M1265.3 665.4h0M1281.6 688h0M1244.2 802.1h0M1263.7 745.4h0M1316.6 677.8h0M1250.7 784.6h0M1239.3 797.1h0M1248.2 798.2h0M1241.3 802.4h0M1278.2 699.3h0M1231 781.3h0M1279.8 656.8h0M1272.6 725.1h0M1282.2 618h0M1249.8 777.9h0M1279.6 598.6h0M1267.6 650.2h0M1271.1 669h0M1269.9 749h0M1294.7 710.8h0M1305.7 528.7h0M1250.1 792.8h0M1270.4 640.7h0M1286.9 734.7h0M1235.5 794.3h0M1286.4 647.8h0M1316.5 529.8h0M1290.2 592.5h0M1260.6 711.3h0M1259.6 730.2h0M1297.4 710.4h0M1265.2 707.8h0M1256.3 730.9h0M1256.4 729.6h0M1276.6 705.2h0M1267.1 731.4h0M1241.8 803.6h0M1236.6 795.2h0M1255.8 737.8h0M1280 514h0M1306.3 592.5h0M1255.1 717.2h0M1267.8 712.9h0M1318 620.5h0M1232.5 753.7h0M1273 547.7h0M1213 736.1h0M1294 684h0M1241.5 805.4h0M1308 532.1h0M1282.5 666.9h0M1279.1 592.9h0M1208.3 755.6h0M1292 745.9h0M1293.2 596h0M1232.2 786h0M1280.7 689.4h0M1318.8 725.8h0M1251.4 784.4h0M1270.6 695.5h0M1259.3 743.5h0M1246 793.8h0M1223.6 744.5h0M1264.3 711.8h0M1272 635.8h0M1232.8 774h0M1289 718.7h0M1271.6 742.2h0M1250.1 755.3h0M1249.1 793.7h0M1293.5 704.1h0M1244.4 805.2h0M1240.7 800.7h0M1265.2 780h0M1256.1 753.6h0M1295.5 569.1h0M1299.7 757.3h0M1303.5 704h0M1274.2 664.9h0M1250 766.5h0M1257.3 748.7h0M1302.2 501.7h0M1266 647.9h0M1262.4 771.5h0M1263.4 688h0M1256.7 768.5h0M1234.5 793.9h0M1251.5 775.1h0M1225.6 749.5h0M1279.1 570.5h0M1260.4 773.7h0M1258 791.8h0M1278.7 706.3h0M1268 742.2h0M1273.2 583.2h0M1317.6 585.6h0M1180.8 704.5h0M1279.5 704.1h0M1263.6 745h0M1244.5 800.8h0M1255.9 757.9h0M1277.1 710h0M1259.7 710.1h0M1255.9 785.8h0M1206.7 675.7h0M1255.8 783.2h0M1237 792.4h0M1304.2 591.2h0M1284.9 546.7h0M1262.9 781.2h0M1279.9 706.7h0M1283.4 576.4h0M1239.2 801h0M1288 642.8h0M1225 739.2h0M1227.2 765.9h0M1300.4 734.8h0M1255.8 753.1h0M1262.1 751.4h0M1289.6 650.2h0M1291.9 656h0M1316 607.9h0M1296.4 667.8h0M1296.2 537.1h0M1272.5 717.1h0M1273.7 623.6h0M1316.8 581.3h0M1282.2 684.4h0M1299.5 636.8h0M1261.4 733.4h0M1215.3 772.4h0M1266.8 727.3h0M1260.7 727.4h0M1264.1 748.3h0M1229.5 770.1h0M1234.5 788.2h0M1252.3 788.3h0M1260.5 717.3h0M1242.2 805.2h0M1250.7 788.6h0M1264.8 642.7h0M1297.6 710.6h0M1225.6 771.6h0M1242.1 805.6h0M1259.6 768.5h0M1246.8 796.8h0M1287.6 701.7h0M1297.3 639.7h0M1305.5 710.8h0M1298.4 622.5h0M1312.1 704.5h0M1303.1 753.7h0M1258.2 781.9h0M1302.1 624.9h0M1260 716.7h0M1276.4 662.4h0M1264.1 697.2h0M1249.7 789.4h0M1269.4 621.7h0M1299.3 661h0M1249.4 770.3h0M1228.8 762.5h0M1310.7 663.3h0M1293.2 576.9h0M1292 664.8h0M1272.7 705.6h0M1237.2 794.7h0M1297.2 612.3h0M1279 718.8h0M1270.5 640h0M1291.7 561.4h0M1268.1 741h0M1276.4 645h0M1252.5 784.6h0M1257.2 796.7h0M1209.6 785.6h0M1268.2 717.8h0M1310.4 589.7h0M1321.4 640.5h0M1241.8 804.2h0M1299.5 625h0M1271.7 684.5h0M1299.6 696h0M1299.9 492.8h0M1271.4 658.4h0M1297.1 628.1h0M1261.3 771h0M1235.2 759.8h0M1276.7 749.2h0M1270.4 732.1h0M1209.8 742.8h0M1244.8 795.7h0M1249.5 771.4h0M1257.9 791.4h0M1256.8 738.3h0M1249.5 777h0M1285.4 737h0M1276.6 654.6h0M1309 645.5h0M1283.6 634.9h0M1256.4 763.4h0M1302.5 661.3h0M1279.5 659.3h0M1296.5 656.5h0M1289.8 738h0M1280.8 629.2h0M1297 625h0M1281.5 745.9h0M1226.4 779.6h0M1250.4 749.7h0M1313.8 657.6h0M1251 780.8h0M1281.8 754.1h0M1275.8 681.2h0M1241.9 804.2h0M1258.2 737.5h0M1272.2 618.6h0M1300 626.5h0M1278.8 749.3h0M1277.3 736.6h0M1273.6 637.4h0M1290.6 777.2h0M1253.1 747.3h0M1278.5 719.8h0M1248.3 779.2h0M1297.1 629.5h0M1274.5 633.8h0M1270.4 673.5h0M1267.4 605.8h0M1268.7 664.8h0M1263.1 736.7h0M1250 776.6h0M1248.9 794.4h0M1261.5 758.7h0M1290.3 722h0M1238.9 802h0M1235.3 785.6h0M1264.7 776.8h0M1262.1 774.3h0M1262.5 682.3h0M1276.4 630.1h0M1236.3 792h0M1277.2 666.9h0M1240.3 803.7h0M1266.6 709.8h0M1242.9 805.1h0M1287.8 748.1h0M1212.9 779.9h0M1265.7 768.8h0M1294.9 697.3h0M1274 673h0M1250.4 781h0M1286.5 685.4h0M1308.7 651.6h0M1259.2 714.5h0M1230.5 769.6h0M1230.7 779.7h0M1273.5 761.2h0M1281.4 679.4h0M1254.9 753.7h0M1312.9 584.1h0M1297.7 519.4h0M1250.4 780.8h0M1267.9 754.4h0M1261.2 798h0M1253.8 751.8h0M1261.3 692.7h0M1256 763.8h0M1283.1 623.1h0M1308.7 724.5h0M1248.9 788.1h0M1200.2 744.4h0M1249.5 786.3h0M1293.2 624.4h0M1258 749.7h0M1294.3 618.2h0M1241.9 804.4h0M1295.1 776.6h0M1205.4 774h0M1293.2 737.4h0M1251.9 783.3h0M1278.1 636.7h0M1288.3 572.9h0M1279.8 550.9h0M1245.4 799h0M1293.6 671.3h0M1256.3 745.6h0M1269.5 743h0M1297.8 642h0M1248.5 787.6h0M1222.5 701.7h0M1312.2 595.4h0M1237.3 788.4h0M1257.6 717.3h0M1270.5 702.2h0M1258.9 741.6h0M1305.6 680.4h0M1278.7 652.3h0M1284.4 700.4h0M1262 650.5h0M1205.2 746h0M1284.1 706.4h0M1289.6 667.6h0M1271.8 706.2h0M1253.6 739.2h0M1253.8 759.2h0M1257.3 777.8h0M1257.6 703.3h0M1291.9 742.6h0M1283.9 739.2h0M1249.5 776.1h0M1285.3 737h0M1268.4 717.2h0M1255.7 759.2h0M1225.5 787.9h0M1261.6 700.8h0M1255.6 745.7h0M1256.2 707.4h0M1237.8 797.3h0M1236.5 781.7h0M1196.9 759h0M1244.8 796.3h0M1268.2 764h0M1197.7 719.7h0M1241 801.8h0M1264.5 745.1h0M1273.3 790.6h0M1243.3 803.9h0M1263.2 763.7h0M1256.7 713h0M1275.9 666.7h0M1252.3 788h0M1196.6 740.9h0M1284.2 599.2h0M1252.9 742h0M1250.6 763.3h0M1270.7 667.9h0M1266.3 766h0M1294.8 684.3h0M1262.2 740.7h0M1239.1 791.3h0M1241 803.6h0M1257.1 770.5h0M1284.7 726.4h0M1300.5 522.7h0M1294.2 704h0M1279.4 686.3h0M1299.9 523.9h0M1255.6 764.9h0M1263.5 713h0M1277.1 764.2h0M1259.4 767.4h0M1262.3 697.7h0M1307 557.4h0M1262.3 786.8h0M1203.3 760.1h0M1265.3 770.2h0M1258.2 722.3h0M1262.1 698.9h0M1280.3 711.1h0M1244.1 800h0M1266.4 749.6h0M1256.3 755.7h0M1270.1 657.5h0M1240.9 804.2h0M1310.1 642.1h0M1266.5 679.2h0M1249.5 783.2h0M1282.7 750.7h0M1278.3 760.5h0M1247.4 792.7h0M1265.3 794.1h0M1235.6 796h0M1210 781h0M1269.1 758.4h0M1270.3 779h0M1276.3 664.9h0M1250.2 788.6h0M1227.7 717.5h0M1282.2 702.8h0M1242.7 805.4h0M1278.1 722.3h0M1260.1 745.1h0M1239.4 795.3h0M1234.3 782.9h0M1276.8 659.7h0M1237 784.3h0M1270.8 657.9h0M1256.1 791.8h0M1257.9 791.9h0M1274.6 759.1h0M1256.5 760.6h0M1259.1 737.6h0M1238.4 789.2h0M1250.3 771.4h0M1249.8 773.6h0M1269.5 694.6h0M1278.3 709.6h0M1224.8 782.1h0M1259.3 716.4h0M1232 792.8h0M1239.3 795h0M1288.7 777.1h0M1275.8 730.9h0M1261.5 720.6h0M1266.6 647.9h0M1280.5 701.4h0M1253.4 746.7h0M1290.8 710.2h0M1272.8 753.1h0M1252 770.4h0M1298.9 726.5h0M1286.1 678.5h0M1306 668.2h0M1269.4 677.9h0M1261.6 754.3h0M1248.7 782.4h0M1241 803.8h0M1254.7 758.7h0M1261.5 730.2h0M1240.3 801.3h0M1275.5 701h0M1324.6 701.5h0M1275.9 737.4h0M1302.4 633.8h0M1311.6 588.6h0M1292.5 668h0M1278.3 727h0M1257.9 732.1h0M1241.5 802.8h0M1260.7 696.5h0M1281.1 762.1h0M1258.6 768.5h0M1220.2 712.2h0M1272.8 550h0M1259.5 782.9h0M1221.2 761.6h0M1216.3 772.3h0M1225.3 761h0M1175.8 688.3h0M1200 734.7h0M1186.8 711h0M1193.9 669.7h0M1168.7 728.5h0M1189.2 749.9h0M1216.2 767.6h0M1207.2 738.1h0M1190.9 708.7h0M1205.2 728h0M1197.8 706.5h0M1151.2 647.5h0M1163.5 638.4h0M1143.9 677.9h0M1218.1 730.8h0M1194.7 756.2h0M1197.9 733.5h0M1181.2 723.6h0M1231.9 796.9h0M1142.3 684.4h0M1178.6 699.5h0M1193.4 652.5h0M1166 717.5h0M1206 739.2h0M1214.8 772.6h0M1177.7 653.1h0M1189.9 698.4h0M1193 625.1h0M1173 714.1h0M1200.6 733.3h0M1196.4 733.8h0M1216.2 747h0M1227.2 769h0M1219.1 732h0M1207.5 748.2h0M1209.6 751.9h0M1206.7 745.6h0M1209.4 725.8h0M1179.9 687.7h0M1192.7 713.5h0M1172.4 721.2h0M1159.8 708.8h0M1178.2 674.8h0M1143.5 636.7h0M1177.6 649.8h0M1218 743.5h0M1151.8 713h0M1212 719.7h0M1167 689.2h0M1169.1 625.3h0M1192.1 738.3h0M1184.6 674.9h0M1214.4 736.7h0M1212.9 768.6h0M1195.5 660.6h0M1202.4 720h0M1220.9 760.1h0M1215.1 773h0M1227.4 786.5h0M1206.3 717.1h0M1179 687h0M1207.6 700.6h0M1228.5 782.3h0M1212.9 749.6h0M1220.3 749.7h0M1188.3 696.3h0M1196.3 684.6h0M1208.4 742.5h0M1205.8 730.1h0M1221.5 787.3h0M1229.1 789.3h0M1147.6 644.5h0M1214.6 751h0M1194.8 680.7h0M1198.1 716.6h0M1160.9 670.4h0M1179.5 707.5h0M1169.9 679h0M1214.5 733.7h0M1206.6 723.6h0M1157.7 692.7h0M1207.6 711h0M1160.6 716.9h0M1174.5 716.3h0M1222 770.1h0M1200.3 725.2h0M1187.9 696h0M1168.7 706.8h0M1172 732.5h0M1223.7 765.9h0M1228.3 777.2h0M1193.1 725.3h0M1191.1 712.4h0M1173.3 663.1h0M1184.8 705.6h0M1213.6 709.7h0M1212.2 716.2h0M1193.3 671.8h0M1201.1 762.1h0M1175.2 706h0M1182.7 711.3h0M1179.6 675.1h0M1189.2 717.1h0M1183.2 660.6h0M1196.3 675.7h0M1207.2 721.6h0M1200.8 700.3h0M1231.7 795.6h0M1181 724.3h0M1232.3 776.6h0M1217.2 752.4h0M912.8 660.7h0M941.5 668.4h0M996.2 664.5h0M1036.6 673.5h0M1075.7 668.4h0M1086.1 699.3h0M1090 734h0M1112.2 727.6h0M1117.4 690.3h0M1126.5 678.7h0M1127.8 713.4h0M1130.4 642.7h0M1499.2 641.4h0M1453.6 686.4h0M1406.7 660.7h0M1388.4 758.4h0M1376.7 642.7h0M1375.4 654.3h0M1198.2 587.4h0M1207.3 609.2h0M1187.8 618.2h0M1186.5 627.2h0M1177.3 635h0M1298.3 309.7h0M1307.2 325.6h0M1283.4 344.4h0M1274.5 384.5h0M1307.2 416.7h0M1293.3 425.7h0M1300.8 438.6h0M1307.7 437h0M1292.3 445h0M1294 449h0" stroke="#595959" stroke-width="3.9" stroke-linecap="round" fill="none"/>
<path d="M1325 637.9h0M1319 598.4h0M1321.2 567h0M1325 556h0M1339.9 622.7h0M1336 490h0M1324.4 541.1h0M1320.6 606.7h0M1331.3 543.3h0M1323.7 625.1h0M1329.3 589.3h0M1327.6 601.4h0M1325.2 635.5h0M1322.2 530.6h0M1319.5 609.8h0M1351.4 536.4h0M1326.6 488.4h0M1341.5 626.2h0M1355.1 488.1h0M1333.2 525.1h0M1328.5 582.5h0M1320.9 624.5h0M1323.4 513.7h0M1359.9 538.1h0M1338.5 495.3h0M1322.2 620.2h0M1324.3 602.7h0M1330 537.3h0M1324.8 517.8h0M1324.5 555.8h0M1319.1 593.3h0M1320.6 541.6h0M1323.1 598.3h0M1319.1 555.6h0M1338.9 515.2h0M1341.5 586h0M1326.4 592.7h0M1322.2 558.7h0M1326.8 616.3h0M1321.5 602.8h0M1326.8 526.2h0M1329.6 624h0M1329.6 551.3h0M1328.1 534.5h0M1319.9 553.5h0M1319.8 587.8h0M1332.3 614h0M1326.8 569h0M1319 617.2h0M1318.8 588.5h0M1320.2 552.3h0M1330 621h0M1332.4 554.8h0M1327.8 554h0M1331.2 613.5h0M1323.2 589.2h0M1327 596.7h0M1325.6 626.8h0M1335.9 564.1h0M1327.9 512.6h0M1329.1 562.3h0M1321.3 560.6h0M1319.5 608.2h0M1325.9 563.7h0M1330 457.3h0M1326.4 606.3h0M1334 258.7h0M1340.9 270.6h0M1364.7 334h0M1322.1 380.6h0M1329.5 396.4h0M1332 398h0M1336.4 424.2h0M1337 444h0M1359.8 481.9h0M1338.9 490.9h0M1378 532.1h0M1363.7 533.4h0M1367.6 557.8h0M1350.6 553.9h0M1359.8 561.7h0M1388.4 597.7h0M1366.3 629.8h0M1359.8 587.4h0" stroke="#cb2626" stroke-width="3.9" stroke-linecap="round" fill="none"/>
<path d="M1041.6 176.9h0M1162.4 604.1h0" stroke="#2ecc71" stroke-width="3.9" stroke-linecap="round" fill="none"/>
<line x1="1166.3" y1="146.2" x2="1166.3" y2="837.1" stroke="#2ca02c" stroke-width="1.2" stroke-dasharray="5 4"/>
<line x1="1318.7" y1="146.2" x2="1318.7" y2="837.1" stroke="#2ca02c" stroke-width="1.2" stroke-dasharray="5 4"/>
<line x1="880.5" y1="638.7" x2="1605.3" y2="638.7" stroke="#2ca02c" stroke-width="1.2" stroke-dasharray="5 4"/>
</g>
<rect x="880.5" y="146.2" width="724.8" height="690.9000000000001" fill="none" stroke="#444" stroke-width="1.2"/>
<line x1="981.9" y1="837.1" x2="981.9" y2="841.5" stroke="#444" stroke-width="1.2"/>
<text x="981.9" y="856.6" font-size="14.4" fill="#4d4d4d" text-anchor="middle">-2</text>
<line x1="1112.2" y1="837.1" x2="1112.2" y2="841.5" stroke="#444" stroke-width="1.2"/>
<text x="1112.2" y="856.6" font-size="14.4" fill="#4d4d4d" text-anchor="middle">-1</text>
<line x1="1242.5" y1="837.1" x2="1242.5" y2="841.5" stroke="#444" stroke-width="1.2"/>
<text x="1242.5" y="856.6" font-size="14.4" fill="#4d4d4d" text-anchor="middle">0</text>
<line x1="1372.8" y1="837.1" x2="1372.8" y2="841.5" stroke="#444" stroke-width="1.2"/>
<text x="1372.8" y="856.6" font-size="14.4" fill="#4d4d4d" text-anchor="middle">1</text>
<line x1="1503.1" y1="837.1" x2="1503.1" y2="841.5" stroke="#444" stroke-width="1.2"/>
<text x="1503.1" y="856.6" font-size="14.4" fill="#4d4d4d" text-anchor="middle">2</text>
<line x1="876.1" y1="806" x2="880.5" y2="806" stroke="#444" stroke-width="1.2"/>
<text x="871.6" y="811.1" font-size="14.4" fill="#4d4d4d" text-anchor="end">0</text>
<line x1="876.1" y1="677.4" x2="880.5" y2="677.4" stroke="#444" stroke-width="1.2"/>
<text x="871.6" y="682.5" font-size="14.4" fill="#4d4d4d" text-anchor="end">1</text>
<line x1="876.1" y1="548.8" x2="880.5" y2="548.8" stroke="#444" stroke-width="1.2"/>
<text x="871.6" y="553.9" font-size="14.4" fill="#4d4d4d" text-anchor="end">2</text>
<line x1="876.1" y1="420.2" x2="880.5" y2="420.2" stroke="#444" stroke-width="1.2"/>
<text x="871.6" y="425.3" font-size="14.4" fill="#4d4d4d" text-anchor="end">3</text>
<line x1="876.1" y1="291.6" x2="880.5" y2="291.6" stroke="#444" stroke-width="1.2"/>
<text x="871.6" y="296.7" font-size="14.4" fill="#4d4d4d" text-anchor="end">4</text>
<line x1="876.1" y1="163" x2="880.5" y2="163" stroke="#444" stroke-width="1.2"/>
<text x="871.6" y="168.1" font-size="14.4" fill="#4d4d4d" text-anchor="end">5</text>
<text x="1242.8" y="876" font-size="18.4" fill="#000" text-anchor="middle">log2(Fold Change)</text>
<text x="849.8" y="492" font-size="17.6" fill="#000" text-anchor="middle" transform="rotate(-90 849.8 492)">-log10(p_value)</text>
<circle cx="1285.4" cy="49.6" r="2.2" fill="#cb2626"/>
<text x="1303.7" y="55.6" font-size="16.8" fill="#000">up_regulated genes (87)</text>
<circle cx="1285.4" cy="77.1" r="2.2" fill="#595959"/>
<text x="1303.7" y="83.1" font-size="16.8" fill="#000">not differential expressed (10830)</text>
<circle cx="1285.4" cy="104.6" r="2.2" fill="#2ecc71"/>
<text x="1303.7" y="110.6" font-size="16.8" fill="#000">down_regulated genes (2)</text>
<text transform="translate(22.2 936.1) scale(0.79 1)" font-size="31.4">C</text>
<g shape-rendering="crispEdges">
<rect x="72" y="953" width="318" height="11" fill="#00d8e0"/>
<rect x="390" y="953" width="318" height="11" fill="#ff9289"/>
<rect x="72" y="967" width="636" height="818" fill="#000"/>
<rect x="72" y="967" width="63" height="7" fill="#005900"/>
<rect x="72" y="974" width="63" height="7" fill="#003300"/>
<rect x="72" y="981" width="63" height="21" fill="#006600"/>
<rect x="72" y="1002" width="63" height="7" fill="#260000"/>
<rect x="72" y="1009" width="63" height="14" fill="#400000"/>
<rect x="72" y="1030" width="63" height="7" fill="#260000"/>
<rect x="72" y="1037" width="63" height="7" fill="#002600"/>
<rect x="72" y="1044" width="63" height="7" fill="#990000"/>
<rect x="72" y="1051" width="63" height="7" fill="#330000"/>
<rect x="72" y="1058" width="63" height="7" fill="#260000"/>
<rect x="72" y="1065" width="63" height="7" fill="#590000"/>
<rect x="72" y="1072" width="63" height="14" fill="#800000"/>
<rect x="72" y="1086" width="63" height="7" fill="#330000"/>
<rect x="72" y="1093" width="63" height="7" fill="#1a0000"/>
<rect x="72" y="1100" width="63" height="7" fill="#4c0000"/>
<rect x="72" y="1114" width="63" height="7" fill="#400000"/>
<rect x="72" y="1121" width="63" height="7" fill="#730000"/>
<rect x="72" y="1128" width="63" height="7" fill="#4c0000"/>
<rect x="72" y="1135" width="63" height="7" fill="#cc0000"/>
<rect x="72" y="1142" width="63" height="7" fill="#e60000"/>
<rect x="72" y="1149" width="63" height="7" fill="#bf0000"/>
<rect x="72" y="1156" width="63" height="7" fill="#990000"/>
<rect x="72" y="1163" width="63" height="7" fill="#730000"/>
<rect x="72" y="1170" width="63" height="7" fill="#a60000"/>
<rect x="72" y="1177" width="63" height="7" fill="#8c0000"/>
<rect x="72" y="1184" width="63" height="14" fill="#730000"/>
<rect x="72" y="1198" width="63" height="7" fill="#800000"/>
<rect x="72" y="1205" width="63" height="14" fill="#8c0000"/>
<rect x="72" y="1219" width="63" height="7" fill="#b20000"/>
<rect x="72" y="1226" width="63" height="7" fill="#4c0000"/>
<rect x="72" y="1240" width="63" height="7" fill="#400000"/>
<rect x="72" y="1247" width="63" height="7" fill="#800000"/>
<rect x="72" y="1254" width="63" height="7" fill="#400000"/>
<rect x="72" y="1261" width="63" height="7" fill="#260000"/>
<rect x="72" y="1268" width="63" height="7" fill="#330000"/>
<rect x="72" y="1275" width="63" height="7" fill="#b20000"/>
<rect x="72" y="1282" width="63" height="7" fill="#330000"/>
<rect x="72" y="1289" width="63" height="7" fill="#8c0000"/>
<rect x="72" y="1296" width="63" height="7" fill="#800000"/>
<rect x="72" y="1303" width="63" height="14" fill="#660000"/>
<rect x="72" y="1317" width="63" height="7" fill="#8c0000"/>
<rect x="72" y="1324" width="63" height="7" fill="#730000"/>
<rect x="72" y="1331" width="63" height="7" fill="#800000"/>
<rect x="72" y="1345" width="63" height="7" fill="#001a00"/>
<rect x="72" y="1352" width="63" height="7" fill="#330000"/>
<rect x="72" y="1359" width="63" height="7" fill="#590000"/>
<rect x="72" y="1366" width="63" height="7" fill="#260000"/>
<rect x="72" y="1373" width="63" height="7" fill="#330000"/>
<rect x="72" y="1380" width="63" height="14" fill="#1a0000"/>
<rect x="72" y="1394" width="63" height="7" fill="#004000"/>
<rect x="72" y="1401" width="63" height="7" fill="#001a00"/>
<rect x="72" y="1408" width="63" height="14" fill="#8c0000"/>
<rect x="72" y="1422" width="63" height="7" fill="#800000"/>
<rect x="72" y="1429" width="63" height="14" fill="#660000"/>
<rect x="72" y="1443" width="63" height="7" fill="#800000"/>
<rect x="72" y="1450" width="63" height="14" fill="#a60000"/>
<rect x="72" y="1464" width="63" height="7" fill="#590000"/>
<rect x="72" y="1471" width="63" height="7" fill="#660000"/>
<rect x="72" y="1478" width="63" height="7" fill="#800000"/>
<rect x="72" y="1485" width="63" height="7" fill="#bf0000"/>
<rect x="72" y="1492" width="63" height="7" fill="#8c0000"/>
<rect x="72" y="1499" width="63" height="7" fill="#4c0000"/>
<rect x="72" y="1506" width="63" height="7" fill="#400000"/>
<rect x="72" y="1513" width="63" height="7" fill="#260000"/>
<rect x="72" y="1520" width="63" height="14" fill="#330000"/>
<rect x="72" y="1534" width="63" height="7" fill="#660000"/>
<rect x="72" y="1541" width="63" height="7" fill="#400000"/>
<rect x="72" y="1548" width="63" height="6" fill="#800000"/>
<rect x="72" y="1554" width="63" height="14" fill="#8c0000"/>
<rect x="72" y="1568" width="63" height="7" fill="#730000"/>
<rect x="72" y="1575" width="63" height="7" fill="#b20000"/>
<rect x="72" y="1582" width="63" height="7" fill="#400000"/>
<rect x="72" y="1589" width="63" height="7" fill="#730000"/>
<rect x="72" y="1596" width="63" height="7" fill="#a60000"/>
<rect x="72" y="1603" width="63" height="7" fill="#cc0000"/>
<rect x="72" y="1610" width="63" height="7" fill="#800000"/>
<rect x="72" y="1617" width="63" height="7" fill="#990000"/>
<rect x="72" y="1624" width="63" height="7" fill="#4c0000"/>
<rect x="72" y="1631" width="63" height="7" fill="#8c0000"/>
<rect x="72" y="1638" width="63" height="7" fill="#660000"/>
<rect x="72" y="1645" width="63" height="7" fill="#990000"/>
<rect x="72" y="1652" width="63" height="7" fill="#a60000"/>
<rect x="72" y="1659" width="63" height="7" fill="#cc0000"/>
<rect x="72" y="1666" width="63" height="14" fill="#a60000"/>
<rect x="72" y="1680" width="63" height="7" fill="#990000"/>
<rect x="72" y="1687" width="63" height="7" fill="#bf0000"/>
<rect x="72" y="1694" width="63" height="7" fill="#ff0000"/>
<rect x="72" y="1701" width="63" height="7" fill="#e60000"/>
<rect x="72" y="1708" width="63" height="14" fill="#cc0000"/>
<rect x="72" y="1722" width="63" height="7" fill="#a60000"/>
<rect x="72" y="1729" width="63" height="21" fill="#990000"/>
<rect x="72" y="1750" width="63" height="7" fill="#a60000"/>
<rect x="72" y="1757" width="63" height="7" fill="#800000"/>
<rect x="72" y="1764" width="63" height="7" fill="#b20000"/>
<rect x="72" y="1771" width="63" height="7" fill="#cc0000"/>
<rect x="72" y="1778" width="63" height="7" fill="#bf0000"/>
<rect x="135" y="967" width="64" height="7" fill="#004c00"/>
<rect x="135" y="974" width="64" height="28" fill="#005900"/>
<rect x="135" y="1009" width="64" height="7" fill="#001a00"/>
<rect x="135" y="1016" width="64" height="7" fill="#002600"/>
<rect x="135" y="1023" width="64" height="7" fill="#400000"/>
<rect x="135" y="1030" width="64" height="7" fill="#0d0000"/>
<rect x="135" y="1037" width="64" height="7" fill="#260000"/>
<rect x="135" y="1044" width="64" height="7" fill="#8c0000"/>
<rect x="135" y="1051" width="64" height="7" fill="#cc0000"/>
<rect x="135" y="1058" width="64" height="7" fill="#8c0000"/>
<rect x="135" y="1065" width="64" height="7" fill="#990000"/>
<rect x="135" y="1072" width="64" height="7" fill="#8c0000"/>
<rect x="135" y="1079" width="64" height="7" fill="#730000"/>
<rect x="135" y="1086" width="64" height="14" fill="#8c0000"/>
<rect x="135" y="1100" width="64" height="7" fill="#730000"/>
<rect x="135" y="1107" width="64" height="7" fill="#8c0000"/>
<rect x="135" y="1114" width="64" height="7" fill="#660000"/>
<rect x="135" y="1121" width="64" height="14" fill="#990000"/>
<rect x="135" y="1135" width="64" height="7" fill="#330000"/>
<rect x="135" y="1142" width="64" height="7" fill="#002600"/>
<rect x="135" y="1149" width="64" height="7" fill="#1a0000"/>
<rect x="135" y="1163" width="64" height="7" fill="#1a0000"/>
<rect x="135" y="1170" width="64" height="14" fill="#260000"/>
<rect x="135" y="1191" width="64" height="7" fill="#003300"/>
<rect x="135" y="1198" width="64" height="7" fill="#4c0000"/>
<rect x="135" y="1212" width="64" height="7" fill="#bf0000"/>
<rect x="135" y="1219" width="64" height="7" fill="#990000"/>
<rect x="135" y="1226" width="64" height="7" fill="#8c0000"/>
<rect x="135" y="1233" width="64" height="7" fill="#e60000"/>
<rect x="135" y="1240" width="64" height="7" fill="#a60000"/>
<rect x="135" y="1247" width="64" height="7" fill="#1a0000"/>
<rect x="135" y="1254" width="64" height="14" fill="#990000"/>
<rect x="135" y="1268" width="64" height="7" fill="#590000"/>
<rect x="135" y="1275" width="64" height="7" fill="#330000"/>
<rect x="135" y="1282" width="64" height="7" fill="#b20000"/>
<rect x="135" y="1289" width="64" height="14" fill="#800000"/>
<rect x="135" y="1303" width="64" height="14" fill="#8c0000"/>
<rect x="135" y="1317" width="64" height="14" fill="#730000"/>
<rect x="135" y="1331" width="64" height="7" fill="#8c0000"/>
<rect x="135" y="1338" width="64" height="14" fill="#990000"/>
<rect x="135" y="1352" width="64" height="7" fill="#e60000"/>
<rect x="135" y="1359" width="64" height="14" fill="#bf0000"/>
<rect x="135" y="1373" width="64" height="28" fill="#330000"/>
<rect x="135" y="1401" width="64" height="14" fill="#660000"/>
<rect x="135" y="1415" width="64" height="7" fill="#a60000"/>
<rect x="135" y="1422" width="64" height="7" fill="#660000"/>
<rect x="135" y="1429" width="64" height="7" fill="#800000"/>
<rect x="135" y="1436" width="64" height="7" fill="#b20000"/>
<rect x="135" y="1443" width="64" height="7" fill="#330000"/>
<rect x="135" y="1450" width="64" height="14" fill="#4c0000"/>
<rect x="135" y="1464" width="64" height="7" fill="#330000"/>
<rect x="135" y="1471" width="64" height="7" fill="#4c0000"/>
<rect x="135" y="1478" width="64" height="21" fill="#400000"/>
<rect x="135" y="1499" width="64" height="14" fill="#a60000"/>
<rect x="135" y="1513" width="64" height="7" fill="#730000"/>
<rect x="135" y="1527" width="64" height="7" fill="#400000"/>
<rect x="135" y="1534" width="64" height="7" fill="#660000"/>
<rect x="135" y="1541" width="64" height="7" fill="#330000"/>
<rect x="135" y="1548" width="64" height="6" fill="#400000"/>
<rect x="135" y="1554" width="64" height="14" fill="#1a0000"/>
<rect x="135" y="1568" width="64" height="7" fill="#330000"/>
<rect x="135" y="1575" width="64" height="7" fill="#001a00"/>
<rect x="135" y="1582" width="64" height="7" fill="#330000"/>
<rect x="135" y="1596" width="64" height="7" fill="#660000"/>
<rect x="135" y="1610" width="64" height="7" fill="#cc0000"/>
<rect x="135" y="1617" width="64" height="7" fill="#8c0000"/>
<rect x="135" y="1624" width="64" height="7" fill="#990000"/>
<rect x="135" y="1631" width="64" height="14" fill="#590000"/>
<rect x="135" y="1645" width="64" height="14" fill="#660000"/>
<rect x="135" y="1659" width="64" height="7" fill="#8c0000"/>
<rect x="135" y="1666" width="64" height="7" fill="#4c0000"/>
<rect x="135" y="1673" width="64" height="7" fill="#590000"/>
<rect x="135" y="1680" width="64" height="7" fill="#730000"/>
<rect x="135" y="1687" width="64" height="7" fill="#400000"/>
<rect x="135" y="1694" width="64" height="7" fill="#590000"/>
<rect x="135" y="1701" width="64" height="7" fill="#1a0000"/>
<rect x="135" y="1708" width="64" height="7" fill="#800000"/>
<rect x="135" y="1715" width="64" height="7" fill="#660000"/>
<rect x="135" y="1722" width="64" height="14" fill="#1a0000"/>
<rect x="135" y="1743" width="64" height="7" fill="#730000"/>
<rect x="135" y="1750" width="64" height="7" fill="#260000"/>
<rect x="135" y="1757" width="64" height="7" fill="#590000"/>
<rect x="135" y="1764" width="64" height="7" fill="#4c0000"/>
<rect x="135" y="1771" width="64" height="14" fill="#260000"/>
<rect x="199" y="967" width="64" height="7" fill="#004000"/>
<rect x="199" y="974" width="64" height="7" fill="#1a0000"/>
<rect x="199" y="981" width="64" height="7" fill="#005900"/>
<rect x="199" y="988" width="64" height="7" fill="#004c00"/>
<rect x="199" y="995" width="64" height="7" fill="#006600"/>
<rect x="199" y="1002" width="64" height="7" fill="#b20000"/>
<rect x="199" y="1009" width="64" height="7" fill="#400000"/>
<rect x="199" y="1016" width="64" height="7" fill="#001a00"/>
<rect x="199" y="1030" width="64" height="7" fill="#590000"/>
<rect x="199" y="1037" width="64" height="7" fill="#800000"/>
<rect x="199" y="1051" width="64" height="7" fill="#660000"/>
<rect x="199" y="1058" width="64" height="7" fill="#1a0000"/>
<rect x="199" y="1065" width="64" height="7" fill="#4c0000"/>
<rect x="199" y="1072" width="64" height="21" fill="#590000"/>
<rect x="199" y="1093" width="64" height="7" fill="#330000"/>
<rect x="199" y="1100" width="64" height="7" fill="#800000"/>
<rect x="199" y="1107" width="64" height="14" fill="#8c0000"/>
<rect x="199" y="1121" width="64" height="7" fill="#260000"/>
<rect x="199" y="1128" width="64" height="7" fill="#4c0000"/>
<rect x="199" y="1135" width="64" height="7" fill="#004c00"/>
<rect x="199" y="1142" width="64" height="7" fill="#000d00"/>
<rect x="199" y="1149" width="64" height="7" fill="#590000"/>
<rect x="199" y="1156" width="64" height="7" fill="#990000"/>
<rect x="199" y="1163" width="64" height="7" fill="#a60000"/>
<rect x="199" y="1170" width="64" height="7" fill="#660000"/>
<rect x="199" y="1177" width="64" height="7" fill="#590000"/>
<rect x="199" y="1184" width="64" height="7" fill="#800000"/>
<rect x="199" y="1191" width="64" height="7" fill="#8c0000"/>
<rect x="199" y="1198" width="64" height="7" fill="#4c0000"/>
<rect x="199" y="1205" width="64" height="7" fill="#1a0000"/>
<rect x="199" y="1212" width="64" height="14" fill="#004c00"/>
<rect x="199" y="1226" width="64" height="7" fill="#330000"/>
<rect x="199" y="1233" width="64" height="7" fill="#1a0000"/>
<rect x="199" y="1240" width="64" height="7" fill="#003300"/>
<rect x="199" y="1247" width="64" height="7" fill="#330000"/>
<rect x="199" y="1254" width="64" height="7" fill="#400000"/>
<rect x="199" y="1261" width="64" height="7" fill="#590000"/>
<rect x="199" y="1268" width="64" height="7" fill="#4c0000"/>
<rect x="199" y="1275" width="64" height="7" fill="#1a0000"/>
<rect x="199" y="1282" width="64" height="7" fill="#590000"/>
<rect x="199" y="1289" width="64" height="7" fill="#800000"/>
<rect x="199" y="1296" width="64" height="7" fill="#4c0000"/>
<rect x="199" y="1303" width="64" height="7" fill="#a60000"/>
<rect x="199" y="1310" width="64" height="7" fill="#bf0000"/>
<rect x="199" y="1317" width="64" height="14" fill="#990000"/>
<rect x="199" y="1331" width="64" height="7" fill="#a60000"/>
<rect x="199" y="1338" width="64" height="14" fill="#bf0000"/>
<rect x="199" y="1352" width="64" height="7" fill="#330000"/>
<rect x="199" y="1359" width="64" height="7" fill="#4c0000"/>
<rect x="199" y="1366" width="64" height="7" fill="#730000"/>
<rect x="199" y="1373" width="64" height="7" fill="#a60000"/>
<rect x="199" y="1380" width="64" height="7" fill="#cc0000"/>
<rect x="199" y="1387" width="64" height="7" fill="#b20000"/>
<rect x="199" y="1394" width="64" height="7" fill="#ff0000"/>
<rect x="199" y="1401" width="64" height="7" fill="#cc0000"/>
<rect x="199" y="1408" width="64" height="7" fill="#800000"/>
<rect x="199" y="1415" width="64" height="7" fill="#730000"/>
<rect x="199" y="1422" width="64" height="7" fill="#800000"/>
<rect x="199" y="1429" width="64" height="7" fill="#b20000"/>
<rect x="199" y="1436" width="64" height="7" fill="#8c0000"/>
<rect x="199" y="1443" width="64" height="7" fill="#730000"/>
<rect x="199" y="1450" width="64" height="7" fill="#590000"/>
<rect x="199" y="1457" width="64" height="7" fill="#660000"/>
<rect x="199" y="1464" width="64" height="7" fill="#bf0000"/>
<rect x="199" y="1471" width="64" height="14" fill="#b20000"/>
<rect x="199" y="1485" width="64" height="7" fill="#a60000"/>
<rect x="199" y="1492" width="64" height="7" fill="#cc0000"/>
<rect x="199" y="1499" width="64" height="21" fill="#660000"/>
<rect x="199" y="1520" width="64" height="7" fill="#cc0000"/>
<rect x="199" y="1527" width="64" height="7" fill="#990000"/>
<rect x="199" y="1534" width="64" height="7" fill="#730000"/>
<rect x="199" y="1541" width="64" height="13" fill="#590000"/>
<rect x="199" y="1554" width="64" height="7" fill="#730000"/>
<rect x="199" y="1561" width="64" height="7" fill="#660000"/>
<rect x="199" y="1568" width="64" height="7" fill="#990000"/>
<rect x="199" y="1575" width="64" height="7" fill="#730000"/>
<rect x="199" y="1582" width="64" height="7" fill="#d90000"/>
<rect x="199" y="1589" width="64" height="7" fill="#ff0000"/>
<rect x="199" y="1596" width="64" height="7" fill="#a60000"/>
<rect x="199" y="1603" width="64" height="7" fill="#b20000"/>
<rect x="199" y="1610" width="64" height="7" fill="#730000"/>
<rect x="199" y="1617" width="64" height="7" fill="#8c0000"/>
<rect x="199" y="1624" width="64" height="7" fill="#b20000"/>
<rect x="199" y="1631" width="64" height="7" fill="#a60000"/>
<rect x="199" y="1638" width="64" height="7" fill="#bf0000"/>
<rect x="199" y="1645" width="64" height="7" fill="#330000"/>
<rect x="199" y="1652" width="64" height="7" fill="#260000"/>
<rect x="199" y="1659" width="64" height="7" fill="#4c0000"/>
<rect x="199" y="1666" width="64" height="7" fill="#990000"/>
<rect x="199" y="1673" width="64" height="7" fill="#730000"/>
<rect x="199" y="1680" width="64" height="7" fill="#8c0000"/>
<rect x="199" y="1687" width="64" height="7" fill="#730000"/>
<rect x="199" y="1694" width="64" height="7" fill="#1a0000"/>
<rect x="199" y="1701" width="64" height="7" fill="#4c0000"/>
<rect x="199" y="1708" width="64" height="7" fill="#400000"/>
<rect x="199" y="1715" width="64" height="7" fill="#1a0000"/>
<rect x="199" y="1722" width="64" height="14" fill="#730000"/>
<rect x="199" y="1736" width="64" height="7" fill="#a60000"/>
<rect x="199" y="1743" width="64" height="14" fill="#330000"/>
<rect x="199" y="1757" width="64" height="7" fill="#260000"/>
<rect x="199" y="1764" width="64" height="7" fill="#660000"/>
<rect x="199" y="1771" width="64" height="7" fill="#400000"/>
<rect x="199" y="1778" width="64" height="7" fill="#730000"/>
<rect x="263" y="967" width="63" height="7" fill="#004000"/>
<rect x="263" y="974" width="63" height="7" fill="#00a600"/>
<rect x="263" y="981" width="63" height="7" fill="#005900"/>
<rect x="263" y="988" width="63" height="7" fill="#004c00"/>
<rect x="263" y="995" width="63" height="7" fill="#006600"/>
<rect x="263" y="1002" width="63" height="7" fill="#660000"/>
<rect x="263" y="1009" width="63" height="7" fill="#730000"/>
<rect x="263" y="1016" width="63" height="7" fill="#e60000"/>
<rect x="263" y="1023" width="63" height="7" fill="#330000"/>
<rect x="263" y="1030" width="63" height="14" fill="#660000"/>
<rect x="263" y="1044" width="63" height="7" fill="#002600"/>
<rect x="263" y="1051" width="63" height="7" fill="#001a00"/>
<rect x="263" y="1058" width="63" height="7" fill="#0d0000"/>
<rect x="263" y="1065" width="63" height="7" fill="#1a0000"/>
<rect x="263" y="1072" width="63" height="7" fill="#003300"/>
<rect x="263" y="1079" width="63" height="7" fill="#0d0000"/>
<rect x="263" y="1093" width="63" height="7" fill="#001a00"/>
<rect x="263" y="1121" width="63" height="7" fill="#1a0000"/>
<rect x="263" y="1128" width="63" height="7" fill="#330000"/>
<rect x="263" y="1135" width="63" height="7" fill="#0d0000"/>
<rect x="263" y="1142" width="63" height="7" fill="#002600"/>
<rect x="263" y="1149" width="63" height="7" fill="#260000"/>
<rect x="263" y="1156" width="63" height="7" fill="#000d00"/>
<rect x="263" y="1163" width="63" height="7" fill="#660000"/>
<rect x="263" y="1170" width="63" height="7" fill="#002600"/>
<rect x="263" y="1177" width="63" height="7" fill="#260000"/>
<rect x="263" y="1184" width="63" height="14" fill="#0d0000"/>
<rect x="263" y="1198" width="63" height="7" fill="#005900"/>
<rect x="263" y="1212" width="63" height="14" fill="#730000"/>
<rect x="263" y="1226" width="63" height="7" fill="#d90000"/>
<rect x="263" y="1233" width="63" height="7" fill="#660000"/>
<rect x="263" y="1240" width="63" height="7" fill="#4c0000"/>
<rect x="263" y="1247" width="63" height="7" fill="#590000"/>
<rect x="263" y="1254" width="63" height="7" fill="#800000"/>
<rect x="263" y="1261" width="63" height="7" fill="#590000"/>
<rect x="263" y="1268" width="63" height="7" fill="#800000"/>
<rect x="263" y="1275" width="63" height="7" fill="#990000"/>
<rect x="263" y="1282" width="63" height="7" fill="#8c0000"/>
<rect x="263" y="1289" width="63" height="7" fill="#400000"/>
<rect x="263" y="1296" width="63" height="7" fill="#590000"/>
<rect x="263" y="1303" width="63" height="7" fill="#001a00"/>
<rect x="263" y="1310" width="63" height="7" fill="#004000"/>
<rect x="263" y="1317" width="63" height="7" fill="#005900"/>
<rect x="263" y="1324" width="63" height="14" fill="#002600"/>
<rect x="263" y="1352" width="63" height="7" fill="#330000"/>
<rect x="263" y="1359" width="63" height="7" fill="#004c00"/>
<rect x="263" y="1380" width="63" height="7" fill="#0d0000"/>
<rect x="263" y="1387" width="63" height="7" fill="#260000"/>
<rect x="263" y="1394" width="63" height="7" fill="#1a0000"/>
<rect x="263" y="1422" width="63" height="7" fill="#001a00"/>
<rect x="263" y="1436" width="63" height="7" fill="#001a00"/>
<rect x="263" y="1443" width="63" height="7" fill="#004000"/>
<rect x="263" y="1450" width="63" height="7" fill="#000d00"/>
<rect x="263" y="1457" width="63" height="7" fill="#002600"/>
<rect x="263" y="1464" width="63" height="21" fill="#003300"/>
<rect x="263" y="1485" width="63" height="7" fill="#002600"/>
<rect x="263" y="1492" width="63" height="7" fill="#001a00"/>
<rect x="263" y="1499" width="63" height="7" fill="#330000"/>
<rect x="263" y="1506" width="63" height="7" fill="#400000"/>
<rect x="263" y="1513" width="63" height="7" fill="#990000"/>
<rect x="263" y="1520" width="63" height="7" fill="#400000"/>
<rect x="263" y="1527" width="63" height="14" fill="#330000"/>
<rect x="263" y="1541" width="63" height="7" fill="#4c0000"/>
<rect x="263" y="1554" width="63" height="7" fill="#400000"/>
<rect x="263" y="1561" width="63" height="7" fill="#8c0000"/>
<rect x="263" y="1568" width="63" height="7" fill="#1a0000"/>
<rect x="263" y="1575" width="63" height="7" fill="#001a00"/>
<rect x="263" y="1582" width="63" height="7" fill="#003300"/>
<rect x="263" y="1589" width="63" height="7" fill="#006600"/>
<rect x="263" y="1596" width="63" height="7" fill="#4c0000"/>
<rect x="263" y="1610" width="63" height="7" fill="#003300"/>
<rect x="263" y="1617" width="63" height="7" fill="#000d00"/>
<rect x="263" y="1624" width="63" height="7" fill="#004c00"/>
<rect x="263" y="1631" width="63" height="7" fill="#007300"/>
<rect x="263" y="1638" width="63" height="7" fill="#006600"/>
<rect x="263" y="1645" width="63" height="14" fill="#330000"/>
<rect x="263" y="1659" width="63" height="7" fill="#002600"/>
<rect x="263" y="1666" width="63" height="14" fill="#001a00"/>
<rect x="263" y="1680" width="63" height="14" fill="#1a0000"/>
<rect x="263" y="1701" width="63" height="7" fill="#260000"/>
<rect x="263" y="1708" width="63" height="14" fill="#002600"/>
<rect x="263" y="1722" width="63" height="7" fill="#001a00"/>
<rect x="263" y="1729" width="63" height="7" fill="#260000"/>
<rect x="263" y="1736" width="63" height="7" fill="#001a00"/>
<rect x="263" y="1743" width="63" height="7" fill="#800000"/>
<rect x="263" y="1750" width="63" height="7" fill="#990000"/>
<rect x="263" y="1757" width="63" height="7" fill="#330000"/>
<rect x="263" y="1764" width="63" height="7" fill="#000d00"/>
<rect x="263" y="1771" width="63" height="7" fill="#0d0000"/>
<rect x="263" y="1778" width="63" height="7" fill="#1a0000"/>
<rect x="326" y="974" width="64" height="7" fill="#004000"/>
<rect x="326" y="981" width="64" height="7" fill="#006600"/>
<rect x="326" y="988" width="64" height="7" fill="#004c00"/>
<rect x="326" y="995" width="64" height="7" fill="#006600"/>
<rect x="326" y="1002" width="64" height="7" fill="#660000"/>
<rect x="326" y="1009" width="64" height="14" fill="#800000"/>
<rect x="326" y="1023" width="64" height="7" fill="#ff0000"/>
<rect x="326" y="1030" width="64" height="14" fill="#cc0000"/>
<rect x="326" y="1044" width="64" height="7" fill="#800000"/>
<rect x="326" y="1051" width="64" height="7" fill="#660000"/>
<rect x="326" y="1058" width="64" height="7" fill="#730000"/>
<rect x="326" y="1065" width="64" height="14" fill="#660000"/>
<rect x="326" y="1079" width="64" height="7" fill="#330000"/>
<rect x="326" y="1086" width="64" height="7" fill="#a60000"/>
<rect x="326" y="1093" width="64" height="14" fill="#bf0000"/>
<rect x="326" y="1107" width="64" height="7" fill="#800000"/>
<rect x="326" y="1114" width="64" height="7" fill="#a60000"/>
<rect x="326" y="1121" width="64" height="7" fill="#8c0000"/>
<rect x="326" y="1128" width="64" height="7" fill="#660000"/>
<rect x="326" y="1135" width="64" height="7" fill="#a60000"/>
<rect x="326" y="1142" width="64" height="7" fill="#b20000"/>
<rect x="326" y="1149" width="64" height="7" fill="#330000"/>
<rect x="326" y="1156" width="64" height="7" fill="#800000"/>
<rect x="326" y="1163" width="64" height="7" fill="#590000"/>
<rect x="326" y="1170" width="64" height="7" fill="#990000"/>
<rect x="326" y="1177" width="64" height="21" fill="#bf0000"/>
<rect x="326" y="1198" width="64" height="7" fill="#d90000"/>
<rect x="326" y="1205" width="64" height="7" fill="#f20000"/>
<rect x="326" y="1212" width="64" height="14" fill="#004000"/>
<rect x="326" y="1226" width="64" height="7" fill="#004c00"/>
<rect x="326" y="1233" width="64" height="7" fill="#1a0000"/>
<rect x="326" y="1240" width="64" height="14" fill="#660000"/>
<rect x="326" y="1254" width="64" height="7" fill="#003300"/>
<rect x="326" y="1261" width="64" height="7" fill="#590000"/>
<rect x="326" y="1268" width="64" height="7" fill="#660000"/>
<rect x="326" y="1275" width="64" height="7" fill="#003300"/>
<rect x="326" y="1282" width="64" height="7" fill="#001a00"/>
<rect x="326" y="1289" width="64" height="7" fill="#004000"/>
<rect x="326" y="1296" width="64" height="7" fill="#003300"/>
<rect x="326" y="1303" width="64" height="7" fill="#002600"/>
<rect x="326" y="1310" width="64" height="7" fill="#004000"/>
<rect x="326" y="1317" width="64" height="14" fill="#400000"/>
<rect x="326" y="1331" width="64" height="7" fill="#330000"/>
<rect x="326" y="1338" width="64" height="14" fill="#001a00"/>
<rect x="326" y="1352" width="64" height="7" fill="#1a0000"/>
<rect x="326" y="1359" width="64" height="14" fill="#260000"/>
<rect x="326" y="1373" width="64" height="7" fill="#4c0000"/>
<rect x="326" y="1380" width="64" height="7" fill="#590000"/>
<rect x="326" y="1387" width="64" height="7" fill="#990000"/>
<rect x="326" y="1394" width="64" height="7" fill="#1a0000"/>
<rect x="326" y="1401" width="64" height="7" fill="#660000"/>
<rect x="326" y="1408" width="64" height="7" fill="#1a0000"/>
<rect x="326" y="1415" width="64" height="14" fill="#260000"/>
<rect x="326" y="1436" width="64" height="7" fill="#0d0000"/>
<rect x="326" y="1443" width="64" height="7" fill="#800000"/>
<rect x="326" y="1450" width="64" height="14" fill="#660000"/>
<rect x="326" y="1464" width="64" height="7" fill="#330000"/>
<rect x="326" y="1471" width="64" height="7" fill="#400000"/>
<rect x="326" y="1478" width="64" height="7" fill="#330000"/>
<rect x="326" y="1492" width="64" height="7" fill="#590000"/>
<rect x="326" y="1506" width="64" height="14" fill="#260000"/>
<rect x="326" y="1520" width="64" height="7" fill="#1a0000"/>
<rect x="326" y="1527" width="64" height="7" fill="#4c0000"/>
<rect x="326" y="1534" width="64" height="7" fill="#0d0000"/>
<rect x="326" y="1541" width="64" height="13" fill="#660000"/>
<rect x="326" y="1554" width="64" height="7" fill="#4c0000"/>
<rect x="326" y="1561" width="64" height="7" fill="#260000"/>
<rect x="326" y="1568" width="64" height="7" fill="#400000"/>
<rect x="326" y="1575" width="64" height="7" fill="#8c0000"/>
<rect x="326" y="1582" width="64" height="14" fill="#330000"/>
<rect x="326" y="1596" width="64" height="14" fill="#005900"/>
<rect x="326" y="1610" width="64" height="7" fill="#1a0000"/>
<rect x="326" y="1617" width="64" height="7" fill="#260000"/>
<rect x="326" y="1624" width="64" height="7" fill="#4c0000"/>
<rect x="326" y="1631" width="64" height="7" fill="#590000"/>
<rect x="326" y="1638" width="64" height="21" fill="#660000"/>
<rect x="326" y="1659" width="64" height="7" fill="#002600"/>
<rect x="326" y="1666" width="64" height="7" fill="#001a00"/>
<rect x="326" y="1673" width="64" height="7" fill="#0d0000"/>
<rect x="326" y="1680" width="64" height="7" fill="#000d00"/>
<rect x="326" y="1687" width="64" height="7" fill="#1a0000"/>
<rect x="326" y="1694" width="64" height="7" fill="#002600"/>
<rect x="326" y="1708" width="64" height="7" fill="#003300"/>
<rect x="326" y="1715" width="64" height="7" fill="#1a0000"/>
<rect x="326" y="1722" width="64" height="7" fill="#260000"/>
<rect x="326" y="1729" width="64" height="7" fill="#400000"/>
<rect x="326" y="1736" width="64" height="21" fill="#330000"/>
<rect x="326" y="1757" width="64" height="7" fill="#8c0000"/>
<rect x="326" y="1764" width="64" height="7" fill="#400000"/>
<rect x="326" y="1771" width="64" height="7" fill="#660000"/>
<rect x="326" y="1778" width="64" height="7" fill="#800000"/>
<rect x="390" y="967" width="64" height="7" fill="#003300"/>
<rect x="390" y="974" width="64" height="14" fill="#800000"/>
<rect x="390" y="988" width="64" height="7" fill="#e60000"/>
<rect x="390" y="995" width="64" height="7" fill="#cc0000"/>
<rect x="390" y="1002" width="64" height="7" fill="#008000"/>
<rect x="390" y="1009" width="64" height="7" fill="#1a0000"/>
<rect x="390" y="1016" width="64" height="7" fill="#004c00"/>
<rect x="390" y="1023" width="64" height="7" fill="#001a00"/>
<rect x="390" y="1030" width="64" height="7" fill="#008000"/>
<rect x="390" y="1037" width="64" height="7" fill="#006600"/>
<rect x="390" y="1044" width="64" height="7" fill="#400000"/>
<rect x="390" y="1051" width="64" height="7" fill="#330000"/>
<rect x="390" y="1058" width="64" height="7" fill="#990000"/>
<rect x="390" y="1065" width="64" height="7" fill="#330000"/>
<rect x="390" y="1072" width="64" height="7" fill="#4c0000"/>
<rect x="390" y="1079" width="64" height="7" fill="#590000"/>
<rect x="390" y="1086" width="64" height="7" fill="#1a0000"/>
<rect x="390" y="1093" width="64" height="7" fill="#330000"/>
<rect x="390" y="1100" width="64" height="7" fill="#001a00"/>
<rect x="390" y="1107" width="64" height="7" fill="#400000"/>
<rect x="390" y="1114" width="64" height="7" fill="#004c00"/>
<rect x="390" y="1121" width="64" height="7" fill="#005900"/>
<rect x="390" y="1128" width="64" height="7" fill="#002600"/>
<rect x="390" y="1135" width="64" height="7" fill="#005900"/>
<rect x="390" y="1142" width="64" height="7" fill="#004c00"/>
<rect x="390" y="1149" width="64" height="7" fill="#003300"/>
<rect x="390" y="1156" width="64" height="7" fill="#1a0000"/>
<rect x="390" y="1163" width="64" height="7" fill="#004000"/>
<rect x="390" y="1170" width="64" height="7" fill="#003300"/>
<rect x="390" y="1177" width="64" height="7" fill="#002600"/>
<rect x="390" y="1184" width="64" height="7" fill="#004000"/>
<rect x="390" y="1191" width="64" height="7" fill="#002600"/>
<rect x="390" y="1198" width="64" height="7" fill="#004000"/>
<rect x="390" y="1205" width="64" height="7" fill="#005900"/>
<rect x="390" y="1212" width="64" height="7" fill="#001a00"/>
<rect x="390" y="1226" width="64" height="7" fill="#005900"/>
<rect x="390" y="1233" width="64" height="7" fill="#004c00"/>
<rect x="390" y="1240" width="64" height="14" fill="#006600"/>
<rect x="390" y="1254" width="64" height="7" fill="#008000"/>
<rect x="390" y="1261" width="64" height="7" fill="#005900"/>
<rect x="390" y="1268" width="64" height="7" fill="#004c00"/>
<rect x="390" y="1275" width="64" height="7" fill="#008000"/>
<rect x="390" y="1282" width="64" height="14" fill="#004c00"/>
<rect x="390" y="1296" width="64" height="7" fill="#002600"/>
<rect x="390" y="1303" width="64" height="7" fill="#1a0000"/>
<rect x="390" y="1310" width="64" height="7" fill="#000d00"/>
<rect x="390" y="1324" width="64" height="14" fill="#000d00"/>
<rect x="390" y="1338" width="64" height="7" fill="#400000"/>
<rect x="390" y="1345" width="64" height="7" fill="#330000"/>
<rect x="390" y="1352" width="64" height="7" fill="#001a00"/>
<rect x="390" y="1359" width="64" height="7" fill="#0d0000"/>
<rect x="390" y="1366" width="64" height="7" fill="#00a600"/>
<rect x="390" y="1373" width="64" height="7" fill="#009900"/>
<rect x="390" y="1380" width="64" height="7" fill="#005900"/>
<rect x="390" y="1387" width="64" height="7" fill="#006600"/>
<rect x="390" y="1394" width="64" height="7" fill="#330000"/>
<rect x="390" y="1415" width="64" height="7" fill="#001a00"/>
<rect x="390" y="1422" width="64" height="7" fill="#260000"/>
<rect x="390" y="1429" width="64" height="7" fill="#1a0000"/>
<rect x="390" y="1436" width="64" height="28" fill="#330000"/>
<rect x="390" y="1464" width="64" height="7" fill="#660000"/>
<rect x="390" y="1471" width="64" height="7" fill="#260000"/>
<rect x="390" y="1478" width="64" height="7" fill="#330000"/>
<rect x="390" y="1485" width="64" height="7" fill="#1a0000"/>
<rect x="390" y="1492" width="64" height="7" fill="#003300"/>
<rect x="390" y="1520" width="64" height="7" fill="#590000"/>
<rect x="390" y="1527" width="64" height="7" fill="#0d0000"/>
<rect x="390" y="1534" width="64" height="7" fill="#260000"/>
<rect x="390" y="1541" width="64" height="7" fill="#0d0000"/>
<rect x="390" y="1548" width="64" height="6" fill="#260000"/>
<rect x="390" y="1554" width="64" height="7" fill="#400000"/>
<rect x="390" y="1561" width="64" height="7" fill="#1a0000"/>
<rect x="390" y="1568" width="64" height="7" fill="#00a600"/>
<rect x="390" y="1575" width="64" height="7" fill="#009900"/>
<rect x="390" y="1582" width="64" height="7" fill="#008000"/>
<rect x="390" y="1589" width="64" height="7" fill="#004000"/>
<rect x="390" y="1596" width="64" height="7" fill="#003300"/>
<rect x="390" y="1603" width="64" height="14" fill="#005900"/>
<rect x="390" y="1617" width="64" height="14" fill="#006600"/>
<rect x="390" y="1631" width="64" height="7" fill="#004c00"/>
<rect x="390" y="1638" width="64" height="7" fill="#005900"/>
<rect x="390" y="1645" width="64" height="7" fill="#007300"/>
<rect x="390" y="1652" width="64" height="14" fill="#002600"/>
<rect x="390" y="1666" width="64" height="7" fill="#003300"/>
<rect x="390" y="1673" width="64" height="7" fill="#001a00"/>
<rect x="390" y="1680" width="64" height="7" fill="#003300"/>
<rect x="390" y="1687" width="64" height="7" fill="#004c00"/>
<rect x="390" y="1694" width="64" height="7" fill="#003300"/>
<rect x="390" y="1701" width="64" height="7" fill="#001a00"/>
<rect x="390" y="1708" width="64" height="7" fill="#008000"/>
<rect x="390" y="1715" width="64" height="7" fill="#005900"/>
<rect x="390" y="1722" width="64" height="7" fill="#004c00"/>
<rect x="390" y="1729" width="64" height="7" fill="#260000"/>
<rect x="390" y="1736" width="64" height="7" fill="#001a00"/>
<rect x="390" y="1743" width="64" height="7" fill="#005900"/>
<rect x="390" y="1750" width="64" height="7" fill="#004c00"/>
<rect x="390" y="1757" width="64" height="7" fill="#0d0000"/>
<rect x="390" y="1764" width="64" height="7" fill="#004000"/>
<rect x="390" y="1771" width="64" height="7" fill="#004c00"/>
<rect x="390" y="1778" width="64" height="7" fill="#006600"/>
<rect x="454" y="967" width="63" height="7" fill="#590000"/>
<rect x="454" y="974" width="63" height="7" fill="#bf0000"/>
<rect x="454" y="981" width="63" height="7" fill="#8c0000"/>
<rect x="454" y="988" width="63" height="7" fill="#800000"/>
<rect x="454" y="995" width="63" height="7" fill="#730000"/>
<rect x="454" y="1002" width="63" height="14" fill="#008000"/>
<rect x="454" y="1016" width="63" height="7" fill="#004c00"/>
<rect x="454" y="1023" width="63" height="7" fill="#007300"/>
<rect x="454" y="1030" width="63" height="7" fill="#008000"/>
<rect x="454" y="1037" width="63" height="7" fill="#006600"/>
<rect x="454" y="1044" width="63" height="7" fill="#009900"/>
<rect x="454" y="1051" width="63" height="7" fill="#007300"/>
<rect x="454" y="1058" width="63" height="7" fill="#005900"/>
<rect x="454" y="1065" width="63" height="7" fill="#003300"/>
<rect x="454" y="1072" width="63" height="7" fill="#004c00"/>
<rect x="454" y="1079" width="63" height="7" fill="#005900"/>
<rect x="454" y="1086" width="63" height="7" fill="#004000"/>
<rect x="454" y="1093" width="63" height="7" fill="#002600"/>
<rect x="454" y="1100" width="63" height="7" fill="#006600"/>
<rect x="454" y="1107" width="63" height="7" fill="#005900"/>
<rect x="454" y="1114" width="63" height="7" fill="#006600"/>
<rect x="454" y="1121" width="63" height="7" fill="#004000"/>
<rect x="454" y="1128" width="63" height="7" fill="#005900"/>
<rect x="454" y="1135" width="63" height="7" fill="#004000"/>
<rect x="454" y="1142" width="63" height="7" fill="#001a00"/>
<rect x="454" y="1149" width="63" height="7" fill="#008c00"/>
<rect x="454" y="1156" width="63" height="7" fill="#006600"/>
<rect x="454" y="1163" width="63" height="7" fill="#008000"/>
<rect x="454" y="1170" width="63" height="14" fill="#003300"/>
<rect x="454" y="1184" width="63" height="7" fill="#1a0000"/>
<rect x="454" y="1191" width="63" height="7" fill="#001a00"/>
<rect x="454" y="1198" width="63" height="7" fill="#003300"/>
<rect x="454" y="1205" width="63" height="7" fill="#005900"/>
<rect x="454" y="1212" width="63" height="14" fill="#007300"/>
<rect x="454" y="1226" width="63" height="7" fill="#006600"/>
<rect x="454" y="1233" width="63" height="7" fill="#008000"/>
<rect x="454" y="1240" width="63" height="7" fill="#006600"/>
<rect x="454" y="1247" width="63" height="7" fill="#0d0000"/>
<rect x="454" y="1254" width="63" height="7" fill="#001a00"/>
<rect x="454" y="1268" width="63" height="7" fill="#002600"/>
<rect x="454" y="1275" width="63" height="7" fill="#006600"/>
<rect x="454" y="1289" width="63" height="14" fill="#0d0000"/>
<rect x="454" y="1303" width="63" height="14" fill="#1a0000"/>
<rect x="454" y="1317" width="63" height="7" fill="#000d00"/>
<rect x="454" y="1324" width="63" height="7" fill="#0d0000"/>
<rect x="454" y="1338" width="63" height="14" fill="#001a00"/>
<rect x="454" y="1352" width="63" height="7" fill="#0d0000"/>
<rect x="454" y="1373" width="63" height="7" fill="#660000"/>
<rect x="454" y="1380" width="63" height="14" fill="#260000"/>
<rect x="454" y="1394" width="63" height="7" fill="#003300"/>
<rect x="454" y="1401" width="63" height="7" fill="#008000"/>
<rect x="454" y="1408" width="63" height="28" fill="#004c00"/>
<rect x="454" y="1436" width="63" height="14" fill="#003300"/>
<rect x="454" y="1450" width="63" height="7" fill="#004000"/>
<rect x="454" y="1457" width="63" height="7" fill="#001a00"/>
<rect x="454" y="1464" width="63" height="7" fill="#006600"/>
<rect x="454" y="1471" width="63" height="7" fill="#004000"/>
<rect x="454" y="1478" width="63" height="7" fill="#002600"/>
<rect x="454" y="1485" width="63" height="14" fill="#006600"/>
<rect x="454" y="1499" width="63" height="7" fill="#007300"/>
<rect x="454" y="1506" width="63" height="7" fill="#005900"/>
<rect x="454" y="1513" width="63" height="7" fill="#006600"/>
<rect x="454" y="1520" width="63" height="7" fill="#001a00"/>
<rect x="454" y="1527" width="63" height="7" fill="#260000"/>
<rect x="454" y="1541" width="63" height="13" fill="#001a00"/>
<rect x="454" y="1554" width="63" height="7" fill="#002600"/>
<rect x="454" y="1561" width="63" height="7" fill="#005900"/>
<rect x="454" y="1568" width="63" height="7" fill="#009900"/>
<rect x="454" y="1575" width="63" height="7" fill="#008000"/>
<rect x="454" y="1582" width="63" height="7" fill="#005900"/>
<rect x="454" y="1589" width="63" height="7" fill="#007300"/>
<rect x="454" y="1603" width="63" height="14" fill="#005900"/>
<rect x="454" y="1617" width="63" height="7" fill="#006600"/>
<rect x="454" y="1624" width="63" height="7" fill="#001a00"/>
<rect x="454" y="1638" width="63" height="7" fill="#003300"/>
<rect x="454" y="1645" width="63" height="7" fill="#1a0000"/>
<rect x="454" y="1652" width="63" height="7" fill="#005900"/>
<rect x="454" y="1659" width="63" height="7" fill="#001a00"/>
<rect x="454" y="1666" width="63" height="7" fill="#1a0000"/>
<rect x="454" y="1673" width="63" height="7" fill="#330000"/>
<rect x="454" y="1680" width="63" height="7" fill="#001a00"/>
<rect x="454" y="1687" width="63" height="7" fill="#1a0000"/>
<rect x="454" y="1694" width="63" height="14" fill="#003300"/>
<rect x="454" y="1708" width="63" height="7" fill="#400000"/>
<rect x="454" y="1715" width="63" height="7" fill="#003300"/>
<rect x="454" y="1722" width="63" height="7" fill="#800000"/>
<rect x="454" y="1729" width="63" height="14" fill="#260000"/>
<rect x="454" y="1743" width="63" height="14" fill="#1a0000"/>
<rect x="454" y="1757" width="63" height="7" fill="#001a00"/>
<rect x="454" y="1778" width="63" height="7" fill="#004000"/>
<rect x="517" y="967" width="64" height="7" fill="#003300"/>
<rect x="517" y="974" width="64" height="7" fill="#590000"/>
<rect x="517" y="988" width="64" height="7" fill="#1a0000"/>
<rect x="517" y="995" width="64" height="14" fill="#400000"/>
<rect x="517" y="1009" width="64" height="7" fill="#590000"/>
<rect x="517" y="1016" width="64" height="7" fill="#004c00"/>
<rect x="517" y="1023" width="64" height="7" fill="#002600"/>
<rect x="517" y="1030" width="64" height="7" fill="#260000"/>
<rect x="517" y="1037" width="64" height="7" fill="#006600"/>
<rect x="517" y="1044" width="64" height="7" fill="#005900"/>
<rect x="517" y="1051" width="64" height="7" fill="#006600"/>
<rect x="517" y="1058" width="64" height="7" fill="#007300"/>
<rect x="517" y="1065" width="64" height="7" fill="#008000"/>
<rect x="517" y="1072" width="64" height="7" fill="#006600"/>
<rect x="517" y="1079" width="64" height="7" fill="#003300"/>
<rect x="517" y="1086" width="64" height="14" fill="#004c00"/>
<rect x="517" y="1100" width="64" height="7" fill="#007300"/>
<rect x="517" y="1107" width="64" height="7" fill="#005900"/>
<rect x="517" y="1114" width="64" height="7" fill="#000d00"/>
<rect x="517" y="1121" width="64" height="7" fill="#004000"/>
<rect x="517" y="1128" width="64" height="7" fill="#004c00"/>
<rect x="517" y="1135" width="64" height="14" fill="#000d00"/>
<rect x="517" y="1149" width="64" height="7" fill="#004c00"/>
<rect x="517" y="1156" width="64" height="7" fill="#009900"/>
<rect x="517" y="1163" width="64" height="7" fill="#006600"/>
<rect x="517" y="1170" width="64" height="7" fill="#003300"/>
<rect x="517" y="1177" width="64" height="14" fill="#006600"/>
<rect x="517" y="1191" width="64" height="7" fill="#003300"/>
<rect x="517" y="1198" width="64" height="7" fill="#006600"/>
<rect x="517" y="1205" width="64" height="7" fill="#005900"/>
<rect x="517" y="1212" width="64" height="7" fill="#003300"/>
<rect x="517" y="1219" width="64" height="7" fill="#004c00"/>
<rect x="517" y="1226" width="64" height="7" fill="#005900"/>
<rect x="517" y="1233" width="64" height="7" fill="#000d00"/>
<rect x="517" y="1240" width="64" height="7" fill="#007300"/>
<rect x="517" y="1247" width="64" height="7" fill="#00b200"/>
<rect x="517" y="1254" width="64" height="14" fill="#00a600"/>
<rect x="517" y="1268" width="64" height="7" fill="#00d900"/>
<rect x="517" y="1275" width="64" height="7" fill="#008000"/>
<rect x="517" y="1282" width="64" height="7" fill="#009900"/>
<rect x="517" y="1289" width="64" height="7" fill="#00b200"/>
<rect x="517" y="1296" width="64" height="7" fill="#00bf00"/>
<rect x="517" y="1303" width="64" height="14" fill="#006600"/>
<rect x="517" y="1317" width="64" height="14" fill="#008000"/>
<rect x="517" y="1331" width="64" height="7" fill="#004000"/>
<rect x="517" y="1338" width="64" height="7" fill="#004c00"/>
<rect x="517" y="1345" width="64" height="7" fill="#008c00"/>
<rect x="517" y="1352" width="64" height="7" fill="#005900"/>
<rect x="517" y="1359" width="64" height="7" fill="#004c00"/>
<rect x="517" y="1366" width="64" height="14" fill="#001a00"/>
<rect x="517" y="1387" width="64" height="7" fill="#005900"/>
<rect x="517" y="1394" width="64" height="7" fill="#004000"/>
<rect x="517" y="1401" width="64" height="7" fill="#000d00"/>
<rect x="517" y="1408" width="64" height="7" fill="#1a0000"/>
<rect x="517" y="1415" width="64" height="7" fill="#002600"/>
<rect x="517" y="1422" width="64" height="7" fill="#000d00"/>
<rect x="517" y="1429" width="64" height="14" fill="#003300"/>
<rect x="517" y="1443" width="64" height="7" fill="#001a00"/>
<rect x="517" y="1450" width="64" height="7" fill="#006600"/>
<rect x="517" y="1457" width="64" height="7" fill="#007300"/>
<rect x="517" y="1464" width="64" height="7" fill="#003300"/>
<rect x="517" y="1471" width="64" height="7" fill="#000d00"/>
<rect x="517" y="1478" width="64" height="7" fill="#004c00"/>
<rect x="517" y="1485" width="64" height="7" fill="#003300"/>
<rect x="517" y="1492" width="64" height="14" fill="#004000"/>
<rect x="517" y="1506" width="64" height="7" fill="#008c00"/>
<rect x="517" y="1513" width="64" height="7" fill="#006600"/>
<rect x="517" y="1520" width="64" height="7" fill="#005900"/>
<rect x="517" y="1527" width="64" height="7" fill="#003300"/>
<rect x="517" y="1534" width="64" height="7" fill="#005900"/>
<rect x="517" y="1541" width="64" height="7" fill="#000d00"/>
<rect x="517" y="1548" width="64" height="6" fill="#003300"/>
<rect x="517" y="1554" width="64" height="7" fill="#008000"/>
<rect x="517" y="1561" width="64" height="7" fill="#005900"/>
<rect x="517" y="1568" width="64" height="7" fill="#1a0000"/>
<rect x="517" y="1575" width="64" height="7" fill="#002600"/>
<rect x="517" y="1582" width="64" height="7" fill="#004000"/>
<rect x="517" y="1589" width="64" height="7" fill="#001a00"/>
<rect x="517" y="1596" width="64" height="7" fill="#006600"/>
<rect x="517" y="1603" width="64" height="7" fill="#005900"/>
<rect x="517" y="1610" width="64" height="7" fill="#006600"/>
<rect x="517" y="1617" width="64" height="7" fill="#008000"/>
<rect x="517" y="1624" width="64" height="7" fill="#005900"/>
<rect x="517" y="1631" width="64" height="7" fill="#009900"/>
<rect x="517" y="1638" width="64" height="14" fill="#008000"/>
<rect x="517" y="1652" width="64" height="14" fill="#004000"/>
<rect x="517" y="1666" width="64" height="7" fill="#004c00"/>
<rect x="517" y="1673" width="64" height="7" fill="#004000"/>
<rect x="517" y="1680" width="64" height="7" fill="#007300"/>
<rect x="517" y="1687" width="64" height="7" fill="#006600"/>
<rect x="517" y="1694" width="64" height="7" fill="#004000"/>
<rect x="517" y="1701" width="64" height="7" fill="#003300"/>
<rect x="517" y="1708" width="64" height="7" fill="#004c00"/>
<rect x="517" y="1715" width="64" height="7" fill="#004000"/>
<rect x="517" y="1722" width="64" height="7" fill="#005900"/>
<rect x="517" y="1729" width="64" height="14" fill="#006600"/>
<rect x="517" y="1743" width="64" height="7" fill="#008000"/>
<rect x="517" y="1750" width="64" height="14" fill="#00a600"/>
<rect x="517" y="1764" width="64" height="7" fill="#00b200"/>
<rect x="517" y="1771" width="64" height="7" fill="#006600"/>
<rect x="517" y="1778" width="64" height="7" fill="#008000"/>
<rect x="581" y="967" width="64" height="7" fill="#730000"/>
<rect x="581" y="974" width="64" height="7" fill="#003300"/>
<rect x="581" y="981" width="64" height="7" fill="#4c0000"/>
<rect x="581" y="988" width="64" height="7" fill="#002600"/>
<rect x="581" y="995" width="64" height="7" fill="#400000"/>
<rect x="581" y="1002" width="64" height="7" fill="#004c00"/>
<rect x="581" y="1009" width="64" height="7" fill="#008000"/>
<rect x="581" y="1016" width="64" height="7" fill="#004c00"/>
<rect x="581" y="1023" width="64" height="7" fill="#006600"/>
<rect x="581" y="1030" width="64" height="14" fill="#001a00"/>
<rect x="581" y="1044" width="64" height="7" fill="#003300"/>
<rect x="581" y="1051" width="64" height="35" fill="#008000"/>
<rect x="581" y="1086" width="64" height="7" fill="#005900"/>
<rect x="581" y="1093" width="64" height="7" fill="#008c00"/>
<rect x="581" y="1100" width="64" height="7" fill="#006600"/>
<rect x="581" y="1107" width="64" height="7" fill="#008000"/>
<rect x="581" y="1114" width="64" height="7" fill="#003300"/>
<rect x="581" y="1121" width="64" height="7" fill="#008000"/>
<rect x="581" y="1128" width="64" height="7" fill="#009900"/>
<rect x="581" y="1135" width="64" height="7" fill="#000d00"/>
<rect x="581" y="1142" width="64" height="7" fill="#006600"/>
<rect x="581" y="1156" width="64" height="7" fill="#002600"/>
<rect x="581" y="1163" width="64" height="7" fill="#004000"/>
<rect x="581" y="1170" width="64" height="7" fill="#007300"/>
<rect x="581" y="1177" width="64" height="14" fill="#008000"/>
<rect x="581" y="1191" width="64" height="7" fill="#009900"/>
<rect x="581" y="1198" width="64" height="7" fill="#008000"/>
<rect x="581" y="1205" width="64" height="7" fill="#005900"/>
<rect x="581" y="1212" width="64" height="14" fill="#007300"/>
<rect x="581" y="1226" width="64" height="7" fill="#004000"/>
<rect x="581" y="1233" width="64" height="7" fill="#008000"/>
<rect x="581" y="1240" width="64" height="14" fill="#590000"/>
<rect x="581" y="1254" width="64" height="7" fill="#400000"/>
<rect x="581" y="1261" width="64" height="7" fill="#001a00"/>
<rect x="581" y="1268" width="64" height="14" fill="#1a0000"/>
<rect x="581" y="1282" width="64" height="7" fill="#004c00"/>
<rect x="581" y="1289" width="64" height="7" fill="#002600"/>
<rect x="581" y="1296" width="64" height="7" fill="#004c00"/>
<rect x="581" y="1303" width="64" height="7" fill="#008c00"/>
<rect x="581" y="1310" width="64" height="14" fill="#007300"/>
<rect x="581" y="1324" width="64" height="7" fill="#004c00"/>
<rect x="581" y="1331" width="64" height="14" fill="#008000"/>
<rect x="581" y="1345" width="64" height="7" fill="#005900"/>
<rect x="581" y="1352" width="64" height="14" fill="#008000"/>
<rect x="581" y="1366" width="64" height="7" fill="#001a00"/>
<rect x="581" y="1373" width="64" height="7" fill="#008000"/>
<rect x="581" y="1380" width="64" height="7" fill="#008c00"/>
<rect x="581" y="1387" width="64" height="7" fill="#008000"/>
<rect x="581" y="1394" width="64" height="7" fill="#007300"/>
<rect x="581" y="1401" width="64" height="7" fill="#008000"/>
<rect x="581" y="1408" width="64" height="7" fill="#007300"/>
<rect x="581" y="1415" width="64" height="7" fill="#008000"/>
<rect x="581" y="1422" width="64" height="7" fill="#00b200"/>
<rect x="581" y="1429" width="64" height="7" fill="#008c00"/>
<rect x="581" y="1436" width="64" height="7" fill="#008000"/>
<rect x="581" y="1443" width="64" height="7" fill="#009900"/>
<rect x="581" y="1450" width="64" height="7" fill="#007300"/>
<rect x="581" y="1457" width="64" height="7" fill="#008c00"/>
<rect x="581" y="1464" width="64" height="14" fill="#006600"/>
<rect x="581" y="1478" width="64" height="7" fill="#008000"/>
<rect x="581" y="1485" width="64" height="14" fill="#005900"/>
<rect x="581" y="1499" width="64" height="7" fill="#003300"/>
<rect x="581" y="1506" width="64" height="7" fill="#004c00"/>
<rect x="581" y="1513" width="64" height="14" fill="#006600"/>
<rect x="581" y="1527" width="64" height="7" fill="#007300"/>
<rect x="581" y="1534" width="64" height="7" fill="#008000"/>
<rect x="581" y="1541" width="64" height="7" fill="#008c00"/>
<rect x="581" y="1548" width="64" height="6" fill="#008000"/>
<rect x="581" y="1554" width="64" height="7" fill="#007300"/>
<rect x="581" y="1561" width="64" height="7" fill="#008000"/>
<rect x="581" y="1568" width="64" height="7" fill="#1a0000"/>
<rect x="581" y="1575" width="64" height="7" fill="#000d00"/>
<rect x="581" y="1582" width="64" height="7" fill="#590000"/>
<rect x="581" y="1589" width="64" height="7" fill="#005900"/>
<rect x="581" y="1596" width="64" height="7" fill="#009900"/>
<rect x="581" y="1603" width="64" height="14" fill="#004c00"/>
<rect x="581" y="1617" width="64" height="7" fill="#003300"/>
<rect x="581" y="1624" width="64" height="7" fill="#008c00"/>
<rect x="581" y="1631" width="64" height="7" fill="#006600"/>
<rect x="581" y="1638" width="64" height="7" fill="#004c00"/>
<rect x="581" y="1645" width="64" height="7" fill="#003300"/>
<rect x="581" y="1652" width="64" height="7" fill="#004c00"/>
<rect x="581" y="1659" width="64" height="14" fill="#006600"/>
<rect x="581" y="1673" width="64" height="14" fill="#007300"/>
<rect x="581" y="1687" width="64" height="14" fill="#004000"/>
<rect x="581" y="1701" width="64" height="7" fill="#006600"/>
<rect x="581" y="1708" width="64" height="7" fill="#001a00"/>
<rect x="581" y="1715" width="64" height="7" fill="#1a0000"/>
<rect x="581" y="1722" width="64" height="14" fill="#007300"/>
<rect x="581" y="1736" width="64" height="7" fill="#005900"/>
<rect x="581" y="1743" width="64" height="7" fill="#007300"/>
<rect x="581" y="1750" width="64" height="7" fill="#005900"/>
<rect x="581" y="1757" width="64" height="14" fill="#008000"/>
<rect x="581" y="1771" width="64" height="7" fill="#009900"/>
<rect x="581" y="1778" width="64" height="7" fill="#008000"/>
<rect x="645" y="967" width="63" height="7" fill="#d90000"/>
<rect x="645" y="981" width="63" height="7" fill="#730000"/>
<rect x="645" y="995" width="63" height="7" fill="#001a00"/>
<rect x="645" y="1002" width="63" height="7" fill="#005900"/>
<rect x="645" y="1009" width="63" height="7" fill="#008c00"/>
<rect x="645" y="1016" width="63" height="14" fill="#004c00"/>
<rect x="645" y="1030" width="63" height="7" fill="#007300"/>
<rect x="645" y="1037" width="63" height="7" fill="#006600"/>
<rect x="645" y="1044" width="63" height="7" fill="#008000"/>
<rect x="645" y="1051" width="63" height="7" fill="#007300"/>
<rect x="645" y="1058" width="63" height="7" fill="#008c00"/>
<rect x="645" y="1065" width="63" height="14" fill="#009900"/>
<rect x="645" y="1079" width="63" height="7" fill="#00b200"/>
<rect x="645" y="1086" width="63" height="7" fill="#00cc00"/>
<rect x="645" y="1093" width="63" height="7" fill="#009900"/>
<rect x="645" y="1100" width="63" height="14" fill="#008000"/>
<rect x="645" y="1114" width="63" height="7" fill="#00a600"/>
<rect x="645" y="1121" width="63" height="14" fill="#008000"/>
<rect x="645" y="1135" width="63" height="7" fill="#009900"/>
<rect x="645" y="1142" width="63" height="7" fill="#006600"/>
<rect x="645" y="1149" width="63" height="21" fill="#008c00"/>
<rect x="645" y="1170" width="63" height="7" fill="#00a600"/>
<rect x="645" y="1177" width="63" height="14" fill="#009900"/>
<rect x="645" y="1191" width="63" height="7" fill="#008c00"/>
<rect x="645" y="1198" width="63" height="14" fill="#004c00"/>
<rect x="645" y="1212" width="63" height="7" fill="#003300"/>
<rect x="645" y="1219" width="63" height="7" fill="#001a00"/>
<rect x="645" y="1226" width="63" height="7" fill="#004c00"/>
<rect x="645" y="1233" width="63" height="7" fill="#004000"/>
<rect x="645" y="1240" width="63" height="14" fill="#008000"/>
<rect x="645" y="1254" width="63" height="7" fill="#004000"/>
<rect x="645" y="1261" width="63" height="7" fill="#008000"/>
<rect x="645" y="1268" width="63" height="7" fill="#006600"/>
<rect x="645" y="1275" width="63" height="7" fill="#000d00"/>
<rect x="645" y="1282" width="63" height="21" fill="#005900"/>
<rect x="645" y="1303" width="63" height="14" fill="#006600"/>
<rect x="645" y="1317" width="63" height="7" fill="#008000"/>
<rect x="645" y="1324" width="63" height="14" fill="#00b200"/>
<rect x="645" y="1338" width="63" height="7" fill="#009900"/>
<rect x="645" y="1345" width="63" height="7" fill="#006600"/>
<rect x="645" y="1352" width="63" height="21" fill="#009900"/>
<rect x="645" y="1373" width="63" height="7" fill="#008000"/>
<rect x="645" y="1380" width="63" height="7" fill="#00a600"/>
<rect x="645" y="1387" width="63" height="7" fill="#008c00"/>
<rect x="645" y="1394" width="63" height="7" fill="#006600"/>
<rect x="645" y="1401" width="63" height="7" fill="#005900"/>
<rect x="645" y="1408" width="63" height="7" fill="#00b200"/>
<rect x="645" y="1415" width="63" height="7" fill="#00a600"/>
<rect x="645" y="1422" width="63" height="14" fill="#008c00"/>
<rect x="645" y="1436" width="63" height="21" fill="#009900"/>
<rect x="645" y="1457" width="63" height="7" fill="#008c00"/>
<rect x="645" y="1464" width="63" height="7" fill="#009900"/>
<rect x="645" y="1471" width="63" height="7" fill="#00bf00"/>
<rect x="645" y="1478" width="63" height="21" fill="#008c00"/>
<rect x="645" y="1499" width="63" height="7" fill="#00b200"/>
<rect x="645" y="1506" width="63" height="14" fill="#009900"/>
<rect x="645" y="1520" width="63" height="7" fill="#00b200"/>
<rect x="645" y="1527" width="63" height="7" fill="#00e600"/>
<rect x="645" y="1534" width="63" height="7" fill="#00bf00"/>
<rect x="645" y="1541" width="63" height="13" fill="#00d900"/>
<rect x="645" y="1554" width="63" height="14" fill="#00a600"/>
<rect x="645" y="1568" width="63" height="7" fill="#004c00"/>
<rect x="645" y="1575" width="63" height="7" fill="#003300"/>
<rect x="645" y="1582" width="63" height="7" fill="#008000"/>
<rect x="645" y="1589" width="63" height="14" fill="#003300"/>
<rect x="645" y="1603" width="63" height="7" fill="#000d00"/>
<rect x="645" y="1610" width="63" height="14" fill="#004000"/>
<rect x="645" y="1624" width="63" height="21" fill="#003300"/>
<rect x="645" y="1645" width="63" height="7" fill="#00b200"/>
<rect x="645" y="1652" width="63" height="7" fill="#00cc00"/>
<rect x="645" y="1659" width="63" height="7" fill="#008c00"/>
<rect x="645" y="1666" width="63" height="7" fill="#009900"/>
<rect x="645" y="1673" width="63" height="7" fill="#00cc00"/>
<rect x="645" y="1680" width="63" height="7" fill="#008c00"/>
<rect x="645" y="1687" width="63" height="7" fill="#00a600"/>
<rect x="645" y="1694" width="63" height="7" fill="#007300"/>
<rect x="645" y="1701" width="63" height="7" fill="#009900"/>
<rect x="645" y="1708" width="63" height="7" fill="#008c00"/>
<rect x="645" y="1715" width="63" height="14" fill="#009900"/>
<rect x="645" y="1729" width="63" height="14" fill="#00cc00"/>
<rect x="645" y="1743" width="63" height="21" fill="#006600"/>
<rect x="645" y="1764" width="63" height="7" fill="#003300"/>
<rect x="645" y="1771" width="63" height="14" fill="#005900"/>
</g>
<linearGradient id="cbar" x1="0" y1="0" x2="0" y2="1"><stop offset="0" stop-color="#f00"/><stop offset="0.5" stop-color="#000"/><stop offset="1" stop-color="#0f0"/></linearGradient>
<rect x="713.9" y="967.3" width="11.6" height="162.2" fill="url(#cbar)"/>
<text x="712" y="962.5" font-size="10.6" fill="#000" font-weight="bold">Group</text>
<text x="730" y="988" font-size="10.3" fill="#000">2</text>
<text x="730" y="1020.3" font-size="10.3" fill="#000">1</text>
<text x="730" y="1052.6" font-size="10.3" fill="#000">0</text>
<text x="730" y="1084.9" font-size="10.3" fill="#000">-1</text>
<text x="730" y="1117.2" font-size="10.3" fill="#000">-2</text>
<text x="99.8" y="1789.6" font-size="10.4" fill="#000" transform="rotate(90 99.8 1789.6)">Be117</text>
<text x="163.5" y="1789.6" font-size="10.4" fill="#000" transform="rotate(90 163.5 1789.6)">Be104</text>
<text x="227.2" y="1789.6" font-size="10.4" fill="#000" transform="rotate(90 227.2 1789.6)">Be206</text>
<text x="290.8" y="1789.6" font-size="10.4" fill="#000" transform="rotate(90 290.8 1789.6)">Be103</text>
<text x="354.5" y="1789.6" font-size="10.4" fill="#000" transform="rotate(90 354.5 1789.6)">Be205</text>
<text x="418.2" y="1789.6" font-size="10.4" fill="#000" transform="rotate(90 418.2 1789.6)">Be109</text>
<text x="481.9" y="1789.6" font-size="10.4" fill="#000" transform="rotate(90 481.9 1789.6)">Be215</text>
<text x="545.5" y="1789.6" font-size="10.4" fill="#000" transform="rotate(90 545.5 1789.6)">Be302</text>
<text x="609.2" y="1789.6" font-size="10.4" fill="#000" transform="rotate(90 609.2 1789.6)">Be202</text>
<text x="672.9" y="1789.6" font-size="10.4" fill="#000" transform="rotate(90 672.9 1789.6)">Be204</text>
<path d="M167.1 952.3V930.5H230.8V952.3" stroke="#222" stroke-width="1" fill="none"/>
<path d="M103.4 952.3V929.4H198.9V930.5" stroke="#222" stroke-width="1" fill="none"/>
<path d="M294.4 952.3V928.9H358.1V952.3" stroke="#222" stroke-width="1" fill="none"/>
<path d="M151.2 929.4V922.9H326.3V928.9" stroke="#222" stroke-width="1" fill="none"/>
<path d="M421.8 952.3V931.5H485.5V952.3" stroke="#222" stroke-width="1" fill="none"/>
<path d="M612.8 952.3V934.5H676.5V952.3" stroke="#222" stroke-width="1" fill="none"/>
<path d="M549.1 952.3V930.5H644.6V934.5" stroke="#222" stroke-width="1" fill="none"/>
<path d="M453.6 931.5V919.4H596.9V930.5" stroke="#222" stroke-width="1" fill="none"/>
<path d="M238.7 922.9V896.1H525.2V919.4" stroke="#222" stroke-width="1" fill="none"/>
<path d="M71.1 991.5H60.8V998.5H71.1M71.1 984.5H53.1V995H60.8M71.1 977.5H48.5V989.7H53.1M71.1 970.5H31.5V983.6H48.5M71.1 1005.5H50.8V1012.5H71.1M71.1 1033.4H56.9V1040.4H71.1M71.1 1026.4H53.1V1036.9H56.9M71.1 1019.5H45.4V1031.7H53.1M50.8 1009H42.3V1025.6H45.4M71.1 1075.4H63.1V1082.4H71.1M71.1 1068.4H61.2V1078.9H63.1M71.1 1061.4H56.9V1073.7H61.2M71.1 1054.4H55.4V1067.5H56.9M71.1 1047.4H53.9V1061H55.4M71.1 1089.4H62.3V1096.4H71.1M71.1 1103.4H60.8V1110.4H71.1M62.3 1092.9H57.7V1106.9H60.8M71.1 1124.4H62.3V1131.4H71.1M71.1 1117.4H54.6V1127.9H62.3M57.7 1099.9H51.5V1122.6H54.6M53.9 1054.2H44.6V1111.3H51.5M71.1 1138.4H55.4V1145.3H71.1M71.1 1159.3H55.7V1166.3H71.1M71.1 1152.3H54.2V1162.8H55.7M71.1 1173.3H61.5V1180.3H71.1M71.1 1187.3H61.2V1194.3H71.1M61.5 1176.8H57.7V1190.8H61.2M71.1 1201.3H58.2V1208.3H71.1M57.7 1183.8H52.3V1204.8H58.2M54.2 1157.6H44.9V1194.3H52.3M55.4 1141.9H41.8V1175.9H44.9M44.6 1082.7H36.9V1158.9H41.8M42.3 1017.3H32.3V1120.8H36.9M71.1 1215.3H65.4V1222.3H71.1M71.1 1229.3H53.1V1236.3H71.1M65.4 1218.8H49.2V1232.8H53.1M71.1 1264.2H61.5V1271.2H71.1M71.1 1257.3H54.6V1267.7H61.5M71.1 1250.3H51.5V1262.5H54.6M71.1 1243.3H50V1256.4H51.5M71.1 1292.2H63.1V1299.2H71.1M71.1 1285.2H56.9V1295.7H63.1M71.1 1278.2H45.8V1290.5H56.9M50 1249.8H41.2V1284.4H45.8M49.2 1225.8H32.6V1267.1H41.2M71.1 1306.2H63.8V1313.2H71.1M71.1 1327.2H63.1V1334.2H71.1M71.1 1320.2H60.8V1330.7H63.1M63.8 1309.7H56.9V1325.4H60.8M71.1 1341.2H61.2V1348.2H71.1M71.1 1355.2H58.5V1362.2H71.1M61.2 1344.7H51.5V1358.7H58.5M56.9 1317.6H50V1351.7H51.5M71.1 1376.2H59.2V1383.1H71.1M71.1 1369.2H48.9V1379.6H59.2M50 1334.6H43.8V1374.4H48.9M71.1 1397.1H56.9V1404.1H71.1M71.1 1390.1H52.3V1400.6H56.9M71.1 1411.1H63.8V1418.1H71.1M71.1 1432.1H64.6V1439.1H71.1M71.1 1425.1H60V1435.6H64.6M63.8 1414.6H56.2V1430.4H60M71.1 1453.1H65.4V1460.1H71.1M71.1 1446.1H60.8V1456.6H65.4M71.1 1474.1H61.5V1481.1H71.1M71.1 1467.1H59.2V1477.6H61.5M71.1 1488.1H59.7V1495H71.1M59.2 1472.3H55.4V1491.6H59.7M60.8 1451.3H53.1V1481.9H55.4M56.2 1422.5H49.2V1466.6H53.1M71.1 1509H61.5V1516H71.1M71.1 1502H57.7V1512.5H61.5M71.1 1530H60.8V1537H71.1M71.1 1523H56.9V1533.5H60.8M71.1 1544H61.5V1551H71.1M71.1 1558H59.2V1565H71.1M61.5 1547.5H55.1V1561.5H59.2M56.9 1528.3H51.5V1554.5H55.1M57.7 1507.3H49.5V1541.4H51.5M49.2 1444.6H45.8V1524.3H49.5M52.3 1395.4H43.8V1484.4H45.8M43.8 1354.5H37.7V1439.9H43.8M71.1 1572H56.9V1579H71.1M71.1 1586H51.5V1593H71.1M56.9 1575.5H48V1589.5H51.5M71.1 1600H54.6V1607H71.1M71.1 1613.9H60.8V1620.9H71.1M71.1 1634.9H63.8V1641.9H71.1M71.1 1627.9H59.2V1638.4H63.8M60.8 1617.4H53.5V1633.2H59.2M54.6 1603.5H45.4V1625.3H53.5M71.1 1648.9H57.7V1655.9H71.1M71.1 1669.9H63.8V1676.9H71.1M71.1 1683.9H61.5V1690.9H71.1M63.8 1673.4H59.7V1687.4H61.5M71.1 1662.9H57.2V1680.4H59.7M57.7 1652.4H52.3V1671.6H57.2M71.1 1697.9H60.8V1704.9H71.1M71.1 1711.9H57.7V1718.9H71.1M60.8 1701.4H50.8V1715.4H57.7M52.3 1662H48.9V1708.4H50.8M71.1 1732.8H63.1V1739.8H71.1M71.1 1725.9H56.9V1736.3H63.1M71.1 1746.8H62.3V1753.8H71.1M71.1 1774.8H60.5V1781.8H71.1M71.1 1767.8H59V1778.3H60.5M71.1 1760.8H55.4V1773.1H59M62.3 1750.3H53.5V1766.9H55.4M56.9 1731.1H48.9V1758.6H53.5M48.9 1685.2H44.9V1744.9H48.9M45.4 1614.4H39.7V1715H44.9M48 1582.5H36.5V1664.7H39.7M37.7 1397.2H31.5V1623.6H36.5M32.6 1246.4H29.2V1510.4H31.5M32.3 1069H27.7V1378.4H29.2M31.5 977.1H11.5V1223.7H27.7" stroke="#222" stroke-width="1" fill="none"/>
<text transform="translate(926.4 928.6) scale(0.92 1)" font-size="31">d</text>
<text x="1209.6" y="965.8" font-size="26" fill="#000" text-anchor="middle" font-weight="bold">PCA</text>
<path d="M943.7 1667.5L1184.2 1472.6M905.3 1628.5H1337.9M1030.2 1667.5L1270.7 1472.6M953.4 1589.5H1386M1116.8 1667.5L1357.3 1472.6M1001.5 1550.6H1434.1M1203.3 1667.5L1443.8 1472.6M1049.6 1511.6H1482.2" stroke="#bebebe" stroke-width="1.2" fill="none"/>
<path d="M857.2 1229.6H1289.8V1667.5H857.2Z M1097.7 1034.6999999999998H1530.3V1472.6H1097.7Z M857.2 1229.6l240.5 -194.9 M1289.8 1229.6l240.5 -194.9 M857.2 1667.5l240.5 -194.9 M1289.8 1667.5l240.5 -194.9" stroke="#000" stroke-width="1.3" fill="none"/>
<line x1="1077.7" y1="1163.1" x2="1077.7" y2="1523.2" stroke="#0000ff" stroke-width="1.3"/>
<circle cx="1077.7" cy="1163.1" r="3.6" fill="#0000ff"/>
<text x="1077.7" y="1149.8" font-size="15.1" fill="#0000ff" text-anchor="middle">Be103</text>
<line x1="1114" y1="1363.2" x2="1114" y2="1503.6" stroke="#0000ff" stroke-width="1.3"/>
<circle cx="1114" cy="1363.2" r="3.6" fill="#0000ff"/>
<text x="1114" y="1349.9" font-size="15.1" fill="#0000ff" text-anchor="middle">Be206</text>
<line x1="1146.1" y1="1383.3" x2="1146.1" y2="1526.5" stroke="#0000ff" stroke-width="1.3"/>
<circle cx="1146.1" cy="1383.3" r="3.6" fill="#0000ff"/>
<text x="1146.1" y="1370" font-size="15.1" fill="#0000ff" text-anchor="middle">Be117</text>
<line x1="1176" y1="1401.8" x2="1176" y2="1557" stroke="#0000ff" stroke-width="1.3"/>
<circle cx="1176" cy="1401.8" r="3.6" fill="#0000ff"/>
<text x="1176" y="1388.5" font-size="15.1" fill="#0000ff" text-anchor="middle">Be104</text>
<line x1="1214.1" y1="1473.2" x2="1214.1" y2="1600" stroke="#00cd00" stroke-width="1.3"/>
<circle cx="1214.1" cy="1473.2" r="3.6" fill="#00cd00"/>
<text x="1214.1" y="1459.9" font-size="15.1" fill="#00cd00" text-anchor="middle">Be202</text>
<line x1="1220.1" y1="1533" x2="1220.1" y2="1579.8" stroke="#0000ff" stroke-width="1.3"/>
<circle cx="1220.1" cy="1533" r="3.6" fill="#0000ff"/>
<text x="1220.1" y="1519.7" font-size="15.1" fill="#0000ff" text-anchor="middle">Be205</text>
<line x1="1248.4" y1="1579.3" x2="1248.4" y2="1663.3" stroke="#00cd00" stroke-width="1.3"/>
<circle cx="1248.4" cy="1579.3" r="3.6" fill="#00cd00"/>
<text x="1248.4" y="1566" font-size="15.1" fill="#00cd00" text-anchor="middle">Be204</text>
<line x1="1249.5" y1="1586.9" x2="1249.5" y2="1645" stroke="#00cd00" stroke-width="1.3"/>
<circle cx="1249.5" cy="1586.9" r="3.6" fill="#00cd00"/>
<text x="1249.5" y="1573.6" font-size="15.1" fill="#00cd00" text-anchor="middle">Be215</text>
<line x1="1250.6" y1="1615.2" x2="1250.6" y2="1637" stroke="#00cd00" stroke-width="1.3"/>
<circle cx="1250.6" cy="1615.2" r="3.6" fill="#00cd00"/>
<text x="1250.6" y="1601.9" font-size="15.1" fill="#00cd00" text-anchor="middle">Be109</text>
<line x1="1263.1" y1="1644.1" x2="1263.1" y2="1655" stroke="#00cd00" stroke-width="1.3"/>
<circle cx="1263.1" cy="1644.1" r="3.6" fill="#00cd00"/>
<text x="1263.1" y="1630.8" font-size="15.1" fill="#00cd00" text-anchor="middle">Be302</text>
<line x1="857.2" y1="1667.5" x2="857.2" y2="1672.5" stroke="#000" stroke-width="1.3"/>
<text x="857.2" y="1700.3" font-size="17" fill="#000" text-anchor="middle">0.55</text>
<line x1="851.2" y1="1667.5" x2="857.2" y2="1667.5" stroke="#000" stroke-width="1.3"/>
<text x="836.5" y="1667.5" font-size="17" fill="#000" text-anchor="middle" transform="rotate(-90 836.5 1667.5)">0.36</text>
<line x1="1285.5" y1="1667.5" x2="1294.6" y2="1667.5" stroke="#000" stroke-width="1.3"/>
<text x="1316.3" y="1672.7" font-size="17" fill="#000">0.50</text>
<line x1="943.7" y1="1667.5" x2="943.7" y2="1672.5" stroke="#000" stroke-width="1.3"/>
<text x="943.7" y="1700.3" font-size="17" fill="#000" text-anchor="middle">0.60</text>
<line x1="851.2" y1="1579.9" x2="857.2" y2="1579.9" stroke="#000" stroke-width="1.3"/>
<text x="836.5" y="1579.9" font-size="17" fill="#000" text-anchor="middle" transform="rotate(-90 836.5 1579.9)">0.38</text>
<line x1="1333.6" y1="1628.5" x2="1342.7" y2="1628.5" stroke="#000" stroke-width="1.3"/>
<text x="1364.4" y="1633.7" font-size="17" fill="#000">0.55</text>
<line x1="1030.2" y1="1667.5" x2="1030.2" y2="1672.5" stroke="#000" stroke-width="1.3"/>
<text x="1030.2" y="1700.3" font-size="17" fill="#000" text-anchor="middle">0.65</text>
<line x1="851.2" y1="1492.3" x2="857.2" y2="1492.3" stroke="#000" stroke-width="1.3"/>
<text x="836.5" y="1492.3" font-size="17" fill="#000" text-anchor="middle" transform="rotate(-90 836.5 1492.3)">0.40</text>
<line x1="1381.7" y1="1589.5" x2="1390.8" y2="1589.5" stroke="#000" stroke-width="1.3"/>
<text x="1412.5" y="1594.7" font-size="17" fill="#000">0.60</text>
<line x1="1116.8" y1="1667.5" x2="1116.8" y2="1672.5" stroke="#000" stroke-width="1.3"/>
<text x="1116.8" y="1700.3" font-size="17" fill="#000" text-anchor="middle">0.70</text>
<line x1="851.2" y1="1404.8" x2="857.2" y2="1404.8" stroke="#000" stroke-width="1.3"/>
<text x="836.5" y="1404.8" font-size="17" fill="#000" text-anchor="middle" transform="rotate(-90 836.5 1404.8)">0.42</text>
<line x1="1429.8" y1="1550.6" x2="1438.9" y2="1550.6" stroke="#000" stroke-width="1.3"/>
<text x="1460.6" y="1555.8" font-size="17" fill="#000">0.65</text>
<line x1="1203.3" y1="1667.5" x2="1203.3" y2="1672.5" stroke="#000" stroke-width="1.3"/>
<text x="1203.3" y="1700.3" font-size="17" fill="#000" text-anchor="middle">0.75</text>
<line x1="851.2" y1="1317.2" x2="857.2" y2="1317.2" stroke="#000" stroke-width="1.3"/>
<text x="836.5" y="1317.2" font-size="17" fill="#000" text-anchor="middle" transform="rotate(-90 836.5 1317.2)">0.44</text>
<line x1="1477.9" y1="1511.6" x2="1487" y2="1511.6" stroke="#000" stroke-width="1.3"/>
<text x="1508.7" y="1516.8" font-size="17" fill="#000">0.70</text>
<line x1="1289.8" y1="1667.5" x2="1289.8" y2="1672.5" stroke="#000" stroke-width="1.3"/>
<text x="1289.8" y="1700.3" font-size="17" fill="#000" text-anchor="middle">0.80</text>
<line x1="851.2" y1="1229.6" x2="857.2" y2="1229.6" stroke="#000" stroke-width="1.3"/>
<text x="836.5" y="1229.6" font-size="17" fill="#000" text-anchor="middle" transform="rotate(-90 836.5 1229.6)">0.46</text>
<line x1="1526" y1="1472.6" x2="1535.1" y2="1472.6" stroke="#000" stroke-width="1.3"/>
<text x="1556.8" y="1477.8" font-size="17" fill="#000">0.75</text>
<text x="1073" y="1753.3" font-size="21.8" fill="#000" text-anchor="middle">pc1 (48.23%)</text>
<text x="785" y="1448.6" font-size="21.8" fill="#000" text-anchor="middle" transform="rotate(-90 785 1448.6)">pc3 (17.77%)</text>
<text x="1628" y="1473.4" font-size="21.8" fill="#000" text-anchor="middle" transform="rotate(-90 1628 1473.4)">pc2 (34%)</text>
<text x="1599.6" y="974.2" font-size="15.5" fill="#000">group</text>
<circle cx="1600.3" cy="992.6" r="3.1" fill="#0000ff"/>
<text x="1614.4" y="998" font-size="15.3" fill="#000">TYB</text>
<circle cx="1600.3" cy="1011" r="3.1" fill="#00cd00"/>
<text x="1614.4" y="1016.9" font-size="15.3" fill="#000">TB</text>
</svg>
</body></html>
